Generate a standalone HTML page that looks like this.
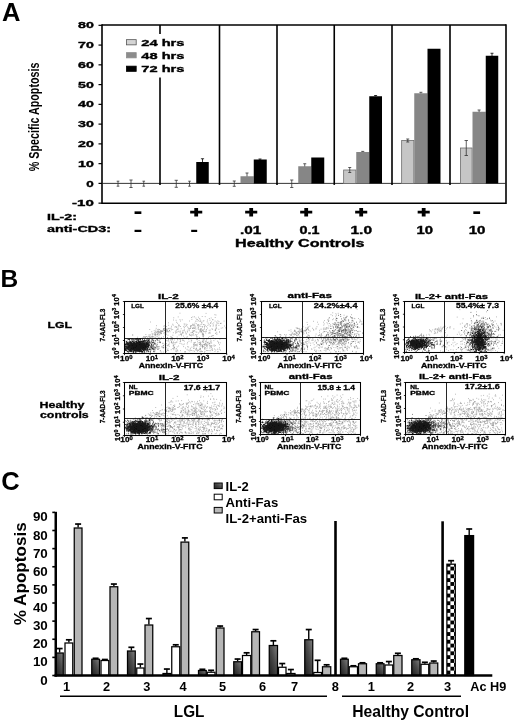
<!DOCTYPE html>
<html lang="en"><head><meta charset="utf-8"><title>Figure</title>
<style>html,body{margin:0;padding:0;background:#fff}svg{display:block}text{font-family:"Liberation Sans", sans-serif;}</style></head><body>
<svg width="520" height="722" viewBox="0 0 520 722">
<defs>
<linearGradient id="dk" x1="0" y1="1" x2="1" y2="0"><stop offset="0" stop-color="#1c1c1c"/><stop offset="0.55" stop-color="#4a4a4a"/><stop offset="1" stop-color="#808080"/></linearGradient>
<pattern id="chk" x="446.7" y="562.8" width="7.4" height="7.7" patternUnits="userSpaceOnUse"><rect x="0" y="0" width="7.4" height="7.7" fill="#fff"/><rect x="0" y="0" width="3.7" height="3.85" fill="#000"/><rect x="3.7" y="3.85" width="3.7" height="3.85" fill="#000"/></pattern>
<filter id="soft" x="-2%" y="-2%" width="104%" height="104%"><feGaussianBlur stdDeviation="0.45"/></filter>
<filter id="soft2" x="-2%" y="-2%" width="104%" height="104%"><feGaussianBlur stdDeviation="0.25"/></filter>
</defs>
<rect x="0" y="0" width="520" height="722" fill="#fff"/>
<g id="panelA" filter="url(#soft)">
<line x1="102.00" y1="24.25" x2="102.00" y2="203.95" stroke="#000" stroke-width="1.6" />
<line x1="102.00" y1="25.00" x2="506.00" y2="25.00" stroke="#000" stroke-width="1.4" />
<line x1="506.00" y1="24.30" x2="506.00" y2="203.95" stroke="#000" stroke-width="1.6" />
<line x1="102.00" y1="203.20" x2="506.00" y2="203.20" stroke="#000" stroke-width="1.6" />
<line x1="102.00" y1="183.40" x2="506.00" y2="183.40" stroke="#222" stroke-width="0.9" />
<line x1="98.50" y1="203.16" x2="102.00" y2="203.16" stroke="#000" stroke-width="1.2" />
<text x="72.00" y="206.26" font-size="9" font-weight="bold" fill="#000" textLength="21.80" lengthAdjust="spacingAndGlyphs" stroke="#000" stroke-width="0.35" >-10</text>
<line x1="98.50" y1="183.40" x2="102.00" y2="183.40" stroke="#000" stroke-width="1.2" />
<text x="86.30" y="186.50" font-size="9" font-weight="bold" fill="#000" textLength="7.50" lengthAdjust="spacingAndGlyphs" stroke="#000" stroke-width="0.35" >0</text>
<line x1="98.50" y1="163.64" x2="102.00" y2="163.64" stroke="#000" stroke-width="1.2" />
<text x="78.00" y="166.74" font-size="9" font-weight="bold" fill="#000" textLength="15.80" lengthAdjust="spacingAndGlyphs" stroke="#000" stroke-width="0.35" >10</text>
<line x1="98.50" y1="143.88" x2="102.00" y2="143.88" stroke="#000" stroke-width="1.2" />
<text x="78.00" y="146.98" font-size="9" font-weight="bold" fill="#000" textLength="15.80" lengthAdjust="spacingAndGlyphs" stroke="#000" stroke-width="0.35" >20</text>
<line x1="98.50" y1="124.12" x2="102.00" y2="124.12" stroke="#000" stroke-width="1.2" />
<text x="78.00" y="127.22" font-size="9" font-weight="bold" fill="#000" textLength="15.80" lengthAdjust="spacingAndGlyphs" stroke="#000" stroke-width="0.35" >30</text>
<line x1="98.50" y1="104.36" x2="102.00" y2="104.36" stroke="#000" stroke-width="1.2" />
<text x="78.00" y="107.46" font-size="9" font-weight="bold" fill="#000" textLength="15.80" lengthAdjust="spacingAndGlyphs" stroke="#000" stroke-width="0.35" >40</text>
<line x1="98.50" y1="84.60" x2="102.00" y2="84.60" stroke="#000" stroke-width="1.2" />
<text x="78.00" y="87.70" font-size="9" font-weight="bold" fill="#000" textLength="15.80" lengthAdjust="spacingAndGlyphs" stroke="#000" stroke-width="0.35" >50</text>
<line x1="98.50" y1="64.84" x2="102.00" y2="64.84" stroke="#000" stroke-width="1.2" />
<text x="78.00" y="67.94" font-size="9" font-weight="bold" fill="#000" textLength="15.80" lengthAdjust="spacingAndGlyphs" stroke="#000" stroke-width="0.35" >60</text>
<line x1="98.50" y1="45.08" x2="102.00" y2="45.08" stroke="#000" stroke-width="1.2" />
<text x="78.00" y="48.18" font-size="9" font-weight="bold" fill="#000" textLength="15.80" lengthAdjust="spacingAndGlyphs" stroke="#000" stroke-width="0.35" >70</text>
<line x1="98.50" y1="25.32" x2="102.00" y2="25.32" stroke="#000" stroke-width="1.2" />
<text x="78.00" y="28.42" font-size="9" font-weight="bold" fill="#000" textLength="15.80" lengthAdjust="spacingAndGlyphs" stroke="#000" stroke-width="0.35" >80</text>
<line x1="160.00" y1="25.00" x2="160.00" y2="184.90" stroke="#000" stroke-width="1.6" />
<line x1="219.50" y1="25.00" x2="219.50" y2="184.90" stroke="#000" stroke-width="1.6" />
<line x1="277.00" y1="25.00" x2="277.00" y2="184.90" stroke="#000" stroke-width="1.6" />
<line x1="334.25" y1="25.00" x2="334.25" y2="184.90" stroke="#000" stroke-width="1.6" />
<line x1="392.00" y1="25.00" x2="392.00" y2="184.90" stroke="#000" stroke-width="1.6" />
<line x1="450.00" y1="25.00" x2="450.00" y2="184.90" stroke="#000" stroke-width="1.6" />
<rect x="121.00" y="34.00" width="69.00" height="43.50" fill="#fff"/>
<rect x="126.50" y="39.65" width="9.70" height="5.20" fill="#d4d4d4" stroke="#555" stroke-width="0.8"/>
<text x="141.30" y="45.65" font-size="9.5" font-weight="bold" fill="#000" textLength="43.20" lengthAdjust="spacingAndGlyphs" stroke="#000" stroke-width="0.35" >24 hrs</text>
<rect x="126.50" y="52.65" width="9.70" height="5.20" fill="#8c8c8c" stroke="#8c8c8c" stroke-width="0.8"/>
<text x="141.30" y="58.65" font-size="9.5" font-weight="bold" fill="#000" textLength="43.20" lengthAdjust="spacingAndGlyphs" stroke="#000" stroke-width="0.35" >48 hrs</text>
<rect x="126.50" y="66.15" width="9.70" height="5.20" fill="#000" stroke="#000" stroke-width="0.8"/>
<text x="141.30" y="72.15" font-size="9.5" font-weight="bold" fill="#000" textLength="43.20" lengthAdjust="spacingAndGlyphs" stroke="#000" stroke-width="0.35" >72 hrs</text>
<line x1="118.00" y1="181.20" x2="118.00" y2="186.20" stroke="#333" stroke-width="0.8" />
<line x1="116.70" y1="181.20" x2="119.30" y2="181.20" stroke="#333" stroke-width="0.8" />
<line x1="116.70" y1="186.20" x2="119.30" y2="186.20" stroke="#333" stroke-width="0.8" />
<line x1="131.00" y1="180.00" x2="131.00" y2="187.50" stroke="#333" stroke-width="0.8" />
<line x1="129.40" y1="180.00" x2="132.60" y2="180.00" stroke="#333" stroke-width="0.8" />
<line x1="129.40" y1="187.50" x2="132.60" y2="187.50" stroke="#333" stroke-width="0.8" />
<line x1="143.75" y1="181.20" x2="143.75" y2="186.20" stroke="#333" stroke-width="0.8" />
<line x1="142.45" y1="181.20" x2="145.05" y2="181.20" stroke="#333" stroke-width="0.8" />
<line x1="142.45" y1="186.20" x2="145.05" y2="186.20" stroke="#333" stroke-width="0.8" />
<line x1="176.25" y1="180.30" x2="176.25" y2="187.30" stroke="#333" stroke-width="0.8" />
<line x1="174.65" y1="180.30" x2="177.85" y2="180.30" stroke="#333" stroke-width="0.8" />
<line x1="174.65" y1="187.30" x2="177.85" y2="187.30" stroke="#333" stroke-width="0.8" />
<line x1="189.50" y1="181.20" x2="189.50" y2="186.20" stroke="#333" stroke-width="0.8" />
<line x1="188.20" y1="181.20" x2="190.80" y2="181.20" stroke="#333" stroke-width="0.8" />
<line x1="188.20" y1="186.20" x2="190.80" y2="186.20" stroke="#333" stroke-width="0.8" />
<line x1="202.50" y1="158.75" x2="202.50" y2="163.00" stroke="#000" stroke-width="0.8" />
<line x1="200.90" y1="158.75" x2="204.10" y2="158.75" stroke="#000" stroke-width="0.8" />
<rect x="196.25" y="162.00" width="12.50" height="21.40" fill="#000"/>
<line x1="234.25" y1="181.00" x2="234.25" y2="186.30" stroke="#333" stroke-width="0.8" />
<line x1="232.75" y1="181.00" x2="235.75" y2="181.00" stroke="#333" stroke-width="0.8" />
<line x1="232.75" y1="186.30" x2="235.75" y2="186.30" stroke="#333" stroke-width="0.8" />
<line x1="247.00" y1="173.00" x2="247.00" y2="177.00" stroke="#333" stroke-width="0.8" />
<line x1="245.50" y1="173.00" x2="248.50" y2="173.00" stroke="#333" stroke-width="0.8" />
<rect x="240.50" y="176.25" width="13.25" height="7.15" fill="#868686"/>
<rect x="253.75" y="159.50" width="13.00" height="23.90" fill="#000"/>
<line x1="260.00" y1="159.00" x2="260.00" y2="160.00" stroke="#000" stroke-width="0.8" />
<line x1="258.50" y1="159.00" x2="261.50" y2="159.00" stroke="#000" stroke-width="0.8" />
<line x1="291.75" y1="180.00" x2="291.75" y2="187.50" stroke="#333" stroke-width="0.8" />
<line x1="290.15" y1="180.00" x2="293.35" y2="180.00" stroke="#333" stroke-width="0.8" />
<line x1="290.15" y1="187.50" x2="293.35" y2="187.50" stroke="#333" stroke-width="0.8" />
<line x1="304.75" y1="163.75" x2="304.75" y2="167.00" stroke="#333" stroke-width="0.8" />
<line x1="303.25" y1="163.75" x2="306.25" y2="163.75" stroke="#333" stroke-width="0.8" />
<rect x="298.25" y="166.25" width="13.00" height="17.15" fill="#868686"/>
<rect x="311.25" y="157.50" width="13.00" height="25.90" fill="#000"/>
<rect x="343.65" y="170.00" width="12.20" height="13.40" fill="#c6c6c6" stroke="#6e6e6e" stroke-width="0.8"/>
<line x1="349.75" y1="167.50" x2="349.75" y2="172.50" stroke="#333" stroke-width="0.8" />
<line x1="348.25" y1="167.50" x2="351.25" y2="167.50" stroke="#333" stroke-width="0.8" />
<line x1="348.25" y1="172.50" x2="351.25" y2="172.50" stroke="#333" stroke-width="0.8" />
<rect x="356.25" y="152.00" width="13.00" height="31.40" fill="#868686"/>
<line x1="362.75" y1="151.40" x2="362.75" y2="152.00" stroke="#333" stroke-width="0.8" />
<line x1="361.25" y1="151.40" x2="364.25" y2="151.40" stroke="#333" stroke-width="0.8" />
<rect x="369.25" y="96.25" width="12.75" height="87.15" fill="#000"/>
<line x1="375.60" y1="95.50" x2="375.60" y2="96.30" stroke="#000" stroke-width="0.8" />
<line x1="374.10" y1="95.50" x2="377.10" y2="95.50" stroke="#000" stroke-width="0.8" />
<rect x="401.65" y="140.50" width="12.20" height="42.90" fill="#c6c6c6" stroke="#6e6e6e" stroke-width="0.8"/>
<line x1="407.75" y1="139.00" x2="407.75" y2="142.00" stroke="#333" stroke-width="0.8" />
<line x1="406.25" y1="139.00" x2="409.25" y2="139.00" stroke="#333" stroke-width="0.8" />
<line x1="406.25" y1="142.00" x2="409.25" y2="142.00" stroke="#333" stroke-width="0.8" />
<rect x="414.25" y="93.25" width="13.25" height="90.15" fill="#868686"/>
<line x1="420.90" y1="92.30" x2="420.90" y2="93.30" stroke="#333" stroke-width="0.8" />
<line x1="419.40" y1="92.30" x2="422.40" y2="92.30" stroke="#333" stroke-width="0.8" />
<rect x="427.50" y="48.75" width="13.00" height="134.65" fill="#000"/>
<rect x="460.40" y="148.00" width="11.70" height="35.40" fill="#c6c6c6" stroke="#6e6e6e" stroke-width="0.8"/>
<line x1="466.25" y1="140.50" x2="466.25" y2="155.50" stroke="#333" stroke-width="0.8" />
<line x1="464.55" y1="140.50" x2="467.95" y2="140.50" stroke="#333" stroke-width="0.8" />
<line x1="464.55" y1="155.50" x2="467.95" y2="155.50" stroke="#333" stroke-width="0.8" />
<rect x="472.50" y="111.75" width="13.25" height="71.65" fill="#868686"/>
<line x1="479.10" y1="110.00" x2="479.10" y2="112.00" stroke="#333" stroke-width="0.8" />
<line x1="477.60" y1="110.00" x2="480.60" y2="110.00" stroke="#333" stroke-width="0.8" />
<rect x="485.75" y="55.75" width="12.50" height="127.65" fill="#000"/>
<line x1="492.00" y1="53.25" x2="492.00" y2="56.00" stroke="#000" stroke-width="0.8" />
<line x1="490.50" y1="53.25" x2="493.50" y2="53.25" stroke="#000" stroke-width="0.8" />
<text transform="translate(39.30,171.20) rotate(-90)" x="0" y="0" font-size="15.2" font-weight="bold" fill="#000" textLength="108.60" lengthAdjust="spacingAndGlyphs">% Specific Apoptosis</text>
<text x="47.00" y="220.00" font-size="9.2" font-weight="bold" fill="#000" textLength="30.00" lengthAdjust="spacingAndGlyphs" stroke="#000" stroke-width="0.35" >IL-2:</text>
<text x="47.00" y="232.00" font-size="9.2" font-weight="bold" fill="#000" textLength="64.00" lengthAdjust="spacingAndGlyphs" stroke="#000" stroke-width="0.35" >anti-CD3:</text>
<text transform="translate(134.50,212.60) scale(1.679,1.339)" x="-0.64" y="4.32" font-size="16" font-weight="bold">-</text>
<text transform="translate(196.25,212.00) scale(1.325,0.925)" x="-4.67" y="5.60" font-size="16" font-weight="bold" stroke="#000" stroke-width="1.1">+</text>
<text transform="translate(251.25,212.00) scale(1.325,0.925)" x="-4.67" y="5.60" font-size="16" font-weight="bold" stroke="#000" stroke-width="1.1">+</text>
<text transform="translate(306.25,212.00) scale(1.325,0.925)" x="-4.67" y="5.60" font-size="16" font-weight="bold" stroke="#000" stroke-width="1.1">+</text>
<text transform="translate(361.25,212.00) scale(1.325,0.925)" x="-4.67" y="5.60" font-size="16" font-weight="bold" stroke="#000" stroke-width="1.1">+</text>
<text transform="translate(423.75,212.00) scale(1.325,0.925)" x="-4.67" y="5.60" font-size="16" font-weight="bold" stroke="#000" stroke-width="1.1">+</text>
<text transform="translate(473.20,212.60) scale(1.679,1.339)" x="-0.64" y="4.32" font-size="16" font-weight="bold">-</text>
<text transform="translate(134.50,230.80) scale(1.679,1.161)" x="-0.64" y="4.32" font-size="16" font-weight="bold">-</text>
<text transform="translate(191.20,230.80) scale(1.482,1.161)" x="-0.64" y="4.32" font-size="16" font-weight="bold">-</text>
<text x="240.00" y="233.80" font-size="10.3" font-weight="bold" fill="#000" textLength="21.30" lengthAdjust="spacingAndGlyphs" stroke="#000" stroke-width="0.35" >.01</text>
<text x="299.50" y="233.80" font-size="10.3" font-weight="bold" fill="#000" textLength="20.00" lengthAdjust="spacingAndGlyphs" stroke="#000" stroke-width="0.35" >0.1</text>
<text x="350.50" y="233.80" font-size="10.3" font-weight="bold" fill="#000" textLength="21.50" lengthAdjust="spacingAndGlyphs" stroke="#000" stroke-width="0.35" >1.0</text>
<text x="416.50" y="233.80" font-size="10.3" font-weight="bold" fill="#000" textLength="16.50" lengthAdjust="spacingAndGlyphs" stroke="#000" stroke-width="0.35" >10</text>
<text x="468.75" y="233.80" font-size="10.3" font-weight="bold" fill="#000" textLength="16.75" lengthAdjust="spacingAndGlyphs" stroke="#000" stroke-width="0.35" >10</text>
<text x="235.00" y="247.00" font-size="11.5" font-weight="bold" fill="#000" textLength="129.50" lengthAdjust="spacingAndGlyphs" stroke="#000" stroke-width="0.35" >Healthy Controls</text>
</g>
<text x="2" y="20.6" font-size="25.5" font-weight="bold">A</text>
<text x="0.5" y="287" font-size="24.5" font-weight="bold">B</text>
<g id="panelB" filter="url(#soft)">
<text x="47.50" y="328.00" font-size="8.5" font-weight="bold" fill="#000" textLength="24.50" lengthAdjust="spacingAndGlyphs" stroke="#000" stroke-width="0.3" >LGL</text>
<text x="39.50" y="407.50" font-size="8.7" font-weight="bold" fill="#000" textLength="45.00" lengthAdjust="spacingAndGlyphs" stroke="#000" stroke-width="0.3" >Healthy</text>
<text x="40.00" y="417.50" font-size="8.7" font-weight="bold" fill="#000" textLength="48.75" lengthAdjust="spacingAndGlyphs" stroke="#000" stroke-width="0.3" >controls</text>
<path d="M163.0 328.9h0.75M165.6 332.7h0.75M161.2 331.3h0.75M171.0 326.3h0.75M164.0 328.3h0.75M157.0 329.8h0.75M156.7 332.2h0.75M167.1 331.7h0.75M154.6 337.2h0.75M161.3 331.7h0.75M157.5 331.7h0.75M143.7 336.9h0.75M160.7 332.3h0.75M166.1 326.6h0.75M156.6 334.9h0.75M155.4 333.2h0.75M164.5 332.4h0.75M167.7 331.8h0.75M166.4 329.2h0.75M163.6 326.5h0.75M158.0 332.9h0.75M163.7 329.1h0.75M149.7 334.5h0.75M154.3 332.4h0.75M170.5 328.7h0.75M159.2 331.9h0.75M137.3 337.2h0.75M164.3 330.4h0.75M157.0 334.4h0.75M158.6 329.9h0.75M159.2 329.5h0.75M140.2 338.9h0.75M162.1 331.4h0.75M147.3 337.2h0.75M169.6 331.7h0.75M152.4 336.5h0.75M155.8 332.0h0.75M164.6 334.8h0.75M171.2 329.8h0.75M155.5 330.0h0.75M159.4 334.7h0.75M155.1 334.9h0.75M152.2 335.0h0.75M166.7 329.3h0.75M149.4 329.5h0.75M152.4 334.0h0.75M160.2 330.4h0.75M157.5 331.8h0.75M176.2 327.0h0.75M151.7 333.8h0.75M153.8 334.6h0.75M161.4 330.9h0.75M157.8 330.9h0.75M158.5 335.1h0.75M166.7 330.7h0.75M169.3 330.5h0.75M164.4 330.0h0.75M139.3 341.2h0.75M151.4 331.7h0.75M145.5 334.5h0.75M168.4 328.5h0.75M165.2 331.5h0.75M159.9 331.6h0.75M163.2 329.6h0.75M158.4 333.9h0.75M155.7 332.5h0.75M147.2 338.4h0.75M156.8 334.1h0.75M157.9 338.0h0.75M157.4 333.3h0.75M166.0 334.2h0.75M157.6 331.7h0.75M163.8 328.4h0.75M168.1 331.7h0.75M164.9 331.2h0.75M153.8 330.7h0.75M155.2 335.2h0.75M156.9 334.7h0.75M167.7 328.9h0.75M170.8 327.9h0.75M155.3 331.3h0.75M155.0 334.5h0.75M158.7 332.3h0.75M169.2 330.5h0.75M162.7 331.2h0.75M150.3 337.1h0.75M158.3 331.7h0.75M162.5 330.3h0.75M160.4 332.8h0.75M163.3 333.1h0.75M149.7 335.8h0.75M149.0 336.4h0.75M154.2 334.9h0.75M159.7 333.7h0.75M156.7 336.5h0.75M161.1 333.5h0.75M163.1 336.8h0.75M153.8 333.4h0.75M141.2 338.4h0.75M160.7 331.6h0.75M148.5 335.0h0.75M161.1 333.6h0.75M165.7 330.4h0.75M160.1 332.9h0.75M164.2 330.5h0.75M168.8 328.4h0.75M155.2 333.9h0.75M167.1 330.6h0.75M163.0 330.0h0.75M158.6 337.2h0.75M198.2 327.6h0.75M198.2 333.0h0.75M215.9 327.6h0.75M185.8 334.1h0.75M201.9 334.4h0.75M179.6 319.7h0.75M217.5 320.9h0.75M218.4 323.3h0.75M168.3 325.3h0.75M216.4 324.1h0.75M163.8 325.5h0.75M218.5 329.3h0.75M198.1 324.5h0.75M194.6 323.1h0.75M197.3 325.0h0.75M197.4 337.0h0.75M179.6 313.2h0.75M200.6 321.2h0.75M214.8 317.5h0.75M205.1 331.3h0.75M196.3 339.6h0.75M192.9 324.3h0.75M160.4 331.7h0.75M209.6 320.2h0.75M180.7 334.2h0.75M165.1 337.9h0.75M204.8 316.6h0.75M177.1 323.3h0.75M203.0 331.0h0.75M194.9 327.9h0.75M212.2 319.7h0.75M204.5 326.1h0.75M193.0 331.6h0.75M175.7 320.3h0.75M188.6 341.3h0.75M200.4 328.7h0.75M198.9 318.6h0.75M194.2 330.7h0.75M183.7 330.4h0.75M188.7 328.6h0.75M181.8 319.8h0.75M210.3 322.9h0.75M207.8 323.2h0.75M207.2 320.0h0.75M212.7 319.7h0.75M187.7 329.9h0.75M183.9 324.9h0.75M209.8 330.1h0.75M205.7 313.4h0.75M216.5 333.1h0.75M194.5 325.6h0.75M195.4 326.9h0.75M215.5 325.1h0.75M177.8 326.9h0.75M194.4 328.5h0.75M186.6 337.7h0.75M175.4 333.2h0.75M178.3 346.0h0.75M215.0 333.5h0.75M184.0 327.3h0.75M156.1 325.7h0.75M183.3 326.7h0.75M188.0 328.1h0.75M197.7 328.8h0.75M165.8 340.4h0.75M195.3 321.2h0.75M187.0 327.0h0.75M198.7 326.0h0.75M212.4 335.6h0.75M200.5 329.5h0.75M190.8 334.3h0.75M183.0 336.1h0.75M177.8 316.9h0.75M224.2 326.0h0.75M208.3 333.1h0.75M149.9 344.0h0.75M198.3 320.7h0.75M195.3 334.7h0.75M192.0 335.0h0.75M172.9 332.7h0.75M189.4 334.2h0.75M181.3 335.7h0.75M199.9 320.8h0.75M192.5 316.9h0.75M169.2 330.3h0.75M176.8 331.9h0.75M197.7 325.7h0.75M214.7 330.1h0.75M175.4 332.2h0.75M200.9 332.4h0.75M210.8 318.0h0.75M172.4 329.5h0.75M212.8 337.9h0.75M199.4 329.9h0.75M172.4 324.2h0.75M199.6 331.3h0.75M203.4 324.6h0.75M208.7 324.4h0.75M202.8 334.8h0.75M189.0 329.0h0.75M150.1 322.0h0.75M189.7 335.5h0.75M165.9 330.8h0.75M196.5 332.2h0.75M189.1 334.7h0.75M183.6 330.9h0.75M185.3 326.3h0.75M193.6 328.5h0.75M202.7 321.2h0.75M206.0 326.7h0.75M193.3 333.8h0.75M190.3 325.8h0.75M199.8 330.8h0.75M173.9 339.9h0.75M201.3 322.7h0.75M202.2 336.0h0.75M192.5 328.1h0.75M180.8 328.7h0.75M192.7 334.0h0.75M175.4 326.7h0.75M201.9 333.3h0.75M179.2 325.8h0.75M205.9 329.7h0.75M222.4 327.8h0.75M178.5 324.8h0.75M192.9 327.4h0.75M196.6 334.5h0.75M176.3 332.2h0.75M219.3 332.1h0.75M218.5 325.4h0.75M177.6 329.5h0.75M205.4 333.0h0.75M160.7 330.7h0.75M177.6 328.5h0.75M164.4 333.1h0.75M182.6 338.7h0.75M192.0 328.5h0.75M186.8 336.6h0.75M199.5 338.4h0.75M204.8 325.3h0.75M223.7 321.1h0.75M201.9 326.9h0.75M196.5 336.3h0.75M220.2 323.5h0.75M191.3 335.9h0.75M220.5 323.4h0.75M176.4 327.3h0.75M202.6 330.6h0.75M185.6 324.1h0.75M194.0 324.8h0.75M191.0 325.5h0.75M209.7 333.2h0.75M178.3 331.3h0.75M209.7 326.0h0.75M216.5 334.5h0.75M204.1 331.6h0.75M197.7 327.0h0.75M180.0 332.0h0.75M176.8 329.6h0.75M182.0 333.2h0.75M199.6 332.2h0.75M214.9 330.5h0.75M210.0 325.9h0.75M178.9 332.0h0.75M182.2 332.5h0.75M191.5 319.4h0.75M189.1 321.0h0.75M203.4 335.5h0.75M157.9 329.3h0.75M163.2 328.5h0.75M213.0 325.0h0.75M192.5 330.8h0.75M200.3 330.2h0.75M187.2 332.0h0.75M215.3 330.4h0.75M202.3 334.7h0.75M184.3 337.9h0.75M192.7 325.6h0.75M201.0 331.2h0.75M206.1 329.9h0.75M202.1 326.8h0.75M204.9 341.8h0.75M174.6 327.0h0.75M194.2 316.8h0.75M192.1 332.5h0.75M220.6 323.3h0.75M192.7 325.3h0.75M183.0 332.8h0.75M186.9 331.2h0.75M208.8 330.3h0.75M201.3 331.2h0.75M210.5 342.7h0.75M192.6 328.4h0.75M178.3 325.3h0.75M199.6 321.5h0.75M211.8 323.8h0.75M193.5 335.3h0.75M192.4 331.9h0.75M200.1 331.1h0.75M215.3 329.6h0.75M192.0 324.3h0.75M196.0 335.7h0.75M202.8 329.4h0.75M162.2 331.5h0.75M178.7 335.0h0.75M203.9 326.5h0.75M191.2 317.5h0.75M202.9 331.7h0.75M199.9 329.3h0.75M159.8 341.5h0.75M173.2 320.0h0.75M193.0 330.8h0.75M186.7 324.6h0.75M196.5 319.5h0.75M208.9 318.5h0.75M194.1 327.1h0.75M188.9 330.7h0.75M167.6 335.2h0.75M180.4 334.3h0.75M215.9 325.4h0.75M216.1 322.1h0.75M211.1 321.9h0.75M186.1 325.6h0.75M190.7 332.5h0.75M215.6 315.0h0.75M180.0 321.1h0.75M209.6 332.2h0.75M200.5 326.5h0.75M202.1 330.3h0.75M174.9 331.1h0.75M210.1 323.2h0.75M206.8 321.8h0.75M179.8 331.0h0.75M201.6 322.9h0.75M198.6 325.9h0.75M198.2 317.2h0.75M160.2 332.9h0.75M166.0 331.4h0.75M172.5 335.2h0.75M199.7 319.2h0.75M203.6 324.5h0.75M212.7 326.1h0.75M182.0 331.0h0.75M201.5 329.9h0.75M185.1 332.1h0.75M171.4 337.3h0.75M194.5 331.1h0.75M196.6 321.2h0.75M200.9 328.7h0.75M176.8 337.0h0.75M202.1 333.2h0.75M203.0 334.2h0.75M198.2 329.2h0.75M212.3 329.4h0.75M189.9 328.3h0.75M196.9 319.6h0.75M191.8 332.4h0.75M190.8 326.9h0.75M199.8 324.8h0.75M173.4 317.8h0.75M176.2 330.2h0.75M202.8 340.6h0.75M196.2 337.1h0.75M203.5 320.6h0.75M212.9 335.5h0.75M218.6 321.6h0.75M190.1 326.9h0.75M220.8 328.2h0.75M195.7 332.1h0.75M214.9 338.9h0.75M219.2 331.9h0.75M211.2 336.3h0.75M180.7 333.9h0.75M209.5 336.5h0.75M205.9 331.5h0.75M216.3 328.6h0.75M204.0 329.1h0.75M225.3 327.9h0.75M195.6 318.1h0.75M197.3 325.1h0.75M183.9 329.2h0.75M158.9 332.3h0.75M185.4 338.4h0.75M172.8 325.2h0.75M203.0 336.6h0.75M190.0 328.3h0.75M177.4 339.9h0.75M183.8 323.8h0.75M211.6 336.1h0.75M215.7 326.7h0.75M204.2 327.8h0.75M202.8 333.8h0.75M181.1 334.4h0.75M190.0 326.2h0.75M176.1 322.3h0.75M185.7 333.3h0.75M207.5 325.4h0.75M190.5 335.5h0.75M179.6 339.5h0.75M214.7 321.1h0.75M201.4 324.3h0.75M211.6 328.8h0.75M201.8 316.5h0.75M168.3 339.7h0.75M180.2 326.5h0.75M215.4 328.8h0.75M207.0 328.1h0.75M200.9 331.5h0.75M195.6 329.1h0.75M214.5 314.7h0.75M166.3 329.2h0.75M195.9 323.7h0.75M213.4 322.9h0.75M209.2 332.8h0.75M168.1 322.8h0.75M215.8 332.2h0.75M217.1 323.1h0.75M155.8 328.3h0.75M185.0 348.0h0.75M199.9 343.8h0.75M193.9 348.2h0.75M215.1 345.6h0.75M168.1 350.6h0.75M202.8 346.5h0.75M189.7 349.3h0.75M214.2 349.0h0.75M206.4 338.8h0.75M183.0 340.3h0.75M217.7 351.4h0.75M173.0 346.9h0.75M196.9 338.9h0.75M186.7 349.3h0.75M200.4 342.4h0.75M207.1 342.5h0.75M195.1 344.5h0.75M219.0 347.8h0.75M209.5 348.2h0.75M204.2 348.4h0.75M180.3 340.6h0.75M196.8 350.4h0.75M208.8 343.4h0.75M172.7 345.9h0.75M213.5 340.6h0.75M205.8 340.8h0.75M182.2 339.0h0.75M181.4 343.9h0.75M175.3 342.8h0.75M217.1 341.2h0.75M182.7 344.7h0.75M171.0 342.1h0.75M186.8 343.9h0.75M218.2 342.2h0.75M176.3 351.7h0.75M189.9 350.6h0.75M200.2 349.7h0.75M182.4 340.5h0.75M206.8 345.2h0.75M195.9 348.1h0.75M206.6 342.3h0.75M185.0 351.8h0.75M194.2 342.5h0.75M199.8 342.1h0.75M207.6 338.9h0.75M210.7 346.6h0.75M184.5 352.1h0.75M179.7 341.8h0.75M168.9 346.3h0.75M206.6 348.3h0.75M187.8 350.2h0.75M171.1 342.8h0.75M200.0 348.5h0.75M207.8 344.1h0.75M217.0 349.2h0.75M183.9 344.0h0.75M209.5 343.4h0.75M175.3 351.1h0.75M194.4 345.9h0.75M202.0 351.5h0.75M172.4 343.2h0.75M168.6 344.3h0.75M192.7 350.8h0.75M201.9 346.8h0.75M187.3 346.7h0.75M180.1 350.7h0.75M208.6 350.6h0.75M173.4 348.2h0.75M206.7 345.6h0.75M214.6 351.5h0.75M206.1 350.4h0.75M200.8 351.2h0.75M172.3 348.6h0.75M203.9 347.3h0.75M180.2 339.2h0.75M198.3 350.4h0.75M180.1 341.4h0.75M177.4 339.6h0.75M209.3 343.6h0.75M203.6 339.3h0.75M211.3 343.0h0.75M165.2 347.5h0.75M172.7 342.3h0.75M168.3 344.8h0.75M195.7 350.2h0.75M167.2 350.5h0.75M171.1 341.6h0.75M199.8 343.3h0.75M183.3 346.6h0.75M177.0 350.0h0.75M176.5 350.6h0.75M209.7 346.2h0.75M166.7 349.7h0.75M166.6 345.7h0.75M188.4 339.2h0.75M199.8 348.9h0.75M197.3 344.2h0.75M193.3 346.9h0.75M177.5 351.0h0.75M220.0 350.1h0.75M218.1 343.1h0.75M219.5 339.3h0.75M191.4 340.2h0.75M190.1 348.3h0.75M204.1 345.0h0.75M183.9 341.1h0.75M187.3 342.4h0.75M175.7 349.1h0.75M193.5 344.7h0.75M175.9 348.6h0.75M175.9 342.2h0.75M196.0 348.6h0.75M218.8 349.3h0.75M217.4 351.8h0.75M204.9 348.9h0.75M168.5 341.3h0.75M165.7 351.0h0.75M204.9 347.5h0.75M179.6 343.5h0.75M174.0 347.6h0.75M219.8 342.8h0.75M167.4 340.8h0.75M184.6 351.5h0.75M209.4 345.0h0.75M170.6 339.8h0.75M173.5 349.7h0.75M215.4 350.0h0.75M191.3 350.4h0.75M172.1 339.9h0.75M196.1 345.7h0.75M176.6 342.0h0.75M166.2 351.7h0.75M204.2 352.2h0.75M219.2 344.7h0.75M205.5 343.9h0.75M209.9 350.7h0.75M172.4 338.4h0.75M176.8 346.9h0.75M185.9 338.4h0.75M210.9 349.8h0.75M190.6 338.9h0.75M214.1 346.1h0.75M168.9 343.0h0.75M199.5 351.3h0.75M193.5 344.5h0.75M203.2 342.5h0.75M206.9 346.9h0.75M208.4 342.2h0.75M204.8 343.3h0.75M194.3 343.7h0.75M195.8 349.1h0.75M199.9 344.5h0.75M201.7 346.1h0.75M196.0 344.4h0.75M197.6 349.9h0.75M202.6 339.9h0.75M199.6 348.7h0.75M210.3 339.0h0.75M200.2 345.7h0.75M203.3 334.7h0.75M202.8 341.5h0.75M204.6 351.3h0.75M195.4 349.3h0.75M204.6 344.6h0.75M212.7 345.9h0.75M203.8 344.7h0.75M202.8 336.9h0.75M203.7 339.9h0.75M209.8 347.1h0.75M206.1 346.3h0.75M202.7 344.4h0.75M202.1 346.6h0.75M211.3 345.9h0.75M206.2 339.1h0.75M205.7 341.4h0.75M210.3 341.2h0.75M212.3 350.0h0.75M213.7 344.9h0.75M191.5 347.2h0.75M193.7 345.1h0.75M193.1 348.5h0.75M203.8 344.5h0.75M197.2 345.8h0.75M201.4 344.7h0.75M202.0 345.8h0.75M207.3 350.6h0.75M199.0 344.5h0.75M199.6 346.9h0.75M199.4 344.3h0.75M209.5 345.6h0.75M200.4 343.8h0.75M200.5 351.8h0.75M203.6 346.3h0.75M198.6 342.8h0.75M202.3 347.0h0.75M188.9 351.0h0.75M202.1 345.4h0.75M204.6 344.2h0.75M199.1 349.4h0.75M195.4 345.5h0.75M195.1 342.4h0.75M194.0 351.3h0.75M200.8 351.2h0.75M211.8 348.5h0.75M201.7 345.9h0.75M197.1 351.2h0.75M190.8 342.0h0.75M208.1 337.4h0.75M193.2 343.0h0.75M201.9 342.0h0.75M198.9 342.5h0.75M207.4 342.9h0.75M210.7 345.6h0.75M211.3 347.5h0.75M202.1 347.8h0.75M202.0 341.4h0.75M206.3 344.7h0.75M212.2 350.2h0.75M197.1 339.7h0.75M204.0 349.1h0.75M210.9 341.0h0.75M198.7 340.5h0.75M197.0 341.8h0.75M205.5 345.4h0.75M193.5 346.0h0.75M188.3 347.0h0.75M190.9 340.7h0.75M205.5 343.7h0.75M199.0 337.6h0.75M206.6 344.8h0.75M151.1 343.6h0.75M165.9 347.8h0.75M167.6 348.9h0.75M153.2 340.6h0.75M146.8 347.8h0.75M152.1 340.6h0.75M174.0 347.0h0.75M163.1 347.2h0.75M163.3 347.9h0.75M154.8 337.3h0.75M147.9 336.5h0.75M156.5 338.6h0.75M149.3 344.5h0.75M174.1 347.8h0.75M153.9 349.1h0.75M151.2 337.9h0.75M154.8 343.1h0.75M166.0 343.7h0.75M167.1 337.8h0.75M173.0 342.0h0.75M170.1 336.8h0.75M170.0 340.0h0.75M170.8 349.7h0.75M165.5 340.9h0.75M146.3 339.4h0.75M172.2 338.9h0.75M165.1 346.1h0.75M165.2 339.3h0.75M150.2 337.9h0.75M174.5 342.7h0.75M164.9 345.8h0.75M152.5 337.3h0.75M146.4 350.5h0.75M156.5 348.4h0.75M150.0 349.4h0.75M153.3 342.4h0.75M161.2 338.1h0.75M153.2 349.6h0.75M154.3 342.6h0.75M168.2 340.0h0.75M151.6 339.9h0.75M157.1 342.4h0.75M164.6 344.2h0.75M171.2 337.1h0.75M165.2 350.3h0.75M152.8 336.7h0.75M158.7 338.2h0.75M159.3 348.2h0.75M148.7 338.2h0.75M159.9 339.2h0.75M152.7 343.6h0.75M149.4 337.4h0.75M156.5 344.1h0.75M173.2 345.5h0.75M148.1 340.0h0.75M167.6 345.7h0.75M170.9 338.1h0.75M173.4 345.0h0.75M153.0 339.1h0.75M171.1 339.8h0.75M148.4 340.7h0.75M172.8 344.0h0.75M167.2 337.5h0.75M159.1 341.6h0.75M152.0 347.4h0.75M156.5 338.3h0.75M174.5 344.3h0.75M151.2 336.4h0.75M164.9 344.9h0.75M146.7 344.1h0.75M167.5 345.2h0.75M152.8 344.6h0.75M163.5 347.2h0.75M150.2 349.7h0.75M173.4 348.7h0.75M170.9 342.4h0.75M172.2 339.3h0.75M152.6 346.3h0.75M172.1 337.6h0.75M152.3 336.9h0.75M158.7 338.6h0.75M151.6 348.8h0.75M162.9 352.0h0.75M157.7 347.6h0.75M146.4 352.1h0.75M152.8 344.2h0.75M160.8 352.1h0.75" stroke="#8c8c8c" stroke-width="0.75" fill="none" opacity="1.0"/>
<path d="M138.3 346.8h0.85M137.6 348.8h0.85M162.5 343.3h0.85M143.5 336.9h0.85M153.7 351.8h0.85M146.3 342.6h0.85M158.8 340.2h0.85M147.1 350.6h0.85M129.9 345.5h0.85M144.3 350.1h0.85M135.0 347.9h0.85M139.6 344.8h0.85M136.0 351.2h0.85M152.0 339.4h0.85M137.9 342.2h0.85M143.7 343.4h0.85M144.1 349.0h0.85M145.0 341.9h0.85M129.6 338.7h0.85M160.9 338.1h0.85M159.9 342.4h0.85M135.4 348.7h0.85M130.5 346.1h0.85M138.7 343.5h0.85M162.9 345.4h0.85M146.1 344.0h0.85M141.9 346.9h0.85M137.7 349.5h0.85M140.9 346.2h0.85M142.4 349.5h0.85M139.4 346.0h0.85M145.3 350.2h0.85M143.4 342.1h0.85M145.3 347.4h0.85M133.8 347.3h0.85M146.7 339.7h0.85M137.3 348.8h0.85M142.9 345.2h0.85M129.5 349.5h0.85M137.9 343.6h0.85M126.5 350.7h0.85M144.2 350.9h0.85M140.1 344.8h0.85M137.8 350.3h0.85M138.4 347.5h0.85M142.5 349.4h0.85M137.1 346.2h0.85M149.1 348.2h0.85M144.7 348.2h0.85M146.8 339.0h0.85M134.8 344.6h0.85M129.3 342.7h0.85M151.7 345.6h0.85M127.1 345.1h0.85M151.1 341.4h0.85M131.9 340.8h0.85M126.1 342.2h0.85M158.8 342.4h0.85M150.8 347.1h0.85M126.1 347.1h0.85M136.9 346.5h0.85M146.3 346.5h0.85M141.0 344.4h0.85M138.9 338.9h0.85M143.6 345.7h0.85M136.8 348.8h0.85M153.1 345.1h0.85M127.7 348.9h0.85M137.6 348.0h0.85M150.4 350.4h0.85M144.2 345.4h0.85M126.6 346.5h0.85M138.0 344.2h0.85M134.3 345.2h0.85M147.2 341.7h0.85M138.9 348.6h0.85M130.6 343.8h0.85M145.9 350.0h0.85M140.6 349.7h0.85M139.6 342.6h0.85M151.0 344.2h0.85M162.7 347.7h0.85M139.0 342.0h0.85M132.3 349.3h0.85M135.1 346.6h0.85M127.6 344.7h0.85M144.7 345.7h0.85M156.9 346.8h0.85M152.7 347.9h0.85M141.1 346.8h0.85M133.8 348.8h0.85M135.4 349.2h0.85M133.2 348.5h0.85M127.9 347.2h0.85M147.2 346.9h0.85M133.8 341.0h0.85M149.3 342.1h0.85M151.1 347.0h0.85M137.6 341.8h0.85M133.2 346.9h0.85M143.0 344.6h0.85M136.1 342.4h0.85M137.1 343.4h0.85M150.2 343.1h0.85M146.7 350.5h0.85M125.2 349.2h0.85M144.0 340.0h0.85M126.2 345.5h0.85M130.0 349.5h0.85M136.1 343.6h0.85M141.2 341.4h0.85M128.7 343.1h0.85M148.8 345.6h0.85M144.0 348.3h0.85M127.6 348.2h0.85M132.3 335.0h0.85M133.9 339.8h0.85M141.1 344.9h0.85M146.8 349.0h0.85M148.6 344.3h0.85M144.8 344.2h0.85M155.6 347.2h0.85M144.4 343.0h0.85M129.5 341.8h0.85M144.5 350.3h0.85M139.7 350.7h0.85M142.6 352.2h0.85M143.7 347.1h0.85M139.7 346.4h0.85M140.4 351.4h0.85M129.2 348.4h0.85M131.0 348.9h0.85M127.9 345.3h0.85M137.5 349.5h0.85M128.7 343.4h0.85M132.1 344.1h0.85M127.6 346.6h0.85M142.6 343.0h0.85M147.4 341.8h0.85M135.1 347.2h0.85M147.1 347.6h0.85M150.1 352.1h0.85M145.9 346.6h0.85M142.3 346.0h0.85M127.7 348.5h0.85M154.9 348.9h0.85M126.4 347.2h0.85M134.9 350.0h0.85M130.2 342.4h0.85M133.3 350.8h0.85M147.3 343.6h0.85M128.1 343.6h0.85M150.8 346.8h0.85M125.3 344.7h0.85M148.6 345.9h0.85M143.4 343.0h0.85M158.5 346.5h0.85M133.9 346.5h0.85M151.7 349.5h0.85M147.4 348.6h0.85M143.8 343.3h0.85M126.6 347.0h0.85M141.5 343.8h0.85M129.2 350.5h0.85M137.0 347.2h0.85M133.4 340.7h0.85M147.9 345.8h0.85M146.6 350.3h0.85M135.6 348.6h0.85M125.7 346.6h0.85M137.5 340.5h0.85M129.4 348.4h0.85M143.4 344.4h0.85M139.3 348.1h0.85M144.2 344.6h0.85M140.5 345.9h0.85M140.2 349.6h0.85M136.9 349.9h0.85M143.0 343.3h0.85M157.4 340.5h0.85M130.5 348.3h0.85M129.1 345.4h0.85M159.8 342.6h0.85M125.4 344.7h0.85M139.0 345.0h0.85M157.7 348.8h0.85M130.1 338.7h0.85M142.6 349.2h0.85M139.5 342.2h0.85M137.5 349.0h0.85M131.2 338.9h0.85M139.3 343.7h0.85M134.8 344.4h0.85M147.6 346.5h0.85M134.2 347.1h0.85M128.9 347.4h0.85M135.8 345.5h0.85M153.0 340.5h0.85M134.3 344.0h0.85M142.1 343.1h0.85M139.2 345.1h0.85M134.1 349.5h0.85M148.2 340.7h0.85M146.0 344.2h0.85M141.8 347.9h0.85M141.1 348.3h0.85M128.9 341.5h0.85M145.7 336.5h0.85M131.5 346.6h0.85M133.7 345.8h0.85M136.8 349.3h0.85M150.3 348.9h0.85M133.7 344.2h0.85M133.4 348.1h0.85M142.7 347.5h0.85M125.9 347.1h0.85M136.7 339.5h0.85M127.5 342.8h0.85M130.7 347.9h0.85M135.6 345.3h0.85M148.1 338.9h0.85M132.3 341.2h0.85M149.5 342.6h0.85M131.0 342.9h0.85M137.9 344.8h0.85M136.2 343.7h0.85M150.7 341.3h0.85M136.8 342.3h0.85M154.2 349.3h0.85M154.5 350.9h0.85M144.7 343.6h0.85M154.6 344.5h0.85M134.0 349.6h0.85M125.9 343.7h0.85M136.5 349.2h0.85M144.6 349.0h0.85M134.4 348.2h0.85M156.4 339.7h0.85M141.9 345.8h0.85M142.7 343.8h0.85M135.6 342.6h0.85M147.8 345.0h0.85M134.7 348.3h0.85M146.3 350.3h0.85M137.3 349.2h0.85M138.7 346.1h0.85M148.2 351.8h0.85M138.3 345.1h0.85M147.7 350.2h0.85M146.5 345.0h0.85M153.2 341.1h0.85M144.8 337.4h0.85M139.0 347.9h0.85M135.4 350.1h0.85M138.1 344.5h0.85M149.4 347.2h0.85M153.6 348.2h0.85M131.0 349.7h0.85M154.3 343.6h0.85M127.7 344.6h0.85M143.9 346.9h0.85M139.2 347.4h0.85M138.1 341.2h0.85M153.7 346.7h0.85M131.3 347.3h0.85M148.2 344.5h0.85M133.0 345.0h0.85M136.9 344.3h0.85M134.8 352.1h0.85M139.6 343.2h0.85M127.7 347.0h0.85M148.0 347.3h0.85M132.3 338.6h0.85M147.5 341.9h0.85M129.3 340.2h0.85M146.6 340.8h0.85M129.5 349.1h0.85M145.5 343.8h0.85M134.4 344.3h0.85M146.9 344.7h0.85M144.3 340.1h0.85M134.1 345.8h0.85M133.7 342.4h0.85M134.8 344.5h0.85M140.4 345.9h0.85M156.5 345.9h0.85M153.4 342.5h0.85M152.4 346.3h0.85M148.4 342.9h0.85M132.8 345.4h0.85M137.7 346.4h0.85M152.2 348.5h0.85M134.4 348.9h0.85M139.1 344.0h0.85M156.8 344.3h0.85M143.7 348.8h0.85M144.9 340.8h0.85M148.0 339.8h0.85M147.4 351.6h0.85M135.9 344.1h0.85M143.2 349.2h0.85M130.0 342.8h0.85M125.5 341.2h0.85M139.2 345.0h0.85M125.5 349.0h0.85M146.0 351.6h0.85M159.9 350.8h0.85M126.7 346.5h0.85M143.9 343.2h0.85M135.3 347.1h0.85M136.6 348.5h0.85M141.5 345.5h0.85M132.7 345.5h0.85M138.9 346.5h0.85M141.5 350.2h0.85M135.8 340.6h0.85M128.1 347.0h0.85M133.0 342.8h0.85M144.2 347.4h0.85M135.8 342.2h0.85M130.0 348.0h0.85M140.5 344.6h0.85M133.8 342.4h0.85M161.6 346.9h0.85M153.2 347.0h0.85M140.4 347.4h0.85M132.6 351.3h0.85M135.0 341.4h0.85M150.5 347.1h0.85M133.7 349.1h0.85M126.9 339.8h0.85M145.7 345.5h0.85M134.0 350.3h0.85M152.3 342.7h0.85M129.4 342.8h0.85M127.8 344.2h0.85M129.3 348.2h0.85M144.0 344.4h0.85M149.2 349.0h0.85M154.9 340.5h0.85M138.9 344.4h0.85M131.2 347.1h0.85M125.7 346.4h0.85M141.0 341.0h0.85M148.6 342.7h0.85M135.4 347.2h0.85M135.6 345.5h0.85M139.2 348.2h0.85M155.8 345.9h0.85M154.8 341.1h0.85M134.0 344.9h0.85M152.1 347.0h0.85M139.9 348.3h0.85M139.6 347.5h0.85M139.8 342.3h0.85M153.0 345.2h0.85M141.0 342.9h0.85M136.1 350.4h0.85M150.2 349.3h0.85M148.4 349.5h0.85M157.5 349.5h0.85M147.6 340.1h0.85M129.3 340.9h0.85M146.3 343.2h0.85M138.4 347.4h0.85M135.2 347.5h0.85M157.1 339.6h0.85M135.4 349.1h0.85" stroke="#555" stroke-width="0.85" fill="none" opacity="1.0"/>
<path d="M135.0 345.1h1.0M135.1 347.5h1.0M130.9 347.4h1.0M143.2 344.9h1.0M142.7 345.4h1.0M138.9 345.8h1.0M126.5 344.4h1.0M139.5 344.9h1.0M131.2 348.2h1.0M138.3 346.5h1.0M139.6 348.3h1.0M138.4 345.2h1.0M132.5 341.6h1.0M139.8 342.8h1.0M132.8 348.9h1.0M134.4 346.9h1.0M140.3 345.6h1.0M133.8 349.5h1.0M133.4 343.0h1.0M131.7 346.0h1.0M139.1 350.8h1.0M136.8 342.6h1.0M135.9 349.0h1.0M139.5 346.5h1.0M127.7 344.5h1.0M140.5 343.5h1.0M145.1 345.0h1.0M137.2 350.3h1.0M140.2 348.1h1.0M133.8 350.4h1.0M130.7 348.4h1.0M144.2 352.2h1.0M127.8 346.2h1.0M145.2 344.3h1.0M138.6 348.6h1.0M129.8 343.9h1.0M143.1 345.7h1.0M138.0 345.1h1.0M146.1 344.2h1.0M139.6 344.7h1.0M127.1 343.1h1.0M142.2 344.6h1.0M141.6 351.7h1.0M135.4 343.5h1.0M128.6 342.1h1.0M139.8 346.8h1.0M138.4 344.5h1.0M137.2 343.0h1.0M132.5 347.9h1.0M142.8 346.1h1.0M131.2 343.9h1.0M145.3 347.4h1.0M128.2 347.3h1.0M135.6 347.4h1.0M144.9 349.1h1.0M144.1 349.9h1.0M131.8 344.9h1.0M143.3 343.6h1.0M138.6 346.0h1.0M137.4 344.7h1.0M135.4 345.7h1.0M139.9 346.3h1.0M141.1 344.6h1.0M148.6 344.9h1.0M133.9 347.7h1.0M136.4 343.7h1.0M134.5 345.4h1.0M129.8 346.1h1.0M138.9 345.7h1.0M133.9 344.7h1.0M138.2 348.0h1.0M151.1 344.7h1.0M133.2 347.0h1.0M135.1 346.8h1.0M142.6 349.7h1.0M136.1 343.7h1.0M141.6 341.8h1.0M126.3 348.1h1.0M134.5 344.7h1.0M143.0 350.5h1.0M140.6 350.7h1.0M137.6 342.9h1.0M135.6 346.0h1.0M141.3 345.8h1.0M136.0 341.9h1.0M142.8 347.1h1.0M153.0 349.1h1.0M142.0 347.0h1.0M137.3 344.4h1.0M137.8 344.5h1.0M127.3 351.5h1.0M140.2 349.2h1.0M130.3 351.2h1.0M144.1 343.9h1.0M145.3 348.9h1.0M136.5 349.9h1.0M141.1 341.5h1.0M131.2 342.1h1.0M142.4 346.7h1.0M135.9 348.3h1.0M138.9 345.2h1.0M145.5 349.1h1.0M143.3 341.7h1.0M145.2 346.6h1.0M132.0 343.7h1.0M137.2 346.1h1.0M145.0 346.9h1.0M125.4 344.6h1.0M138.4 348.2h1.0M136.4 344.0h1.0M137.0 342.5h1.0M136.1 343.4h1.0M145.4 341.2h1.0M132.5 344.1h1.0M125.2 350.3h1.0M129.1 346.9h1.0M135.3 346.6h1.0M133.0 346.0h1.0M147.2 345.8h1.0M139.7 343.4h1.0M135.3 350.3h1.0M133.2 343.5h1.0M126.6 348.8h1.0M142.5 343.8h1.0M136.5 344.1h1.0M137.5 350.0h1.0M127.1 348.9h1.0M142.0 347.9h1.0M131.1 349.1h1.0M127.3 347.3h1.0M129.4 345.8h1.0M140.8 347.1h1.0M138.2 347.8h1.0M141.2 344.0h1.0M140.5 345.3h1.0M144.5 344.1h1.0M141.9 342.3h1.0M134.7 348.0h1.0M148.1 351.2h1.0M139.3 339.1h1.0M130.9 344.7h1.0M147.8 346.3h1.0M139.9 343.6h1.0M131.1 347.0h1.0M138.3 343.9h1.0M136.3 347.1h1.0M130.4 347.9h1.0M141.9 345.9h1.0M131.4 349.3h1.0M152.5 342.3h1.0M140.2 344.9h1.0M146.6 344.7h1.0M136.1 345.0h1.0M124.8 344.0h1.0M138.4 348.5h1.0M144.5 340.7h1.0M128.1 348.9h1.0M138.2 345.9h1.0M134.1 349.5h1.0M149.2 342.8h1.0M129.3 350.9h1.0M146.7 343.0h1.0M147.4 343.5h1.0M131.3 346.0h1.0M136.1 345.0h1.0M132.1 347.1h1.0M139.3 345.2h1.0M140.3 345.7h1.0M134.6 344.2h1.0M136.8 349.0h1.0M132.7 346.7h1.0M135.8 346.1h1.0M136.5 346.0h1.0M135.7 350.3h1.0M139.0 343.2h1.0M139.1 346.9h1.0M139.2 349.2h1.0M125.1 346.9h1.0M130.9 344.6h1.0M130.3 342.1h1.0M134.2 350.7h1.0M131.9 345.2h1.0M139.5 345.8h1.0M145.4 343.9h1.0M136.4 344.7h1.0M146.4 343.1h1.0M142.6 349.4h1.0M135.6 344.4h1.0M134.7 343.4h1.0M140.1 343.6h1.0M135.2 339.0h1.0M143.9 346.8h1.0M137.0 338.7h1.0M134.4 344.0h1.0M142.4 346.2h1.0M129.5 346.3h1.0M138.7 343.0h1.0M141.2 346.2h1.0M141.6 344.6h1.0M137.7 346.3h1.0M135.0 344.5h1.0M130.2 348.7h1.0M136.5 350.9h1.0M132.4 345.0h1.0M139.9 346.5h1.0M135.1 350.8h1.0M147.5 344.4h1.0M143.1 348.8h1.0M135.4 352.0h1.0M141.2 343.5h1.0M125.1 347.2h1.0M140.3 351.6h1.0M125.5 350.2h1.0M132.7 350.9h1.0M136.7 345.7h1.0M140.3 344.2h1.0M145.5 342.6h1.0M128.6 348.4h1.0M130.1 350.0h1.0M136.0 346.5h1.0M139.4 351.1h1.0M129.1 346.9h1.0M135.3 347.5h1.0M136.1 348.8h1.0M140.7 345.2h1.0M136.0 348.5h1.0M130.6 346.7h1.0M127.5 346.4h1.0M137.4 350.6h1.0M135.0 347.5h1.0M139.3 344.5h1.0M136.3 349.1h1.0M135.6 346.7h1.0M140.9 345.4h1.0M132.2 350.8h1.0M134.3 348.8h1.0M129.8 347.2h1.0M133.6 346.3h1.0M139.6 347.6h1.0M150.4 346.8h1.0M143.1 345.8h1.0M132.0 346.0h1.0M140.1 339.3h1.0M138.4 342.6h1.0M141.1 343.4h1.0M139.6 346.8h1.0M139.6 349.6h1.0M143.6 349.2h1.0M138.0 340.1h1.0M135.2 346.5h1.0M143.5 346.1h1.0M131.7 346.0h1.0M140.0 344.2h1.0M131.9 341.5h1.0M146.5 345.9h1.0M138.1 347.7h1.0M145.0 348.2h1.0M140.5 347.7h1.0M132.3 344.6h1.0M144.5 346.1h1.0M132.4 344.3h1.0M136.2 345.6h1.0M145.6 342.7h1.0M133.4 339.8h1.0M136.5 344.2h1.0M132.6 346.8h1.0M126.0 341.7h1.0M144.7 349.7h1.0M127.5 351.8h1.0M143.6 347.5h1.0M136.1 347.5h1.0M135.8 349.8h1.0M136.6 350.8h1.0M136.1 345.6h1.0M139.3 347.1h1.0M131.1 346.3h1.0M133.6 342.0h1.0M141.1 346.6h1.0M133.7 348.7h1.0M130.9 347.8h1.0M138.3 344.9h1.0M139.9 340.1h1.0M132.3 346.7h1.0M153.3 351.2h1.0M133.4 346.2h1.0M137.4 345.2h1.0M135.1 345.5h1.0M136.8 344.2h1.0M125.1 349.7h1.0M136.5 349.6h1.0M130.2 344.9h1.0M132.6 344.8h1.0M141.0 345.4h1.0M139.5 346.7h1.0M128.0 347.0h1.0M139.2 347.9h1.0M135.9 344.3h1.0M131.2 344.9h1.0M147.7 347.6h1.0M137.4 346.9h1.0M145.7 345.1h1.0M141.9 348.3h1.0M136.4 346.5h1.0M125.8 342.7h1.0M141.9 351.5h1.0M141.0 346.7h1.0M139.2 345.3h1.0M127.5 347.6h1.0M145.5 347.8h1.0M130.4 350.9h1.0M129.2 345.9h1.0M146.7 344.7h1.0M138.0 339.8h1.0M133.4 348.7h1.0M139.7 344.7h1.0M130.4 350.3h1.0M138.2 345.7h1.0M128.7 347.5h1.0M133.2 345.3h1.0M135.8 346.8h1.0M134.4 343.5h1.0M144.8 347.2h1.0M141.6 348.5h1.0M136.9 344.2h1.0M145.6 347.2h1.0M136.1 345.9h1.0M127.5 346.9h1.0M132.4 345.6h1.0M136.7 345.7h1.0M133.2 344.0h1.0M134.9 348.4h1.0M139.4 351.0h1.0M132.4 346.8h1.0M141.6 346.7h1.0M138.4 348.4h1.0M138.3 341.4h1.0M132.4 339.6h1.0M132.6 346.6h1.0M137.5 343.4h1.0M140.1 343.9h1.0M140.2 338.5h1.0M137.7 345.7h1.0M142.1 345.1h1.0M146.5 349.7h1.0M141.4 347.4h1.0M142.0 339.8h1.0M136.5 347.3h1.0M133.5 349.2h1.0M132.7 344.8h1.0M136.7 346.3h1.0M135.5 343.8h1.0M139.5 346.8h1.0M140.5 346.8h1.0M129.6 342.5h1.0M139.3 349.2h1.0M143.0 345.1h1.0M127.1 342.2h1.0M138.5 343.7h1.0M137.7 346.9h1.0M127.2 344.1h1.0M136.7 347.3h1.0M138.6 346.2h1.0M140.6 347.4h1.0M134.0 344.6h1.0M144.5 347.2h1.0M135.8 341.8h1.0M134.5 344.4h1.0M146.6 345.9h1.0M143.9 348.3h1.0M137.7 346.7h1.0M137.2 343.1h1.0M150.8 347.8h1.0M133.0 345.2h1.0M130.2 345.3h1.0M139.9 347.2h1.0M139.7 351.0h1.0M141.1 350.9h1.0M132.3 348.4h1.0M134.1 344.1h1.0M137.0 347.7h1.0M139.8 341.6h1.0M136.5 345.4h1.0M143.9 345.3h1.0M128.8 339.5h1.0M149.8 351.8h1.0M136.3 345.3h1.0M142.3 344.2h1.0M134.9 349.7h1.0M137.1 343.4h1.0M130.0 349.9h1.0M134.9 347.9h1.0M139.2 348.5h1.0M131.2 347.9h1.0M136.2 348.5h1.0M136.6 344.3h1.0M143.6 341.1h1.0M131.8 348.0h1.0M132.2 346.8h1.0M139.6 350.4h1.0M139.3 346.4h1.0M125.5 346.2h1.0M143.7 351.7h1.0M141.3 345.6h1.0M139.3 345.0h1.0M144.3 346.8h1.0M141.7 347.5h1.0M140.9 348.7h1.0M135.8 341.4h1.0M139.2 346.8h1.0M129.6 349.2h1.0M137.7 343.6h1.0M139.1 344.8h1.0M136.2 342.5h1.0M134.2 348.3h1.0M141.8 346.0h1.0M134.8 348.3h1.0M135.0 344.7h1.0M138.6 350.0h1.0M139.1 345.8h1.0M130.5 344.5h1.0M134.8 347.6h1.0M141.3 342.3h1.0M132.4 345.4h1.0M131.2 339.9h1.0M133.5 343.1h1.0M132.6 344.3h1.0M133.9 345.1h1.0M135.9 348.5h1.0M149.4 345.6h1.0M126.6 344.4h1.0M126.2 343.6h1.0M133.0 346.2h1.0M144.1 345.8h1.0M128.2 352.0h1.0M143.6 343.9h1.0M131.6 344.2h1.0M139.5 344.4h1.0M141.9 344.0h1.0M137.5 345.0h1.0M151.8 348.6h1.0M134.5 346.5h1.0M141.8 347.6h1.0M143.4 348.5h1.0M138.1 348.0h1.0M137.4 348.5h1.0M126.9 343.7h1.0M138.3 348.1h1.0M137.7 343.5h1.0M130.6 347.1h1.0M139.7 344.8h1.0M144.0 345.1h1.0M136.6 347.3h1.0M138.1 347.7h1.0M130.4 349.0h1.0M132.9 348.5h1.0M129.5 344.9h1.0M128.6 344.9h1.0M130.4 345.8h1.0M144.7 345.5h1.0M132.1 346.6h1.0M137.4 351.6h1.0M132.9 346.2h1.0M133.7 346.4h1.0M140.9 344.0h1.0M141.9 344.5h1.0M134.8 346.6h1.0M134.9 347.5h1.0M135.4 351.7h1.0M134.5 346.7h1.0M130.7 346.9h1.0M139.6 346.8h1.0M135.3 352.0h1.0M142.4 338.3h1.0M139.6 347.2h1.0M141.6 345.1h1.0M136.6 348.2h1.0M140.3 347.8h1.0M137.8 348.0h1.0M137.7 344.2h1.0M131.2 346.9h1.0M140.2 345.9h1.0M144.0 340.2h1.0M141.6 341.7h1.0M142.0 343.8h1.0M132.8 348.8h1.0M141.8 349.0h1.0M125.6 350.0h1.0M151.5 340.0h1.0M132.4 348.9h1.0M137.9 348.7h1.0M144.4 346.3h1.0M130.0 342.9h1.0M133.0 346.0h1.0M136.4 347.4h1.0M138.4 348.5h1.0M128.9 349.1h1.0M136.4 346.3h1.0M139.8 346.0h1.0M131.7 348.9h1.0M139.4 344.8h1.0M135.8 347.1h1.0M142.1 346.2h1.0M140.9 344.5h1.0M137.8 342.5h1.0M133.1 347.7h1.0M131.7 349.1h1.0M145.8 340.8h1.0M136.6 344.8h1.0M143.6 343.7h1.0M143.7 349.9h1.0M132.7 345.3h1.0M145.1 345.8h1.0M131.3 347.8h1.0M132.5 349.3h1.0M145.5 347.9h1.0M136.6 340.0h1.0M143.6 345.1h1.0M132.8 345.5h1.0M146.2 344.2h1.0M144.1 345.8h1.0M139.6 346.9h1.0M139.1 342.5h1.0M127.9 347.1h1.0M137.9 348.1h1.0M134.7 344.2h1.0M148.5 344.0h1.0M138.5 351.0h1.0M148.1 345.7h1.0M136.3 349.8h1.0M136.2 349.8h1.0M136.9 345.1h1.0M136.7 345.7h1.0M131.4 342.5h1.0M132.6 352.1h1.0M135.4 348.8h1.0M130.4 347.9h1.0M138.2 349.9h1.0M135.7 342.3h1.0M140.6 346.7h1.0M137.3 346.8h1.0M136.2 344.3h1.0M136.4 349.2h1.0M140.4 348.1h1.0M137.4 340.0h1.0M130.2 350.2h1.0M125.2 346.0h1.0M127.6 345.1h1.0M131.8 347.8h1.0M138.5 342.4h1.0M148.1 342.8h1.0M137.4 345.9h1.0M147.3 341.7h1.0M134.6 345.2h1.0M138.2 346.3h1.0M133.5 350.6h1.0M133.3 351.3h1.0M143.8 344.5h1.0M129.3 342.7h1.0M141.9 351.9h1.0M147.5 343.5h1.0M148.9 349.6h1.0M139.7 345.1h1.0M137.7 345.9h1.0M142.8 350.6h1.0M129.0 351.0h1.0M133.2 348.5h1.0M138.7 345.6h1.0M136.7 348.5h1.0M133.8 343.8h1.0M141.1 346.0h1.0M134.6 342.0h1.0M132.9 344.7h1.0M143.4 346.9h1.0M141.5 349.6h1.0M142.6 345.6h1.0M127.0 345.0h1.0M131.1 342.9h1.0M132.4 347.2h1.0M138.2 347.4h1.0M138.1 348.1h1.0M140.5 346.3h1.0M143.5 346.1h1.0M125.8 346.7h1.0M139.3 343.2h1.0M130.0 342.2h1.0M135.5 339.4h1.0M135.6 344.5h1.0M134.3 349.9h1.0M143.1 343.5h1.0M145.7 343.5h1.0M133.1 351.6h1.0M132.6 348.7h1.0M131.6 345.0h1.0M138.5 347.2h1.0M137.5 346.9h1.0M137.8 344.2h1.0M142.3 348.3h1.0M127.5 342.7h1.0M137.2 343.2h1.0M126.6 348.0h1.0M136.7 350.8h1.0M133.4 344.5h1.0M143.0 341.4h1.0M131.3 350.9h1.0M139.6 343.5h1.0M137.7 350.3h1.0M141.2 343.9h1.0M139.8 347.8h1.0M138.3 344.0h1.0M133.1 352.2h1.0M138.5 345.0h1.0M136.6 343.8h1.0M133.0 346.9h1.0M134.7 344.9h1.0M146.1 346.8h1.0M148.8 341.3h1.0M141.2 344.5h1.0M147.1 346.5h1.0M135.8 349.7h1.0M139.3 342.3h1.0M139.7 345.1h1.0M135.3 346.1h1.0M127.9 343.8h1.0M134.0 349.9h1.0M132.0 349.2h1.0M141.6 343.1h1.0M128.4 344.1h1.0M141.8 348.0h1.0M127.6 349.2h1.0M132.7 345.7h1.0M137.9 351.0h1.0M141.9 349.8h1.0M132.3 349.3h1.0M133.2 342.8h1.0M141.6 344.4h1.0M138.4 351.0h1.0M133.4 348.3h1.0M130.6 345.3h1.0M132.1 348.8h1.0M140.1 342.3h1.0M137.5 349.4h1.0M143.8 345.2h1.0M142.1 341.8h1.0M143.3 347.5h1.0M142.8 343.9h1.0M127.3 348.2h1.0M128.0 347.3h1.0M140.0 349.5h1.0M138.8 342.0h1.0M128.6 343.7h1.0M148.9 339.9h1.0M135.2 345.8h1.0M135.6 343.6h1.0M142.7 345.9h1.0M128.3 344.7h1.0M133.7 344.8h1.0M138.1 341.6h1.0M143.3 347.5h1.0M138.6 341.1h1.0M133.3 345.4h1.0M143.6 342.4h1.0M139.6 350.3h1.0M128.9 346.1h1.0M138.8 338.8h1.0M131.3 343.4h1.0M141.1 351.3h1.0M131.6 346.2h1.0M133.5 347.1h1.0M139.3 348.8h1.0M139.3 348.3h1.0M133.2 345.1h1.0M133.1 345.8h1.0M146.1 345.9h1.0M135.6 344.3h1.0M134.3 343.4h1.0M128.8 345.0h1.0M133.4 349.0h1.0M147.1 348.5h1.0M147.0 344.0h1.0M145.2 349.0h1.0M143.7 341.8h1.0M135.8 346.9h1.0M151.2 345.2h1.0M134.0 348.5h1.0M139.2 345.4h1.0M137.6 341.3h1.0M134.5 345.2h1.0M145.3 349.1h1.0M142.7 340.7h1.0M128.4 350.2h1.0M139.2 351.9h1.0M139.5 342.0h1.0M126.8 347.9h1.0M125.0 344.7h1.0M132.1 347.5h1.0M136.8 344.9h1.0M134.4 346.6h1.0M133.2 346.3h1.0M129.5 346.7h1.0M124.9 348.5h1.0M148.0 345.7h1.0M128.9 346.1h1.0M130.7 351.7h1.0M132.1 344.5h1.0M138.8 346.7h1.0M130.9 350.0h1.0M144.6 345.4h1.0M128.3 339.5h1.0M129.6 347.1h1.0M137.8 346.9h1.0M134.8 350.7h1.0M130.2 341.8h1.0M132.0 344.2h1.0M126.3 347.8h1.0M138.1 343.3h1.0M129.8 345.1h1.0M138.8 348.6h1.0M139.4 349.0h1.0M131.7 346.8h1.0M130.5 351.2h1.0M133.9 344.4h1.0M134.1 342.8h1.0M129.5 350.8h1.0M145.8 344.8h1.0M142.2 348.7h1.0M141.3 345.5h1.0M140.4 346.2h1.0M143.7 348.1h1.0M130.7 351.2h1.0M143.5 348.4h1.0M130.2 349.6h1.0M133.8 350.4h1.0M134.8 348.5h1.0M133.2 349.5h1.0M136.7 347.9h1.0M137.2 345.7h1.0M133.3 349.0h1.0M141.1 351.0h1.0M132.2 347.6h1.0M134.5 343.6h1.0M133.8 343.8h1.0M143.8 344.8h1.0M139.4 346.0h1.0M139.4 350.0h1.0M142.2 347.8h1.0M142.4 345.9h1.0M143.3 346.6h1.0M134.1 345.9h1.0M133.9 348.3h1.0M137.1 346.0h1.0M145.6 345.9h1.0M147.8 340.6h1.0M146.8 342.8h1.0M137.3 346.1h1.0M135.6 348.7h1.0M136.1 348.4h1.0M146.3 344.4h1.0M136.2 347.8h1.0M130.0 350.2h1.0M136.1 338.8h1.0M136.3 347.0h1.0M145.2 345.7h1.0M137.5 347.6h1.0M132.9 342.2h1.0M142.5 341.1h1.0M134.4 346.5h1.0M131.2 343.9h1.0M128.1 345.2h1.0M143.1 342.0h1.0M130.9 343.5h1.0M132.2 349.0h1.0M128.6 343.4h1.0M146.4 347.8h1.0M131.9 347.7h1.0M151.5 342.7h1.0M133.2 352.0h1.0M132.5 343.2h1.0M147.7 346.7h1.0M132.4 348.2h1.0M125.2 344.4h1.0M130.0 343.7h1.0M126.3 350.8h1.0M138.2 348.7h1.0M141.2 346.2h1.0M129.5 345.0h1.0M141.6 352.0h1.0M147.5 344.5h1.0M141.1 351.8h1.0M132.2 347.8h1.0M143.0 350.5h1.0M135.1 345.5h1.0M126.4 348.8h1.0M139.6 341.6h1.0M140.5 347.2h1.0M129.4 349.6h1.0M132.5 346.3h1.0M136.2 341.5h1.0M138.2 349.6h1.0M145.8 343.2h1.0M137.1 348.6h1.0M125.3 350.1h1.0M142.0 348.6h1.0M128.6 346.3h1.0M138.0 344.6h1.0M140.4 342.1h1.0M131.5 343.8h1.0M130.6 344.7h1.0M137.6 345.7h1.0M142.3 346.3h1.0M143.2 343.6h1.0M137.3 348.2h1.0M132.0 348.3h1.0M135.3 346.6h1.0M154.4 343.7h1.0M141.1 348.8h1.0M132.2 347.7h1.0M137.7 349.5h1.0M146.2 347.7h1.0M136.5 345.7h1.0M137.6 344.6h1.0M138.2 345.9h1.0M125.1 349.2h1.0M138.3 347.0h1.0M131.6 348.5h1.0M147.6 340.8h1.0M136.2 342.7h1.0M133.6 349.3h1.0M133.1 346.1h1.0M154.6 347.6h1.0M136.8 345.7h1.0M136.3 343.7h1.0M147.2 349.7h1.0M137.5 347.2h1.0M138.6 351.0h1.0M139.7 345.8h1.0M134.3 348.9h1.0M128.0 349.7h1.0M140.7 344.7h1.0M136.4 345.0h1.0M132.9 346.5h1.0M136.7 344.8h1.0" stroke="#161616" stroke-width="1.0" fill="none" opacity="1.0"/>
<text x="158.00" y="299.40" font-size="8.1" font-weight="bold" fill="#000" textLength="20.75" lengthAdjust="spacingAndGlyphs" stroke="#000" stroke-width="0.3" >IL-2</text>
<text x="131.20" y="307.85" font-size="6.2" font-weight="bold" fill="#000" textLength="12.80" lengthAdjust="spacingAndGlyphs" stroke="#000" stroke-width="0.3" >LGL</text>
<text x="175.20" y="308.25" font-size="6.9" font-weight="bold" fill="#000" textLength="43.20" lengthAdjust="spacingAndGlyphs" stroke="#000" stroke-width="0.3" >25.6% ±4.4</text>
<text x="120.10" y="361.30" font-size="8.0" font-weight="bold" textLength="12.4" lengthAdjust="spacingAndGlyphs" stroke="#000" stroke-width="0.3">10<tspan dy="-2.6" font-size="5.76">0</tspan></text>
<text x="145.66" y="361.30" font-size="8.0" font-weight="bold" textLength="12.4" lengthAdjust="spacingAndGlyphs" stroke="#000" stroke-width="0.3">10<tspan dy="-2.6" font-size="5.76">1</tspan></text>
<text x="171.22" y="361.30" font-size="8.0" font-weight="bold" textLength="12.4" lengthAdjust="spacingAndGlyphs" stroke="#000" stroke-width="0.3">10<tspan dy="-2.6" font-size="5.76">2</tspan></text>
<text x="196.79" y="361.30" font-size="8.0" font-weight="bold" textLength="12.4" lengthAdjust="spacingAndGlyphs" stroke="#000" stroke-width="0.3">10<tspan dy="-2.6" font-size="5.76">3</tspan></text>
<text x="222.35" y="361.30" font-size="8.0" font-weight="bold" textLength="12.4" lengthAdjust="spacingAndGlyphs" stroke="#000" stroke-width="0.3">10<tspan dy="-2.6" font-size="5.76">4</tspan></text>
<text x="138.75" y="368.00" font-size="7.2" font-weight="bold" fill="#000" textLength="64.25" lengthAdjust="spacingAndGlyphs" stroke="#000" stroke-width="0.3" >Annexin-V-FITC</text>
<text transform="translate(118.60,358.90) rotate(-90)" x="0" y="0" font-size="7.8" font-weight="bold" textLength="11.4" lengthAdjust="spacingAndGlyphs" stroke="#000" stroke-width="0.3">10<tspan dy="-2.4" font-size="5.62">0</tspan></text>
<text transform="translate(118.60,345.61) rotate(-90)" x="0" y="0" font-size="7.8" font-weight="bold" textLength="11.4" lengthAdjust="spacingAndGlyphs" stroke="#000" stroke-width="0.3">10<tspan dy="-2.4" font-size="5.62">1</tspan></text>
<text transform="translate(118.60,332.32) rotate(-90)" x="0" y="0" font-size="7.8" font-weight="bold" textLength="11.4" lengthAdjust="spacingAndGlyphs" stroke="#000" stroke-width="0.3">10<tspan dy="-2.4" font-size="5.62">2</tspan></text>
<text transform="translate(118.60,319.04) rotate(-90)" x="0" y="0" font-size="7.8" font-weight="bold" textLength="11.4" lengthAdjust="spacingAndGlyphs" stroke="#000" stroke-width="0.3">10<tspan dy="-2.4" font-size="5.62">3</tspan></text>
<text transform="translate(118.60,305.75) rotate(-90)" x="0" y="0" font-size="7.8" font-weight="bold" textLength="11.4" lengthAdjust="spacingAndGlyphs" stroke="#000" stroke-width="0.3">10<tspan dy="-2.4" font-size="5.62">4</tspan></text>
<text transform="translate(104.70,341.62) rotate(-90)" x="0" y="0" font-size="6.6" font-weight="bold" fill="#000" textLength="32.80" lengthAdjust="spacingAndGlyphs" stroke="#000" stroke-width="0.3">7-AAD-FL3</text>
<path d="M309.5 326.2h0.75M288.6 330.4h0.75M294.5 331.2h0.75M307.1 324.6h0.75M285.1 337.5h0.75M307.0 328.5h0.75M295.3 338.8h0.75M301.2 331.5h0.75M277.3 331.8h0.75M278.2 338.3h0.75M297.7 331.5h0.75M303.7 331.0h0.75M290.7 334.6h0.75M281.3 338.7h0.75M313.2 329.4h0.75M297.1 328.2h0.75M306.0 329.6h0.75M303.5 331.1h0.75M290.7 331.8h0.75M298.8 328.4h0.75M295.7 333.3h0.75M300.5 331.7h0.75M295.3 334.5h0.75M299.7 330.8h0.75M312.1 328.3h0.75M284.0 334.6h0.75M315.7 328.2h0.75M291.5 334.0h0.75M275.3 338.6h0.75M296.3 335.6h0.75M302.3 332.6h0.75M283.3 337.3h0.75M302.7 326.7h0.75M307.6 329.0h0.75M293.7 333.6h0.75M305.3 331.1h0.75M301.0 329.1h0.75M290.6 335.1h0.75M301.3 331.1h0.75M296.8 333.4h0.75M297.3 328.2h0.75M308.4 332.6h0.75M298.1 331.7h0.75M298.0 334.8h0.75M296.7 332.0h0.75M292.4 332.7h0.75M278.6 340.2h0.75M298.5 331.0h0.75M296.4 333.3h0.75M299.2 329.3h0.75M304.8 330.3h0.75M294.1 330.7h0.75M302.0 329.0h0.75M295.6 334.4h0.75M299.2 332.9h0.75M306.8 327.8h0.75M280.6 335.1h0.75M308.2 327.1h0.75M294.0 334.8h0.75M305.4 327.9h0.75M298.2 334.3h0.75M285.8 334.6h0.75M291.3 335.1h0.75M301.2 328.9h0.75M281.5 337.7h0.75M308.0 329.4h0.75M295.1 331.4h0.75M288.8 336.9h0.75M297.9 328.7h0.75M305.7 329.9h0.75M305.7 330.8h0.75M288.5 337.9h0.75M299.9 329.6h0.75M300.7 331.3h0.75M294.6 330.5h0.75M297.4 335.1h0.75M308.5 330.5h0.75M300.8 331.2h0.75M306.0 329.3h0.75M307.4 329.0h0.75M294.1 334.0h0.75M302.9 332.4h0.75M305.0 330.6h0.75M290.5 335.7h0.75M296.6 328.6h0.75M303.8 330.4h0.75M290.6 329.9h0.75M295.6 332.6h0.75M294.4 330.1h0.75M299.1 332.6h0.75M299.2 333.7h0.75M289.5 334.5h0.75M275.1 335.5h0.75M313.4 330.2h0.75M296.6 335.6h0.75M299.1 331.2h0.75M303.6 333.3h0.75M293.0 334.6h0.75M295.8 327.7h0.75M296.2 332.5h0.75M293.8 331.4h0.75M317.9 324.3h0.75M309.8 331.1h0.75M306.1 329.8h0.75M307.6 327.2h0.75M302.9 334.2h0.75M298.8 332.8h0.75M301.3 331.0h0.75M306.0 333.2h0.75M291.9 333.7h0.75M327.5 323.8h0.75M333.6 341.9h0.75M335.2 325.2h0.75M335.4 338.8h0.75M347.2 324.4h0.75M334.7 335.8h0.75M332.4 312.8h0.75M335.0 319.9h0.75M335.6 330.1h0.75M307.6 334.9h0.75M338.5 335.3h0.75M331.7 344.1h0.75M315.7 334.1h0.75M328.3 334.7h0.75M335.1 337.2h0.75M327.0 319.9h0.75M321.4 338.6h0.75M333.4 342.3h0.75M323.6 327.9h0.75M351.6 330.5h0.75M356.0 337.3h0.75M353.8 318.4h0.75M332.2 319.7h0.75M325.8 343.0h0.75M337.1 339.2h0.75M347.2 340.5h0.75M339.0 347.8h0.75M337.3 325.0h0.75M333.9 331.0h0.75M353.9 339.7h0.75M319.0 334.4h0.75M341.9 334.6h0.75M323.4 325.2h0.75M320.6 336.8h0.75M337.2 327.5h0.75M331.2 340.0h0.75M349.6 332.9h0.75M330.7 334.1h0.75M334.0 331.0h0.75M300.1 337.2h0.75M338.9 340.3h0.75M332.1 315.7h0.75M341.2 335.0h0.75M358.4 334.2h0.75M325.7 329.0h0.75M323.5 340.6h0.75M359.2 343.0h0.75M336.8 332.2h0.75M341.6 343.7h0.75M334.4 335.9h0.75M326.6 327.5h0.75M347.5 332.8h0.75M334.2 335.5h0.75M315.0 340.2h0.75M351.7 320.5h0.75M346.9 350.4h0.75M333.8 343.1h0.75M350.0 344.4h0.75M322.4 343.1h0.75M343.7 326.0h0.75M324.2 320.6h0.75M340.2 339.1h0.75M343.0 332.5h0.75M350.1 329.0h0.75M328.4 328.0h0.75M349.1 339.4h0.75M326.7 340.3h0.75M301.3 332.0h0.75M334.6 323.9h0.75M329.6 333.3h0.75M348.6 324.4h0.75M342.6 340.4h0.75M358.0 318.5h0.75M358.6 327.6h0.75M344.8 327.4h0.75M315.6 329.1h0.75M323.4 331.3h0.75M322.9 329.1h0.75M330.6 314.7h0.75M340.7 328.8h0.75M324.4 336.6h0.75M337.0 335.3h0.75M331.4 340.4h0.75M349.1 334.7h0.75M325.8 331.5h0.75M325.8 335.6h0.75M330.3 340.9h0.75M334.5 339.6h0.75M319.3 332.3h0.75M333.5 344.6h0.75M332.0 332.2h0.75M344.2 329.5h0.75M341.6 328.0h0.75M330.6 339.9h0.75M346.9 335.1h0.75M338.0 328.0h0.75M351.7 322.2h0.75M327.7 336.9h0.75M346.1 343.0h0.75M319.3 330.3h0.75M328.8 341.0h0.75M349.7 327.7h0.75M351.4 334.1h0.75M333.6 336.0h0.75M342.3 348.0h0.75M327.6 328.7h0.75M326.3 334.7h0.75M339.7 328.8h0.75M330.9 342.4h0.75M339.5 334.3h0.75M352.3 339.2h0.75M326.0 340.0h0.75M330.3 331.8h0.75M326.3 336.1h0.75M359.6 319.7h0.75M310.4 343.2h0.75M332.4 323.7h0.75M333.0 318.9h0.75M343.3 321.5h0.75M325.2 336.7h0.75M352.9 327.0h0.75M310.3 338.0h0.75M340.5 327.9h0.75M328.5 320.7h0.75M340.1 321.7h0.75M343.8 331.7h0.75M333.2 342.4h0.75M350.6 325.9h0.75M351.7 334.4h0.75M323.1 337.4h0.75M333.3 333.6h0.75M352.4 338.4h0.75M330.7 328.5h0.75M351.2 314.7h0.75M345.7 338.6h0.75M322.6 340.6h0.75M338.9 330.9h0.75M336.9 337.7h0.75M335.2 333.9h0.75M346.6 331.4h0.75M326.0 343.1h0.75M359.8 331.3h0.75M335.3 333.4h0.75M354.5 333.6h0.75M340.5 334.5h0.75M346.4 339.7h0.75M340.9 324.8h0.75M355.4 326.4h0.75M342.3 320.6h0.75M348.3 321.2h0.75M320.3 343.2h0.75M349.7 333.7h0.75M331.6 340.9h0.75M359.8 339.7h0.75M339.5 343.4h0.75M335.4 316.2h0.75M323.1 322.2h0.75M325.3 347.9h0.75M343.1 340.6h0.75M316.6 326.7h0.75M327.2 342.2h0.75M340.4 334.1h0.75M354.5 330.5h0.75M361.4 321.8h0.75M339.0 328.7h0.75M338.3 344.7h0.75M320.7 329.2h0.75M303.2 342.9h0.75M319.1 335.5h0.75M322.7 332.7h0.75M335.1 336.8h0.75M325.5 351.1h0.75M339.1 342.6h0.75M333.6 330.6h0.75M353.4 326.0h0.75M359.7 341.4h0.75M347.9 320.0h0.75M343.8 340.7h0.75M343.8 336.3h0.75M328.5 325.9h0.75M335.4 341.7h0.75M328.1 319.1h0.75M325.6 329.2h0.75M340.6 323.8h0.75M333.9 340.6h0.75M328.6 341.8h0.75M333.3 323.9h0.75M347.6 333.3h0.75M347.1 329.9h0.75M354.5 318.7h0.75M333.4 333.7h0.75M335.3 324.0h0.75M343.6 326.4h0.75M351.2 336.4h0.75M339.9 322.3h0.75M351.5 325.3h0.75M333.9 336.1h0.75M325.4 336.3h0.75M337.1 343.9h0.75M355.0 336.9h0.75M341.7 328.0h0.75M329.9 347.5h0.75M352.1 328.3h0.75M334.3 324.8h0.75M351.1 338.8h0.75M336.8 346.4h0.75M334.1 322.7h0.75M325.7 328.0h0.75M315.9 337.5h0.75M351.8 318.5h0.75M344.6 326.5h0.75M313.0 321.3h0.75M339.0 330.9h0.75M338.4 337.6h0.75M337.8 333.9h0.75M347.8 326.7h0.75M352.4 327.0h0.75M323.8 323.9h0.75M298.9 336.2h0.75M342.8 336.5h0.75M320.9 338.6h0.75M344.1 326.3h0.75M339.6 327.7h0.75M327.7 338.6h0.75M339.9 342.9h0.75M340.7 335.6h0.75M348.0 339.6h0.75M330.3 338.1h0.75M332.7 341.1h0.75M334.2 343.6h0.75M345.8 327.0h0.75M337.8 334.4h0.75M325.0 341.6h0.75M334.8 340.1h0.75M320.9 333.5h0.75M337.7 336.1h0.75M326.1 334.6h0.75M327.9 337.3h0.75M340.7 327.2h0.75M349.0 336.4h0.75M355.6 339.8h0.75M335.5 323.3h0.75M332.8 336.3h0.75M320.3 335.9h0.75M331.8 339.3h0.75M355.4 337.0h0.75M362.6 324.0h0.75M347.3 336.4h0.75M330.6 348.9h0.75M342.0 334.6h0.75M343.6 337.4h0.75M345.1 343.5h0.75M306.2 332.8h0.75M356.7 333.6h0.75M335.6 344.9h0.75M323.5 329.1h0.75M327.3 334.4h0.75M335.7 318.1h0.75M350.9 341.6h0.75M331.0 342.4h0.75M317.8 340.3h0.75M354.0 330.9h0.75M347.7 332.9h0.75M331.8 333.0h0.75M336.9 318.5h0.75M346.7 347.1h0.75M336.2 315.0h0.75M326.4 328.0h0.75M355.7 334.1h0.75M334.7 336.8h0.75M349.5 331.6h0.75M359.8 321.6h0.75M337.8 313.3h0.75M333.5 338.1h0.75M334.5 340.0h0.75M331.9 334.2h0.75M350.9 343.6h0.75M317.7 341.0h0.75M333.6 330.0h0.75M326.6 322.7h0.75M330.3 335.4h0.75M338.7 324.0h0.75M342.3 332.3h0.75M330.1 332.5h0.75M343.8 335.0h0.75M337.6 347.0h0.75M330.3 324.8h0.75M358.5 331.3h0.75M306.7 322.4h0.75M335.5 313.7h0.75M332.0 326.0h0.75M329.0 323.5h0.75M354.7 339.3h0.75M356.7 309.3h0.75M334.7 342.5h0.75M341.9 335.6h0.75M316.3 343.2h0.75M341.5 344.2h0.75M353.6 327.9h0.75M335.3 322.6h0.75M324.6 329.2h0.75M318.3 337.5h0.75M347.2 336.1h0.75M336.3 328.2h0.75M359.9 320.7h0.75M344.6 334.2h0.75M317.0 322.2h0.75M350.5 332.0h0.75M348.1 329.5h0.75M335.1 333.3h0.75M337.4 324.2h0.75M334.1 337.5h0.75M347.4 327.1h0.75M344.2 330.1h0.75M359.2 322.2h0.75M341.0 334.3h0.75M347.4 346.2h0.75M330.4 339.2h0.75M340.4 335.6h0.75M343.7 315.2h0.75M337.9 335.4h0.75M355.7 324.8h0.75M351.3 322.3h0.75M332.7 338.6h0.75M327.5 333.3h0.75M352.4 339.4h0.75M330.2 344.0h0.75M341.1 341.9h0.75M323.0 339.5h0.75M338.4 342.6h0.75M334.6 324.0h0.75M338.1 332.2h0.75M307.7 338.3h0.75M335.8 338.5h0.75M317.9 335.7h0.75M323.1 338.7h0.75M314.9 336.1h0.75M351.0 338.0h0.75M344.9 347.4h0.75M302.2 340.0h0.75M314.6 341.7h0.75M326.1 340.7h0.75M358.6 348.3h0.75M318.3 347.7h0.75M353.9 338.3h0.75M318.6 350.9h0.75M346.1 341.1h0.75M303.8 349.6h0.75M321.2 341.6h0.75M324.3 348.2h0.75M352.0 351.5h0.75M343.7 338.6h0.75M318.2 335.6h0.75M307.4 341.5h0.75M305.9 343.8h0.75M303.0 346.9h0.75M320.9 339.8h0.75M338.6 341.2h0.75M296.0 350.2h0.75M343.0 350.9h0.75M313.4 340.1h0.75M339.2 338.1h0.75M356.6 346.9h0.75M329.7 336.4h0.75M312.7 342.9h0.75M357.5 338.0h0.75M332.5 336.9h0.75M356.9 348.6h0.75M346.7 348.6h0.75M306.0 339.7h0.75M297.0 345.1h0.75M299.7 338.8h0.75M305.7 351.6h0.75M345.2 340.5h0.75M356.9 338.3h0.75M303.5 342.2h0.75M346.3 337.2h0.75M345.2 345.0h0.75M345.8 341.4h0.75M297.2 337.2h0.75M341.0 344.4h0.75M343.6 339.0h0.75M312.4 339.2h0.75M349.2 347.8h0.75M304.4 348.2h0.75M297.0 343.7h0.75M311.0 348.9h0.75M340.7 347.5h0.75M307.2 336.3h0.75M335.6 347.7h0.75M295.1 350.2h0.75M352.2 341.8h0.75M327.8 346.9h0.75M354.0 346.9h0.75M327.6 349.0h0.75M326.0 336.1h0.75M329.7 342.7h0.75M316.0 342.4h0.75M308.7 341.0h0.75M342.5 351.0h0.75M323.8 350.3h0.75M302.6 344.5h0.75M342.3 349.2h0.75M319.4 338.4h0.75M356.2 346.2h0.75M336.5 341.6h0.75M301.8 345.5h0.75M320.5 351.1h0.75M337.1 348.7h0.75M331.1 348.7h0.75M331.8 346.0h0.75M306.7 337.1h0.75M339.8 348.2h0.75M337.3 340.0h0.75M325.8 348.9h0.75M335.7 351.4h0.75M300.2 349.1h0.75M295.4 346.4h0.75M328.8 336.8h0.75M321.4 347.2h0.75M350.2 336.8h0.75M327.2 349.4h0.75M302.0 351.1h0.75M354.8 341.5h0.75M307.9 338.0h0.75M308.6 342.8h0.75M339.9 351.9h0.75M330.4 352.2h0.75M321.9 347.0h0.75M294.5 342.8h0.75M296.0 337.8h0.75M346.5 337.5h0.75M313.8 344.7h0.75M328.3 336.0h0.75M301.6 347.3h0.75M320.5 337.1h0.75M325.2 342.0h0.75M358.7 336.3h0.75M306.1 336.8h0.75M344.5 337.5h0.75M329.2 341.8h0.75M357.3 347.9h0.75M333.3 340.0h0.75M322.6 344.7h0.75M318.8 345.4h0.75M300.3 342.9h0.75M357.9 342.5h0.75M327.0 348.7h0.75M346.7 348.4h0.75M319.0 348.0h0.75M307.3 346.3h0.75M295.5 338.9h0.75M305.7 341.7h0.75M341.9 335.9h0.75M350.8 337.1h0.75M355.6 352.1h0.75M334.0 350.2h0.75M355.0 343.3h0.75M349.5 336.1h0.75M344.7 346.8h0.75M344.4 338.1h0.75M299.9 344.7h0.75M333.5 347.5h0.75M306.0 345.4h0.75M356.7 339.9h0.75M337.7 343.2h0.75M321.4 343.7h0.75M302.5 336.8h0.75M312.5 338.5h0.75M352.3 341.8h0.75M350.7 345.4h0.75M352.2 351.2h0.75M340.2 343.3h0.75M310.2 345.4h0.75M314.5 350.0h0.75M297.2 346.6h0.75M316.3 342.9h0.75M358.3 341.8h0.75M328.3 345.4h0.75M307.2 349.3h0.75M325.7 348.8h0.75M353.7 346.4h0.75M339.2 345.1h0.75M302.9 343.5h0.75M298.5 338.7h0.75M357.5 342.2h0.75M303.2 343.1h0.75M298.4 346.1h0.75M309.2 339.3h0.75M335.4 351.7h0.75M295.4 348.0h0.75M331.9 344.0h0.75M321.6 335.7h0.75M317.1 344.7h0.75M316.4 350.3h0.75M346.6 349.4h0.75M326.1 344.2h0.75M348.7 337.6h0.75M308.9 335.7h0.75M326.1 343.4h0.75M355.9 351.8h0.75M320.6 344.2h0.75M301.2 348.7h0.75M327.9 338.4h0.75M350.8 336.2h0.75M306.9 343.9h0.75M358.6 337.9h0.75M311.6 349.3h0.75M316.1 351.8h0.75M295.7 339.7h0.75M314.4 350.3h0.75M301.1 347.3h0.75M346.3 336.4h0.75M325.5 339.3h0.75M302.3 339.8h0.75M341.7 345.6h0.75M302.9 340.5h0.75M298.7 351.7h0.75M343.0 343.8h0.75M307.8 340.0h0.75M306.8 346.5h0.75M332.7 344.6h0.75M344.2 344.8h0.75M314.7 347.2h0.75M355.5 336.4h0.75M325.7 337.9h0.75M342.5 343.1h0.75M348.4 347.2h0.75M356.1 345.6h0.75M346.1 341.4h0.75M301.1 351.6h0.75M298.6 351.7h0.75M354.5 347.1h0.75M355.5 346.1h0.75M342.4 345.9h0.75M308.8 336.9h0.75M342.2 343.4h0.75M302.5 345.3h0.75M311.5 340.1h0.75M350.8 346.3h0.75M342.6 349.8h0.75M322.6 343.4h0.75M322.3 341.8h0.75M344.5 351.0h0.75M313.6 347.9h0.75M308.3 335.6h0.75M338.5 349.1h0.75M340.7 341.1h0.75M343.3 350.3h0.75M303.5 351.5h0.75M322.4 340.3h0.75M318.8 344.7h0.75M328.4 340.7h0.75M298.4 346.5h0.75M340.6 347.7h0.75M320.0 350.5h0.75M295.6 337.8h0.75M295.7 345.2h0.75M328.1 339.5h0.75M328.3 335.6h0.75M351.4 336.7h0.75M336.6 344.4h0.75M329.1 350.2h0.75M335.7 352.0h0.75M338.3 351.5h0.75M302.0 349.9h0.75M315.0 351.6h0.75M343.0 342.3h0.75M328.2 349.2h0.75M298.2 344.9h0.75M331.0 348.1h0.75M316.5 346.1h0.75M341.8 342.2h0.75M338.3 351.3h0.75M318.2 344.7h0.75M325.6 350.2h0.75M311.8 340.5h0.75M319.7 346.9h0.75M326.8 348.3h0.75M321.0 336.0h0.75M319.3 345.5h0.75M332.2 343.5h0.75M296.3 339.8h0.75" stroke="#8c8c8c" stroke-width="0.75" fill="none" opacity="1.0"/>
<path d="M276.7 346.6h0.85M269.0 346.9h0.85M268.1 345.7h0.85M294.7 341.1h0.85M284.6 350.4h0.85M291.4 341.5h0.85M279.9 346.7h0.85M292.0 349.1h0.85M275.5 336.8h0.85M280.0 340.3h0.85M272.8 343.4h0.85M280.9 351.0h0.85M272.7 341.4h0.85M293.1 347.3h0.85M292.5 347.7h0.85M282.5 345.5h0.85M265.6 344.7h0.85M270.4 349.0h0.85M270.3 349.5h0.85M289.8 344.8h0.85M282.6 346.4h0.85M280.5 346.4h0.85M267.4 351.7h0.85M280.6 341.6h0.85M282.4 339.3h0.85M264.3 347.0h0.85M272.8 341.0h0.85M298.9 346.8h0.85M288.0 346.1h0.85M268.5 346.3h0.85M268.0 340.0h0.85M286.4 340.7h0.85M288.8 344.8h0.85M291.2 338.6h0.85M268.2 342.9h0.85M283.5 346.0h0.85M276.5 343.6h0.85M286.3 342.8h0.85M275.1 350.7h0.85M294.7 340.0h0.85M273.4 345.8h0.85M288.9 351.9h0.85M285.4 336.1h0.85M282.8 348.1h0.85M302.9 344.6h0.85M282.1 347.0h0.85M265.2 351.6h0.85M290.0 345.5h0.85M273.0 340.2h0.85M271.3 347.1h0.85M279.6 340.5h0.85M294.8 339.1h0.85M286.3 347.2h0.85M274.2 351.3h0.85M294.1 340.2h0.85M280.8 348.9h0.85M287.4 343.4h0.85M281.5 349.9h0.85M282.5 347.6h0.85M288.1 342.9h0.85M284.7 346.9h0.85M297.0 341.9h0.85M294.1 341.8h0.85M287.2 343.7h0.85M269.2 343.5h0.85M290.0 344.4h0.85M280.8 338.5h0.85M287.7 342.4h0.85M277.3 342.5h0.85M279.2 348.3h0.85M275.5 342.8h0.85M290.5 349.4h0.85M268.6 345.4h0.85M303.7 349.1h0.85M265.6 344.4h0.85M285.5 347.6h0.85M279.5 343.7h0.85M286.5 341.7h0.85M292.9 345.3h0.85M263.5 340.9h0.85M288.5 347.6h0.85M291.4 341.1h0.85M274.5 348.6h0.85M270.3 346.1h0.85M267.6 344.4h0.85M301.0 349.3h0.85M291.5 347.1h0.85M285.9 345.8h0.85M294.2 347.7h0.85M288.0 348.2h0.85M282.3 345.5h0.85M292.0 351.1h0.85M264.5 340.7h0.85M284.1 338.9h0.85M268.1 345.1h0.85M286.5 338.5h0.85M279.2 347.2h0.85M287.8 345.6h0.85M271.3 342.9h0.85M295.1 346.9h0.85M276.1 344.2h0.85M292.4 343.0h0.85M268.9 348.0h0.85M291.6 345.5h0.85M272.7 342.4h0.85M292.6 336.8h0.85M267.7 348.6h0.85M272.0 344.4h0.85M274.4 341.4h0.85M272.5 346.8h0.85M286.1 344.5h0.85M268.4 340.2h0.85M286.2 347.1h0.85M282.1 349.6h0.85M266.0 347.1h0.85M283.9 345.0h0.85M271.0 351.1h0.85M283.9 348.4h0.85M293.1 343.0h0.85M275.1 348.0h0.85M292.5 343.8h0.85M298.1 343.5h0.85M273.2 348.0h0.85M271.9 344.8h0.85M282.6 343.1h0.85M284.8 349.3h0.85M277.5 349.2h0.85M285.2 350.3h0.85M273.2 349.0h0.85M272.8 346.7h0.85M296.7 345.9h0.85M263.7 347.2h0.85M288.1 343.1h0.85M282.4 337.8h0.85M292.2 344.7h0.85M293.4 350.1h0.85M277.9 348.9h0.85M281.7 339.3h0.85M274.2 339.6h0.85M268.3 340.5h0.85M290.9 345.5h0.85M281.4 345.5h0.85M281.8 346.1h0.85M268.8 347.0h0.85M281.0 348.9h0.85M285.0 338.6h0.85M276.6 345.5h0.85M280.8 348.2h0.85M279.4 345.5h0.85M278.8 339.7h0.85M281.2 351.1h0.85M275.9 348.0h0.85M264.6 347.2h0.85M278.7 348.2h0.85M275.8 342.3h0.85M288.5 343.1h0.85M277.8 350.7h0.85M288.4 339.5h0.85M294.0 340.6h0.85M282.9 344.0h0.85M279.6 340.7h0.85M276.8 337.4h0.85M288.4 346.4h0.85M279.7 351.6h0.85M271.6 346.9h0.85M307.1 347.7h0.85M290.0 344.8h0.85M276.4 343.2h0.85M301.4 343.6h0.85M279.1 344.9h0.85M287.2 347.1h0.85M281.1 343.5h0.85M275.9 344.1h0.85M283.5 342.6h0.85M268.7 347.9h0.85M275.0 341.1h0.85M282.5 351.7h0.85M265.5 338.6h0.85M283.5 350.3h0.85M269.6 345.3h0.85M295.7 338.8h0.85M275.7 346.8h0.85M301.2 348.5h0.85M297.2 343.6h0.85M280.8 340.5h0.85M285.1 348.5h0.85M262.7 346.0h0.85M285.5 340.1h0.85M286.7 339.5h0.85M288.6 344.4h0.85M284.6 343.8h0.85M272.7 346.2h0.85M281.2 347.2h0.85M263.4 351.6h0.85M285.4 343.3h0.85M281.0 349.9h0.85M289.3 346.7h0.85M263.1 337.5h0.85M285.7 347.0h0.85M296.3 339.7h0.85M282.6 351.9h0.85M275.5 346.7h0.85M284.9 345.8h0.85M283.6 351.6h0.85M272.6 340.2h0.85M263.5 342.5h0.85M305.5 342.1h0.85M264.2 341.3h0.85M275.2 340.9h0.85M292.9 344.3h0.85M299.8 341.0h0.85M274.4 349.4h0.85M307.2 346.1h0.85M284.3 345.8h0.85M274.5 351.8h0.85M278.1 346.0h0.85M290.7 347.1h0.85M279.3 344.6h0.85M287.8 346.7h0.85M285.8 344.7h0.85M298.6 345.1h0.85M281.4 343.3h0.85M293.4 348.6h0.85M274.5 346.7h0.85M291.7 345.0h0.85M317.3 339.3h0.85M302.3 338.7h0.85M289.9 350.6h0.85M296.9 343.3h0.85M266.4 345.8h0.85M288.2 341.4h0.85M281.7 347.4h0.85M288.3 348.1h0.85M278.9 342.6h0.85M263.7 344.6h0.85M266.0 346.3h0.85M287.7 345.4h0.85M290.0 344.8h0.85M277.5 343.7h0.85M277.1 345.1h0.85M291.4 347.3h0.85M292.6 349.3h0.85M273.8 339.6h0.85M283.7 340.5h0.85M263.3 350.0h0.85M285.0 342.1h0.85M289.1 351.6h0.85M285.5 345.6h0.85M281.1 343.6h0.85M276.6 352.1h0.85M267.8 351.5h0.85M265.0 346.5h0.85M294.4 347.7h0.85M271.2 350.2h0.85M274.3 346.6h0.85M269.0 344.0h0.85M266.3 343.9h0.85M272.4 342.7h0.85M269.8 344.1h0.85M284.7 345.6h0.85M298.0 344.2h0.85M269.8 343.2h0.85M270.5 347.9h0.85M279.9 344.8h0.85M298.8 351.5h0.85M276.9 341.3h0.85M278.0 344.3h0.85M296.8 349.6h0.85M280.2 342.4h0.85M268.6 345.1h0.85M281.9 338.3h0.85M294.6 350.9h0.85M291.4 341.6h0.85M297.9 345.5h0.85M273.5 345.2h0.85M297.1 342.5h0.85M298.8 341.8h0.85M273.2 349.6h0.85M300.5 350.6h0.85M275.8 346.9h0.85M269.5 348.1h0.85M279.8 336.4h0.85M279.0 347.5h0.85M281.1 341.8h0.85M270.6 347.4h0.85M287.4 339.5h0.85M266.3 337.6h0.85M289.5 346.2h0.85M275.4 346.8h0.85M266.2 343.0h0.85M272.9 348.5h0.85M285.5 344.9h0.85M273.2 346.6h0.85M274.2 340.5h0.85M291.0 347.9h0.85M279.3 340.2h0.85M276.5 338.8h0.85M284.7 342.7h0.85M283.6 343.1h0.85M285.1 343.3h0.85M274.1 342.2h0.85M280.5 349.5h0.85M268.3 345.3h0.85M279.6 334.5h0.85M262.6 347.1h0.85M273.0 343.6h0.85M295.6 338.7h0.85M268.4 341.1h0.85M266.1 344.8h0.85M281.7 343.0h0.85M270.8 340.7h0.85M279.0 345.6h0.85M276.8 349.7h0.85M287.8 343.9h0.85M284.9 338.1h0.85M270.0 346.9h0.85M279.8 342.2h0.85M277.8 342.0h0.85M284.9 352.1h0.85M276.5 347.2h0.85M286.4 344.6h0.85M279.0 340.7h0.85M286.4 350.0h0.85M272.0 344.5h0.85M298.9 345.6h0.85M277.8 344.5h0.85M288.5 345.5h0.85M283.1 347.0h0.85M273.6 348.8h0.85M287.1 347.4h0.85M285.9 343.7h0.85M268.9 350.6h0.85M277.9 342.5h0.85M308.2 338.5h0.85M295.0 343.5h0.85M275.4 343.6h0.85M279.8 343.1h0.85M268.2 350.1h0.85M272.5 345.9h0.85M283.7 346.7h0.85M283.7 342.7h0.85M266.7 346.3h0.85M289.9 347.9h0.85M300.7 342.8h0.85M289.7 344.7h0.85M289.5 340.9h0.85M281.0 347.5h0.85M273.6 338.2h0.85M277.7 347.3h0.85M274.1 344.4h0.85M274.3 348.6h0.85M284.4 343.6h0.85M274.8 344.5h0.85M268.8 342.6h0.85M268.7 347.2h0.85M281.3 347.1h0.85M266.9 337.8h0.85M296.8 351.7h0.85M281.1 350.4h0.85M283.3 350.4h0.85M286.3 343.2h0.85M298.9 340.2h0.85M274.6 342.0h0.85M274.6 346.1h0.85M277.1 343.6h0.85M281.0 351.6h0.85M272.5 343.1h0.85M292.1 338.9h0.85M274.3 342.7h0.85M287.7 347.7h0.85M275.7 349.4h0.85M292.3 350.2h0.85M269.5 347.1h0.85M276.2 337.4h0.85M282.8 348.6h0.85M286.3 343.9h0.85M282.9 345.6h0.85M284.9 349.9h0.85M266.2 347.6h0.85M267.3 343.2h0.85M301.6 340.0h0.85M284.8 344.0h0.85M272.1 350.8h0.85M285.9 351.0h0.85M283.1 345.9h0.85M288.2 345.0h0.85M280.9 347.7h0.85M287.6 341.2h0.85M295.2 348.8h0.85M269.2 343.1h0.85M274.7 335.7h0.85M283.3 351.3h0.85M273.5 339.6h0.85M264.2 339.8h0.85M274.7 349.7h0.85M304.3 344.3h0.85M276.8 350.1h0.85M283.6 347.2h0.85M270.2 340.5h0.85M284.7 348.8h0.85M296.4 345.1h0.85M285.4 344.7h0.85M293.0 342.7h0.85M275.8 342.9h0.85M275.4 345.1h0.85M298.2 349.0h0.85M268.1 347.5h0.85M274.1 340.6h0.85M297.6 346.6h0.85M281.8 346.8h0.85M287.3 342.7h0.85M288.2 342.2h0.85M301.5 345.4h0.85M287.6 345.9h0.85M280.2 344.6h0.85M279.2 344.2h0.85M270.2 346.4h0.85M272.9 350.3h0.85M271.8 347.7h0.85M278.1 351.6h0.85M276.9 350.0h0.85M270.6 345.1h0.85M292.2 344.0h0.85M274.3 347.4h0.85M294.8 351.3h0.85M292.6 350.9h0.85M272.6 345.6h0.85M277.3 339.1h0.85M285.3 345.5h0.85M290.5 345.0h0.85M270.7 341.5h0.85M344.3 333.6h0.85M341.5 330.6h0.85M350.0 330.7h0.85M343.7 344.0h0.85M321.2 344.5h0.85M344.6 347.4h0.85M345.0 331.2h0.85M341.8 336.3h0.85M338.4 325.4h0.85M344.6 330.8h0.85M337.9 330.0h0.85M351.1 329.8h0.85M338.9 340.0h0.85M342.5 337.6h0.85M330.4 326.3h0.85M336.8 346.5h0.85M336.1 318.4h0.85M340.9 340.8h0.85M333.1 327.0h0.85M345.0 329.0h0.85M340.2 327.7h0.85M353.9 325.7h0.85M340.5 341.4h0.85M345.3 319.1h0.85M346.8 339.4h0.85M343.2 321.3h0.85M336.8 328.1h0.85M351.3 317.7h0.85M329.2 345.5h0.85M344.7 325.5h0.85M339.0 331.5h0.85M338.5 322.7h0.85M324.3 331.6h0.85M331.7 337.4h0.85M329.7 339.3h0.85M341.6 330.8h0.85M355.8 330.6h0.85M344.5 328.0h0.85M343.8 320.0h0.85M342.8 329.8h0.85M340.9 331.1h0.85M341.3 323.8h0.85M341.9 330.5h0.85M341.4 325.5h0.85M338.0 324.7h0.85M337.2 326.6h0.85M356.9 327.2h0.85M341.1 339.7h0.85M347.6 330.1h0.85M348.9 334.8h0.85M345.9 317.2h0.85M344.9 332.9h0.85M331.5 332.5h0.85M346.9 325.9h0.85M332.9 339.7h0.85M334.1 339.5h0.85M339.6 329.4h0.85M356.9 327.4h0.85M353.2 341.5h0.85M353.9 323.5h0.85M345.2 324.5h0.85M346.6 316.3h0.85M348.1 342.8h0.85M328.0 321.2h0.85M341.1 321.4h0.85M339.0 336.2h0.85M339.0 329.1h0.85M343.2 335.3h0.85M346.0 325.9h0.85M334.5 340.2h0.85M326.3 335.4h0.85M341.8 336.1h0.85M337.0 332.6h0.85M342.0 326.8h0.85M348.3 326.9h0.85M350.6 336.8h0.85M346.5 327.6h0.85M333.5 337.1h0.85M345.3 330.0h0.85M331.8 336.4h0.85M353.8 323.1h0.85M342.4 321.0h0.85M334.6 333.3h0.85M349.3 332.4h0.85M332.9 328.0h0.85M354.4 347.8h0.85M343.0 340.0h0.85M339.4 341.7h0.85M362.3 333.1h0.85M342.1 336.1h0.85M333.9 335.4h0.85M343.4 317.9h0.85M344.0 319.2h0.85M333.3 331.7h0.85M338.3 343.0h0.85M343.7 336.2h0.85M337.2 339.2h0.85M349.9 332.8h0.85M340.6 329.8h0.85M332.1 330.7h0.85M340.4 327.9h0.85M338.7 331.1h0.85M345.8 323.3h0.85M336.3 324.6h0.85M334.0 333.5h0.85M342.8 329.8h0.85M322.0 340.9h0.85M340.3 324.4h0.85M336.2 320.7h0.85M327.5 332.4h0.85M346.0 330.3h0.85M343.8 323.9h0.85M335.4 327.6h0.85M350.2 331.5h0.85M323.4 342.3h0.85M335.0 339.7h0.85M345.2 336.4h0.85M361.4 324.1h0.85M331.4 334.5h0.85M353.8 324.3h0.85M333.7 324.5h0.85M338.0 315.3h0.85M337.4 327.2h0.85M346.2 333.6h0.85M340.5 322.7h0.85M345.7 330.9h0.85M345.3 317.7h0.85M349.1 326.5h0.85M344.4 342.1h0.85M342.8 334.4h0.85M347.5 334.6h0.85M345.3 338.2h0.85M348.8 335.3h0.85M341.5 326.8h0.85M339.2 331.3h0.85M350.1 316.9h0.85M327.5 339.6h0.85M347.1 323.4h0.85M338.0 330.8h0.85M340.2 314.5h0.85M340.2 339.9h0.85M329.5 342.1h0.85M352.1 332.4h0.85M357.2 324.2h0.85M344.8 325.8h0.85M348.0 323.4h0.85M334.0 336.2h0.85M337.4 330.8h0.85M339.8 340.3h0.85M336.3 318.7h0.85M358.5 334.9h0.85M344.8 330.8h0.85M335.1 326.7h0.85M341.2 318.9h0.85M345.4 332.8h0.85M320.8 334.7h0.85M348.5 335.3h0.85M348.7 325.0h0.85M327.8 334.4h0.85M344.3 325.1h0.85M343.0 330.9h0.85M339.0 333.5h0.85M341.8 338.8h0.85M346.8 332.7h0.85M345.9 334.1h0.85M345.0 329.6h0.85M348.8 326.6h0.85M349.1 331.2h0.85M341.3 333.0h0.85M331.8 333.3h0.85M350.4 324.2h0.85M335.0 329.7h0.85M347.7 340.1h0.85M344.5 328.2h0.85M347.7 328.3h0.85M328.0 347.7h0.85M357.4 331.7h0.85M351.8 320.3h0.85M342.4 339.3h0.85M352.6 329.8h0.85M345.9 326.9h0.85M349.3 322.5h0.85M330.5 342.9h0.85M342.9 330.8h0.85M347.9 331.1h0.85M340.3 316.4h0.85M352.6 321.0h0.85M349.9 335.6h0.85M341.1 331.6h0.85M333.1 338.6h0.85M343.0 339.7h0.85M346.0 326.9h0.85M339.9 333.7h0.85M346.5 326.8h0.85M344.6 339.5h0.85M328.9 317.8h0.85M336.6 334.4h0.85M327.3 338.9h0.85M336.0 326.0h0.85M320.9 344.2h0.85M338.5 335.0h0.85M335.6 335.1h0.85M329.3 330.8h0.85M351.2 328.6h0.85M337.5 322.4h0.85M345.6 338.0h0.85M337.2 336.1h0.85M341.4 322.2h0.85M336.2 332.9h0.85M342.6 339.6h0.85M338.0 327.1h0.85M350.7 343.4h0.85M347.3 332.3h0.85M351.9 325.0h0.85M357.3 326.5h0.85M338.6 337.5h0.85M330.4 328.5h0.85M345.8 324.5h0.85M344.5 341.5h0.85M338.5 333.2h0.85M343.0 325.2h0.85M353.0 327.3h0.85M325.4 340.7h0.85M324.9 338.9h0.85M332.3 330.6h0.85M340.0 323.1h0.85M350.3 333.1h0.85M349.2 329.9h0.85M345.4 320.7h0.85M332.7 332.8h0.85M353.9 334.8h0.85M343.5 329.8h0.85M338.5 341.0h0.85M336.3 338.9h0.85M350.3 328.0h0.85M347.3 338.9h0.85M345.7 329.4h0.85M350.0 335.1h0.85M348.2 320.1h0.85M356.0 335.8h0.85M332.9 342.9h0.85M349.4 325.6h0.85M344.5 336.9h0.85M351.7 317.9h0.85M341.5 331.9h0.85M351.2 326.0h0.85M352.4 332.4h0.85M344.4 333.1h0.85M337.3 333.8h0.85M339.5 327.6h0.85M339.4 330.8h0.85M335.4 340.8h0.85M353.0 336.6h0.85M356.1 322.2h0.85M323.7 338.2h0.85M338.5 331.3h0.85M340.3 335.6h0.85M351.7 330.5h0.85M349.4 334.9h0.85" stroke="#555" stroke-width="0.85" fill="none" opacity="1.0"/>
<path d="M273.7 347.1h1.0M278.8 347.1h1.0M283.4 345.2h1.0M279.0 337.9h1.0M274.1 342.9h1.0M271.8 342.0h1.0M282.5 344.8h1.0M282.7 340.4h1.0M285.0 345.1h1.0M276.4 342.2h1.0M268.0 347.7h1.0M279.6 343.7h1.0M287.8 339.7h1.0M278.7 344.1h1.0M268.9 346.4h1.0M278.3 346.1h1.0M277.1 343.7h1.0M271.1 347.5h1.0M266.2 342.6h1.0M270.5 350.8h1.0M281.3 345.9h1.0M282.5 346.3h1.0M289.4 342.8h1.0M277.6 345.1h1.0M275.5 343.2h1.0M288.6 346.2h1.0M270.3 344.1h1.0M283.1 349.6h1.0M272.6 348.6h1.0M280.1 343.8h1.0M272.4 349.0h1.0M280.8 351.4h1.0M280.6 345.8h1.0M288.1 342.0h1.0M273.3 346.5h1.0M275.1 347.7h1.0M277.2 342.6h1.0M267.8 346.6h1.0M285.6 342.9h1.0M271.9 348.1h1.0M271.7 350.5h1.0M283.6 345.0h1.0M272.6 349.9h1.0M274.5 347.1h1.0M286.9 346.3h1.0M277.4 342.3h1.0M280.7 345.8h1.0M263.9 342.0h1.0M280.3 346.6h1.0M276.2 348.3h1.0M271.4 350.1h1.0M279.7 343.8h1.0M277.8 343.2h1.0M279.9 345.0h1.0M271.5 344.0h1.0M283.8 343.3h1.0M284.1 346.5h1.0M271.0 342.1h1.0M273.3 345.0h1.0M275.6 345.5h1.0M275.2 347.2h1.0M266.2 340.4h1.0M277.9 351.1h1.0M271.4 349.1h1.0M280.1 340.5h1.0M275.3 343.4h1.0M280.3 349.0h1.0M283.9 350.1h1.0M273.4 346.7h1.0M284.1 344.8h1.0M276.0 347.9h1.0M277.3 345.3h1.0M281.0 341.2h1.0M281.1 345.2h1.0M275.9 340.9h1.0M277.9 345.5h1.0M287.3 340.4h1.0M280.1 345.7h1.0M273.0 342.6h1.0M274.1 342.8h1.0M272.2 345.4h1.0M279.1 345.0h1.0M278.1 344.3h1.0M270.2 349.1h1.0M275.9 340.3h1.0M276.0 348.2h1.0M272.9 345.6h1.0M283.7 346.8h1.0M280.0 344.8h1.0M274.7 348.4h1.0M275.9 347.7h1.0M279.9 350.5h1.0M283.4 343.0h1.0M280.1 341.0h1.0M280.3 350.3h1.0M277.1 344.2h1.0M272.7 349.0h1.0M279.3 343.9h1.0M274.3 346.3h1.0M273.8 347.3h1.0M276.4 342.4h1.0M267.3 347.0h1.0M286.2 344.1h1.0M277.7 343.0h1.0M270.9 349.3h1.0M267.0 350.2h1.0M278.2 343.0h1.0M274.3 347.6h1.0M279.1 343.6h1.0M278.3 351.0h1.0M278.2 347.9h1.0M272.9 341.3h1.0M284.5 343.7h1.0M278.4 344.9h1.0M273.3 345.8h1.0M287.9 347.5h1.0M272.9 345.2h1.0M282.0 342.8h1.0M271.1 346.2h1.0M275.2 349.2h1.0M277.2 346.9h1.0M282.1 344.0h1.0M272.2 345.5h1.0M274.7 347.4h1.0M273.9 342.6h1.0M274.3 350.6h1.0M272.2 343.4h1.0M289.3 347.9h1.0M274.7 346.6h1.0M268.5 344.7h1.0M276.5 344.7h1.0M289.8 345.6h1.0M281.4 342.8h1.0M273.0 347.4h1.0M285.8 343.0h1.0M277.6 348.6h1.0M281.9 343.7h1.0M289.6 340.6h1.0M281.4 344.5h1.0M277.1 347.1h1.0M278.6 344.7h1.0M280.6 342.2h1.0M278.6 347.0h1.0M281.5 340.8h1.0M271.9 344.5h1.0M279.9 343.8h1.0M279.7 345.6h1.0M276.2 340.6h1.0M286.9 349.1h1.0M272.8 347.2h1.0M267.5 344.9h1.0M276.4 347.1h1.0M282.0 338.2h1.0M285.4 341.7h1.0M274.4 343.7h1.0M276.5 342.2h1.0M280.1 345.4h1.0M280.0 347.4h1.0M281.4 340.9h1.0M274.6 344.0h1.0M267.0 343.3h1.0M281.9 348.2h1.0M286.9 344.7h1.0M266.7 350.0h1.0M281.8 346.0h1.0M283.2 349.7h1.0M276.2 342.7h1.0M272.8 343.7h1.0M274.7 344.6h1.0M278.6 338.9h1.0M269.5 343.6h1.0M284.4 348.4h1.0M277.2 338.8h1.0M275.4 350.5h1.0M278.5 347.5h1.0M273.5 348.1h1.0M278.5 346.8h1.0M271.5 346.4h1.0M279.1 347.9h1.0M283.2 350.0h1.0M279.1 346.5h1.0M285.9 346.9h1.0M272.9 349.6h1.0M288.3 343.1h1.0M270.4 346.8h1.0M271.2 341.4h1.0M279.2 351.3h1.0M278.0 342.8h1.0M276.8 344.1h1.0M276.1 344.9h1.0M278.0 347.5h1.0M278.8 344.9h1.0M276.5 347.5h1.0M270.8 345.1h1.0M273.6 341.7h1.0M282.1 347.3h1.0M284.6 348.0h1.0M272.1 340.1h1.0M274.2 346.3h1.0M267.1 348.9h1.0M269.9 346.2h1.0M266.0 343.0h1.0M274.7 347.4h1.0M273.1 343.5h1.0M285.7 346.2h1.0M286.2 340.4h1.0M284.6 344.2h1.0M268.1 344.0h1.0M274.4 345.1h1.0M265.8 346.9h1.0M278.1 348.2h1.0M278.5 340.6h1.0M278.1 347.4h1.0M290.7 351.1h1.0M271.4 344.6h1.0M278.3 343.0h1.0M272.1 341.5h1.0M279.7 341.9h1.0M267.8 346.0h1.0M286.1 339.2h1.0M284.5 345.1h1.0M277.8 347.3h1.0M283.2 347.2h1.0M277.5 351.5h1.0M268.0 340.8h1.0M277.1 344.9h1.0M263.9 346.2h1.0M288.9 349.2h1.0M262.8 346.7h1.0M273.6 346.3h1.0M269.4 349.8h1.0M269.5 344.0h1.0M276.5 343.1h1.0M270.4 344.1h1.0M274.2 345.4h1.0M282.2 345.1h1.0M274.7 350.5h1.0M277.1 343.2h1.0M273.0 345.9h1.0M266.4 349.9h1.0M279.1 341.6h1.0M274.9 350.5h1.0M274.5 350.2h1.0M275.1 339.9h1.0M278.5 345.9h1.0M282.8 346.3h1.0M278.7 344.8h1.0M279.4 349.7h1.0M280.9 342.7h1.0M271.5 341.4h1.0M276.9 343.5h1.0M280.0 342.7h1.0M273.0 347.4h1.0M279.0 343.6h1.0M280.1 344.3h1.0M273.9 342.4h1.0M279.5 342.2h1.0M272.8 345.3h1.0M273.9 346.6h1.0M277.9 344.4h1.0M272.1 344.1h1.0M271.8 344.5h1.0M274.6 348.4h1.0M283.7 340.3h1.0M276.1 345.7h1.0M282.4 349.1h1.0M271.6 342.4h1.0M282.1 346.7h1.0M272.1 344.7h1.0M268.4 347.4h1.0M280.3 343.1h1.0M283.1 349.4h1.0M269.1 348.3h1.0M269.0 339.8h1.0M271.0 346.7h1.0M278.0 344.1h1.0M285.4 348.3h1.0M282.0 344.8h1.0M269.8 345.4h1.0M268.4 341.1h1.0M272.4 342.7h1.0M284.5 346.9h1.0M271.4 345.4h1.0M270.5 343.1h1.0M277.8 347.7h1.0M272.7 343.6h1.0M268.1 340.9h1.0M272.1 346.3h1.0M271.2 341.0h1.0M281.7 341.4h1.0M280.6 345.0h1.0M286.9 343.0h1.0M279.4 343.7h1.0M281.1 344.5h1.0M275.8 350.3h1.0M289.0 348.7h1.0M263.9 348.3h1.0M288.3 341.3h1.0M273.2 344.9h1.0M276.6 351.4h1.0M274.8 344.7h1.0M283.8 348.7h1.0M263.3 350.9h1.0M278.7 345.2h1.0M277.6 345.0h1.0M274.6 349.7h1.0M279.5 344.2h1.0M280.2 341.6h1.0M266.1 339.7h1.0M271.3 344.6h1.0M276.7 343.3h1.0M296.0 346.1h1.0M275.7 347.3h1.0M278.2 343.9h1.0M270.9 341.9h1.0M283.6 343.8h1.0M276.1 346.2h1.0M266.9 344.0h1.0M270.9 347.3h1.0M282.7 347.9h1.0M273.6 343.1h1.0M287.9 347.0h1.0M283.4 347.1h1.0M279.1 343.9h1.0M269.9 342.8h1.0M287.5 344.8h1.0M278.4 348.9h1.0M287.5 344.8h1.0M269.1 343.6h1.0M268.0 348.0h1.0M264.0 342.0h1.0M290.0 346.7h1.0M272.8 347.4h1.0M273.4 344.0h1.0M285.5 348.1h1.0M279.4 350.7h1.0M285.9 345.3h1.0M272.5 341.1h1.0M276.1 341.4h1.0M283.2 340.2h1.0M271.9 345.6h1.0M279.0 346.0h1.0M285.9 347.2h1.0M282.8 341.1h1.0M265.0 349.0h1.0M271.3 347.4h1.0M279.1 345.9h1.0M277.2 346.8h1.0M276.3 344.1h1.0M281.2 347.6h1.0M276.1 347.8h1.0M275.7 349.8h1.0M282.5 343.2h1.0M276.0 347.6h1.0M274.0 347.6h1.0M267.5 341.1h1.0M296.5 348.2h1.0M269.7 344.1h1.0M280.4 350.0h1.0M265.2 344.5h1.0M264.8 341.8h1.0M273.8 345.4h1.0M276.7 347.2h1.0M275.9 346.4h1.0M284.2 345.4h1.0M276.6 347.1h1.0M272.9 347.9h1.0M276.8 340.0h1.0M283.4 344.5h1.0M286.8 342.0h1.0M278.0 345.9h1.0M270.2 345.1h1.0M274.9 350.3h1.0M269.0 340.1h1.0M278.0 343.9h1.0M277.9 346.8h1.0M279.5 342.1h1.0M274.9 344.1h1.0M282.9 346.6h1.0M277.8 347.7h1.0M280.4 346.4h1.0M283.6 347.4h1.0M286.9 345.9h1.0M271.7 348.4h1.0M280.7 347.9h1.0M287.6 341.1h1.0M279.9 349.6h1.0M276.6 347.7h1.0M265.9 344.8h1.0M290.0 346.4h1.0M281.6 341.4h1.0M271.0 346.8h1.0M278.4 344.0h1.0M269.9 345.2h1.0M276.1 342.7h1.0M267.2 347.7h1.0M273.7 346.6h1.0M281.1 347.2h1.0M293.2 346.8h1.0M281.8 342.2h1.0M282.5 345.8h1.0M271.8 346.5h1.0M280.7 344.9h1.0M280.2 343.6h1.0M271.4 348.6h1.0M285.4 346.5h1.0M267.2 340.4h1.0M271.7 348.5h1.0M282.6 348.6h1.0M271.5 342.6h1.0M271.8 338.3h1.0M277.3 337.5h1.0M277.5 345.3h1.0M272.9 346.4h1.0M273.7 345.7h1.0M281.4 349.1h1.0M271.2 352.0h1.0M285.8 345.3h1.0M276.7 345.7h1.0M282.8 344.2h1.0M281.9 345.7h1.0M276.0 345.7h1.0M265.6 342.8h1.0M267.3 348.9h1.0M280.8 345.1h1.0M281.6 340.2h1.0M287.9 340.8h1.0M275.4 339.5h1.0M271.5 346.0h1.0M282.7 345.8h1.0M276.0 346.6h1.0M284.4 342.0h1.0M276.3 343.8h1.0M270.9 342.5h1.0M295.1 347.3h1.0M285.1 345.2h1.0M274.7 347.1h1.0M275.6 349.3h1.0M268.6 340.9h1.0M276.6 343.9h1.0M278.6 344.0h1.0M267.6 348.8h1.0M280.5 342.3h1.0M269.9 347.6h1.0M270.3 343.9h1.0M278.8 345.3h1.0M272.9 344.7h1.0M276.9 347.7h1.0M278.7 347.4h1.0M282.5 343.3h1.0M272.6 344.0h1.0M277.2 347.6h1.0M271.3 350.7h1.0M270.0 344.8h1.0M284.0 347.0h1.0M277.7 344.4h1.0M281.4 343.9h1.0M284.1 342.8h1.0M272.2 344.5h1.0M262.7 346.7h1.0M276.9 343.8h1.0M274.9 343.1h1.0M284.7 347.6h1.0M273.5 344.9h1.0M279.7 344.9h1.0M281.7 348.8h1.0M281.4 341.8h1.0M283.4 343.9h1.0M275.3 344.4h1.0M276.3 350.3h1.0M273.1 345.8h1.0M273.7 348.4h1.0M275.4 346.7h1.0M277.2 345.6h1.0M277.8 342.5h1.0M277.6 344.2h1.0M274.3 343.6h1.0M274.7 347.5h1.0M269.3 343.2h1.0M273.6 344.9h1.0M283.5 343.6h1.0M290.2 345.2h1.0M282.5 343.1h1.0M272.8 345.6h1.0M273.4 348.7h1.0M278.5 347.7h1.0M286.8 347.2h1.0M273.5 345.4h1.0M273.6 345.5h1.0M273.1 349.9h1.0M285.9 343.7h1.0M277.7 346.8h1.0M275.9 344.7h1.0M268.4 348.3h1.0M271.4 342.0h1.0M270.4 342.3h1.0M274.0 337.5h1.0M276.3 345.4h1.0M284.9 342.5h1.0M282.4 348.4h1.0M283.6 340.1h1.0M276.1 347.0h1.0M270.2 342.8h1.0M278.5 345.4h1.0M269.3 341.0h1.0M282.0 345.3h1.0M285.6 347.9h1.0M282.0 348.2h1.0M285.2 345.9h1.0M284.1 346.4h1.0M279.1 342.0h1.0M271.3 345.5h1.0M271.7 343.2h1.0M273.1 346.8h1.0M275.5 342.1h1.0M270.5 345.9h1.0M274.8 347.2h1.0M272.0 346.2h1.0M277.9 350.1h1.0M278.2 349.0h1.0M276.8 338.7h1.0M270.9 346.0h1.0M275.2 342.6h1.0M273.9 351.0h1.0M267.1 345.5h1.0M278.3 342.2h1.0M273.5 343.7h1.0M270.4 342.0h1.0M276.3 347.5h1.0M277.8 340.2h1.0M271.7 349.5h1.0M270.7 349.3h1.0M276.4 344.5h1.0M275.8 345.0h1.0M283.9 346.0h1.0M278.2 347.5h1.0M275.3 344.4h1.0M279.5 350.0h1.0M271.0 345.6h1.0M275.9 342.1h1.0M273.7 351.8h1.0M283.8 350.0h1.0M270.9 344.6h1.0M270.4 338.4h1.0M278.2 343.8h1.0M274.1 339.0h1.0M280.0 347.5h1.0M284.3 350.2h1.0M273.2 344.8h1.0M277.6 348.3h1.0M286.2 340.6h1.0M271.1 344.7h1.0M272.9 347.0h1.0M282.7 344.8h1.0M276.1 345.2h1.0M269.7 342.2h1.0M272.2 341.8h1.0M274.0 347.0h1.0M285.7 344.5h1.0M272.9 347.3h1.0M280.4 339.7h1.0M280.4 346.5h1.0M270.0 347.8h1.0M276.0 344.8h1.0M272.8 341.9h1.0M271.0 347.9h1.0M279.7 343.9h1.0M274.4 342.7h1.0M268.3 341.0h1.0M289.9 339.0h1.0M277.5 339.6h1.0M277.1 341.5h1.0M275.6 345.0h1.0M279.9 350.6h1.0M275.5 340.4h1.0M282.3 344.2h1.0M277.9 341.3h1.0M278.8 351.0h1.0M271.1 346.7h1.0M277.6 346.8h1.0M276.1 340.6h1.0M282.4 343.4h1.0M276.8 345.3h1.0M278.9 344.7h1.0M272.4 343.4h1.0M271.8 345.9h1.0M274.6 349.0h1.0M280.4 345.5h1.0M269.8 346.1h1.0M268.5 341.6h1.0M279.8 339.4h1.0M273.4 343.6h1.0M271.0 348.3h1.0M276.2 344.3h1.0M282.3 346.0h1.0M283.4 342.3h1.0M271.5 346.3h1.0M271.3 340.7h1.0M273.5 343.0h1.0M282.2 346.0h1.0M273.8 344.6h1.0M272.1 349.5h1.0M271.0 344.8h1.0M277.9 340.2h1.0M265.8 344.6h1.0M269.9 342.4h1.0M280.9 344.9h1.0M285.6 346.2h1.0M273.6 348.8h1.0M272.8 345.4h1.0M280.8 341.5h1.0M275.1 347.7h1.0M274.8 346.9h1.0M274.0 346.8h1.0M271.6 345.9h1.0M273.7 346.2h1.0M268.5 345.5h1.0M280.2 343.4h1.0M273.5 349.0h1.0M269.0 349.4h1.0M272.9 346.6h1.0M266.2 344.0h1.0M267.6 348.0h1.0M272.5 343.3h1.0M287.7 346.0h1.0M275.1 346.7h1.0M275.6 346.1h1.0M291.4 348.0h1.0M276.1 347.9h1.0M278.9 346.9h1.0M280.2 348.5h1.0M289.3 344.3h1.0M266.2 344.0h1.0M274.0 349.1h1.0M279.4 346.9h1.0M281.1 346.9h1.0M282.1 344.8h1.0M278.9 344.9h1.0M274.6 346.7h1.0M279.4 343.3h1.0M274.3 339.0h1.0M286.8 348.4h1.0M283.2 345.4h1.0M278.1 347.8h1.0M286.6 347.4h1.0M276.3 347.7h1.0M288.2 341.2h1.0M268.9 347.2h1.0M278.9 346.7h1.0M274.7 348.8h1.0M278.2 348.6h1.0M281.7 338.2h1.0M274.8 340.8h1.0M279.0 347.4h1.0M274.7 348.4h1.0M277.4 343.4h1.0M282.3 346.0h1.0M269.7 346.1h1.0M286.7 344.2h1.0M276.4 351.6h1.0M274.2 344.0h1.0M271.2 341.8h1.0M273.4 348.2h1.0M273.3 345.9h1.0M282.7 346.9h1.0M266.2 346.3h1.0M279.8 340.8h1.0M270.1 341.5h1.0M280.7 344.0h1.0M272.2 348.3h1.0M271.1 343.0h1.0M278.0 342.3h1.0M287.5 344.9h1.0M276.5 339.9h1.0M269.0 347.2h1.0M274.6 346.7h1.0M277.6 347.9h1.0M283.6 349.1h1.0M271.9 350.7h1.0M268.5 344.2h1.0M280.5 345.9h1.0M281.7 343.4h1.0M273.3 345.8h1.0M278.9 339.5h1.0M274.2 344.5h1.0M280.0 341.8h1.0M279.3 342.2h1.0M270.5 346.6h1.0M265.3 346.2h1.0M290.5 344.1h1.0M277.3 344.7h1.0M277.6 349.3h1.0M272.7 346.2h1.0M277.7 348.0h1.0M276.1 347.7h1.0M269.0 347.8h1.0M272.0 343.3h1.0M284.7 343.4h1.0M275.5 347.2h1.0M267.5 347.5h1.0M286.0 341.7h1.0M278.1 346.1h1.0M276.8 344.2h1.0M276.7 344.2h1.0M272.2 345.6h1.0M274.7 342.4h1.0M269.4 342.1h1.0M276.2 347.0h1.0M276.9 345.1h1.0M275.4 344.3h1.0M273.3 350.6h1.0M280.9 345.3h1.0M286.6 343.9h1.0M265.0 342.5h1.0M272.7 344.1h1.0M289.8 341.6h1.0M270.3 346.1h1.0M267.3 344.0h1.0M280.1 348.3h1.0M279.4 342.6h1.0M281.5 347.2h1.0M272.7 348.9h1.0M269.1 344.9h1.0M277.0 341.7h1.0M278.4 346.3h1.0M268.3 341.4h1.0M277.7 345.5h1.0M270.8 348.8h1.0M280.5 348.1h1.0M280.2 343.5h1.0M274.5 350.3h1.0M279.2 341.3h1.0M271.9 349.4h1.0M283.2 344.7h1.0M273.1 342.1h1.0M275.1 344.2h1.0M274.4 347.8h1.0M278.0 347.9h1.0M266.3 347.6h1.0M284.0 341.9h1.0M289.6 342.0h1.0M286.3 344.3h1.0M274.2 344.2h1.0M271.2 343.6h1.0M274.1 344.9h1.0M271.7 346.1h1.0M282.5 345.8h1.0M272.8 344.8h1.0M281.9 345.8h1.0M269.9 350.3h1.0M268.9 342.8h1.0M276.2 344.1h1.0M283.1 344.3h1.0M279.6 346.8h1.0M267.3 344.1h1.0M276.2 343.8h1.0M270.5 346.2h1.0M288.6 347.3h1.0M277.3 341.7h1.0M275.4 345.2h1.0M264.2 343.9h1.0M274.2 341.9h1.0M276.2 346.6h1.0M279.3 346.0h1.0M273.7 341.2h1.0M282.5 344.9h1.0M281.5 342.8h1.0M280.2 345.2h1.0M277.2 344.3h1.0M280.1 344.3h1.0M273.5 345.8h1.0M279.4 348.2h1.0M276.7 343.3h1.0M277.7 346.2h1.0M276.6 346.9h1.0M282.5 346.3h1.0M267.0 349.4h1.0M278.5 344.8h1.0M274.0 349.4h1.0M275.9 347.9h1.0M272.9 345.7h1.0M272.2 344.8h1.0M272.4 347.0h1.0M275.4 341.3h1.0M286.0 342.3h1.0M272.4 345.7h1.0M282.1 342.9h1.0M267.2 346.1h1.0M272.4 343.5h1.0M280.5 346.8h1.0M289.3 345.6h1.0M291.1 345.2h1.0M276.3 340.1h1.0M273.7 347.0h1.0M285.4 345.1h1.0M279.6 348.9h1.0M287.3 342.1h1.0M278.8 343.3h1.0M273.8 347.0h1.0M267.5 344.9h1.0M284.0 342.6h1.0M282.2 343.2h1.0M271.3 349.4h1.0M280.5 344.8h1.0M282.5 345.9h1.0M271.6 344.4h1.0M273.5 350.3h1.0M273.2 348.1h1.0M270.2 347.3h1.0M282.3 338.5h1.0M286.9 346.1h1.0M283.5 345.3h1.0M279.1 347.3h1.0M276.3 350.2h1.0M287.3 347.1h1.0M280.2 346.9h1.0M278.3 348.7h1.0M274.5 343.0h1.0M280.2 350.8h1.0M281.8 348.9h1.0M278.4 343.9h1.0M273.0 346.5h1.0M275.3 344.4h1.0M282.1 341.3h1.0M278.7 339.7h1.0M271.2 340.7h1.0M275.2 343.3h1.0M276.0 345.3h1.0M271.4 344.6h1.0M288.6 344.4h1.0M276.6 345.4h1.0M280.9 345.8h1.0M276.7 344.8h1.0M284.4 342.4h1.0M270.6 347.6h1.0M276.9 343.0h1.0M282.4 345.8h1.0M289.2 345.3h1.0M285.0 341.0h1.0M286.1 344.4h1.0M280.1 349.6h1.0M266.3 347.7h1.0M281.0 342.2h1.0M276.1 342.5h1.0M280.1 341.0h1.0M267.4 348.3h1.0M271.1 348.7h1.0M286.4 347.6h1.0M271.9 346.8h1.0M281.9 346.5h1.0M281.1 343.7h1.0M271.4 349.3h1.0M286.4 347.0h1.0M270.5 344.7h1.0M277.1 348.1h1.0M283.2 342.5h1.0M278.4 347.5h1.0M271.6 351.5h1.0M279.0 344.2h1.0M271.3 345.7h1.0M296.0 347.7h1.0M266.7 344.2h1.0M274.2 347.0h1.0M280.4 345.6h1.0M282.6 343.7h1.0M283.6 344.8h1.0M264.1 342.2h1.0M266.7 343.0h1.0M278.2 349.3h1.0M277.1 342.9h1.0M270.7 345.6h1.0M272.4 348.5h1.0M273.1 342.0h1.0M280.8 345.3h1.0M276.3 345.1h1.0M278.4 344.9h1.0M266.6 343.4h1.0M280.9 348.7h1.0M275.9 345.8h1.0M273.3 344.1h1.0" stroke="#161616" stroke-width="1.0" fill="none" opacity="1.0"/>
<text x="287.50" y="298.40" font-size="8.1" font-weight="bold" fill="#000" textLength="44.50" lengthAdjust="spacingAndGlyphs" stroke="#000" stroke-width="0.3" >anti-Fas</text>
<text x="268.95" y="307.60" font-size="6.2" font-weight="bold" fill="#000" textLength="12.80" lengthAdjust="spacingAndGlyphs" stroke="#000" stroke-width="0.3" >LGL</text>
<text x="313.75" y="308.00" font-size="6.9" font-weight="bold" fill="#000" textLength="43.75" lengthAdjust="spacingAndGlyphs" stroke="#000" stroke-width="0.3" >24.2%±4.4</text>
<text x="257.85" y="361.30" font-size="8.0" font-weight="bold" textLength="12.4" lengthAdjust="spacingAndGlyphs" stroke="#000" stroke-width="0.3">10<tspan dy="-2.6" font-size="5.76">0</tspan></text>
<text x="283.35" y="361.30" font-size="8.0" font-weight="bold" textLength="12.4" lengthAdjust="spacingAndGlyphs" stroke="#000" stroke-width="0.3">10<tspan dy="-2.6" font-size="5.76">1</tspan></text>
<text x="308.85" y="361.30" font-size="8.0" font-weight="bold" textLength="12.4" lengthAdjust="spacingAndGlyphs" stroke="#000" stroke-width="0.3">10<tspan dy="-2.6" font-size="5.76">2</tspan></text>
<text x="334.35" y="361.30" font-size="8.0" font-weight="bold" textLength="12.4" lengthAdjust="spacingAndGlyphs" stroke="#000" stroke-width="0.3">10<tspan dy="-2.6" font-size="5.76">3</tspan></text>
<text x="359.85" y="361.30" font-size="8.0" font-weight="bold" textLength="12.4" lengthAdjust="spacingAndGlyphs" stroke="#000" stroke-width="0.3">10<tspan dy="-2.6" font-size="5.76">4</tspan></text>
<text x="277.50" y="368.00" font-size="7.2" font-weight="bold" fill="#000" textLength="64.25" lengthAdjust="spacingAndGlyphs" stroke="#000" stroke-width="0.3" >Annexin-V-FITC</text>
<text transform="translate(256.35,358.90) rotate(-90)" x="0" y="0" font-size="7.8" font-weight="bold" textLength="11.4" lengthAdjust="spacingAndGlyphs" stroke="#000" stroke-width="0.3">10<tspan dy="-2.4" font-size="5.62">0</tspan></text>
<text transform="translate(256.35,345.55) rotate(-90)" x="0" y="0" font-size="7.8" font-weight="bold" textLength="11.4" lengthAdjust="spacingAndGlyphs" stroke="#000" stroke-width="0.3">10<tspan dy="-2.4" font-size="5.62">1</tspan></text>
<text transform="translate(256.35,332.20) rotate(-90)" x="0" y="0" font-size="7.8" font-weight="bold" textLength="11.4" lengthAdjust="spacingAndGlyphs" stroke="#000" stroke-width="0.3">10<tspan dy="-2.4" font-size="5.62">2</tspan></text>
<text transform="translate(256.35,318.85) rotate(-90)" x="0" y="0" font-size="7.8" font-weight="bold" textLength="11.4" lengthAdjust="spacingAndGlyphs" stroke="#000" stroke-width="0.3">10<tspan dy="-2.4" font-size="5.62">3</tspan></text>
<text transform="translate(256.35,305.50) rotate(-90)" x="0" y="0" font-size="7.8" font-weight="bold" textLength="11.4" lengthAdjust="spacingAndGlyphs" stroke="#000" stroke-width="0.3">10<tspan dy="-2.4" font-size="5.62">4</tspan></text>
<text transform="translate(242.45,341.50) rotate(-90)" x="0" y="0" font-size="6.6" font-weight="bold" fill="#000" textLength="32.80" lengthAdjust="spacingAndGlyphs" stroke="#000" stroke-width="0.3">7-AAD-FL3</text>
<path d="M435.5 333.2h0.75M449.4 327.2h0.75M440.1 330.5h0.75M444.7 326.3h0.75M443.4 327.0h0.75M440.5 327.1h0.75M438.7 329.8h0.75M441.2 331.0h0.75M421.0 333.8h0.75M437.2 331.8h0.75M434.7 333.0h0.75M431.2 331.9h0.75M437.0 329.1h0.75M435.7 329.8h0.75M440.4 330.8h0.75M426.1 335.0h0.75M434.8 332.2h0.75M449.6 328.1h0.75M439.2 331.3h0.75M440.5 331.8h0.75M442.0 328.8h0.75M433.9 333.6h0.75M446.3 328.9h0.75M445.0 332.6h0.75M429.1 329.7h0.75M447.0 327.6h0.75M442.3 327.9h0.75M434.1 331.2h0.75M429.4 335.2h0.75M437.0 329.3h0.75M437.3 332.7h0.75M441.4 329.1h0.75M440.8 330.0h0.75M434.7 329.4h0.75M444.6 330.5h0.75M429.6 331.0h0.75M438.5 330.1h0.75M430.4 330.7h0.75M437.4 330.1h0.75M438.6 331.0h0.75M438.7 329.8h0.75M440.6 328.8h0.75M428.6 334.3h0.75M434.7 329.2h0.75M432.4 329.9h0.75M442.8 327.3h0.75M449.9 326.8h0.75M438.2 328.0h0.75M438.7 328.3h0.75M435.5 328.5h0.75M469.7 344.6h0.75M483.3 318.4h0.75M486.4 338.2h0.75M485.2 343.0h0.75M475.6 335.7h0.75M478.7 328.4h0.75M484.9 317.5h0.75M488.3 337.6h0.75M481.6 343.5h0.75M471.4 339.6h0.75M490.5 341.3h0.75M460.3 346.8h0.75M464.5 338.7h0.75M475.1 347.0h0.75M469.3 340.4h0.75M483.2 329.6h0.75M494.1 336.9h0.75M486.0 334.4h0.75M465.9 342.8h0.75M497.9 326.4h0.75M498.1 335.9h0.75M489.5 337.7h0.75M465.7 347.8h0.75M483.8 350.5h0.75M483.0 343.6h0.75M482.8 348.3h0.75M488.6 337.1h0.75M460.9 350.7h0.75M479.5 351.1h0.75M482.5 330.9h0.75M471.1 323.2h0.75M495.5 331.4h0.75M484.0 330.9h0.75M475.7 323.7h0.75M479.0 331.6h0.75M488.3 345.3h0.75M494.9 342.1h0.75M486.1 328.3h0.75M480.8 324.9h0.75M473.0 316.9h0.75M484.5 339.2h0.75M459.9 324.0h0.75M496.7 339.7h0.75M467.3 326.1h0.75M479.4 344.7h0.75M473.2 335.6h0.75M490.2 320.1h0.75M471.6 321.9h0.75M461.2 330.5h0.75M477.2 331.8h0.75M473.7 342.8h0.75M482.1 324.8h0.75M453.1 337.4h0.75M474.1 346.2h0.75M463.2 332.2h0.75M485.2 329.1h0.75M455.7 352.0h0.75M471.7 340.4h0.75M499.3 337.7h0.75M480.3 326.2h0.75M498.2 330.6h0.75M482.8 317.2h0.75M470.1 339.4h0.75M494.0 331.5h0.75M492.8 333.6h0.75M479.3 341.1h0.75M464.5 332.2h0.75M483.0 330.0h0.75M472.6 340.2h0.75M483.2 329.6h0.75M501.9 342.0h0.75M490.3 326.4h0.75M475.8 334.7h0.75M478.2 321.4h0.75M475.8 327.0h0.75M484.5 337.0h0.75M487.5 326.8h0.75M474.2 328.1h0.75M452.8 350.0h0.75M475.2 334.5h0.75M461.9 323.2h0.75M474.4 334.7h0.75M478.3 328.7h0.75M472.1 329.3h0.75M469.2 350.5h0.75M484.8 333.7h0.75M480.1 341.7h0.75M476.6 339.6h0.75M474.5 342.4h0.75M490.7 351.0h0.75M459.4 334.1h0.75M502.2 341.0h0.75M468.3 347.6h0.75M467.0 324.9h0.75M486.7 326.6h0.75M482.8 333.2h0.75M472.1 345.4h0.75M486.0 311.8h0.75M474.5 324.1h0.75M470.6 336.0h0.75M498.5 334.8h0.75M486.2 340.4h0.75M500.6 345.5h0.75M485.3 337.4h0.75M481.1 332.1h0.75M494.1 326.2h0.75M491.0 331.3h0.75M466.4 324.1h0.75M496.7 329.7h0.75M488.0 337.2h0.75M462.1 327.8h0.75M470.4 318.4h0.75M486.8 335.3h0.75M471.7 335.3h0.75M467.1 340.3h0.75M497.3 337.0h0.75M500.2 334.9h0.75M483.6 344.1h0.75M475.3 340.2h0.75M462.7 318.8h0.75M485.6 336.0h0.75M466.1 336.5h0.75M466.6 345.9h0.75M476.6 315.5h0.75M458.6 332.1h0.75M462.4 338.4h0.75M479.5 342.8h0.75M499.4 329.0h0.75M471.4 351.9h0.75M480.8 341.9h0.75M490.7 344.6h0.75M492.7 338.9h0.75M481.0 338.1h0.75M486.0 324.3h0.75M472.4 344.8h0.75M500.8 324.9h0.75M500.9 324.8h0.75M480.3 320.2h0.75M471.0 340.4h0.75M474.1 329.6h0.75M468.8 338.2h0.75M468.9 338.8h0.75M491.8 324.1h0.75M476.2 311.8h0.75M470.6 332.1h0.75M464.9 325.1h0.75M459.5 309.6h0.75M477.3 333.3h0.75M493.3 334.2h0.75M471.3 342.1h0.75M467.7 331.4h0.75M473.2 331.3h0.75M461.2 341.3h0.75M502.7 330.3h0.75M477.5 324.6h0.75M481.9 320.9h0.75M465.1 329.6h0.75M466.3 330.3h0.75M468.7 332.6h0.75M484.0 342.1h0.75M481.5 345.6h0.75M490.0 326.1h0.75M476.8 329.4h0.75M456.9 334.4h0.75M473.4 343.6h0.75M489.2 325.4h0.75M485.6 319.6h0.75M471.3 340.3h0.75M446.8 335.1h0.75M476.2 335.4h0.75M467.4 334.5h0.75M491.0 340.7h0.75M485.2 336.7h0.75M476.8 334.8h0.75M496.2 329.3h0.75M486.6 333.7h0.75M453.5 328.9h0.75M478.4 334.9h0.75M472.7 350.9h0.75M496.0 316.9h0.75M497.0 351.7h0.75M485.0 346.4h0.75M476.4 340.8h0.75M471.4 343.7h0.75M473.0 328.8h0.75M497.4 325.4h0.75M478.4 337.1h0.75M475.7 336.2h0.75M471.3 338.1h0.75M488.5 337.1h0.75M469.0 337.7h0.75M479.6 336.4h0.75M475.5 329.3h0.75M478.0 345.4h0.75M485.2 342.0h0.75M487.6 327.2h0.75M484.2 332.4h0.75M462.8 339.0h0.75M480.0 329.6h0.75M465.4 338.3h0.75M460.5 335.6h0.75M479.5 334.5h0.75M497.9 327.2h0.75M476.3 341.5h0.75M473.3 328.7h0.75M489.3 339.7h0.75M477.2 340.0h0.75M486.6 333.3h0.75M470.1 344.9h0.75M493.8 347.8h0.75M502.4 338.9h0.75M488.6 329.6h0.75M488.4 324.1h0.75M473.0 336.4h0.75M490.1 329.5h0.75M469.6 343.7h0.75M461.5 334.7h0.75M472.3 351.1h0.75M472.0 333.2h0.75M480.7 337.7h0.75M480.4 329.4h0.75M464.4 344.7h0.75M490.0 327.8h0.75M462.0 344.0h0.75M495.6 327.2h0.75M476.8 326.2h0.75M494.7 321.0h0.75M462.1 349.5h0.75M472.5 336.7h0.75M474.3 333.8h0.75M496.0 323.8h0.75M490.2 334.8h0.75M498.0 329.8h0.75M481.4 335.7h0.75M456.8 317.1h0.75M478.2 327.2h0.75M464.8 327.2h0.75M481.4 344.5h0.75M489.9 334.7h0.75M466.8 333.1h0.75M466.3 327.5h0.75M481.2 336.3h0.75M488.7 334.6h0.75M490.8 321.2h0.75M488.6 344.1h0.75M495.4 340.1h0.75M447.0 342.7h0.75M463.5 339.6h0.75M493.9 348.7h0.75M452.9 340.1h0.75M452.6 342.9h0.75M476.6 349.1h0.75M495.8 337.7h0.75M447.0 342.6h0.75M495.9 343.9h0.75M480.8 350.0h0.75M464.1 342.6h0.75M484.5 346.9h0.75M498.5 340.8h0.75M496.0 344.4h0.75M490.5 346.9h0.75M470.8 350.4h0.75M439.5 341.0h0.75M465.8 349.8h0.75M446.3 349.2h0.75M440.0 342.1h0.75M464.3 348.1h0.75M468.1 350.3h0.75M479.1 342.7h0.75M468.0 342.8h0.75M490.8 341.4h0.75M446.0 340.4h0.75M450.5 349.7h0.75M478.7 340.4h0.75M461.5 351.1h0.75M496.5 340.1h0.75M495.4 337.4h0.75M498.9 341.7h0.75M496.0 336.9h0.75M478.8 351.6h0.75M487.4 345.8h0.75M444.4 340.3h0.75M495.3 350.6h0.75M448.6 342.0h0.75M474.0 341.4h0.75M448.1 350.6h0.75M441.5 346.8h0.75M460.6 344.1h0.75M490.7 348.6h0.75M484.4 336.7h0.75M486.7 349.4h0.75M434.3 340.1h0.75M481.6 350.7h0.75M469.2 351.0h0.75M440.0 340.7h0.75M487.4 349.4h0.75M448.7 345.7h0.75M462.7 348.5h0.75M460.1 341.6h0.75M483.6 347.8h0.75M457.7 348.1h0.75M451.3 344.6h0.75M446.4 342.0h0.75M461.4 337.8h0.75M454.5 342.2h0.75M455.5 344.7h0.75M492.5 350.3h0.75M453.4 338.6h0.75M440.0 350.9h0.75M483.5 348.5h0.75M493.0 343.0h0.75M445.4 337.9h0.75M460.1 349.0h0.75M439.8 343.6h0.75M439.6 339.9h0.75M470.1 347.1h0.75M495.3 341.7h0.75M449.3 337.4h0.75M446.4 337.0h0.75M434.4 338.3h0.75M469.0 343.9h0.75M493.0 344.4h0.75M439.9 338.8h0.75M482.8 340.2h0.75M456.7 343.6h0.75M462.3 341.0h0.75M444.3 336.8h0.75M497.6 342.6h0.75M478.8 339.8h0.75M441.6 336.4h0.75M455.9 349.5h0.75M468.4 340.2h0.75M465.5 345.3h0.75M446.9 343.7h0.75M494.4 343.7h0.75M498.4 348.3h0.75M442.6 351.5h0.75M479.1 343.7h0.75M446.5 347.2h0.75M446.6 344.0h0.75M444.1 343.2h0.75M496.9 346.2h0.75M467.5 346.5h0.75M476.7 346.3h0.75M452.7 339.9h0.75M473.5 351.6h0.75M490.7 344.4h0.75M453.4 346.0h0.75M437.3 344.5h0.75M440.2 339.7h0.75M465.3 346.4h0.75M496.7 338.2h0.75" stroke="#8c8c8c" stroke-width="0.75" fill="none" opacity="1.0"/>
<path d="M425.5 346.3h0.85M413.7 341.0h0.85M420.6 347.5h0.85M419.2 347.9h0.85M418.8 347.8h0.85M410.6 345.8h0.85M445.1 346.8h0.85M408.2 346.0h0.85M429.1 340.8h0.85M425.7 344.7h0.85M420.4 346.3h0.85M417.6 346.5h0.85M405.8 347.6h0.85M437.1 341.9h0.85M412.3 344.4h0.85M415.0 339.9h0.85M419.0 345.9h0.85M425.5 342.5h0.85M412.9 346.6h0.85M420.5 349.2h0.85M410.8 340.8h0.85M427.2 339.8h0.85M415.1 345.9h0.85M416.7 345.5h0.85M431.1 344.1h0.85M431.8 345.7h0.85M422.7 338.3h0.85M412.3 346.2h0.85M413.7 349.4h0.85M416.5 346.0h0.85M439.6 344.7h0.85M428.0 343.6h0.85M421.9 341.3h0.85M414.0 343.9h0.85M420.5 338.3h0.85M432.3 342.8h0.85M406.8 341.3h0.85M418.7 340.0h0.85M419.7 343.2h0.85M425.3 346.0h0.85M413.1 336.4h0.85M411.2 341.0h0.85M425.5 340.9h0.85M431.9 347.8h0.85M428.0 350.3h0.85M419.7 342.7h0.85M428.7 339.9h0.85M410.6 345.0h0.85M417.7 346.2h0.85M411.6 346.3h0.85M429.8 338.9h0.85M426.1 338.0h0.85M420.0 347.4h0.85M413.1 343.4h0.85M428.7 339.5h0.85M410.9 340.9h0.85M414.3 342.0h0.85M427.7 338.6h0.85M414.3 343.2h0.85M423.1 345.1h0.85M420.0 341.8h0.85M440.5 341.6h0.85M414.0 350.1h0.85M410.3 342.4h0.85M425.5 342.1h0.85M424.7 345.6h0.85M433.9 347.0h0.85M423.9 344.5h0.85M416.6 341.5h0.85M430.9 342.8h0.85M413.1 344.7h0.85M418.5 339.0h0.85M427.1 338.3h0.85M426.2 346.1h0.85M427.7 340.3h0.85M418.0 342.3h0.85M416.2 348.1h0.85M418.3 341.3h0.85M415.8 351.4h0.85M411.8 340.5h0.85M421.2 340.0h0.85M412.2 345.5h0.85M409.9 346.7h0.85M423.9 343.2h0.85M414.7 343.0h0.85M407.1 345.5h0.85M405.3 349.3h0.85M406.6 347.9h0.85M433.7 338.7h0.85M430.8 345.3h0.85M424.9 347.4h0.85M414.2 343.2h0.85M424.8 350.5h0.85M418.0 343.4h0.85M408.7 342.3h0.85M420.3 346.2h0.85M434.3 342.4h0.85M426.0 337.4h0.85M414.6 344.7h0.85M423.2 335.3h0.85M424.4 343.0h0.85M407.5 347.1h0.85M420.2 342.8h0.85M410.7 344.8h0.85M411.7 342.0h0.85M425.1 345.5h0.85M414.9 348.0h0.85M414.8 336.7h0.85M419.0 341.0h0.85M424.5 338.7h0.85M416.1 346.9h0.85M428.7 340.4h0.85M413.0 340.4h0.85M419.0 344.0h0.85M436.1 341.4h0.85M422.0 344.8h0.85M421.0 340.2h0.85M423.4 346.2h0.85M423.3 344.1h0.85M422.0 344.4h0.85M415.6 351.3h0.85M405.2 337.5h0.85M425.6 345.1h0.85M422.2 351.2h0.85M421.4 340.4h0.85M420.9 348.1h0.85M428.1 345.3h0.85M413.9 343.3h0.85M416.3 337.1h0.85M417.9 336.7h0.85M423.3 347.8h0.85M419.1 343.6h0.85M432.5 339.0h0.85M442.8 345.2h0.85M415.1 336.1h0.85M410.8 342.9h0.85M434.1 346.7h0.85M415.9 346.4h0.85M424.0 342.3h0.85M418.8 341.6h0.85M411.8 345.3h0.85M423.5 336.9h0.85M418.8 343.6h0.85M431.3 343.1h0.85M431.2 342.6h0.85M429.9 342.8h0.85M410.6 347.0h0.85M423.1 337.3h0.85M436.5 344.3h0.85M442.4 346.7h0.85M411.3 341.0h0.85M422.7 341.6h0.85M407.9 342.9h0.85M427.9 343.7h0.85M428.7 343.4h0.85M422.3 344.8h0.85M406.5 344.8h0.85M423.8 346.2h0.85M431.4 344.1h0.85M412.0 339.9h0.85M417.5 348.9h0.85M415.1 346.9h0.85M417.4 346.9h0.85M419.8 342.2h0.85M413.8 344.7h0.85M417.7 341.1h0.85M412.5 341.5h0.85M430.8 344.0h0.85M410.1 345.2h0.85M408.0 344.8h0.85M415.7 342.2h0.85M420.2 342.3h0.85M418.7 342.9h0.85M408.6 342.0h0.85M431.3 339.6h0.85M406.6 342.8h0.85M417.2 345.4h0.85M412.2 344.9h0.85M419.1 347.1h0.85M419.7 342.9h0.85M424.1 343.8h0.85M419.1 336.0h0.85M428.6 342.4h0.85M406.2 342.2h0.85M417.6 342.6h0.85M419.5 343.5h0.85M417.7 339.2h0.85M422.7 344.6h0.85M417.0 336.8h0.85M411.1 345.9h0.85M422.2 343.2h0.85M422.0 339.1h0.85M429.8 342.0h0.85M419.6 344.0h0.85M417.0 340.5h0.85M407.3 347.7h0.85M414.9 347.2h0.85M412.3 340.0h0.85M406.9 345.1h0.85M413.8 347.3h0.85M405.3 344.1h0.85M415.5 340.2h0.85M436.5 344.2h0.85M411.7 345.0h0.85M423.6 340.5h0.85M410.3 342.5h0.85M418.9 339.9h0.85M415.4 344.6h0.85M411.2 348.6h0.85M421.7 341.3h0.85M429.7 342.5h0.85M414.9 347.1h0.85M408.3 346.6h0.85M422.3 343.4h0.85M416.5 347.4h0.85M419.0 342.0h0.85M409.5 348.7h0.85M416.2 343.0h0.85M416.8 338.7h0.85M420.6 347.1h0.85M426.5 345.7h0.85M425.7 343.2h0.85M430.8 346.8h0.85M426.0 342.1h0.85M410.7 341.7h0.85M440.5 341.8h0.85M412.0 344.6h0.85M431.4 342.5h0.85M433.1 345.5h0.85M431.5 348.7h0.85M417.6 344.9h0.85M414.6 339.8h0.85M413.6 342.8h0.85M436.6 340.4h0.85M415.3 346.4h0.85M427.6 339.8h0.85M421.5 336.4h0.85M426.5 351.4h0.85M410.9 341.4h0.85M415.5 341.1h0.85M443.4 345.5h0.85M440.0 343.3h0.85M405.4 344.0h0.85M427.7 345.5h0.85M434.1 346.2h0.85M417.4 340.7h0.85M417.2 345.8h0.85M419.1 341.6h0.85M435.6 338.6h0.85M436.9 343.3h0.85M415.3 347.3h0.85M414.4 344.2h0.85M419.7 340.7h0.85M410.6 340.2h0.85M419.7 341.3h0.85M431.0 347.6h0.85M434.3 345.7h0.85M423.0 340.0h0.85M428.0 348.8h0.85M420.8 339.9h0.85M418.1 344.1h0.85M419.9 338.2h0.85M414.1 347.2h0.85M408.8 346.0h0.85M417.0 342.7h0.85M418.5 349.6h0.85M426.1 348.1h0.85M428.1 351.7h0.85M441.3 341.0h0.85M418.9 345.3h0.85M415.8 344.7h0.85M418.3 346.9h0.85M413.9 342.1h0.85M424.3 348.1h0.85M414.6 338.7h0.85M426.1 338.0h0.85M406.5 347.8h0.85M415.7 347.5h0.85M408.9 346.5h0.85M417.5 341.0h0.85M424.6 349.6h0.85M433.4 344.4h0.85M409.8 344.2h0.85M415.5 348.6h0.85M434.1 345.2h0.85M413.6 342.2h0.85M435.2 341.6h0.85M410.7 342.6h0.85M429.8 342.1h0.85M425.4 345.2h0.85M418.6 349.5h0.85M412.5 347.9h0.85M419.4 338.7h0.85M410.5 344.4h0.85M430.3 346.0h0.85M411.8 340.0h0.85M422.8 341.9h0.85M427.2 346.0h0.85M421.4 346.0h0.85M412.4 343.6h0.85M423.4 348.0h0.85M412.0 342.0h0.85M420.9 341.5h0.85M416.3 346.6h0.85M426.7 341.5h0.85M412.0 341.8h0.85M434.2 344.2h0.85M410.0 343.3h0.85M420.1 341.8h0.85M405.9 343.4h0.85M427.8 341.1h0.85M425.3 339.5h0.85M411.4 339.9h0.85M421.3 347.1h0.85M416.5 343.0h0.85M422.4 339.1h0.85M421.1 345.5h0.85M440.1 344.2h0.85M411.4 340.9h0.85M415.3 346.6h0.85M409.2 340.1h0.85M409.2 343.8h0.85M414.9 344.6h0.85M411.5 343.6h0.85M425.1 340.0h0.85M415.9 347.9h0.85M405.2 344.3h0.85M419.6 343.4h0.85M406.0 346.5h0.85M412.2 341.8h0.85M415.4 341.8h0.85M424.2 350.1h0.85M417.1 339.6h0.85M414.4 343.5h0.85M484.5 335.6h0.85M483.3 341.9h0.85M487.5 339.3h0.85M471.2 343.6h0.85M469.6 350.6h0.85M485.2 340.8h0.85M485.1 341.1h0.85M478.6 341.8h0.85M476.5 343.1h0.85M490.6 335.9h0.85M466.7 323.7h0.85M489.0 325.8h0.85M479.5 338.2h0.85M476.9 336.1h0.85M483.5 336.4h0.85M474.5 346.0h0.85M491.8 320.5h0.85M471.6 343.5h0.85M480.0 331.7h0.85M479.4 334.8h0.85M482.8 326.5h0.85M471.2 328.4h0.85M483.3 331.7h0.85M469.7 340.1h0.85M478.4 331.4h0.85M485.0 330.2h0.85M471.2 327.0h0.85M480.7 328.6h0.85M480.2 342.9h0.85M498.5 328.7h0.85M485.5 340.1h0.85M478.7 327.3h0.85M483.3 321.2h0.85M488.6 345.1h0.85M469.5 328.1h0.85M484.4 338.5h0.85M478.2 341.9h0.85M492.7 336.6h0.85M470.6 330.1h0.85M479.6 333.8h0.85M477.5 337.5h0.85M467.1 333.8h0.85M475.4 340.7h0.85M482.4 325.4h0.85M465.2 339.9h0.85M484.0 327.5h0.85M473.9 334.8h0.85M483.0 328.3h0.85M475.9 338.9h0.85M476.6 327.4h0.85M487.8 339.6h0.85M479.2 335.0h0.85M473.9 338.6h0.85M486.2 329.3h0.85M475.4 343.0h0.85M479.4 349.5h0.85M482.4 335.4h0.85M470.9 340.0h0.85M475.6 339.7h0.85M474.1 325.8h0.85M473.5 331.0h0.85M481.6 324.1h0.85M479.8 336.8h0.85M497.0 336.4h0.85M478.0 346.7h0.85M479.2 323.0h0.85M474.9 333.6h0.85M487.4 327.7h0.85M483.0 331.5h0.85M477.9 340.7h0.85M492.4 348.7h0.85M476.6 342.4h0.85M469.3 344.0h0.85M474.6 326.8h0.85M468.0 350.0h0.85M482.0 349.7h0.85M466.2 343.9h0.85M471.7 346.1h0.85M479.1 333.0h0.85M475.7 339.7h0.85M485.2 337.4h0.85M485.3 341.1h0.85M483.6 325.4h0.85M470.5 312.4h0.85M477.9 339.9h0.85M479.0 332.9h0.85M471.7 337.5h0.85M476.1 325.1h0.85M468.1 332.7h0.85M478.0 343.4h0.85M481.1 338.6h0.85M480.5 334.6h0.85M488.6 339.1h0.85M492.9 324.7h0.85M491.1 333.6h0.85M482.1 345.1h0.85M489.5 345.3h0.85M474.6 337.4h0.85M481.8 333.6h0.85M472.0 340.7h0.85M483.6 326.2h0.85M485.5 332.5h0.85M478.3 341.5h0.85M476.6 338.0h0.85M483.9 340.5h0.85M494.5 343.3h0.85M485.9 337.7h0.85M479.2 340.0h0.85M490.9 337.8h0.85M484.0 335.2h0.85M485.4 331.0h0.85M491.7 341.4h0.85M474.4 323.1h0.85M489.1 334.9h0.85M478.2 334.8h0.85M489.3 342.0h0.85M490.3 335.9h0.85M477.7 340.4h0.85M465.5 335.8h0.85M471.0 342.6h0.85M473.9 335.5h0.85M485.2 335.7h0.85M481.5 333.0h0.85M491.4 330.4h0.85M491.1 335.8h0.85M482.6 341.9h0.85M484.3 343.4h0.85M483.5 341.6h0.85M477.7 326.7h0.85M481.2 329.9h0.85M490.4 336.9h0.85M475.6 329.3h0.85M472.3 344.0h0.85M488.2 341.5h0.85M488.0 338.2h0.85M478.7 336.3h0.85M476.7 328.1h0.85M487.8 335.1h0.85M484.4 331.6h0.85M491.9 348.6h0.85M487.3 328.0h0.85M478.0 336.8h0.85M477.8 326.5h0.85M472.2 332.6h0.85M489.1 330.7h0.85M476.8 341.0h0.85M465.4 347.3h0.85M487.8 343.7h0.85M468.7 340.2h0.85M469.8 334.1h0.85M474.1 329.4h0.85M479.4 348.7h0.85M474.8 342.8h0.85M474.3 327.0h0.85M473.2 334.5h0.85M476.1 332.2h0.85M470.2 351.2h0.85M483.7 324.2h0.85M470.5 340.6h0.85M476.6 345.0h0.85M486.9 335.4h0.85M470.5 339.7h0.85M489.5 341.4h0.85M476.6 344.1h0.85M481.3 341.2h0.85M486.4 342.9h0.85M470.0 334.2h0.85M458.0 347.5h0.85M482.1 334.3h0.85M476.2 340.9h0.85M483.8 304.8h0.85M474.6 338.9h0.85M477.0 332.4h0.85M480.3 332.0h0.85M491.6 337.5h0.85M478.2 333.8h0.85M494.8 337.8h0.85M492.0 325.2h0.85M461.1 347.5h0.85M473.3 334.2h0.85M489.5 335.0h0.85M481.3 318.2h0.85M482.7 318.2h0.85M473.9 323.6h0.85M474.4 341.4h0.85M479.9 330.3h0.85M485.0 331.6h0.85M475.0 322.3h0.85M488.6 335.3h0.85M476.2 337.6h0.85M478.6 342.7h0.85M480.1 342.3h0.85M484.7 341.6h0.85M483.6 333.5h0.85M481.4 332.1h0.85M473.0 315.8h0.85M475.4 331.1h0.85M480.4 340.3h0.85M492.4 325.8h0.85M478.3 332.1h0.85M485.0 322.7h0.85M487.3 337.2h0.85M478.4 346.7h0.85M482.0 329.1h0.85M477.5 331.4h0.85M481.1 340.5h0.85M471.7 328.4h0.85M497.9 329.8h0.85M472.7 346.4h0.85M482.0 330.9h0.85M493.1 333.6h0.85M481.2 333.3h0.85M477.7 339.4h0.85M487.6 350.4h0.85M479.4 332.0h0.85M468.7 339.5h0.85M490.9 332.1h0.85M485.2 330.1h0.85M481.8 333.4h0.85M474.5 339.2h0.85M493.1 345.4h0.85M479.1 347.6h0.85M476.5 343.7h0.85M471.6 335.7h0.85M473.6 333.0h0.85M479.4 333.6h0.85M481.7 326.2h0.85M481.3 351.2h0.85M490.8 343.4h0.85M479.6 334.0h0.85M474.1 336.7h0.85M490.7 349.7h0.85M468.6 342.0h0.85M479.1 347.7h0.85M464.1 331.0h0.85M483.0 347.6h0.85M484.3 336.7h0.85M481.4 347.9h0.85M478.7 332.8h0.85M468.0 347.2h0.85M487.0 318.8h0.85M484.9 336.7h0.85M472.7 341.1h0.85M478.5 333.2h0.85M478.5 315.8h0.85M472.1 337.8h0.85M487.1 332.4h0.85M489.7 330.4h0.85M498.2 327.6h0.85M483.5 323.2h0.85M477.1 341.7h0.85M473.2 335.5h0.85M483.3 328.3h0.85M490.4 330.1h0.85M488.9 337.7h0.85M473.5 331.3h0.85M487.4 324.3h0.85M479.1 340.9h0.85M477.7 334.0h0.85M479.9 338.3h0.85M482.1 339.0h0.85M482.6 341.5h0.85M469.4 340.8h0.85M493.5 341.9h0.85M486.7 324.4h0.85M476.5 335.0h0.85M464.3 333.9h0.85M491.1 333.7h0.85M466.3 343.5h0.85M475.1 336.4h0.85M482.3 340.0h0.85M478.1 344.0h0.85M484.3 334.5h0.85M482.7 340.7h0.85M483.7 338.8h0.85M482.4 337.8h0.85M475.6 346.7h0.85M467.2 350.1h0.85M483.5 308.3h0.85M468.8 345.2h0.85M480.2 306.1h0.85M478.8 346.9h0.85M483.2 318.4h0.85M460.7 349.3h0.85M489.0 345.6h0.85M479.6 342.2h0.85M485.6 348.5h0.85M482.5 334.6h0.85M484.3 332.5h0.85M481.4 351.9h0.85M478.0 345.2h0.85M484.0 338.3h0.85M481.4 327.1h0.85M479.5 322.3h0.85M486.2 348.8h0.85M476.2 326.8h0.85M476.8 326.9h0.85M476.3 338.3h0.85M487.5 349.4h0.85M480.8 340.6h0.85M481.5 321.8h0.85M483.7 348.0h0.85M487.0 339.8h0.85M481.5 326.6h0.85M478.1 328.8h0.85M481.5 344.4h0.85M478.1 348.8h0.85M488.6 334.3h0.85M487.1 345.5h0.85M486.2 346.3h0.85M482.3 336.6h0.85M476.2 334.6h0.85M480.5 344.2h0.85M475.1 348.7h0.85M489.9 334.2h0.85M477.8 331.1h0.85M474.3 347.6h0.85M482.8 322.7h0.85M482.4 335.2h0.85M492.5 348.6h0.85M501.7 343.5h0.85M479.8 348.5h0.85M471.8 339.9h0.85M497.4 342.7h0.85M476.0 335.0h0.85M473.2 339.9h0.85M478.2 339.6h0.85M476.7 338.3h0.85M467.7 342.2h0.85M476.6 346.2h0.85M489.1 318.3h0.85M485.9 343.6h0.85M490.3 331.2h0.85M474.6 332.3h0.85M476.2 332.4h0.85M486.7 325.9h0.85M472.9 338.8h0.85M480.3 347.4h0.85M483.2 330.4h0.85M470.6 342.8h0.85M472.6 348.8h0.85M472.8 325.8h0.85M475.6 340.8h0.85M487.2 327.0h0.85M485.6 351.3h0.85M475.9 341.0h0.85M476.3 320.3h0.85M479.1 326.8h0.85M479.0 337.5h0.85M483.9 332.5h0.85M483.8 351.4h0.85M483.9 333.6h0.85M484.5 336.7h0.85M483.2 347.8h0.85M488.2 346.3h0.85M490.1 326.7h0.85M479.9 339.4h0.85M485.7 338.7h0.85M472.0 335.4h0.85M471.7 341.9h0.85M492.9 328.1h0.85M477.1 337.8h0.85M475.8 337.5h0.85M470.2 332.2h0.85M480.4 342.1h0.85M476.0 314.5h0.85M477.2 341.3h0.85M476.2 341.6h0.85M489.5 329.7h0.85M483.2 333.2h0.85M490.9 329.2h0.85M481.8 334.2h0.85M481.7 336.4h0.85M484.3 335.9h0.85M487.1 333.2h0.85M478.3 331.8h0.85M481.6 340.5h0.85M477.7 340.8h0.85M478.2 340.9h0.85M487.2 310.5h0.85M479.5 327.1h0.85M477.0 338.6h0.85M475.1 349.3h0.85M474.3 342.0h0.85M481.4 339.6h0.85M471.9 341.1h0.85M490.9 343.1h0.85M480.8 328.0h0.85M474.7 342.5h0.85M500.6 323.4h0.85M476.6 335.9h0.85M481.0 335.4h0.85M483.6 339.0h0.85M464.8 347.2h0.85M481.4 348.6h0.85M478.0 324.0h0.85M482.0 342.3h0.85M481.3 327.5h0.85M468.3 349.2h0.85M475.7 341.2h0.85M479.7 341.9h0.85M481.1 335.9h0.85M472.1 343.3h0.85M471.6 335.4h0.85M482.1 330.9h0.85M474.2 342.2h0.85M464.8 338.7h0.85M469.0 335.2h0.85M487.8 332.0h0.85M484.7 334.3h0.85M482.9 328.3h0.85M489.1 318.1h0.85M478.4 329.8h0.85M486.4 332.3h0.85M482.2 347.6h0.85M487.9 343.5h0.85M475.7 344.8h0.85M484.2 344.7h0.85M483.5 331.5h0.85M481.0 339.7h0.85M484.5 324.9h0.85M477.1 346.4h0.85M476.1 345.0h0.85M478.6 338.4h0.85M464.2 326.2h0.85M474.6 341.3h0.85M473.2 335.7h0.85M486.2 351.8h0.85M481.9 323.4h0.85M478.3 329.1h0.85M482.5 344.6h0.85M487.2 341.2h0.85M482.8 340.0h0.85M478.8 335.7h0.85M489.5 350.2h0.85M472.5 336.9h0.85M487.1 337.6h0.85M479.0 332.4h0.85M491.3 343.2h0.85M469.1 340.7h0.85M485.6 347.5h0.85M488.2 327.6h0.85M485.8 343.4h0.85M471.3 332.3h0.85M482.1 330.6h0.85M488.1 327.1h0.85M478.4 337.1h0.85M483.5 329.9h0.85M479.0 341.4h0.85M473.5 328.8h0.85M482.7 341.5h0.85M471.4 342.4h0.85M471.4 341.9h0.85M476.5 332.9h0.85M476.1 349.3h0.85M485.5 337.9h0.85M468.6 345.9h0.85M480.1 337.2h0.85M467.4 339.6h0.85M482.4 328.0h0.85M488.0 336.9h0.85M471.2 341.2h0.85M484.8 344.2h0.85M489.1 344.0h0.85M472.4 330.6h0.85M479.6 334.1h0.85M478.2 336.8h0.85M476.2 320.9h0.85M484.9 337.3h0.85M483.6 329.2h0.85M476.6 335.8h0.85M481.7 341.5h0.85M474.9 339.2h0.85M478.2 340.6h0.85M466.7 337.9h0.85M484.9 335.6h0.85M492.3 327.8h0.85M477.8 343.0h0.85M483.8 339.6h0.85M469.0 337.2h0.85M478.2 339.0h0.85M484.6 334.6h0.85M494.4 341.4h0.85M479.6 334.2h0.85M477.2 341.7h0.85M492.5 347.8h0.85M482.7 351.7h0.85M472.1 328.0h0.85M491.0 334.3h0.85M461.3 330.5h0.85M482.0 346.2h0.85M477.8 348.6h0.85M479.6 337.6h0.85M481.2 329.9h0.85M472.1 348.7h0.85M477.7 340.9h0.85M480.0 325.0h0.85M480.5 346.1h0.85M478.2 344.7h0.85M478.6 332.0h0.85M472.4 331.7h0.85M492.8 322.1h0.85M491.6 334.6h0.85M470.9 320.7h0.85M479.9 334.9h0.85M477.8 345.2h0.85M484.6 348.3h0.85M470.7 333.3h0.85M477.7 344.4h0.85M483.8 324.1h0.85M478.3 338.2h0.85M484.2 328.2h0.85M487.5 330.0h0.85M475.7 332.8h0.85M480.3 351.4h0.85M488.9 330.8h0.85M489.8 336.1h0.85M485.4 336.8h0.85M481.4 328.8h0.85M480.7 331.5h0.85M480.1 326.3h0.85M484.8 350.5h0.85M491.9 331.5h0.85M476.7 342.6h0.85M494.2 334.3h0.85M483.9 331.2h0.85M476.1 322.3h0.85M495.0 341.6h0.85M488.2 349.8h0.85M478.0 336.6h0.85M480.7 331.8h0.85M483.1 333.2h0.85M479.4 334.3h0.85M476.4 320.4h0.85M480.7 326.1h0.85M481.0 338.0h0.85M479.0 348.1h0.85M494.8 331.4h0.85M481.2 340.7h0.85M489.2 338.5h0.85M477.1 341.9h0.85M491.0 332.7h0.85M479.3 342.4h0.85M489.2 333.2h0.85M478.0 329.4h0.85M486.4 344.5h0.85M488.3 326.4h0.85M478.6 348.4h0.85M487.9 338.7h0.85M478.9 339.4h0.85M478.4 329.9h0.85M472.7 333.2h0.85M488.4 326.7h0.85M485.3 333.9h0.85M479.0 338.0h0.85M474.2 323.2h0.85M479.5 345.5h0.85M486.1 323.1h0.85M482.3 339.2h0.85M472.6 332.3h0.85M478.7 342.7h0.85M484.5 347.3h0.85M476.1 349.5h0.85M478.7 330.2h0.85M471.3 326.3h0.85M475.6 341.5h0.85M487.2 342.1h0.85M490.4 337.2h0.85M479.7 345.1h0.85M488.3 336.3h0.85M477.0 345.3h0.85M476.0 338.2h0.85M475.4 330.6h0.85M480.1 342.1h0.85M483.5 324.2h0.85M466.0 335.6h0.85M487.8 334.7h0.85M486.0 349.2h0.85M475.2 328.8h0.85M479.7 336.3h0.85M484.7 333.1h0.85M483.5 340.6h0.85M478.3 325.9h0.85M477.0 349.5h0.85M478.0 329.5h0.85M492.7 333.9h0.85M476.1 332.1h0.85M482.5 326.5h0.85M484.0 329.9h0.85M483.9 332.8h0.85M474.2 339.0h0.85M491.4 324.0h0.85M487.0 332.6h0.85M479.7 333.9h0.85M478.2 327.8h0.85M478.3 343.5h0.85M469.4 325.0h0.85" stroke="#555" stroke-width="0.85" fill="none" opacity="1.0"/>
<path d="M413.1 340.8h1.0M420.2 341.0h1.0M416.4 340.5h1.0M414.8 346.8h1.0M417.3 347.4h1.0M424.3 341.6h1.0M408.1 343.8h1.0M422.0 344.5h1.0M419.6 345.2h1.0M417.0 344.0h1.0M420.0 346.2h1.0M411.1 343.2h1.0M414.5 342.6h1.0M414.6 347.3h1.0M421.4 342.9h1.0M421.4 344.5h1.0M415.4 340.6h1.0M408.0 339.7h1.0M420.2 343.8h1.0M417.8 342.2h1.0M413.1 343.3h1.0M412.1 348.8h1.0M418.4 343.5h1.0M420.9 342.2h1.0M421.2 341.6h1.0M411.5 340.9h1.0M432.1 344.6h1.0M410.4 342.3h1.0M422.4 340.9h1.0M425.8 347.0h1.0M419.4 342.5h1.0M424.2 345.8h1.0M417.5 344.8h1.0M416.4 344.2h1.0M416.5 348.4h1.0M417.1 343.6h1.0M413.5 345.7h1.0M412.5 339.9h1.0M422.4 344.0h1.0M420.6 335.1h1.0M412.0 342.8h1.0M414.0 340.1h1.0M423.5 343.8h1.0M420.7 345.7h1.0M408.6 342.0h1.0M426.4 344.2h1.0M414.4 348.6h1.0M429.2 346.4h1.0M412.0 344.6h1.0M424.0 343.3h1.0M417.2 343.8h1.0M422.0 343.7h1.0M418.2 343.9h1.0M411.2 340.6h1.0M413.5 347.4h1.0M414.9 343.8h1.0M421.9 347.4h1.0M410.3 343.7h1.0M419.4 346.5h1.0M411.0 343.6h1.0M416.5 348.0h1.0M412.5 340.2h1.0M411.5 341.3h1.0M408.8 340.3h1.0M426.2 345.0h1.0M413.5 342.3h1.0M410.5 342.7h1.0M424.1 342.8h1.0M419.1 344.1h1.0M422.9 345.7h1.0M426.1 343.4h1.0M415.5 348.1h1.0M414.9 343.3h1.0M424.2 347.7h1.0M416.6 345.6h1.0M410.7 344.1h1.0M413.1 341.7h1.0M406.8 349.4h1.0M420.2 344.5h1.0M418.0 346.3h1.0M411.5 346.0h1.0M417.0 346.0h1.0M415.0 346.1h1.0M418.6 346.7h1.0M405.8 351.2h1.0M417.2 343.6h1.0M422.6 345.5h1.0M411.0 348.0h1.0M421.5 345.2h1.0M422.8 343.7h1.0M415.8 348.7h1.0M413.6 341.9h1.0M413.9 342.2h1.0M408.2 341.6h1.0M432.7 340.2h1.0M419.1 346.9h1.0M414.4 345.6h1.0M418.3 349.0h1.0M412.5 342.0h1.0M418.1 341.8h1.0M422.0 346.5h1.0M409.9 342.9h1.0M417.5 343.6h1.0M412.8 341.4h1.0M420.0 340.7h1.0M415.3 342.1h1.0M417.0 346.3h1.0M416.9 348.1h1.0M416.3 343.4h1.0M421.1 346.4h1.0M410.0 346.0h1.0M405.9 346.0h1.0M431.7 342.7h1.0M413.1 345.8h1.0M427.1 346.4h1.0M416.7 344.0h1.0M413.3 345.9h1.0M408.0 346.4h1.0M424.5 339.8h1.0M415.7 342.0h1.0M419.8 343.4h1.0M416.5 340.7h1.0M420.4 344.2h1.0M416.0 341.4h1.0M414.0 345.8h1.0M415.8 345.2h1.0M424.3 342.5h1.0M416.8 345.2h1.0M425.1 342.3h1.0M428.8 340.9h1.0M416.1 345.3h1.0M415.7 343.4h1.0M421.7 342.3h1.0M426.0 347.3h1.0M417.5 347.5h1.0M411.6 345.6h1.0M413.7 346.5h1.0M408.9 341.2h1.0M415.5 341.4h1.0M411.2 350.1h1.0M414.0 341.7h1.0M414.2 342.9h1.0M411.4 340.5h1.0M419.7 341.0h1.0M415.8 340.6h1.0M417.7 345.0h1.0M413.8 343.8h1.0M412.3 347.1h1.0M418.0 341.9h1.0M415.7 341.7h1.0M426.0 346.7h1.0M418.7 346.2h1.0M413.7 343.5h1.0M421.9 342.2h1.0M420.9 338.9h1.0M415.3 341.1h1.0M425.3 342.2h1.0M407.5 344.7h1.0M415.7 348.1h1.0M417.0 341.9h1.0M415.9 344.3h1.0M425.4 345.0h1.0M412.1 343.9h1.0M423.5 342.0h1.0M417.7 345.1h1.0M424.1 341.2h1.0M407.7 343.4h1.0M420.7 345.3h1.0M410.2 344.9h1.0M407.6 342.8h1.0M414.5 348.5h1.0M417.2 340.7h1.0M410.3 345.1h1.0M427.3 342.9h1.0M414.2 343.5h1.0M421.6 346.2h1.0M416.8 348.1h1.0M408.6 348.2h1.0M421.9 342.8h1.0M421.3 340.5h1.0M417.6 343.2h1.0M419.5 342.5h1.0M411.4 344.8h1.0M416.5 343.8h1.0M413.2 344.3h1.0M418.9 343.2h1.0M420.5 341.5h1.0M420.4 341.2h1.0M421.9 340.0h1.0M420.8 345.2h1.0M430.1 340.3h1.0M424.2 341.6h1.0M417.6 346.8h1.0M419.7 344.6h1.0M415.1 349.4h1.0M425.8 346.4h1.0M411.2 342.9h1.0M420.4 345.7h1.0M417.3 343.1h1.0M418.2 342.4h1.0M421.6 344.6h1.0M408.4 338.6h1.0M415.2 346.5h1.0M421.4 342.1h1.0M413.9 337.9h1.0M417.1 343.0h1.0M419.1 344.3h1.0M419.1 347.1h1.0M415.1 339.1h1.0M422.1 344.6h1.0M414.1 347.8h1.0M416.6 344.3h1.0M413.8 348.0h1.0M418.2 342.7h1.0M423.6 342.2h1.0M425.7 340.3h1.0M416.7 346.5h1.0M419.7 341.2h1.0M408.7 347.4h1.0M421.1 345.1h1.0M425.3 342.9h1.0M414.3 347.4h1.0M420.6 348.1h1.0M410.1 347.5h1.0M426.7 338.9h1.0M416.1 344.9h1.0M421.2 340.4h1.0M412.8 338.3h1.0M416.2 340.9h1.0M413.4 338.8h1.0M416.1 347.2h1.0M428.1 345.1h1.0M417.3 347.1h1.0M421.0 343.1h1.0M415.7 344.9h1.0M414.1 345.8h1.0M409.5 341.0h1.0M422.2 347.2h1.0M410.9 343.0h1.0M429.8 343.7h1.0M415.6 344.5h1.0M418.7 344.2h1.0M423.3 341.0h1.0M420.3 339.6h1.0M416.0 345.3h1.0M433.7 348.0h1.0M408.7 350.3h1.0M419.3 346.5h1.0M423.2 349.0h1.0M416.5 344.9h1.0M411.3 341.2h1.0M415.1 342.7h1.0M414.4 343.6h1.0M414.8 343.7h1.0M416.7 345.6h1.0M419.7 344.2h1.0M411.9 346.8h1.0M419.7 340.2h1.0M410.1 345.2h1.0M419.8 341.0h1.0M421.2 346.7h1.0M417.5 341.5h1.0M418.6 344.3h1.0M410.8 343.7h1.0M416.9 343.7h1.0M425.6 340.3h1.0M412.9 343.4h1.0M415.6 343.6h1.0M426.3 341.0h1.0M417.5 345.5h1.0M416.4 342.9h1.0M414.5 341.1h1.0M417.4 346.9h1.0M428.6 350.8h1.0M415.8 344.2h1.0M422.8 340.7h1.0M425.3 339.4h1.0M419.0 343.4h1.0M422.9 343.6h1.0M410.3 345.3h1.0M421.0 342.0h1.0M411.2 341.0h1.0M419.0 347.6h1.0M419.9 341.1h1.0M420.2 344.5h1.0M412.9 341.1h1.0M418.5 343.8h1.0M415.1 346.6h1.0M406.9 345.2h1.0M423.4 341.5h1.0M413.5 340.0h1.0M416.0 346.5h1.0M422.7 340.0h1.0M415.1 347.1h1.0M416.9 350.1h1.0M417.6 339.8h1.0M418.8 345.6h1.0M421.2 344.9h1.0M424.3 344.4h1.0M428.6 344.2h1.0M418.4 346.2h1.0M410.2 343.2h1.0M419.2 346.2h1.0M420.4 344.7h1.0M414.2 344.1h1.0M419.5 341.8h1.0M424.1 342.5h1.0M413.3 345.8h1.0M419.3 346.8h1.0M416.4 344.8h1.0M416.8 343.4h1.0M423.0 339.3h1.0M422.2 340.9h1.0M411.4 341.4h1.0M424.5 347.0h1.0M431.2 344.6h1.0M417.7 345.9h1.0M414.1 341.2h1.0M418.7 344.7h1.0M423.7 345.9h1.0M412.6 345.5h1.0M413.2 342.2h1.0M416.0 346.6h1.0M414.8 349.1h1.0M418.2 343.5h1.0M420.7 344.3h1.0M419.5 346.1h1.0M417.4 343.4h1.0M410.6 342.6h1.0M418.1 343.6h1.0M414.7 338.7h1.0M417.3 345.8h1.0M412.6 342.5h1.0M416.1 345.9h1.0M413.3 341.6h1.0M417.8 341.0h1.0M417.2 346.9h1.0M422.1 342.7h1.0M413.7 344.8h1.0M411.9 341.9h1.0M415.0 342.7h1.0M418.7 344.4h1.0M419.3 344.3h1.0M410.8 345.2h1.0M410.8 342.2h1.0M420.9 345.1h1.0M420.7 343.0h1.0M422.7 346.0h1.0M417.4 346.4h1.0M413.5 340.4h1.0M406.2 346.7h1.0M420.0 341.7h1.0M413.0 349.3h1.0M407.8 343.3h1.0M423.4 341.2h1.0M413.3 340.5h1.0M416.3 342.3h1.0M416.2 339.7h1.0M414.4 349.5h1.0M415.6 343.4h1.0M418.8 345.6h1.0M416.0 346.8h1.0M416.0 343.6h1.0M418.6 339.5h1.0M406.3 343.0h1.0M419.7 346.7h1.0M417.7 343.8h1.0M411.8 342.2h1.0M427.8 341.6h1.0M421.6 340.8h1.0M416.6 341.3h1.0M412.9 343.5h1.0M421.2 340.2h1.0M415.7 344.6h1.0M419.9 343.9h1.0M418.1 341.7h1.0M413.1 341.7h1.0M419.4 344.4h1.0M410.4 345.8h1.0M417.1 341.4h1.0M406.5 342.5h1.0M418.4 346.7h1.0M422.0 342.6h1.0M419.7 346.2h1.0M411.2 341.7h1.0M425.0 342.5h1.0M416.2 345.0h1.0M407.9 341.7h1.0M416.8 340.7h1.0M413.4 341.3h1.0M413.4 342.5h1.0M424.8 345.3h1.0M422.3 343.6h1.0M412.2 343.5h1.0M420.8 345.5h1.0M415.8 345.3h1.0M413.1 344.5h1.0M421.8 344.9h1.0M424.1 344.5h1.0M413.5 341.2h1.0M425.0 345.1h1.0M420.5 346.6h1.0M415.1 344.9h1.0M421.2 346.8h1.0M414.5 345.7h1.0M417.8 346.9h1.0M410.0 336.9h1.0M418.5 347.6h1.0M421.8 347.0h1.0M407.0 340.0h1.0M424.1 345.6h1.0M411.4 342.9h1.0M428.4 341.7h1.0M420.9 346.7h1.0M407.6 343.3h1.0M422.8 343.2h1.0M417.3 340.3h1.0M412.7 341.2h1.0M421.8 345.2h1.0M418.0 343.5h1.0M420.5 346.2h1.0M416.0 343.6h1.0M417.5 343.7h1.0M418.7 344.2h1.0M414.6 341.3h1.0M413.8 344.8h1.0M412.5 347.0h1.0M419.7 343.8h1.0M416.6 342.7h1.0M416.4 342.1h1.0M427.1 342.4h1.0M415.9 339.6h1.0M421.1 347.9h1.0M424.5 342.9h1.0M421.9 346.5h1.0M412.7 345.7h1.0M420.3 346.5h1.0M413.5 341.6h1.0M413.8 343.7h1.0M412.4 348.4h1.0M416.8 344.1h1.0M409.5 341.7h1.0M421.7 341.3h1.0M414.5 346.9h1.0M416.8 343.4h1.0M416.4 345.3h1.0M411.9 345.9h1.0M416.8 345.1h1.0M426.3 344.1h1.0M419.7 344.9h1.0M416.3 346.3h1.0M414.7 347.7h1.0M406.1 340.9h1.0M411.6 343.0h1.0M416.6 345.3h1.0M421.2 345.0h1.0M419.6 344.6h1.0M422.5 341.1h1.0M417.6 341.0h1.0M420.0 339.7h1.0M416.6 347.8h1.0M418.4 343.1h1.0M415.3 344.4h1.0M415.8 347.1h1.0M426.6 345.3h1.0M411.5 348.1h1.0M412.7 344.1h1.0M425.2 341.9h1.0M413.4 347.1h1.0M411.3 344.3h1.0M422.0 344.8h1.0M425.9 338.5h1.0M418.1 349.3h1.0M423.2 343.8h1.0M420.9 341.1h1.0M411.9 343.9h1.0M418.2 345.7h1.0M421.0 344.0h1.0M415.1 339.1h1.0M418.2 339.6h1.0M416.5 341.2h1.0M413.2 343.6h1.0M423.1 349.0h1.0M420.2 344.4h1.0M423.1 343.1h1.0M416.9 347.1h1.0M433.1 344.9h1.0M415.5 345.7h1.0M415.7 343.3h1.0M410.1 341.5h1.0M415.9 342.4h1.0M405.9 345.7h1.0M415.7 344.9h1.0M413.7 343.2h1.0M419.5 346.2h1.0M406.7 342.5h1.0M415.6 341.2h1.0M422.0 343.9h1.0M409.6 345.1h1.0M413.4 340.8h1.0M408.2 341.9h1.0M409.0 345.6h1.0M409.7 345.9h1.0M414.9 343.0h1.0M414.1 342.2h1.0M426.7 343.0h1.0M411.1 344.6h1.0M416.7 344.7h1.0M423.5 340.6h1.0M428.0 342.0h1.0M482.9 342.9h1.0M475.4 343.5h1.0M477.7 334.9h1.0M480.1 342.1h1.0M478.7 347.1h1.0M476.4 344.5h1.0M477.9 348.7h1.0M477.3 335.7h1.0M480.5 341.7h1.0M480.1 343.2h1.0M474.3 336.4h1.0M487.4 338.7h1.0M481.4 327.0h1.0M474.2 338.6h1.0M477.5 343.4h1.0M472.5 342.2h1.0M480.3 351.3h1.0M478.0 344.6h1.0M475.0 337.9h1.0M485.1 339.2h1.0M482.7 337.2h1.0M478.6 338.2h1.0M483.9 344.3h1.0M478.2 349.9h1.0M471.7 346.6h1.0M482.2 339.5h1.0M479.8 333.9h1.0M472.1 333.5h1.0M479.1 337.1h1.0M484.1 346.6h1.0M475.5 339.3h1.0M478.6 345.2h1.0M478.3 346.0h1.0M479.3 344.0h1.0M485.3 347.9h1.0M481.0 341.3h1.0M484.8 347.5h1.0M477.0 331.4h1.0M476.3 344.0h1.0M477.3 347.5h1.0M483.5 332.7h1.0M478.2 346.2h1.0M473.6 337.8h1.0M476.8 338.4h1.0M469.6 344.2h1.0M481.2 339.2h1.0M467.9 340.0h1.0M479.3 341.8h1.0M477.5 344.3h1.0M479.3 338.7h1.0M466.7 341.8h1.0M482.4 343.0h1.0M483.5 347.3h1.0M486.1 336.0h1.0M477.3 325.3h1.0M484.3 332.3h1.0M474.2 342.4h1.0M480.6 335.5h1.0M479.1 349.4h1.0M483.5 342.7h1.0M480.5 343.6h1.0M478.4 349.9h1.0M481.3 345.4h1.0M472.0 339.3h1.0M478.7 336.0h1.0M481.9 348.9h1.0M478.1 341.7h1.0M479.1 348.0h1.0M479.1 335.9h1.0M483.5 333.1h1.0M477.8 345.0h1.0M467.7 332.6h1.0M482.3 341.8h1.0M480.2 338.8h1.0M478.0 333.6h1.0M485.8 336.9h1.0M476.7 340.2h1.0M482.5 337.5h1.0M476.2 336.1h1.0M481.6 338.3h1.0M477.2 341.9h1.0M471.5 341.9h1.0M477.1 343.5h1.0M477.7 343.6h1.0M479.1 341.2h1.0M476.5 342.5h1.0M478.5 338.8h1.0M480.5 343.9h1.0M475.7 351.5h1.0M474.0 339.3h1.0M475.3 332.2h1.0M478.2 344.0h1.0M478.2 345.0h1.0M476.4 341.3h1.0M473.3 340.9h1.0M478.4 347.1h1.0M482.7 339.6h1.0M482.9 345.7h1.0M474.1 348.8h1.0M484.8 344.6h1.0M479.5 344.9h1.0M478.2 332.4h1.0M472.2 347.6h1.0M479.3 347.1h1.0M481.4 334.1h1.0M482.2 337.3h1.0M478.2 335.8h1.0M475.7 348.8h1.0M477.8 343.2h1.0M483.5 347.6h1.0M483.2 346.4h1.0M474.0 351.8h1.0M478.7 350.3h1.0M479.6 341.5h1.0M476.8 339.1h1.0M472.0 337.7h1.0M478.9 345.0h1.0M479.6 337.9h1.0M478.7 346.4h1.0M481.8 345.8h1.0M480.2 336.0h1.0M483.8 332.3h1.0M482.7 340.9h1.0M478.0 340.6h1.0M480.8 324.0h1.0M481.3 346.7h1.0M484.6 351.2h1.0M482.6 349.3h1.0M474.6 344.7h1.0M477.7 349.8h1.0M481.2 342.4h1.0M483.9 347.8h1.0M471.9 337.7h1.0M477.9 336.0h1.0M469.9 349.2h1.0M479.1 330.2h1.0M477.1 333.4h1.0M484.8 349.8h1.0M475.6 347.5h1.0M480.4 335.0h1.0M487.9 343.9h1.0M481.9 340.5h1.0M479.3 330.3h1.0M481.5 332.5h1.0M479.9 336.6h1.0M480.7 342.3h1.0M476.1 344.2h1.0M478.9 344.0h1.0M477.5 346.0h1.0M482.1 343.2h1.0M478.4 343.1h1.0M483.8 345.0h1.0M484.2 346.9h1.0M484.6 338.1h1.0M476.9 339.1h1.0M483.1 347.4h1.0M477.9 339.9h1.0M478.0 343.5h1.0M478.9 339.9h1.0M481.8 333.0h1.0M477.6 324.3h1.0M477.6 331.2h1.0M478.3 350.4h1.0M477.2 343.8h1.0M476.4 342.6h1.0M481.3 339.4h1.0M482.1 342.7h1.0M477.9 334.6h1.0M485.4 339.5h1.0M479.4 346.9h1.0M486.8 339.4h1.0M481.2 351.3h1.0M481.1 327.4h1.0M478.2 343.0h1.0M484.6 342.9h1.0M482.0 330.2h1.0M474.4 346.7h1.0M481.4 341.1h1.0M479.0 342.8h1.0M479.3 339.7h1.0M477.0 343.4h1.0M479.7 348.2h1.0M481.2 342.5h1.0M474.4 333.8h1.0M474.4 329.5h1.0M476.0 334.6h1.0M478.6 332.2h1.0M478.0 335.7h1.0M480.3 338.9h1.0M480.3 331.8h1.0M476.0 350.3h1.0M479.8 345.9h1.0M478.4 341.8h1.0M475.7 335.3h1.0M478.4 331.1h1.0M479.8 335.5h1.0M477.7 345.7h1.0M476.8 347.0h1.0M480.5 341.0h1.0M474.7 350.9h1.0M475.5 350.8h1.0M481.5 348.7h1.0M476.6 342.5h1.0M478.9 339.3h1.0M481.7 338.0h1.0M477.5 334.4h1.0M480.2 346.0h1.0M484.5 348.8h1.0M480.6 334.3h1.0M479.3 339.7h1.0M479.3 337.8h1.0M479.7 341.7h1.0M479.8 343.6h1.0M486.2 340.1h1.0M476.3 337.9h1.0M477.4 348.8h1.0M477.8 338.8h1.0M483.3 335.5h1.0M479.7 342.7h1.0M479.6 334.6h1.0M478.3 334.9h1.0M475.8 341.9h1.0M481.7 337.6h1.0M479.6 344.8h1.0M472.1 344.4h1.0M475.6 344.2h1.0M484.8 346.4h1.0M482.0 341.9h1.0M474.7 341.1h1.0M481.6 348.8h1.0M474.5 344.0h1.0M481.5 345.3h1.0M480.4 339.1h1.0M478.9 339.1h1.0M483.6 342.9h1.0M480.0 348.1h1.0M476.1 342.4h1.0M481.9 345.8h1.0M473.6 336.3h1.0M474.8 341.1h1.0M480.6 347.4h1.0M480.1 335.3h1.0M477.8 337.5h1.0M479.3 347.3h1.0M476.5 345.4h1.0M483.8 334.9h1.0M479.7 351.1h1.0M477.0 344.2h1.0M471.6 341.9h1.0M479.9 349.6h1.0M477.2 344.5h1.0M485.7 337.9h1.0M481.7 341.3h1.0M474.0 336.3h1.0M481.5 343.8h1.0M478.8 338.7h1.0M477.9 339.4h1.0M483.6 343.7h1.0M477.5 341.7h1.0M481.2 344.2h1.0M479.1 345.8h1.0M478.5 338.6h1.0M475.8 342.9h1.0M473.4 345.9h1.0M479.1 338.6h1.0M475.0 342.4h1.0M475.4 339.9h1.0M479.8 339.2h1.0M478.0 350.2h1.0M476.7 349.7h1.0M476.3 342.1h1.0M482.8 345.6h1.0M475.9 340.6h1.0M471.1 330.0h1.0M473.1 335.8h1.0M482.4 336.1h1.0M478.4 337.5h1.0M477.5 336.1h1.0M476.4 346.6h1.0M480.2 344.5h1.0M481.3 346.9h1.0M479.8 347.6h1.0M478.4 329.1h1.0M474.8 349.1h1.0M472.9 343.1h1.0M484.8 344.5h1.0M482.3 342.9h1.0M476.5 329.9h1.0M475.2 339.4h1.0M481.2 343.1h1.0M480.0 338.6h1.0M477.5 335.9h1.0M475.7 337.3h1.0M482.2 340.6h1.0M477.5 341.9h1.0M470.6 340.3h1.0M481.6 347.2h1.0M480.1 341.5h1.0M472.3 347.1h1.0M477.8 339.0h1.0M479.1 349.3h1.0M476.9 341.2h1.0M474.1 344.4h1.0M485.2 336.6h1.0M477.1 336.2h1.0M475.0 332.8h1.0M477.4 341.0h1.0M476.7 341.2h1.0M480.0 341.6h1.0M475.8 337.3h1.0M480.9 341.8h1.0M482.7 346.1h1.0M483.5 342.7h1.0M484.4 344.4h1.0M477.9 340.5h1.0M482.8 333.3h1.0M477.1 346.1h1.0M481.6 334.5h1.0M481.4 343.7h1.0M483.5 341.9h1.0M479.4 338.1h1.0M479.6 337.6h1.0M480.4 338.6h1.0M479.4 335.6h1.0M479.2 333.0h1.0M479.0 337.1h1.0M476.8 340.0h1.0M480.4 341.0h1.0M484.5 341.5h1.0M482.9 339.7h1.0M482.8 347.1h1.0M477.5 336.1h1.0M475.8 339.5h1.0M480.9 340.6h1.0M480.4 338.6h1.0M477.9 339.4h1.0M476.9 344.5h1.0M473.0 342.4h1.0M472.6 341.6h1.0M479.6 348.2h1.0M479.1 340.1h1.0M477.5 347.2h1.0M478.4 339.4h1.0M482.2 330.4h1.0M471.5 339.8h1.0M480.4 345.6h1.0M480.0 329.4h1.0M479.2 333.7h1.0M482.7 344.4h1.0M470.3 334.9h1.0M478.1 345.9h1.0M479.6 341.4h1.0M483.0 345.3h1.0M485.9 351.9h1.0M479.6 325.9h1.0M478.4 338.1h1.0M477.1 322.3h1.0M482.1 343.9h1.0M471.8 340.5h1.0M477.0 338.5h1.0M470.0 342.9h1.0M473.0 349.7h1.0M480.3 335.1h1.0M483.1 345.7h1.0M473.4 338.6h1.0M477.3 347.8h1.0M471.9 343.2h1.0M475.0 335.1h1.0M471.7 345.5h1.0M479.1 335.1h1.0M478.5 331.0h1.0M478.7 342.5h1.0M480.4 339.7h1.0M473.3 347.4h1.0M477.9 339.8h1.0M474.3 346.0h1.0M476.1 339.8h1.0M477.2 338.2h1.0M480.2 347.2h1.0M477.7 349.2h1.0M479.2 337.0h1.0M480.7 343.5h1.0M478.7 339.1h1.0M480.2 336.3h1.0M477.0 343.6h1.0M477.3 339.5h1.0M477.9 334.1h1.0M476.5 341.8h1.0M477.5 329.2h1.0M475.3 347.7h1.0M477.4 337.3h1.0M478.8 342.8h1.0M478.0 343.2h1.0M485.3 339.6h1.0M480.4 336.0h1.0M475.5 349.1h1.0M477.4 333.0h1.0M482.5 345.3h1.0M474.2 336.3h1.0M482.8 348.3h1.0M484.7 346.4h1.0M481.6 343.0h1.0M477.6 345.4h1.0M481.4 338.1h1.0M481.8 343.5h1.0M475.7 329.0h1.0M485.2 342.9h1.0M474.5 332.9h1.0M479.3 341.5h1.0M482.0 339.7h1.0M479.2 329.9h1.0M471.8 338.0h1.0M475.1 341.4h1.0M478.2 340.2h1.0M469.8 337.7h1.0M487.5 344.3h1.0M482.2 338.1h1.0M479.9 344.8h1.0M481.2 340.2h1.0M484.2 336.8h1.0M484.4 338.9h1.0M479.4 345.4h1.0M488.1 333.8h1.0M479.2 344.0h1.0M480.9 333.7h1.0M480.7 336.2h1.0M479.8 339.7h1.0M474.1 341.1h1.0M479.0 342.2h1.0M477.9 340.0h1.0M476.6 343.0h1.0M473.9 328.0h1.0M475.5 349.0h1.0M476.8 344.3h1.0M484.9 335.7h1.0M477.4 338.5h1.0M474.6 351.5h1.0M480.1 338.4h1.0M476.2 341.8h1.0M467.3 342.6h1.0M482.8 340.8h1.0M479.5 338.3h1.0M471.0 349.5h1.0M474.0 340.4h1.0M482.1 342.9h1.0M482.5 329.8h1.0M472.6 349.4h1.0M482.9 333.4h1.0M480.3 339.6h1.0M481.4 337.9h1.0M474.0 337.3h1.0M482.5 344.2h1.0M475.4 344.7h1.0M476.6 338.6h1.0M481.7 341.7h1.0M477.2 347.8h1.0M476.7 339.7h1.0M479.4 320.9h1.0M475.5 345.0h1.0M474.5 343.3h1.0M477.7 335.8h1.0M471.4 336.4h1.0M481.2 344.9h1.0M476.2 340.6h1.0M480.8 342.7h1.0M478.2 341.7h1.0M474.7 340.2h1.0M481.0 341.5h1.0M474.5 341.8h1.0M478.4 339.9h1.0M477.2 336.8h1.0M482.9 336.9h1.0M479.7 334.5h1.0M478.6 342.8h1.0M473.4 341.7h1.0M483.4 347.5h1.0M481.7 349.3h1.0M479.9 330.9h1.0M479.0 348.7h1.0M479.9 342.7h1.0M481.8 344.9h1.0M472.3 344.6h1.0M481.0 335.7h1.0M479.8 341.6h1.0M481.4 343.0h1.0M477.1 340.5h1.0M482.9 344.8h1.0M480.7 345.6h1.0M476.0 340.8h1.0M473.8 346.8h1.0M474.3 345.3h1.0M475.3 328.0h1.0" stroke="#161616" stroke-width="1.0" fill="none" opacity="1.0"/>
<text x="414.90" y="299.20" font-size="8.1" font-weight="bold" fill="#000" textLength="73.10" lengthAdjust="spacingAndGlyphs" stroke="#000" stroke-width="0.3" >IL-2+ anti-Fas</text>
<text x="411.50" y="307.80" font-size="6.2" font-weight="bold" fill="#000" textLength="12.80" lengthAdjust="spacingAndGlyphs" stroke="#000" stroke-width="0.3" >LGL</text>
<text x="455.90" y="308.20" font-size="6.9" font-weight="bold" fill="#000" textLength="43.10" lengthAdjust="spacingAndGlyphs" stroke="#000" stroke-width="0.3" >55.4%± 7.3</text>
<text x="400.40" y="361.30" font-size="8.0" font-weight="bold" textLength="12.4" lengthAdjust="spacingAndGlyphs" stroke="#000" stroke-width="0.3">10<tspan dy="-2.6" font-size="5.76">0</tspan></text>
<text x="425.33" y="361.30" font-size="8.0" font-weight="bold" textLength="12.4" lengthAdjust="spacingAndGlyphs" stroke="#000" stroke-width="0.3">10<tspan dy="-2.6" font-size="5.76">1</tspan></text>
<text x="450.25" y="361.30" font-size="8.0" font-weight="bold" textLength="12.4" lengthAdjust="spacingAndGlyphs" stroke="#000" stroke-width="0.3">10<tspan dy="-2.6" font-size="5.76">2</tspan></text>
<text x="475.18" y="361.30" font-size="8.0" font-weight="bold" textLength="12.4" lengthAdjust="spacingAndGlyphs" stroke="#000" stroke-width="0.3">10<tspan dy="-2.6" font-size="5.76">3</tspan></text>
<text x="500.10" y="361.30" font-size="8.0" font-weight="bold" textLength="12.4" lengthAdjust="spacingAndGlyphs" stroke="#000" stroke-width="0.3">10<tspan dy="-2.6" font-size="5.76">4</tspan></text>
<text x="421.00" y="368.00" font-size="7.2" font-weight="bold" fill="#000" textLength="65.50" lengthAdjust="spacingAndGlyphs" stroke="#000" stroke-width="0.3" >Annexin-V-FITC</text>
<text transform="translate(398.90,358.70) rotate(-90)" x="0" y="0" font-size="7.8" font-weight="bold" textLength="11.4" lengthAdjust="spacingAndGlyphs" stroke="#000" stroke-width="0.3">10<tspan dy="-2.4" font-size="5.62">0</tspan></text>
<text transform="translate(398.90,345.45) rotate(-90)" x="0" y="0" font-size="7.8" font-weight="bold" textLength="11.4" lengthAdjust="spacingAndGlyphs" stroke="#000" stroke-width="0.3">10<tspan dy="-2.4" font-size="5.62">1</tspan></text>
<text transform="translate(398.90,332.20) rotate(-90)" x="0" y="0" font-size="7.8" font-weight="bold" textLength="11.4" lengthAdjust="spacingAndGlyphs" stroke="#000" stroke-width="0.3">10<tspan dy="-2.4" font-size="5.62">2</tspan></text>
<text transform="translate(398.90,318.95) rotate(-90)" x="0" y="0" font-size="7.8" font-weight="bold" textLength="11.4" lengthAdjust="spacingAndGlyphs" stroke="#000" stroke-width="0.3">10<tspan dy="-2.4" font-size="5.62">3</tspan></text>
<text transform="translate(398.90,305.70) rotate(-90)" x="0" y="0" font-size="7.8" font-weight="bold" textLength="11.4" lengthAdjust="spacingAndGlyphs" stroke="#000" stroke-width="0.3">10<tspan dy="-2.4" font-size="5.62">4</tspan></text>
<text transform="translate(385.00,341.50) rotate(-90)" x="0" y="0" font-size="6.6" font-weight="bold" fill="#000" textLength="32.80" lengthAdjust="spacingAndGlyphs" stroke="#000" stroke-width="0.3">7-AAD-FL3</text>
<path d="M174.6 408.6h0.75M162.3 409.7h0.75M162.1 413.4h0.75M142.4 419.2h0.75M150.6 414.2h0.75M161.0 414.7h0.75M169.8 408.4h0.75M178.4 407.3h0.75M150.2 415.5h0.75M166.5 409.3h0.75M149.4 415.0h0.75M165.7 410.6h0.75M146.9 417.6h0.75M159.3 413.7h0.75M167.7 411.6h0.75M145.2 421.6h0.75M164.2 413.5h0.75M159.9 410.7h0.75M156.0 414.2h0.75M148.4 418.8h0.75M165.1 409.2h0.75M154.9 414.8h0.75M163.0 413.1h0.75M160.8 413.6h0.75M165.2 412.6h0.75M156.4 416.9h0.75M153.9 417.8h0.75M159.1 411.2h0.75M149.7 417.7h0.75M154.0 413.8h0.75M157.8 414.3h0.75M152.4 415.7h0.75M157.4 415.4h0.75M171.8 408.7h0.75M158.9 412.7h0.75M179.1 406.4h0.75M155.9 414.3h0.75M169.7 409.4h0.75M158.0 413.4h0.75M151.1 416.2h0.75M156.9 414.4h0.75M171.4 409.8h0.75M169.8 410.3h0.75M147.9 413.9h0.75M155.8 414.5h0.75M169.3 407.5h0.75M161.6 410.0h0.75M156.2 412.8h0.75M152.8 413.0h0.75M155.6 412.9h0.75M150.4 412.8h0.75M173.6 409.7h0.75M160.8 414.8h0.75M158.7 416.4h0.75M166.2 411.4h0.75M169.8 410.3h0.75M158.4 415.2h0.75M165.5 411.8h0.75M150.5 418.8h0.75M168.1 411.0h0.75M159.7 414.2h0.75M155.9 414.2h0.75M161.9 415.0h0.75M180.6 405.4h0.75M144.6 417.2h0.75M169.5 411.7h0.75M149.1 415.0h0.75M155.2 414.4h0.75M173.8 409.1h0.75M171.2 411.5h0.75M145.3 418.0h0.75M157.1 412.5h0.75M163.9 416.0h0.75M151.1 416.4h0.75M154.3 416.0h0.75M157.5 413.4h0.75M147.9 418.3h0.75M152.8 412.6h0.75M158.8 416.4h0.75M164.3 410.0h0.75M197.8 433.0h0.75M160.8 419.5h0.75M171.7 431.4h0.75M169.5 427.0h0.75M178.7 429.7h0.75M186.6 422.5h0.75M193.2 433.1h0.75M214.3 427.0h0.75M205.0 433.7h0.75M204.5 428.4h0.75M208.4 419.7h0.75M195.8 422.3h0.75M191.2 419.2h0.75M177.7 426.7h0.75M221.4 428.5h0.75M210.9 424.5h0.75M167.2 423.1h0.75M202.4 427.5h0.75M166.7 421.5h0.75M203.1 434.0h0.75M187.8 426.7h0.75M216.4 430.5h0.75M202.3 427.1h0.75M211.4 423.4h0.75M162.9 431.7h0.75M202.6 419.5h0.75M219.2 425.7h0.75M188.5 419.1h0.75M168.9 431.7h0.75M204.4 427.6h0.75M193.2 423.9h0.75M165.1 422.3h0.75M208.6 429.6h0.75M209.2 420.1h0.75M185.5 425.9h0.75M161.0 427.5h0.75M170.0 426.4h0.75M208.2 419.3h0.75M219.0 430.6h0.75M182.6 419.4h0.75M203.1 425.2h0.75M222.8 425.9h0.75M198.5 423.6h0.75M168.9 424.8h0.75M173.4 426.5h0.75M175.3 430.3h0.75M213.9 429.4h0.75M177.6 418.7h0.75M207.2 424.7h0.75M221.5 419.8h0.75M198.6 432.5h0.75M179.2 424.5h0.75M176.0 418.0h0.75M220.6 424.7h0.75M212.0 417.8h0.75M216.7 426.2h0.75M212.3 423.0h0.75M174.3 425.7h0.75M185.6 423.5h0.75M170.7 418.3h0.75M160.8 420.3h0.75M172.5 432.1h0.75M201.7 427.4h0.75M164.1 423.2h0.75M219.9 433.2h0.75M216.5 424.0h0.75M200.8 422.1h0.75M200.3 426.9h0.75M196.8 418.7h0.75M174.2 422.6h0.75M192.4 423.1h0.75M183.3 426.3h0.75M195.3 423.9h0.75M181.5 427.6h0.75M199.2 430.5h0.75M199.5 419.8h0.75M182.0 428.8h0.75M204.8 433.4h0.75M205.9 428.1h0.75M198.3 422.4h0.75M196.0 424.1h0.75M180.7 421.6h0.75M178.9 426.6h0.75M163.8 432.0h0.75M176.5 432.4h0.75M174.3 426.6h0.75M203.3 428.0h0.75M217.1 430.4h0.75M189.9 424.5h0.75M184.7 425.6h0.75M212.0 418.3h0.75M178.8 429.8h0.75M166.4 431.5h0.75M181.9 433.0h0.75M174.6 431.1h0.75M214.0 423.4h0.75M195.4 431.1h0.75M219.3 427.6h0.75M216.3 433.1h0.75M221.1 421.3h0.75M188.5 428.4h0.75M198.3 419.5h0.75M196.0 433.6h0.75M193.8 420.9h0.75M179.0 433.4h0.75M186.1 419.2h0.75M177.6 427.6h0.75M169.9 426.2h0.75M190.2 429.2h0.75M177.1 421.0h0.75M189.1 420.9h0.75M195.1 424.5h0.75M213.5 420.9h0.75M193.1 422.6h0.75M168.3 420.1h0.75M195.0 426.7h0.75M198.8 429.5h0.75M219.0 422.2h0.75M170.2 431.5h0.75M164.9 428.8h0.75M168.0 426.2h0.75M167.5 420.0h0.75M205.0 431.3h0.75M169.0 422.9h0.75M175.3 422.1h0.75M197.4 418.0h0.75M210.7 431.8h0.75M220.2 428.9h0.75M167.9 422.7h0.75M167.8 433.8h0.75M197.9 430.1h0.75M208.2 430.7h0.75M221.0 420.9h0.75M182.7 425.9h0.75M198.3 426.4h0.75M175.4 423.2h0.75M202.3 419.1h0.75M212.0 419.3h0.75M186.5 432.8h0.75M171.2 426.7h0.75M172.7 419.7h0.75M198.4 433.3h0.75M185.6 433.6h0.75M180.1 429.5h0.75M214.7 420.8h0.75M205.9 422.6h0.75M184.7 420.2h0.75M216.5 422.7h0.75M184.8 432.3h0.75M185.4 427.7h0.75M196.8 431.4h0.75M188.0 433.0h0.75M160.2 431.8h0.75M192.4 432.9h0.75M169.6 419.3h0.75M208.4 424.9h0.75M177.1 432.3h0.75M197.5 421.4h0.75M196.2 428.1h0.75M162.6 426.8h0.75M197.5 421.0h0.75M216.5 424.2h0.75M195.1 423.2h0.75M183.7 425.8h0.75M175.8 424.8h0.75M218.9 420.2h0.75M208.4 433.2h0.75M202.0 434.0h0.75M176.7 433.5h0.75M209.2 429.5h0.75M188.9 430.2h0.75M219.5 420.8h0.75M161.2 428.7h0.75M163.6 433.2h0.75M167.9 425.2h0.75M163.5 429.9h0.75M166.8 419.7h0.75M172.5 420.5h0.75M214.8 433.6h0.75M204.0 429.8h0.75M187.0 421.3h0.75M171.7 419.2h0.75M165.2 422.6h0.75M194.6 419.0h0.75M195.2 426.4h0.75M178.8 419.1h0.75M185.1 432.4h0.75M206.4 430.0h0.75M178.7 420.7h0.75M208.4 419.2h0.75M188.8 424.0h0.75M171.7 418.6h0.75M178.7 427.6h0.75M191.3 431.8h0.75M173.8 423.0h0.75M181.8 420.2h0.75M177.3 426.4h0.75M184.2 422.8h0.75M208.9 430.3h0.75M218.0 427.1h0.75M196.5 428.0h0.75M218.2 423.4h0.75M213.7 426.5h0.75M208.3 431.3h0.75M178.0 428.0h0.75M188.2 420.6h0.75M180.9 420.0h0.75M203.1 425.9h0.75M198.3 419.9h0.75M192.8 425.5h0.75M195.8 425.9h0.75M166.8 418.7h0.75M181.7 419.8h0.75M161.6 430.7h0.75M212.6 417.8h0.75M171.3 421.4h0.75M164.5 424.5h0.75M193.0 421.2h0.75M180.9 429.9h0.75M202.8 431.5h0.75M203.9 423.5h0.75M168.2 418.0h0.75M201.8 431.5h0.75M204.1 428.2h0.75M185.4 418.6h0.75M188.0 419.7h0.75M178.2 431.0h0.75M196.7 433.2h0.75M214.1 430.2h0.75M218.9 420.4h0.75M206.6 428.7h0.75M194.4 419.8h0.75M191.2 433.4h0.75M204.8 433.8h0.75M209.0 418.9h0.75M184.9 432.3h0.75M205.3 426.2h0.75M188.4 424.5h0.75M182.9 423.9h0.75M189.4 427.9h0.75M169.3 420.7h0.75M199.6 427.7h0.75M190.6 426.7h0.75M178.4 426.9h0.75M178.5 428.1h0.75M178.9 425.0h0.75M162.6 423.6h0.75M188.3 428.4h0.75M208.5 418.6h0.75M180.0 421.9h0.75M188.8 433.4h0.75M218.6 430.2h0.75M218.9 426.4h0.75M198.7 420.1h0.75M205.4 422.3h0.75M194.7 421.8h0.75M192.0 424.6h0.75M215.3 426.8h0.75M208.2 422.2h0.75M191.5 426.9h0.75M179.2 424.9h0.75M160.8 420.3h0.75M180.5 429.5h0.75M196.4 430.0h0.75M165.3 421.5h0.75M218.4 420.1h0.75M170.5 427.3h0.75M188.8 432.8h0.75M213.9 427.8h0.75M188.1 425.4h0.75M222.2 419.7h0.75M190.1 430.9h0.75M202.1 419.4h0.75M211.1 433.8h0.75M206.9 420.7h0.75M216.5 420.2h0.75M160.5 429.8h0.75M203.4 431.2h0.75M193.1 419.0h0.75M161.9 428.9h0.75M207.8 423.7h0.75M208.0 424.3h0.75M188.5 429.6h0.75M203.2 428.9h0.75M168.3 429.6h0.75M209.1 430.7h0.75M199.5 428.0h0.75M221.2 422.2h0.75M201.2 430.7h0.75M189.5 422.7h0.75M181.9 420.4h0.75M210.5 426.7h0.75M223.0 421.4h0.75M221.9 428.9h0.75M194.4 419.6h0.75M163.7 426.3h0.75M167.2 428.7h0.75M174.4 433.6h0.75M200.6 418.6h0.75M214.2 429.5h0.75M173.2 424.2h0.75M202.4 433.2h0.75M184.8 431.7h0.75M219.2 434.2h0.75M198.8 431.9h0.75M164.2 430.0h0.75M213.6 423.7h0.75M213.4 423.8h0.75M212.5 423.4h0.75M194.7 428.5h0.75M167.1 419.2h0.75M181.7 425.2h0.75M219.3 419.9h0.75M204.5 419.8h0.75M163.7 419.5h0.75M216.3 430.0h0.75M192.5 427.7h0.75M199.2 419.6h0.75M189.8 433.4h0.75M161.5 430.0h0.75M164.1 427.0h0.75M170.8 419.0h0.75M163.5 425.1h0.75M221.3 420.3h0.75M187.5 423.0h0.75M182.7 421.5h0.75M168.4 432.1h0.75M209.9 425.7h0.75M203.4 427.3h0.75M222.4 418.7h0.75M207.6 431.9h0.75M162.9 428.3h0.75M206.9 419.0h0.75M193.5 431.9h0.75M202.1 424.3h0.75M211.4 433.5h0.75M174.0 422.1h0.75M211.7 430.8h0.75M221.5 428.0h0.75M183.7 419.3h0.75M160.3 424.5h0.75M187.0 419.2h0.75M173.7 432.7h0.75M206.9 423.9h0.75M166.2 433.8h0.75M216.9 430.9h0.75M202.9 429.5h0.75M176.7 427.4h0.75M159.6 423.3h0.75M171.3 419.7h0.75M205.5 425.4h0.75M179.6 431.2h0.75M200.2 429.4h0.75M216.9 420.9h0.75M188.1 419.0h0.75M206.2 430.7h0.75M161.5 423.7h0.75M164.0 431.8h0.75M198.0 422.0h0.75M203.9 433.8h0.75M215.1 424.4h0.75M161.0 424.1h0.75M176.2 429.9h0.75M180.5 432.4h0.75M177.2 433.2h0.75M218.5 427.1h0.75M161.7 431.4h0.75M213.9 420.1h0.75M205.7 419.3h0.75M179.7 422.7h0.75M169.4 428.8h0.75M222.1 426.4h0.75M219.4 422.3h0.75M167.7 422.6h0.75M211.5 423.4h0.75M181.6 432.8h0.75M198.1 424.6h0.75M214.8 420.2h0.75M172.3 428.4h0.75M190.8 429.6h0.75M211.2 429.6h0.75M170.6 430.2h0.75M174.4 419.4h0.75M178.4 424.4h0.75M191.5 419.8h0.75M199.7 424.3h0.75M222.3 426.0h0.75M212.3 431.7h0.75M197.9 429.2h0.75M164.9 433.4h0.75M220.9 433.6h0.75M164.7 421.5h0.75M179.5 420.8h0.75M175.7 419.4h0.75M196.7 432.8h0.75M180.8 432.2h0.75M214.6 427.6h0.75M214.3 422.1h0.75M198.3 428.9h0.75M194.8 404.0h0.75M201.4 419.0h0.75M210.5 416.4h0.75M195.4 411.4h0.75M176.9 396.4h0.75M196.6 415.8h0.75M191.7 414.7h0.75M151.8 415.5h0.75M217.2 408.6h0.75M204.3 411.8h0.75M165.5 411.2h0.75M208.6 417.8h0.75M176.4 417.9h0.75M173.1 430.9h0.75M189.3 416.7h0.75M198.6 404.0h0.75M180.4 424.0h0.75M194.6 407.8h0.75M222.0 403.4h0.75M198.8 411.6h0.75M165.9 410.5h0.75M210.3 411.3h0.75M191.1 409.9h0.75M204.2 407.9h0.75M203.9 421.5h0.75M186.6 424.1h0.75M210.5 393.6h0.75M182.4 414.4h0.75M200.9 416.4h0.75M205.0 416.3h0.75M219.8 411.6h0.75M182.1 414.9h0.75M216.4 415.5h0.75M192.4 406.7h0.75M191.4 406.7h0.75M218.1 413.3h0.75M175.5 422.0h0.75M218.9 406.3h0.75M197.8 414.6h0.75M215.3 413.5h0.75M168.0 407.9h0.75M200.9 411.8h0.75M193.1 404.5h0.75M187.7 402.6h0.75M182.9 407.4h0.75M169.8 408.3h0.75M179.1 415.4h0.75M209.7 416.0h0.75M205.8 411.2h0.75M219.4 404.0h0.75M200.7 413.0h0.75M180.4 404.4h0.75M192.1 420.9h0.75M182.1 426.0h0.75M180.8 416.6h0.75M200.6 405.7h0.75M210.8 422.8h0.75M187.7 409.1h0.75M202.2 411.7h0.75M182.2 408.9h0.75M194.6 414.0h0.75M194.1 413.9h0.75M201.5 404.4h0.75M197.4 416.3h0.75M194.0 413.4h0.75M204.8 406.3h0.75M166.2 420.7h0.75M173.8 412.4h0.75M186.1 404.0h0.75M207.1 416.6h0.75M179.1 404.2h0.75M209.5 424.7h0.75M182.8 409.8h0.75M172.1 414.6h0.75M180.5 424.8h0.75M186.8 416.7h0.75M200.9 423.1h0.75M200.5 414.2h0.75M167.6 407.0h0.75M188.0 410.3h0.75M223.6 406.9h0.75M212.5 409.2h0.75M185.6 412.0h0.75M168.0 411.8h0.75M210.6 408.0h0.75M183.9 421.4h0.75M182.7 415.4h0.75M170.5 402.1h0.75M181.5 412.8h0.75M187.5 412.2h0.75M157.6 422.8h0.75M195.3 412.6h0.75M202.8 415.1h0.75M210.4 409.4h0.75M194.9 412.2h0.75M214.6 410.7h0.75M223.5 408.7h0.75M200.1 411.8h0.75M201.1 408.7h0.75M184.6 408.1h0.75M197.8 417.3h0.75M182.2 419.0h0.75M200.4 416.4h0.75M224.3 412.3h0.75M179.9 419.8h0.75M194.0 413.4h0.75M212.3 415.4h0.75M201.7 405.4h0.75M190.7 424.2h0.75M200.0 405.1h0.75M202.7 411.5h0.75M161.3 405.0h0.75M192.4 420.5h0.75M189.7 411.8h0.75M196.5 418.2h0.75M213.5 406.4h0.75M188.6 420.7h0.75M173.0 407.4h0.75M197.1 401.4h0.75M155.4 407.5h0.75M204.0 415.1h0.75M211.4 415.1h0.75M190.7 409.3h0.75M198.5 410.1h0.75M199.5 405.1h0.75M180.5 427.0h0.75M179.3 429.8h0.75M194.9 410.2h0.75M181.8 416.9h0.75M200.3 411.8h0.75M210.1 412.5h0.75M183.7 423.1h0.75M165.5 413.5h0.75M201.2 414.5h0.75M217.3 428.0h0.75M207.1 419.0h0.75M189.6 414.4h0.75M182.2 415.5h0.75M200.6 396.0h0.75M195.6 407.6h0.75M210.3 417.1h0.75M204.2 414.2h0.75M211.6 414.6h0.75M214.8 416.4h0.75M187.2 407.5h0.75M213.8 404.8h0.75M195.5 406.1h0.75M180.8 408.4h0.75M202.7 412.6h0.75M182.7 406.6h0.75M159.8 416.9h0.75M170.4 417.0h0.75M187.8 418.5h0.75M184.7 411.5h0.75M192.2 415.4h0.75M206.5 416.8h0.75M169.0 408.5h0.75M188.3 402.9h0.75M201.6 421.3h0.75M200.8 408.6h0.75M196.7 421.2h0.75M168.7 402.6h0.75M145.5 423.5h0.75M210.0 399.0h0.75M207.2 411.4h0.75M202.4 404.1h0.75M186.1 404.8h0.75M200.1 410.5h0.75M203.5 409.5h0.75M179.1 403.6h0.75M186.9 414.9h0.75M153.5 427.3h0.75M205.7 412.0h0.75M193.8 414.9h0.75M206.7 415.5h0.75M169.1 425.6h0.75M181.3 411.6h0.75M221.3 406.0h0.75M183.5 422.3h0.75M210.4 407.5h0.75M194.6 408.3h0.75M206.2 407.9h0.75M219.4 420.2h0.75M184.0 417.0h0.75M177.9 400.9h0.75M202.0 408.9h0.75M209.8 412.5h0.75M210.7 412.2h0.75M209.1 407.3h0.75M218.9 420.1h0.75M179.2 418.9h0.75M180.9 411.2h0.75M212.9 412.9h0.75M214.8 404.5h0.75M185.1 408.9h0.75M221.3 413.0h0.75M156.5 412.4h0.75M200.8 407.7h0.75M204.9 411.7h0.75M195.5 417.6h0.75M193.2 418.2h0.75M203.4 400.9h0.75M196.5 417.6h0.75M212.6 408.9h0.75M181.5 415.1h0.75M198.7 419.4h0.75M200.9 403.2h0.75M214.6 402.1h0.75M209.2 411.5h0.75M206.8 403.0h0.75M196.6 408.7h0.75M184.7 413.2h0.75M187.2 420.2h0.75M203.0 396.8h0.75M165.7 418.3h0.75M199.4 416.8h0.75M198.8 406.2h0.75M166.9 415.7h0.75M206.4 407.3h0.75M218.0 413.8h0.75M179.9 417.3h0.75M188.2 407.0h0.75M209.4 410.7h0.75M180.0 412.7h0.75M188.6 415.3h0.75M165.1 404.7h0.75M206.3 391.3h0.75M163.3 415.3h0.75M210.3 399.3h0.75M213.4 398.6h0.75M199.4 421.9h0.75M198.9 417.7h0.75M211.0 424.8h0.75M178.6 421.6h0.75M198.0 405.0h0.75M190.7 421.3h0.75M187.0 414.0h0.75M216.8 409.3h0.75M220.8 428.7h0.75M186.8 394.8h0.75M168.4 408.5h0.75M172.9 418.4h0.75M205.1 409.7h0.75M201.4 412.8h0.75M163.1 426.2h0.75M180.9 420.2h0.75M187.8 424.3h0.75M194.0 409.0h0.75M187.2 404.0h0.75M199.8 405.5h0.75M180.2 412.2h0.75M170.7 427.3h0.75M164.8 417.8h0.75M200.4 397.4h0.75M201.7 414.0h0.75M214.9 409.5h0.75M196.3 411.1h0.75M213.6 399.6h0.75M170.7 413.9h0.75M187.7 412.8h0.75M152.1 410.5h0.75M187.6 419.1h0.75M214.5 408.6h0.75M183.1 403.5h0.75M191.7 410.9h0.75M192.9 411.3h0.75M160.5 423.8h0.75M173.1 429.0h0.75M175.2 417.5h0.75M192.7 413.0h0.75M188.3 405.8h0.75M158.9 419.3h0.75M191.8 418.4h0.75M220.8 410.5h0.75M215.8 406.5h0.75M191.2 405.9h0.75M169.8 422.9h0.75M188.9 429.0h0.75M188.4 414.2h0.75M164.7 422.2h0.75M172.6 398.4h0.75M218.6 405.8h0.75M199.9 402.7h0.75M198.0 403.5h0.75M211.9 396.2h0.75M215.2 414.0h0.75M207.1 403.4h0.75M208.1 396.1h0.75M201.3 414.4h0.75M212.0 402.8h0.75M195.9 408.6h0.75M198.6 410.1h0.75M202.7 414.1h0.75M209.4 408.3h0.75M198.2 420.1h0.75M187.0 414.8h0.75M196.2 412.8h0.75M192.0 415.5h0.75M207.1 422.1h0.75M214.1 412.8h0.75M170.5 404.6h0.75M172.4 409.7h0.75M196.5 416.6h0.75M166.3 419.8h0.75M209.8 411.3h0.75M185.8 406.6h0.75M196.8 411.6h0.75M180.5 423.0h0.75M187.8 411.0h0.75M188.7 410.8h0.75M191.5 414.2h0.75M195.3 409.9h0.75M155.8 416.2h0.75M192.5 415.5h0.75M213.7 402.7h0.75M216.8 405.2h0.75M204.3 410.5h0.75M209.7 415.3h0.75M193.8 410.3h0.75M193.5 420.8h0.75M194.4 415.2h0.75M184.5 409.2h0.75M215.4 409.8h0.75M175.4 415.4h0.75M192.7 419.6h0.75M185.1 412.3h0.75M185.5 410.3h0.75M172.5 410.1h0.75M183.4 412.6h0.75M196.4 415.6h0.75M214.8 422.4h0.75M199.6 407.6h0.75M191.6 413.1h0.75M175.4 414.6h0.75M199.0 416.0h0.75M196.2 414.7h0.75M177.6 414.6h0.75M181.9 407.8h0.75M181.8 404.3h0.75M195.6 412.5h0.75M182.7 410.7h0.75M177.4 424.5h0.75M203.7 425.6h0.75M216.5 413.9h0.75M224.4 408.0h0.75M187.9 411.3h0.75M185.8 412.9h0.75M193.0 408.2h0.75M221.7 424.3h0.75M207.2 419.0h0.75M180.8 410.4h0.75M192.8 408.1h0.75M202.6 416.8h0.75M166.4 407.5h0.75M192.0 413.5h0.75M190.3 414.7h0.75M196.7 402.9h0.75M211.4 408.1h0.75M194.3 411.1h0.75M218.0 405.7h0.75M207.1 401.4h0.75M220.4 400.3h0.75M204.7 405.2h0.75M175.7 401.1h0.75M191.4 401.4h0.75M198.0 414.9h0.75M210.5 413.1h0.75M194.3 401.9h0.75M172.7 408.1h0.75M192.0 409.9h0.75M186.8 403.5h0.75M203.9 413.5h0.75M194.2 411.3h0.75M171.8 407.2h0.75M216.3 399.4h0.75M211.3 406.0h0.75M175.0 409.2h0.75M221.8 404.9h0.75M177.4 407.5h0.75M173.7 414.6h0.75M203.6 406.6h0.75M174.4 405.0h0.75M170.5 401.2h0.75M195.9 403.8h0.75M195.5 409.9h0.75M172.8 414.1h0.75M203.4 407.8h0.75M172.5 414.3h0.75M190.4 402.9h0.75M207.3 406.7h0.75M181.3 400.6h0.75M216.5 412.0h0.75M221.4 409.9h0.75M193.2 413.7h0.75M174.2 406.3h0.75M216.0 407.6h0.75M212.4 411.4h0.75M185.9 414.3h0.75M172.1 411.2h0.75M171.1 400.9h0.75M172.4 402.0h0.75M200.0 405.7h0.75M200.3 413.4h0.75M188.0 400.0h0.75M217.8 414.7h0.75M221.2 413.5h0.75M199.1 400.7h0.75M219.1 414.3h0.75M189.3 401.8h0.75M173.3 405.5h0.75M182.6 404.5h0.75M188.6 411.8h0.75M192.0 401.7h0.75M201.7 406.8h0.75M174.4 406.5h0.75M185.8 403.1h0.75M217.7 415.0h0.75M196.2 413.3h0.75M192.6 412.8h0.75M197.3 403.9h0.75M187.1 413.4h0.75M216.0 413.9h0.75M219.0 402.9h0.75M172.0 410.0h0.75M201.3 404.4h0.75M183.4 410.6h0.75" stroke="#8c8c8c" stroke-width="0.75" fill="none" opacity="1.0"/>
<path d="M138.3 422.7h0.85M142.1 431.0h0.85M146.9 423.5h0.85M143.8 427.6h0.85M138.7 424.9h0.85M127.7 429.8h0.85M143.5 422.6h0.85M141.2 431.1h0.85M170.1 425.7h0.85M133.5 430.0h0.85M152.5 418.9h0.85M142.4 432.7h0.85M150.5 426.9h0.85M137.0 426.8h0.85M129.0 426.9h0.85M145.1 422.8h0.85M162.6 429.5h0.85M145.3 430.5h0.85M142.6 422.9h0.85M148.2 428.5h0.85M160.4 423.6h0.85M154.4 426.9h0.85M155.5 427.8h0.85M150.6 427.1h0.85M141.3 433.5h0.85M151.8 425.0h0.85M134.7 427.3h0.85M147.7 424.9h0.85M130.4 420.2h0.85M153.5 426.7h0.85M143.5 426.3h0.85M137.0 421.6h0.85M134.2 429.7h0.85M138.8 433.7h0.85M152.4 431.9h0.85M157.5 423.5h0.85M162.9 429.4h0.85M138.1 429.3h0.85M149.8 430.8h0.85M141.8 426.6h0.85M162.6 430.4h0.85M151.7 425.0h0.85M150.8 431.6h0.85M151.7 426.6h0.85M156.8 418.7h0.85M133.9 429.2h0.85M157.8 433.7h0.85M144.9 421.5h0.85M149.2 427.5h0.85M147.0 429.8h0.85M137.2 426.3h0.85M134.7 419.7h0.85M140.1 423.0h0.85M130.7 433.9h0.85M150.9 428.7h0.85M126.9 423.5h0.85M146.8 434.2h0.85M138.8 419.6h0.85M142.6 432.8h0.85M132.3 422.1h0.85M157.6 424.4h0.85M132.4 429.6h0.85M135.9 423.3h0.85M146.9 425.1h0.85M136.6 429.6h0.85M153.0 429.7h0.85M138.3 425.3h0.85M139.4 423.6h0.85M147.5 424.8h0.85M166.5 429.2h0.85M164.1 432.2h0.85M134.1 430.8h0.85M149.1 422.3h0.85M166.6 429.1h0.85M153.0 428.0h0.85M150.8 431.0h0.85M148.5 430.0h0.85M146.6 431.2h0.85M145.7 420.1h0.85M145.4 432.9h0.85M132.8 427.1h0.85M150.2 432.3h0.85M131.4 434.2h0.85M160.6 426.0h0.85M144.9 429.2h0.85M162.3 424.8h0.85M140.3 422.6h0.85M147.8 428.5h0.85M137.4 427.5h0.85M156.5 432.9h0.85M152.9 421.4h0.85M147.6 433.4h0.85M150.3 426.6h0.85M130.3 434.1h0.85M127.3 426.3h0.85M139.7 424.9h0.85M150.9 431.0h0.85M137.3 424.6h0.85M134.3 423.5h0.85M147.9 423.7h0.85M134.8 424.4h0.85M139.0 426.6h0.85M148.3 429.6h0.85M133.8 425.1h0.85M125.7 429.0h0.85M148.7 425.2h0.85M125.9 426.1h0.85M128.0 423.3h0.85M145.6 430.0h0.85M136.2 427.9h0.85M135.1 422.9h0.85M144.7 429.7h0.85M146.3 433.0h0.85M143.0 428.8h0.85M135.1 427.8h0.85M143.8 433.4h0.85M145.3 415.4h0.85M150.0 429.8h0.85M145.2 420.7h0.85M129.7 421.0h0.85M137.5 419.9h0.85M132.4 423.4h0.85M135.2 422.5h0.85M151.0 425.9h0.85M132.4 423.4h0.85M145.4 431.8h0.85M147.3 428.1h0.85M140.1 431.5h0.85M143.6 424.0h0.85M132.3 424.4h0.85M144.2 431.3h0.85M143.0 432.8h0.85M161.4 425.5h0.85M153.0 431.1h0.85M155.7 427.9h0.85M153.7 425.6h0.85M144.9 423.1h0.85M135.0 429.3h0.85M153.0 425.4h0.85M135.6 432.0h0.85M151.1 427.9h0.85M127.5 426.1h0.85M146.4 418.1h0.85M131.5 424.6h0.85M136.2 427.8h0.85M140.4 421.7h0.85M144.8 428.1h0.85M134.5 423.5h0.85M134.0 426.0h0.85M145.7 424.4h0.85M149.6 426.2h0.85M162.1 423.9h0.85M133.4 431.3h0.85M134.0 422.2h0.85M129.8 421.3h0.85M145.8 429.8h0.85M130.9 428.1h0.85M149.3 427.7h0.85M148.8 426.7h0.85M155.5 429.2h0.85M139.9 432.1h0.85M138.0 431.6h0.85M125.5 428.7h0.85M128.0 433.4h0.85M145.2 425.1h0.85M144.7 428.2h0.85M133.3 426.9h0.85M132.3 428.6h0.85M145.5 428.5h0.85M135.4 429.5h0.85M135.6 427.9h0.85M139.7 426.1h0.85M150.9 419.8h0.85M132.1 426.8h0.85M130.9 427.4h0.85M144.2 427.6h0.85M143.7 424.8h0.85M130.4 427.9h0.85M152.2 423.5h0.85M151.5 430.7h0.85M134.4 423.6h0.85M141.3 426.3h0.85M137.7 423.9h0.85M143.1 431.5h0.85M145.1 428.9h0.85M138.6 425.3h0.85M142.8 429.8h0.85M129.2 429.5h0.85M139.9 432.4h0.85M134.9 418.2h0.85M134.7 427.4h0.85M128.5 429.1h0.85M143.9 426.8h0.85M131.2 423.3h0.85M140.3 421.1h0.85M145.0 432.2h0.85M151.1 429.3h0.85M140.2 427.1h0.85M127.9 423.0h0.85M142.9 431.7h0.85M127.1 425.9h0.85M153.8 425.6h0.85M144.5 429.1h0.85M152.6 425.1h0.85M133.0 430.1h0.85M172.2 427.4h0.85M145.8 424.3h0.85M139.0 418.9h0.85M130.8 431.1h0.85M158.0 423.5h0.85M149.1 427.8h0.85M140.8 426.9h0.85M145.7 429.9h0.85M152.0 420.2h0.85M135.8 431.5h0.85M142.6 417.5h0.85M131.4 422.2h0.85M134.3 430.7h0.85M152.5 428.0h0.85M140.8 424.6h0.85M153.0 426.3h0.85M157.4 429.9h0.85M135.9 424.8h0.85M138.1 424.8h0.85M139.7 420.2h0.85M132.5 434.1h0.85M138.9 427.8h0.85M137.0 430.1h0.85M150.2 431.5h0.85M134.9 433.2h0.85M153.3 433.2h0.85M159.1 430.9h0.85M140.8 420.9h0.85M130.3 422.3h0.85M127.8 429.6h0.85M147.1 426.0h0.85M144.7 426.1h0.85M157.5 433.7h0.85M134.1 424.1h0.85M126.1 430.5h0.85M166.6 421.6h0.85M146.6 427.0h0.85M139.6 431.0h0.85M132.2 431.6h0.85M128.1 427.2h0.85M145.7 431.2h0.85M142.7 432.8h0.85M145.2 428.7h0.85M140.6 426.7h0.85M154.8 426.3h0.85M134.5 426.9h0.85M145.4 425.2h0.85M152.2 430.5h0.85M128.9 425.1h0.85M129.6 425.8h0.85M169.5 421.9h0.85M126.0 431.0h0.85M145.3 428.5h0.85M148.5 426.3h0.85M144.7 425.1h0.85M126.6 431.3h0.85M145.5 428.9h0.85M147.1 432.0h0.85M137.5 426.5h0.85M140.6 425.8h0.85M158.5 424.2h0.85M130.7 427.8h0.85M138.9 430.9h0.85M148.1 428.9h0.85M143.7 424.8h0.85M163.1 429.5h0.85M148.8 418.6h0.85M157.9 425.9h0.85M133.6 426.9h0.85M134.8 429.2h0.85M146.7 429.0h0.85M141.7 426.9h0.85M138.6 426.3h0.85M139.4 425.6h0.85M132.8 427.3h0.85M158.8 430.4h0.85M132.9 423.7h0.85M144.6 426.7h0.85M143.2 429.0h0.85M135.8 425.4h0.85M143.1 424.8h0.85M146.0 418.3h0.85M142.2 421.7h0.85M142.9 418.3h0.85M151.6 430.3h0.85M157.9 429.4h0.85M151.9 430.2h0.85M145.1 426.7h0.85M149.2 429.3h0.85M137.3 430.1h0.85M150.6 426.2h0.85M139.7 422.7h0.85M134.5 424.4h0.85M138.9 425.5h0.85M138.2 421.7h0.85M136.8 419.3h0.85M149.7 430.6h0.85M136.7 422.0h0.85M156.8 432.0h0.85M143.1 424.8h0.85M166.3 424.2h0.85M139.2 423.6h0.85M142.2 430.8h0.85M140.9 428.2h0.85M139.1 427.0h0.85M145.1 430.4h0.85M148.4 433.5h0.85M148.4 425.2h0.85M145.8 433.3h0.85M136.1 426.6h0.85M146.2 424.2h0.85M125.3 427.5h0.85M152.7 431.8h0.85M128.6 429.4h0.85M138.5 428.4h0.85M154.5 425.9h0.85M142.4 423.8h0.85M141.1 421.7h0.85M142.9 429.2h0.85M128.7 423.8h0.85M150.2 421.9h0.85M148.3 420.2h0.85M154.2 430.0h0.85M146.2 424.2h0.85M125.9 421.7h0.85M146.6 423.8h0.85M132.0 424.1h0.85M140.9 428.5h0.85M141.7 425.8h0.85M125.4 427.5h0.85M145.2 433.7h0.85M159.3 416.5h0.85M148.4 427.1h0.85M130.4 431.9h0.85M128.4 423.9h0.85M132.2 426.6h0.85M136.7 423.7h0.85M154.8 423.3h0.85M148.3 422.8h0.85M159.3 430.4h0.85M144.2 429.8h0.85M141.8 428.1h0.85M142.6 424.3h0.85M144.2 422.9h0.85M137.2 421.3h0.85M165.1 426.5h0.85M139.1 425.2h0.85M149.4 433.1h0.85M130.1 426.5h0.85M144.6 431.9h0.85M141.8 422.0h0.85M154.8 432.4h0.85M153.9 425.1h0.85M138.1 427.2h0.85M140.9 427.0h0.85M139.2 430.2h0.85M150.9 420.1h0.85M139.3 421.5h0.85M133.2 432.5h0.85M148.1 426.1h0.85M146.1 431.0h0.85M137.2 423.1h0.85M158.2 425.8h0.85M134.5 422.0h0.85M161.4 430.1h0.85M127.6 429.1h0.85M135.0 428.8h0.85M131.1 424.7h0.85M144.5 432.4h0.85M147.3 426.2h0.85M130.4 426.9h0.85M144.8 430.0h0.85M142.6 429.0h0.85M134.7 429.4h0.85M145.8 420.4h0.85M138.7 418.4h0.85M136.7 426.8h0.85M138.9 434.0h0.85M140.5 428.0h0.85M132.5 424.3h0.85M145.5 428.3h0.85M132.0 426.1h0.85M132.8 430.8h0.85M136.0 423.4h0.85M138.2 427.9h0.85M137.7 424.8h0.85M139.5 423.8h0.85M139.6 423.8h0.85M138.0 430.2h0.85M145.5 427.9h0.85M136.4 421.4h0.85M135.9 430.4h0.85M137.6 421.4h0.85M127.1 422.7h0.85M146.5 428.7h0.85M137.6 430.1h0.85M126.4 433.9h0.85M136.4 424.8h0.85M131.2 428.7h0.85M132.9 428.1h0.85M145.2 422.1h0.85M147.3 425.5h0.85M155.4 424.0h0.85M146.1 424.7h0.85M149.6 431.1h0.85M131.7 426.9h0.85M137.4 425.9h0.85M148.2 421.7h0.85M144.4 421.2h0.85M134.4 425.5h0.85M139.3 431.0h0.85M143.4 423.2h0.85M137.1 426.8h0.85M152.3 427.7h0.85M137.5 426.0h0.85M145.5 425.4h0.85M153.8 425.1h0.85M128.3 433.9h0.85M139.8 420.3h0.85M141.2 428.9h0.85M143.6 424.9h0.85M153.8 432.1h0.85M148.8 426.2h0.85M149.4 422.6h0.85M146.0 430.2h0.85M139.4 422.9h0.85M149.1 419.9h0.85M131.9 429.8h0.85M151.2 428.1h0.85M145.9 430.3h0.85M143.1 430.8h0.85M142.1 429.4h0.85M130.0 424.5h0.85M140.7 427.0h0.85M127.7 430.2h0.85M137.8 429.6h0.85M144.3 426.9h0.85M138.3 427.9h0.85M144.9 422.9h0.85M129.4 423.4h0.85M150.1 423.7h0.85M134.8 426.4h0.85M162.7 432.1h0.85M149.4 428.0h0.85M158.1 426.3h0.85M149.5 429.5h0.85M135.4 420.7h0.85M127.3 429.5h0.85M138.0 432.3h0.85M147.2 432.0h0.85M141.1 428.1h0.85M149.2 425.9h0.85M152.4 420.3h0.85M148.3 427.8h0.85M139.4 424.6h0.85M127.6 431.6h0.85M140.5 420.0h0.85M128.9 426.3h0.85M133.2 424.3h0.85M144.3 427.2h0.85M150.1 428.0h0.85M139.5 425.9h0.85M148.8 430.3h0.85M135.7 430.3h0.85M146.7 425.4h0.85M142.7 432.4h0.85M132.0 433.2h0.85M126.3 430.4h0.85M143.7 425.1h0.85M144.4 420.6h0.85M149.6 433.1h0.85M145.7 426.1h0.85M144.0 430.1h0.85M155.7 426.5h0.85M137.9 432.8h0.85M125.2 420.8h0.85M139.9 423.2h0.85M152.3 423.9h0.85M136.1 432.0h0.85M138.9 426.7h0.85M139.1 428.4h0.85M142.1 433.0h0.85M151.7 431.8h0.85M141.9 430.7h0.85M154.9 429.2h0.85M130.9 428.9h0.85M149.9 432.0h0.85M127.0 429.6h0.85M150.3 417.7h0.85M138.8 423.4h0.85M136.1 424.7h0.85M128.9 428.6h0.85M133.7 425.7h0.85M166.7 426.4h0.85M127.0 420.6h0.85M137.5 428.9h0.85M145.9 423.9h0.85M142.9 425.7h0.85M142.5 432.1h0.85M148.9 423.4h0.85M134.3 426.5h0.85M155.5 426.0h0.85M141.3 426.2h0.85M142.1 424.3h0.85M149.2 420.2h0.85M133.4 429.1h0.85M135.9 425.2h0.85M161.8 426.0h0.85M142.4 430.9h0.85M127.1 420.1h0.85M139.7 421.3h0.85M149.3 429.1h0.85M143.3 430.9h0.85M147.3 427.7h0.85M149.0 421.9h0.85M134.4 424.0h0.85M145.3 429.3h0.85M143.6 422.0h0.85M142.4 423.1h0.85M144.3 421.9h0.85M139.3 428.6h0.85M135.2 420.9h0.85M132.8 419.7h0.85M157.8 428.9h0.85M132.7 425.7h0.85M150.3 419.8h0.85M157.0 429.8h0.85M149.9 429.1h0.85M152.2 425.0h0.85M156.0 427.3h0.85M149.5 432.3h0.85M130.4 425.3h0.85M141.8 423.5h0.85M165.2 429.3h0.85M128.2 431.8h0.85M134.2 422.5h0.85M144.8 428.4h0.85M147.9 427.8h0.85M143.5 427.2h0.85M126.4 424.1h0.85M142.7 417.9h0.85M141.9 429.7h0.85M142.7 430.2h0.85M140.4 428.8h0.85M144.4 431.0h0.85M139.7 428.9h0.85M130.4 427.7h0.85M148.2 424.0h0.85M144.2 427.6h0.85M151.0 428.2h0.85M128.0 430.5h0.85M153.0 428.1h0.85M145.8 431.7h0.85M158.5 419.6h0.85M141.0 430.0h0.85M143.6 428.2h0.85M135.4 433.7h0.85M162.3 432.2h0.85M136.7 425.8h0.85M137.5 426.3h0.85M150.9 429.7h0.85M146.5 427.7h0.85M126.8 426.3h0.85M129.4 423.1h0.85M141.0 426.5h0.85M151.7 430.5h0.85M132.4 421.4h0.85M148.7 425.3h0.85M130.8 430.0h0.85M136.3 425.8h0.85M135.5 428.1h0.85M141.8 421.6h0.85M134.7 426.8h0.85M170.7 426.9h0.85M149.9 432.1h0.85M129.5 429.4h0.85M174.2 429.3h0.85M156.3 429.1h0.85M142.8 422.8h0.85M132.4 429.1h0.85M129.0 430.6h0.85M152.1 429.4h0.85M129.6 424.9h0.85M143.9 427.4h0.85M163.5 425.6h0.85M153.7 432.2h0.85M140.3 422.0h0.85M149.3 423.3h0.85M159.4 420.9h0.85M156.1 423.7h0.85M142.1 423.9h0.85M154.6 431.1h0.85M152.7 423.8h0.85M135.4 420.8h0.85M155.1 423.3h0.85M136.0 426.2h0.85M140.8 420.4h0.85M168.2 430.4h0.85M163.3 425.1h0.85M133.6 430.5h0.85M158.2 425.7h0.85M133.8 428.3h0.85M136.9 427.9h0.85M161.2 429.8h0.85M146.8 423.3h0.85M164.1 429.5h0.85M137.9 429.1h0.85M127.3 427.6h0.85M132.5 428.4h0.85M142.9 424.1h0.85M141.8 417.3h0.85M144.9 425.1h0.85M147.0 427.6h0.85M152.0 426.5h0.85M126.2 429.8h0.85M157.8 433.8h0.85" stroke="#555" stroke-width="0.85" fill="none" opacity="1.0"/>
<path d="M142.7 425.2h1.0M138.6 428.3h1.0M131.8 425.0h1.0M135.2 427.0h1.0M146.8 425.2h1.0M131.3 428.3h1.0M134.4 432.2h1.0M133.9 426.4h1.0M140.2 428.1h1.0M139.3 430.7h1.0M134.1 428.3h1.0M142.7 428.3h1.0M137.4 426.9h1.0M146.4 430.6h1.0M141.3 427.1h1.0M137.9 427.1h1.0M127.4 428.2h1.0M137.0 431.0h1.0M143.0 427.8h1.0M136.4 425.8h1.0M133.2 429.8h1.0M142.9 425.2h1.0M149.5 428.3h1.0M130.3 432.0h1.0M131.7 427.7h1.0M137.0 429.5h1.0M132.7 429.8h1.0M136.3 424.7h1.0M141.8 423.9h1.0M142.8 425.5h1.0M144.8 426.2h1.0M146.8 424.3h1.0M148.3 426.6h1.0M134.0 421.3h1.0M136.8 426.4h1.0M136.2 429.6h1.0M140.7 430.5h1.0M137.4 424.0h1.0M139.0 425.5h1.0M141.8 426.5h1.0M138.9 426.1h1.0M133.0 426.4h1.0M132.4 430.0h1.0M135.1 431.4h1.0M127.4 427.2h1.0M141.1 425.8h1.0M150.5 426.6h1.0M142.4 429.4h1.0M142.2 430.5h1.0M149.2 429.7h1.0M136.0 425.8h1.0M126.2 424.8h1.0M133.0 427.4h1.0M143.7 427.0h1.0M143.5 428.8h1.0M141.6 433.2h1.0M146.6 429.0h1.0M133.5 427.9h1.0M147.7 429.1h1.0M138.2 428.6h1.0M133.1 431.4h1.0M141.5 425.7h1.0M134.1 427.3h1.0M140.8 426.6h1.0M137.4 427.6h1.0M139.8 430.4h1.0M137.5 425.7h1.0M135.2 424.4h1.0M137.0 430.6h1.0M136.7 431.3h1.0M141.6 431.7h1.0M138.4 428.3h1.0M136.6 426.7h1.0M139.9 429.1h1.0M142.8 428.6h1.0M143.2 423.9h1.0M140.4 425.2h1.0M130.9 426.6h1.0M130.0 428.6h1.0M134.0 429.9h1.0M133.1 427.9h1.0M141.8 430.6h1.0M134.8 432.7h1.0M134.4 433.4h1.0M130.0 426.9h1.0M143.1 429.6h1.0M140.2 429.6h1.0M144.2 422.8h1.0M134.7 429.1h1.0M146.9 423.1h1.0M138.2 426.0h1.0M129.5 428.9h1.0M136.7 428.2h1.0M139.9 431.7h1.0M132.5 422.4h1.0M128.7 428.0h1.0M142.3 426.2h1.0M138.6 431.9h1.0M135.7 431.9h1.0M149.1 426.2h1.0M142.3 427.0h1.0M136.1 424.7h1.0M143.1 425.8h1.0M141.5 425.6h1.0M136.7 426.6h1.0M138.7 428.3h1.0M141.8 421.9h1.0M127.1 424.5h1.0M135.9 424.7h1.0M132.6 428.5h1.0M143.9 427.6h1.0M140.2 430.8h1.0M131.9 423.6h1.0M139.1 427.9h1.0M130.6 430.8h1.0M132.6 428.1h1.0M137.6 429.3h1.0M134.6 427.6h1.0M144.7 431.1h1.0M130.4 425.1h1.0M130.4 429.2h1.0M138.9 422.9h1.0M137.8 424.9h1.0M139.0 429.8h1.0M139.3 433.0h1.0M142.8 423.6h1.0M137.1 425.6h1.0M132.4 424.1h1.0M134.7 430.0h1.0M134.0 432.6h1.0M142.0 422.3h1.0M130.4 428.6h1.0M140.7 429.1h1.0M129.6 427.3h1.0M143.8 427.1h1.0M132.3 428.8h1.0M127.6 428.4h1.0M145.0 424.4h1.0M137.8 426.6h1.0M135.4 427.5h1.0M135.0 427.4h1.0M135.4 427.3h1.0M142.1 427.6h1.0M131.1 426.7h1.0M136.9 429.1h1.0M141.4 429.7h1.0M143.4 426.0h1.0M134.4 429.7h1.0M137.6 430.1h1.0M143.5 433.4h1.0M139.1 428.6h1.0M132.2 426.3h1.0M135.6 426.6h1.0M135.9 428.6h1.0M141.1 425.0h1.0M143.8 427.5h1.0M146.4 428.2h1.0M130.7 433.0h1.0M130.3 430.4h1.0M128.4 427.3h1.0M138.4 427.8h1.0M139.6 427.9h1.0M136.9 428.6h1.0M138.5 430.7h1.0M145.3 423.3h1.0M138.4 421.7h1.0M132.9 425.6h1.0M129.3 426.6h1.0M134.1 425.3h1.0M138.9 425.2h1.0M141.6 426.1h1.0M136.7 423.6h1.0M140.2 426.3h1.0M146.2 428.0h1.0M147.9 424.4h1.0M138.7 431.5h1.0M145.0 428.2h1.0M138.8 427.3h1.0M143.5 425.8h1.0M128.2 429.9h1.0M140.2 427.1h1.0M142.6 426.0h1.0M147.2 429.2h1.0M145.5 426.3h1.0M139.9 425.8h1.0M136.4 425.9h1.0M137.1 425.9h1.0M134.1 424.8h1.0M129.9 429.8h1.0M138.0 427.1h1.0M133.9 429.0h1.0M139.7 424.9h1.0M145.4 428.6h1.0M137.9 428.5h1.0M129.9 429.3h1.0M144.5 430.9h1.0M154.0 424.3h1.0M147.8 426.7h1.0M125.6 427.2h1.0M147.0 428.8h1.0M145.3 425.3h1.0M142.6 425.5h1.0M141.5 425.8h1.0M144.8 426.2h1.0M141.8 426.4h1.0M139.1 429.9h1.0M128.4 430.9h1.0M131.5 431.9h1.0M142.1 428.4h1.0M145.3 419.1h1.0M142.5 428.7h1.0M140.4 428.1h1.0M139.9 422.1h1.0M147.1 423.9h1.0M139.9 422.9h1.0M142.8 425.1h1.0M131.9 429.6h1.0M139.2 428.2h1.0M135.4 433.1h1.0M134.2 428.2h1.0M140.0 430.4h1.0M137.6 422.9h1.0M139.2 432.8h1.0M137.3 427.7h1.0M145.3 426.8h1.0M145.9 426.4h1.0M144.7 423.8h1.0M146.8 426.7h1.0M141.8 417.1h1.0M131.6 427.5h1.0M140.9 429.4h1.0M142.9 427.9h1.0M142.7 427.0h1.0M133.2 425.2h1.0M149.3 424.7h1.0M139.9 432.2h1.0M140.1 427.7h1.0M134.0 433.0h1.0M140.8 425.0h1.0M142.2 421.5h1.0M127.9 427.3h1.0M138.1 423.9h1.0M138.1 430.3h1.0M138.0 426.5h1.0M134.3 430.0h1.0M139.8 425.3h1.0M137.0 426.5h1.0M135.5 428.7h1.0M139.4 425.1h1.0M147.0 427.6h1.0M140.8 422.3h1.0M142.9 428.4h1.0M140.6 431.3h1.0M126.8 430.3h1.0M134.4 431.4h1.0M143.9 428.6h1.0M138.8 427.5h1.0M137.2 430.8h1.0M148.9 432.4h1.0M138.1 425.8h1.0M137.2 428.0h1.0M140.0 427.0h1.0M136.5 424.9h1.0M141.1 423.6h1.0M138.8 432.9h1.0M129.3 429.5h1.0M140.8 431.9h1.0M135.2 424.5h1.0M140.2 429.5h1.0M137.7 427.4h1.0M136.0 428.6h1.0M134.9 427.3h1.0M147.0 423.4h1.0M131.5 421.9h1.0M137.7 431.4h1.0M130.2 427.7h1.0M139.6 429.3h1.0M134.0 428.5h1.0M139.8 425.8h1.0M141.4 433.8h1.0M135.1 427.1h1.0M140.4 425.5h1.0M130.2 423.9h1.0M131.8 428.5h1.0M135.8 429.1h1.0M134.1 425.7h1.0M142.6 426.5h1.0M131.4 429.7h1.0M138.0 426.6h1.0M135.3 428.5h1.0M152.7 426.8h1.0M134.2 423.6h1.0M143.0 430.6h1.0M142.6 427.0h1.0M134.0 425.8h1.0M135.0 428.6h1.0M138.5 427.1h1.0M136.0 427.0h1.0M138.4 427.2h1.0M140.5 429.3h1.0M130.9 428.2h1.0M145.1 426.5h1.0M139.6 429.6h1.0M132.1 431.3h1.0M133.4 428.9h1.0M130.0 428.4h1.0M129.8 426.4h1.0M138.2 432.4h1.0M135.4 427.2h1.0M140.4 425.5h1.0M136.4 428.2h1.0M137.1 426.3h1.0M134.6 428.3h1.0M139.1 428.6h1.0M132.5 424.4h1.0M141.1 430.0h1.0M149.0 429.2h1.0M133.6 428.9h1.0M141.3 423.6h1.0M145.8 425.8h1.0M138.7 425.9h1.0M134.1 429.8h1.0M141.2 427.0h1.0M139.6 430.3h1.0M139.7 431.4h1.0M143.4 427.4h1.0M134.9 429.1h1.0M153.4 418.6h1.0M134.6 424.2h1.0M138.5 427.0h1.0M133.2 431.4h1.0M139.6 428.8h1.0M141.1 424.7h1.0M137.7 426.3h1.0M139.3 427.0h1.0M135.5 427.2h1.0M140.7 427.4h1.0M135.9 431.7h1.0M132.6 423.8h1.0M143.8 426.6h1.0M139.9 428.0h1.0M142.0 424.9h1.0M137.0 426.9h1.0M143.5 431.6h1.0M133.3 429.4h1.0M132.1 429.2h1.0M133.8 429.0h1.0M140.9 430.7h1.0M138.9 424.0h1.0M139.4 430.9h1.0M135.1 424.7h1.0M136.9 429.4h1.0M142.6 429.4h1.0M132.3 426.3h1.0M138.5 429.4h1.0M140.9 424.6h1.0M144.2 427.1h1.0M140.8 426.2h1.0M130.3 423.7h1.0M134.8 429.3h1.0M133.9 430.5h1.0M144.3 427.4h1.0M135.2 432.7h1.0M139.3 427.8h1.0M132.8 428.2h1.0M128.5 426.4h1.0M131.8 426.7h1.0M138.9 433.3h1.0M132.3 429.7h1.0M142.6 425.9h1.0M141.8 423.1h1.0M136.8 429.1h1.0M128.2 430.9h1.0M141.4 429.8h1.0M133.6 425.4h1.0M125.1 424.6h1.0M145.3 432.1h1.0M140.9 427.6h1.0M143.3 428.3h1.0M137.7 424.0h1.0M135.2 426.7h1.0M141.8 427.8h1.0M143.1 426.1h1.0M142.8 432.0h1.0M132.8 427.2h1.0M144.7 423.6h1.0M138.4 429.6h1.0M132.5 433.1h1.0M135.7 426.3h1.0M138.0 431.6h1.0M137.8 427.6h1.0M134.3 424.0h1.0M140.7 424.6h1.0M138.9 430.2h1.0M144.2 424.4h1.0M135.2 431.4h1.0M142.8 428.9h1.0M132.1 428.2h1.0M141.3 429.5h1.0M138.6 425.0h1.0M142.4 431.6h1.0M142.2 422.8h1.0M143.3 427.6h1.0M140.4 431.7h1.0M135.2 429.2h1.0M149.5 427.1h1.0M133.1 423.4h1.0M145.0 431.7h1.0M137.3 432.2h1.0M143.9 433.4h1.0M148.3 430.0h1.0M132.8 422.3h1.0M141.2 426.6h1.0M143.0 430.1h1.0M143.1 428.2h1.0M141.2 426.9h1.0M145.8 430.7h1.0M130.9 426.3h1.0M151.1 425.6h1.0M137.5 425.9h1.0M131.9 427.7h1.0M129.4 427.8h1.0M142.3 423.0h1.0M135.7 425.3h1.0M145.6 430.1h1.0M136.9 432.7h1.0M133.7 426.7h1.0M127.5 429.0h1.0M142.2 423.7h1.0M135.1 434.0h1.0M132.9 426.4h1.0M138.3 425.8h1.0M136.8 426.0h1.0M133.1 430.5h1.0M137.5 432.4h1.0M145.0 428.0h1.0M133.1 430.2h1.0M133.2 427.6h1.0M136.4 425.5h1.0M132.2 428.2h1.0M130.3 429.3h1.0M145.6 427.6h1.0M143.1 427.6h1.0M132.5 430.3h1.0M132.3 427.1h1.0M139.6 419.8h1.0M147.3 425.0h1.0M133.1 427.6h1.0M133.5 421.6h1.0M134.5 424.7h1.0M131.1 426.0h1.0M131.8 429.2h1.0M139.3 427.3h1.0M138.0 427.9h1.0M133.7 428.2h1.0M138.0 430.2h1.0M141.4 427.0h1.0M134.3 424.4h1.0M135.3 432.9h1.0M145.1 428.3h1.0M146.2 426.1h1.0M133.6 424.9h1.0M140.8 425.1h1.0M138.6 423.5h1.0M143.3 428.3h1.0M130.3 428.2h1.0M138.7 430.3h1.0M137.3 423.7h1.0M135.8 424.8h1.0M133.3 430.5h1.0M143.4 427.9h1.0M139.5 424.9h1.0M147.1 430.5h1.0M141.5 426.9h1.0M139.1 422.8h1.0M137.0 429.3h1.0M141.0 433.0h1.0M140.3 430.0h1.0M140.1 429.6h1.0M141.1 428.2h1.0M134.5 426.4h1.0M142.3 431.8h1.0M131.4 428.7h1.0M136.3 424.2h1.0M146.8 426.0h1.0M144.2 428.3h1.0M131.0 427.2h1.0M128.9 423.8h1.0M139.7 424.5h1.0M134.9 432.2h1.0M137.3 426.4h1.0M137.2 429.1h1.0M138.7 428.2h1.0M145.8 430.8h1.0M126.5 428.5h1.0M139.8 431.7h1.0M138.1 426.5h1.0M140.1 426.8h1.0M134.3 431.8h1.0M143.4 428.4h1.0M131.0 423.9h1.0M152.2 426.6h1.0M129.7 425.5h1.0M140.1 424.2h1.0M138.4 432.1h1.0M137.4 428.9h1.0M139.9 428.1h1.0M141.3 430.8h1.0M135.4 429.2h1.0M140.5 432.2h1.0M138.3 421.3h1.0M128.7 425.4h1.0M138.8 425.0h1.0M138.6 427.0h1.0M140.3 426.3h1.0M131.9 428.4h1.0M148.1 423.4h1.0M133.8 430.4h1.0M137.4 424.9h1.0M143.2 429.0h1.0M125.6 428.4h1.0M129.4 424.9h1.0M146.3 425.5h1.0M141.5 426.0h1.0M148.2 424.3h1.0M146.0 430.4h1.0M135.5 427.8h1.0M126.4 429.0h1.0M138.2 427.9h1.0M151.9 427.6h1.0M137.2 428.1h1.0M136.5 431.6h1.0M144.3 427.3h1.0M140.2 427.5h1.0M134.1 432.2h1.0M136.8 426.3h1.0M137.6 425.7h1.0M134.1 428.7h1.0M139.1 427.9h1.0M139.2 423.8h1.0M136.0 427.4h1.0M134.8 426.4h1.0M139.5 429.6h1.0M132.9 431.2h1.0M136.8 427.4h1.0M135.6 428.1h1.0M139.0 421.3h1.0M144.6 421.1h1.0M139.0 427.1h1.0M148.8 426.1h1.0M141.8 428.9h1.0M135.4 425.7h1.0M135.1 429.6h1.0M130.3 427.3h1.0M137.8 426.2h1.0M133.6 431.3h1.0M144.2 427.3h1.0M142.5 430.6h1.0M139.9 424.9h1.0M145.4 422.6h1.0M128.5 431.1h1.0M135.4 430.0h1.0M137.1 429.9h1.0M130.4 428.2h1.0M138.9 429.7h1.0M138.4 431.2h1.0M136.5 428.7h1.0M135.8 428.0h1.0M131.5 431.6h1.0M133.8 425.9h1.0M133.2 430.5h1.0M148.9 427.9h1.0M136.2 430.2h1.0M146.2 425.9h1.0M139.7 423.3h1.0M131.9 432.5h1.0M144.2 426.2h1.0M135.5 425.7h1.0M137.8 422.5h1.0M131.4 427.1h1.0M143.5 425.0h1.0M136.3 428.9h1.0M135.9 426.0h1.0M136.1 428.2h1.0M143.8 427.7h1.0M139.6 428.0h1.0M138.3 433.7h1.0M133.2 427.0h1.0M134.8 429.5h1.0M138.5 421.5h1.0M134.2 430.5h1.0M128.6 426.9h1.0M138.0 430.0h1.0M136.0 425.2h1.0M143.7 426.4h1.0M144.5 424.7h1.0M135.8 425.7h1.0M139.1 425.6h1.0M139.8 421.9h1.0M131.5 427.1h1.0M132.4 421.7h1.0M135.5 428.8h1.0M138.1 427.8h1.0M147.4 427.4h1.0M139.6 424.8h1.0M146.4 429.9h1.0M139.9 431.2h1.0M140.9 423.7h1.0M135.4 428.6h1.0M144.7 426.2h1.0M142.6 428.7h1.0M136.5 428.8h1.0M146.7 431.3h1.0M135.5 423.6h1.0M137.9 430.7h1.0M139.5 428.2h1.0M137.6 426.4h1.0M142.5 431.5h1.0M139.3 423.6h1.0M131.0 428.3h1.0M132.0 426.2h1.0M133.7 428.8h1.0M136.0 426.6h1.0M131.2 431.8h1.0M139.3 424.0h1.0M135.5 426.7h1.0M139.7 427.3h1.0M138.1 429.2h1.0M136.9 424.5h1.0M140.6 424.1h1.0M134.3 427.6h1.0M134.8 431.5h1.0M143.1 428.2h1.0M139.5 431.5h1.0M136.9 428.1h1.0M136.1 425.0h1.0M140.7 427.2h1.0M139.5 428.8h1.0M134.4 428.7h1.0M132.7 428.4h1.0M137.6 424.7h1.0M135.9 421.2h1.0M135.4 427.5h1.0M138.1 429.4h1.0M137.9 432.5h1.0M144.2 429.0h1.0M138.1 432.6h1.0M141.3 431.0h1.0M145.5 430.2h1.0M134.3 426.1h1.0M145.1 432.7h1.0M129.1 423.8h1.0M140.6 431.7h1.0M135.9 425.9h1.0M136.1 423.7h1.0M134.4 427.4h1.0M144.4 423.4h1.0M139.5 426.0h1.0M136.4 428.0h1.0M135.1 426.8h1.0M142.7 430.2h1.0M132.0 427.9h1.0M149.0 426.5h1.0M138.9 427.8h1.0M129.2 430.1h1.0M146.3 433.0h1.0M147.9 430.5h1.0M149.2 420.0h1.0M146.3 427.7h1.0M141.4 429.0h1.0M135.8 427.3h1.0M136.5 430.8h1.0M136.7 426.0h1.0M134.1 426.9h1.0M131.0 427.8h1.0M132.0 425.9h1.0M132.6 426.3h1.0M127.5 427.8h1.0M144.1 429.7h1.0M138.5 430.0h1.0M140.8 425.5h1.0M144.4 423.8h1.0M145.2 429.4h1.0M138.8 426.2h1.0M139.2 431.3h1.0M149.1 420.2h1.0M148.0 427.7h1.0M150.4 430.0h1.0M141.0 425.4h1.0M130.5 429.0h1.0M140.8 425.8h1.0M125.4 427.3h1.0M146.8 431.5h1.0M140.3 425.1h1.0M133.0 432.3h1.0M139.6 428.9h1.0M137.7 428.3h1.0M137.6 426.9h1.0M135.3 427.9h1.0M135.2 430.3h1.0M140.1 429.9h1.0M141.1 427.6h1.0M144.0 425.8h1.0M127.4 428.3h1.0M141.7 427.2h1.0M138.4 424.7h1.0M141.8 431.2h1.0M138.7 424.9h1.0M139.0 431.2h1.0M142.4 425.8h1.0M144.4 426.9h1.0M138.8 425.3h1.0M132.3 423.3h1.0M140.3 427.0h1.0M142.3 425.3h1.0M126.4 425.7h1.0M137.6 429.9h1.0M143.0 424.9h1.0M140.2 429.3h1.0M138.8 430.3h1.0M151.7 428.9h1.0M142.9 423.0h1.0M133.6 429.4h1.0M126.2 429.0h1.0M131.1 427.6h1.0M137.0 427.7h1.0M138.4 429.0h1.0M138.8 427.9h1.0M134.3 428.8h1.0M135.1 431.4h1.0M138.0 432.9h1.0M141.0 427.7h1.0M139.1 424.5h1.0M143.3 428.7h1.0M140.1 424.3h1.0M137.3 426.7h1.0M140.4 430.5h1.0M139.7 428.7h1.0M136.8 426.6h1.0M141.7 430.0h1.0M136.8 428.3h1.0M133.1 426.9h1.0M137.1 429.7h1.0M143.2 427.7h1.0M132.0 428.3h1.0M137.2 427.0h1.0M150.3 425.6h1.0M145.9 427.8h1.0M140.7 426.2h1.0M137.6 427.1h1.0M135.8 425.9h1.0M133.3 423.2h1.0M137.5 426.7h1.0M139.0 432.1h1.0M140.5 430.0h1.0M139.3 428.8h1.0M136.7 432.0h1.0M131.2 429.6h1.0M132.5 427.3h1.0M130.7 427.5h1.0M141.1 429.6h1.0M133.0 428.9h1.0M142.4 423.7h1.0M149.7 426.9h1.0M141.5 427.0h1.0M138.1 430.7h1.0M136.3 424.7h1.0M145.6 429.0h1.0M129.5 422.9h1.0M138.3 426.5h1.0M137.2 432.7h1.0M139.9 430.3h1.0M136.6 429.5h1.0M136.8 421.2h1.0M146.3 432.7h1.0M129.9 429.5h1.0M134.6 425.7h1.0M146.6 429.3h1.0M141.2 428.1h1.0M127.6 425.0h1.0M147.5 429.5h1.0M141.6 429.0h1.0M137.7 429.0h1.0M137.4 427.6h1.0M134.9 427.1h1.0M131.2 425.8h1.0M133.1 433.1h1.0M142.6 428.4h1.0M135.3 425.3h1.0M138.0 422.3h1.0M140.5 431.6h1.0M135.5 429.7h1.0M136.6 423.1h1.0M152.8 422.3h1.0M140.6 426.1h1.0M139.1 433.8h1.0M145.6 421.9h1.0M135.4 427.9h1.0M134.4 428.5h1.0M133.5 431.1h1.0M144.7 432.8h1.0M143.7 430.6h1.0M136.8 433.3h1.0M141.7 430.3h1.0M151.6 429.6h1.0M139.5 425.8h1.0M133.0 430.3h1.0M132.4 426.5h1.0M139.8 424.8h1.0M130.5 430.7h1.0M137.5 429.0h1.0M139.9 424.5h1.0M138.9 429.9h1.0M137.9 429.7h1.0M134.7 422.8h1.0M141.8 422.5h1.0M137.0 428.0h1.0M131.4 427.4h1.0M142.1 425.6h1.0M131.9 427.7h1.0M143.1 428.8h1.0M142.0 428.9h1.0M138.2 429.3h1.0M130.2 430.4h1.0M139.1 428.5h1.0M138.1 429.3h1.0M142.9 428.0h1.0M140.3 428.9h1.0M145.2 427.6h1.0M140.5 421.5h1.0M140.5 431.9h1.0M134.6 427.0h1.0M131.1 432.1h1.0M137.5 432.1h1.0M144.0 426.2h1.0M136.5 424.5h1.0M134.5 431.2h1.0M143.0 427.4h1.0M137.0 424.9h1.0M137.5 426.0h1.0M139.4 424.5h1.0M141.1 428.9h1.0M146.3 428.3h1.0M147.5 430.8h1.0M138.5 433.9h1.0M141.0 423.9h1.0M136.1 426.5h1.0M137.0 423.8h1.0M140.0 426.6h1.0M144.1 431.6h1.0M141.9 427.2h1.0M145.2 427.3h1.0M141.5 427.7h1.0M132.9 429.4h1.0M137.2 431.4h1.0M138.0 429.0h1.0M148.0 427.9h1.0M138.9 427.4h1.0M141.9 432.0h1.0M128.8 423.8h1.0M133.7 430.4h1.0M144.5 426.6h1.0M133.9 425.9h1.0M132.1 423.5h1.0M136.5 426.9h1.0M138.2 422.4h1.0M133.1 428.2h1.0M149.7 432.8h1.0M135.6 427.1h1.0M137.1 426.5h1.0M144.4 430.5h1.0M134.7 424.2h1.0M141.1 424.8h1.0M134.6 430.3h1.0M132.2 428.6h1.0M132.1 426.1h1.0M134.5 426.5h1.0M129.8 425.7h1.0M141.8 424.9h1.0M139.7 421.3h1.0M143.4 427.3h1.0M146.8 428.3h1.0M139.1 423.1h1.0M135.8 427.8h1.0M139.6 427.1h1.0M137.0 425.0h1.0M149.8 428.2h1.0M130.4 429.4h1.0M130.8 431.6h1.0M132.7 425.0h1.0M139.1 425.7h1.0M137.7 424.9h1.0M136.1 424.2h1.0M143.0 426.9h1.0M130.4 431.1h1.0M139.6 430.5h1.0M137.3 428.2h1.0M145.6 429.2h1.0M139.0 428.9h1.0M134.2 426.7h1.0M143.4 431.4h1.0M146.3 421.1h1.0M139.1 426.2h1.0M132.7 429.1h1.0M139.9 427.9h1.0M145.6 429.8h1.0M136.9 426.3h1.0M137.9 428.4h1.0M137.6 426.6h1.0M128.0 421.1h1.0M142.3 430.4h1.0M133.4 431.1h1.0M140.6 432.7h1.0M151.4 428.6h1.0M130.7 422.4h1.0M138.2 426.3h1.0M137.2 428.5h1.0M149.3 432.6h1.0M139.6 429.7h1.0M136.4 428.0h1.0M128.4 426.5h1.0M139.3 426.1h1.0M135.1 425.8h1.0M135.8 425.7h1.0M145.5 425.6h1.0M130.6 427.9h1.0M132.7 422.6h1.0M139.3 431.2h1.0M130.1 424.5h1.0M132.9 426.8h1.0M136.5 428.2h1.0M135.9 427.8h1.0M146.9 429.7h1.0M141.0 426.2h1.0M134.7 430.9h1.0M133.5 426.3h1.0M139.1 424.8h1.0M140.2 427.3h1.0M138.4 427.1h1.0M138.5 425.8h1.0M133.7 425.0h1.0M147.0 427.5h1.0M141.3 430.8h1.0M138.8 431.6h1.0M143.6 427.3h1.0M144.1 424.3h1.0M134.3 425.7h1.0M146.6 421.2h1.0M137.7 426.2h1.0M134.9 426.1h1.0M141.5 423.6h1.0M137.5 427.6h1.0M141.0 428.0h1.0M149.4 433.2h1.0M129.1 429.5h1.0M142.0 427.4h1.0M140.5 431.7h1.0M141.5 426.0h1.0M147.1 425.0h1.0M135.0 429.9h1.0M132.2 429.3h1.0M137.7 424.3h1.0M147.2 427.0h1.0M141.5 428.0h1.0M131.3 426.6h1.0M134.4 432.3h1.0M133.8 423.8h1.0M132.1 424.3h1.0M130.9 428.2h1.0M141.0 428.6h1.0M133.1 427.9h1.0M147.3 425.4h1.0M139.4 426.1h1.0M144.6 423.7h1.0M136.8 430.2h1.0M133.0 427.8h1.0M136.7 427.7h1.0M135.0 421.0h1.0M134.5 424.0h1.0M133.7 430.1h1.0M132.0 431.0h1.0M129.5 430.4h1.0M137.0 425.9h1.0M128.7 427.0h1.0M137.7 427.7h1.0M126.7 426.9h1.0M141.9 424.4h1.0" stroke="#161616" stroke-width="1.0" fill="none" opacity="1.0"/>
<text x="158.75" y="379.60" font-size="8.1" font-weight="bold" fill="#000" textLength="20.75" lengthAdjust="spacingAndGlyphs" stroke="#000" stroke-width="0.3" >IL-2</text>
<text x="128.85" y="389.40" font-size="5.9" font-weight="bold" fill="#000" textLength="8.80" lengthAdjust="spacingAndGlyphs" stroke="#000" stroke-width="0.3" >NL</text>
<text x="128.85" y="395.30" font-size="5.9" font-weight="bold" fill="#000" textLength="24.90" lengthAdjust="spacingAndGlyphs" stroke="#000" stroke-width="0.3" >PBMC</text>
<text x="183.75" y="389.70" font-size="6.9" font-weight="bold" fill="#000" textLength="36.25" lengthAdjust="spacingAndGlyphs" stroke="#000" stroke-width="0.3" >17.6 ±1.7</text>
<text x="120.35" y="442.10" font-size="8.0" font-weight="bold" textLength="12.4" lengthAdjust="spacingAndGlyphs" stroke="#000" stroke-width="0.3">10<tspan dy="-2.6" font-size="5.76">0</tspan></text>
<text x="145.79" y="442.10" font-size="8.0" font-weight="bold" textLength="12.4" lengthAdjust="spacingAndGlyphs" stroke="#000" stroke-width="0.3">10<tspan dy="-2.6" font-size="5.76">1</tspan></text>
<text x="171.22" y="442.10" font-size="8.0" font-weight="bold" textLength="12.4" lengthAdjust="spacingAndGlyphs" stroke="#000" stroke-width="0.3">10<tspan dy="-2.6" font-size="5.76">2</tspan></text>
<text x="196.66" y="442.10" font-size="8.0" font-weight="bold" textLength="12.4" lengthAdjust="spacingAndGlyphs" stroke="#000" stroke-width="0.3">10<tspan dy="-2.6" font-size="5.76">3</tspan></text>
<text x="222.10" y="442.10" font-size="8.0" font-weight="bold" textLength="12.4" lengthAdjust="spacingAndGlyphs" stroke="#000" stroke-width="0.3">10<tspan dy="-2.6" font-size="5.76">4</tspan></text>
<text x="137.50" y="448.80" font-size="7.2" font-weight="bold" fill="#000" textLength="65.00" lengthAdjust="spacingAndGlyphs" stroke="#000" stroke-width="0.3" >Annexin-V-FITC</text>
<text transform="translate(119.95,440.90) rotate(-90)" x="0" y="0" font-size="7.8" font-weight="bold" textLength="11.4" lengthAdjust="spacingAndGlyphs" stroke="#000" stroke-width="0.3">10<tspan dy="-2.4" font-size="5.62">0</tspan></text>
<text transform="translate(119.95,427.42) rotate(-90)" x="0" y="0" font-size="7.8" font-weight="bold" textLength="11.4" lengthAdjust="spacingAndGlyphs" stroke="#000" stroke-width="0.3">10<tspan dy="-2.4" font-size="5.62">1</tspan></text>
<text transform="translate(119.95,413.95) rotate(-90)" x="0" y="0" font-size="7.8" font-weight="bold" textLength="11.4" lengthAdjust="spacingAndGlyphs" stroke="#000" stroke-width="0.3">10<tspan dy="-2.4" font-size="5.62">2</tspan></text>
<text transform="translate(119.95,400.47) rotate(-90)" x="0" y="0" font-size="7.8" font-weight="bold" textLength="11.4" lengthAdjust="spacingAndGlyphs" stroke="#000" stroke-width="0.3">10<tspan dy="-2.4" font-size="5.62">3</tspan></text>
<text transform="translate(119.95,387.00) rotate(-90)" x="0" y="0" font-size="7.8" font-weight="bold" textLength="11.4" lengthAdjust="spacingAndGlyphs" stroke="#000" stroke-width="0.3">10<tspan dy="-2.4" font-size="5.62">4</tspan></text>
<text transform="translate(104.95,423.25) rotate(-90)" x="0" y="0" font-size="6.6" font-weight="bold" fill="#000" textLength="32.80" lengthAdjust="spacingAndGlyphs" stroke="#000" stroke-width="0.3">7-AAD-FL3</text>
<path d="M273.9 415.6h0.75M288.4 412.7h0.75M300.4 410.4h0.75M300.4 412.3h0.75M309.4 408.6h0.75M302.8 411.0h0.75M293.4 411.0h0.75M288.2 414.8h0.75M289.3 417.7h0.75M304.2 410.1h0.75M281.1 416.8h0.75M315.2 404.9h0.75M294.3 412.2h0.75M293.8 412.6h0.75M295.1 412.4h0.75M292.3 411.8h0.75M286.4 418.7h0.75M282.4 417.7h0.75M297.0 411.0h0.75M302.5 413.8h0.75M283.3 414.8h0.75M310.6 407.1h0.75M295.0 410.6h0.75M309.6 406.6h0.75M297.8 412.6h0.75M291.6 414.6h0.75M286.3 414.5h0.75M304.5 410.7h0.75M302.5 409.3h0.75M295.1 412.8h0.75M308.3 410.6h0.75M290.5 414.9h0.75M289.9 413.0h0.75M301.0 411.6h0.75M301.3 414.7h0.75M297.0 407.3h0.75M304.0 412.3h0.75M303.3 411.8h0.75M301.1 409.6h0.75M284.5 411.9h0.75M284.8 416.5h0.75M301.8 409.6h0.75M297.9 412.6h0.75M302.7 409.8h0.75M293.5 410.9h0.75M309.0 410.0h0.75M292.9 415.5h0.75M286.4 414.8h0.75M304.1 413.2h0.75M294.3 412.3h0.75M291.4 412.0h0.75M301.1 411.1h0.75M305.8 409.0h0.75M305.2 408.6h0.75M294.1 409.9h0.75M290.7 413.2h0.75M293.6 414.8h0.75M285.7 412.9h0.75M307.2 407.0h0.75M280.2 415.5h0.75M297.2 410.9h0.75M298.4 410.5h0.75M300.0 409.1h0.75M297.5 413.1h0.75M278.3 416.8h0.75M279.0 418.4h0.75M296.0 412.7h0.75M290.1 410.5h0.75M284.7 413.1h0.75M293.8 413.3h0.75M296.8 411.3h0.75M282.0 415.3h0.75M294.9 412.8h0.75M296.4 412.6h0.75M305.1 411.7h0.75M290.0 413.1h0.75M294.6 410.9h0.75M273.0 419.4h0.75M296.8 408.6h0.75M304.5 412.0h0.75M350.5 428.4h0.75M348.9 420.1h0.75M319.9 430.3h0.75M352.3 421.6h0.75M333.0 426.0h0.75M310.8 426.4h0.75M326.5 419.7h0.75M338.2 427.6h0.75M336.0 422.1h0.75M295.6 427.0h0.75M356.6 427.7h0.75M308.5 429.1h0.75M296.1 420.2h0.75M300.3 421.2h0.75M352.2 427.8h0.75M336.6 424.7h0.75M299.0 428.6h0.75M314.2 421.5h0.75M298.0 432.8h0.75M340.6 424.3h0.75M354.7 427.1h0.75M319.6 431.6h0.75M329.9 423.8h0.75M355.2 433.2h0.75M354.2 423.3h0.75M344.4 421.3h0.75M305.3 422.4h0.75M313.0 423.6h0.75M347.2 428.6h0.75M295.0 431.6h0.75M304.3 431.0h0.75M334.3 428.3h0.75M311.5 432.1h0.75M298.9 431.7h0.75M329.3 424.9h0.75M319.4 418.6h0.75M325.0 426.0h0.75M317.4 421.5h0.75M330.7 425.6h0.75M307.6 422.0h0.75M304.9 418.6h0.75M339.1 421.2h0.75M336.8 424.4h0.75M300.5 421.8h0.75M339.6 423.5h0.75M329.4 419.6h0.75M353.9 425.7h0.75M344.6 421.8h0.75M353.2 422.0h0.75M337.2 432.8h0.75M333.8 420.0h0.75M348.7 431.0h0.75M336.8 428.3h0.75M297.4 423.1h0.75M314.9 422.0h0.75M344.6 420.3h0.75M310.5 421.1h0.75M304.9 432.5h0.75M296.4 419.0h0.75M342.5 423.1h0.75M312.4 420.9h0.75M332.2 420.1h0.75M321.0 428.6h0.75M294.1 425.4h0.75M302.5 418.9h0.75M344.0 418.6h0.75M297.0 425.4h0.75M338.5 427.5h0.75M355.1 425.2h0.75M349.7 422.5h0.75M320.8 428.0h0.75M347.4 432.5h0.75M351.8 418.6h0.75M316.9 433.5h0.75M317.1 422.0h0.75M309.6 431.9h0.75M329.6 424.5h0.75M306.0 422.6h0.75M309.7 426.2h0.75M297.5 427.0h0.75M331.6 430.4h0.75M328.4 430.6h0.75M304.7 431.8h0.75M307.4 423.9h0.75M332.0 420.0h0.75M345.5 431.4h0.75M339.2 423.6h0.75M305.6 421.4h0.75M308.2 428.5h0.75M308.9 427.4h0.75M342.5 432.6h0.75M341.1 423.6h0.75M339.8 433.7h0.75M335.1 419.6h0.75M327.6 425.9h0.75M295.0 423.0h0.75M347.8 425.9h0.75M352.1 432.1h0.75M323.8 427.0h0.75M305.5 428.9h0.75M303.2 427.0h0.75M324.2 429.6h0.75M338.6 433.2h0.75M350.3 431.9h0.75M303.2 425.5h0.75M338.3 425.1h0.75M294.1 427.8h0.75M300.8 418.6h0.75M304.7 422.0h0.75M308.0 424.8h0.75M341.0 428.1h0.75M319.2 424.4h0.75M322.9 423.9h0.75M349.9 424.7h0.75M341.1 427.3h0.75M321.6 427.8h0.75M343.2 426.0h0.75M335.8 422.9h0.75M336.5 422.0h0.75M311.9 433.4h0.75M337.7 428.6h0.75M312.9 427.6h0.75M312.8 421.8h0.75M334.5 420.4h0.75M295.9 429.0h0.75M316.5 423.8h0.75M333.8 432.5h0.75M335.3 420.3h0.75M342.0 427.1h0.75M352.6 420.0h0.75M316.3 419.6h0.75M313.0 425.7h0.75M322.2 423.9h0.75M340.6 433.4h0.75M330.3 425.7h0.75M344.5 428.2h0.75M332.7 422.4h0.75M329.2 429.5h0.75M301.9 427.8h0.75M332.0 427.5h0.75M338.0 433.3h0.75M353.7 433.5h0.75M346.4 420.8h0.75M339.3 429.9h0.75M327.2 425.6h0.75M317.9 424.4h0.75M319.5 421.5h0.75M345.0 427.7h0.75M355.2 426.6h0.75M300.2 426.9h0.75M333.6 433.1h0.75M320.4 430.6h0.75M309.9 424.0h0.75M319.5 428.0h0.75M310.6 420.9h0.75M295.7 421.0h0.75M348.8 432.1h0.75M313.4 425.6h0.75M319.4 427.4h0.75M309.1 418.9h0.75M346.3 428.2h0.75M301.5 425.0h0.75M333.1 429.9h0.75M323.7 430.4h0.75M353.7 429.2h0.75M319.8 432.1h0.75M294.6 422.2h0.75M332.7 431.6h0.75M311.5 429.6h0.75M351.2 431.2h0.75M326.2 431.2h0.75M349.1 425.7h0.75M308.8 423.8h0.75M294.5 428.4h0.75M305.4 421.0h0.75M317.6 425.2h0.75M342.0 422.5h0.75M337.3 419.0h0.75M315.9 423.4h0.75M303.0 426.8h0.75M316.0 422.9h0.75M311.5 430.9h0.75M317.9 429.3h0.75M338.1 431.5h0.75M346.1 429.4h0.75M326.3 423.7h0.75M353.9 419.6h0.75M300.5 419.9h0.75M319.1 432.7h0.75M353.0 429.4h0.75M352.8 422.1h0.75M328.7 423.7h0.75M328.7 432.6h0.75M304.1 426.6h0.75M299.0 420.2h0.75M315.8 426.4h0.75M295.9 431.8h0.75M294.7 430.8h0.75M312.6 424.1h0.75M345.2 418.8h0.75M323.2 420.8h0.75M340.9 430.2h0.75M307.2 431.2h0.75M303.6 420.7h0.75M304.6 425.0h0.75M352.8 422.8h0.75M321.6 427.0h0.75M347.7 421.6h0.75M315.1 420.6h0.75M353.3 430.4h0.75M325.6 424.0h0.75M331.0 424.1h0.75M316.5 429.4h0.75M298.1 419.9h0.75M304.0 425.1h0.75M320.0 425.9h0.75M337.3 430.1h0.75M347.1 421.6h0.75M355.2 428.8h0.75M338.0 423.6h0.75M329.6 418.5h0.75M348.1 424.4h0.75M335.2 427.3h0.75M330.7 422.6h0.75M338.8 421.6h0.75M350.1 425.9h0.75M351.6 418.8h0.75M296.6 419.3h0.75M325.7 419.7h0.75M328.0 420.5h0.75M300.5 428.4h0.75M351.4 429.6h0.75M297.7 427.0h0.75M353.0 421.6h0.75M352.3 431.9h0.75M343.0 428.0h0.75M316.1 420.1h0.75M303.0 419.3h0.75M350.2 430.2h0.75M320.1 432.3h0.75M327.5 429.4h0.75M297.2 433.6h0.75M311.3 424.2h0.75M318.2 425.8h0.75M335.9 422.6h0.75M330.9 425.9h0.75M308.4 431.5h0.75M302.0 427.7h0.75M310.6 430.8h0.75M310.5 428.9h0.75M320.7 428.0h0.75M328.4 425.5h0.75M340.2 431.3h0.75M296.4 419.4h0.75M326.1 430.6h0.75M340.5 429.7h0.75M315.4 426.8h0.75M329.5 419.9h0.75M335.7 418.7h0.75M326.8 425.5h0.75M324.6 432.0h0.75M338.9 428.0h0.75M324.1 429.3h0.75M334.9 422.4h0.75M321.6 420.9h0.75M353.0 425.4h0.75M329.8 432.6h0.75M321.1 424.9h0.75M297.3 425.9h0.75M317.0 427.2h0.75M337.6 427.0h0.75M310.7 432.5h0.75M340.6 421.6h0.75M348.7 425.1h0.75M299.8 427.6h0.75M328.5 428.0h0.75M336.8 423.4h0.75M351.1 419.5h0.75M295.7 430.4h0.75M302.2 427.7h0.75M305.0 423.9h0.75M315.8 426.7h0.75M302.5 428.6h0.75M333.2 422.4h0.75M356.4 425.8h0.75M320.3 427.5h0.75M342.5 431.7h0.75M338.6 433.2h0.75M329.3 423.5h0.75M315.5 428.8h0.75M339.4 428.5h0.75M298.4 422.8h0.75M319.6 430.5h0.75M331.4 429.8h0.75M353.7 429.2h0.75M341.7 422.8h0.75M339.7 432.4h0.75M337.4 423.0h0.75M352.5 424.5h0.75M330.7 424.2h0.75M323.4 431.9h0.75M331.6 432.8h0.75M347.8 419.5h0.75M350.9 433.6h0.75M307.9 431.3h0.75M336.7 428.7h0.75M304.8 432.6h0.75M317.2 425.9h0.75M295.8 421.4h0.75M353.8 423.0h0.75M353.1 421.5h0.75M339.7 425.4h0.75M336.1 418.4h0.75M332.3 426.1h0.75M312.5 428.7h0.75M303.7 422.7h0.75M299.0 428.8h0.75M301.1 432.8h0.75M355.7 421.8h0.75M351.4 418.4h0.75M336.8 430.5h0.75M344.2 428.2h0.75M306.0 431.6h0.75M342.3 423.9h0.75M317.9 423.4h0.75M339.1 419.7h0.75M343.4 426.3h0.75M321.8 425.4h0.75M318.3 424.0h0.75M323.9 420.0h0.75M311.0 427.2h0.75M322.4 418.9h0.75M324.2 425.7h0.75M314.7 419.2h0.75M322.5 432.6h0.75M307.5 419.0h0.75M306.1 425.3h0.75M330.5 425.4h0.75M342.8 429.0h0.75M349.6 421.8h0.75M305.8 430.0h0.75M353.4 432.1h0.75M342.1 422.2h0.75M324.6 427.9h0.75M336.6 428.0h0.75M336.2 421.5h0.75M323.7 425.9h0.75M300.2 421.2h0.75M334.7 425.7h0.75M322.5 433.4h0.75M349.7 427.3h0.75M332.7 431.1h0.75M355.6 428.2h0.75M323.8 419.7h0.75M341.4 419.0h0.75M312.4 421.4h0.75M348.3 428.5h0.75M330.2 418.4h0.75M309.0 433.4h0.75M302.4 424.5h0.75M311.6 420.5h0.75M302.0 430.5h0.75M323.3 422.9h0.75M344.4 425.6h0.75M334.8 420.6h0.75M294.6 423.3h0.75M296.7 432.3h0.75M319.8 420.1h0.75M342.4 422.5h0.75M343.8 428.3h0.75M345.1 420.1h0.75M342.6 421.6h0.75M353.4 431.2h0.75M294.9 422.4h0.75M351.7 427.6h0.75M320.4 428.4h0.75M299.7 426.6h0.75M294.3 428.5h0.75M320.2 424.7h0.75M327.3 430.6h0.75M305.6 429.0h0.75M330.3 419.7h0.75M326.4 427.8h0.75M325.2 421.6h0.75M320.0 423.2h0.75M339.7 421.4h0.75M301.5 422.3h0.75M331.5 419.0h0.75M299.6 423.9h0.75M310.6 431.9h0.75M337.6 427.8h0.75M322.2 421.4h0.75M348.9 427.3h0.75M344.1 427.3h0.75M339.7 418.6h0.75M348.3 433.4h0.75M338.6 431.7h0.75M331.2 420.6h0.75M309.8 424.7h0.75M330.9 424.9h0.75M294.3 428.5h0.75M325.2 424.1h0.75M332.2 428.0h0.75M322.6 422.2h0.75M335.9 412.7h0.75M330.0 417.0h0.75M339.2 413.6h0.75M317.2 406.9h0.75M358.3 406.0h0.75M340.9 412.7h0.75M334.0 406.6h0.75M332.5 402.8h0.75M356.7 407.5h0.75M335.8 416.5h0.75M324.3 416.5h0.75M325.9 417.9h0.75M338.5 408.7h0.75M329.2 401.2h0.75M336.3 411.4h0.75M335.3 415.0h0.75M345.1 416.1h0.75M331.2 398.7h0.75M336.8 417.9h0.75M312.4 405.9h0.75M299.3 403.9h0.75M354.9 412.2h0.75M336.4 414.1h0.75M315.6 410.3h0.75M320.0 408.7h0.75M337.6 415.0h0.75M333.3 411.1h0.75M329.0 413.2h0.75M353.2 414.1h0.75M334.5 404.5h0.75M338.8 413.5h0.75M312.0 415.2h0.75M297.9 417.7h0.75M331.5 403.0h0.75M342.9 403.7h0.75M339.9 409.2h0.75M304.3 417.9h0.75M327.9 412.4h0.75M310.3 423.5h0.75M335.0 412.9h0.75M332.1 412.9h0.75M327.7 419.3h0.75M346.9 407.5h0.75M331.4 400.4h0.75M319.4 407.4h0.75M330.9 411.4h0.75M346.9 410.0h0.75M331.5 419.2h0.75M336.8 408.4h0.75M324.5 419.8h0.75M348.7 408.9h0.75M352.1 410.0h0.75M344.4 409.4h0.75M336.2 412.4h0.75M341.6 405.1h0.75M333.5 417.9h0.75M348.8 403.5h0.75M311.6 411.9h0.75M358.3 405.0h0.75M323.2 410.5h0.75M338.0 417.9h0.75M327.1 414.0h0.75M326.1 403.6h0.75M301.1 421.0h0.75M319.6 404.6h0.75M330.4 413.3h0.75M328.1 401.9h0.75M315.1 414.9h0.75M301.6 408.5h0.75M328.4 404.7h0.75M321.8 417.2h0.75M294.6 413.5h0.75M350.2 423.4h0.75M313.5 413.8h0.75M350.0 397.7h0.75M307.0 419.2h0.75M340.8 410.5h0.75M318.0 413.4h0.75M334.5 396.9h0.75M326.4 408.3h0.75M337.1 406.1h0.75M320.0 403.2h0.75M355.3 405.9h0.75M313.1 420.1h0.75M328.4 412.6h0.75M316.6 413.7h0.75M304.8 415.3h0.75M308.6 412.0h0.75M289.1 420.4h0.75M324.4 421.5h0.75M324.1 413.5h0.75M354.4 404.9h0.75M324.7 407.0h0.75M330.7 406.5h0.75M324.3 410.5h0.75M326.1 406.0h0.75M356.2 410.1h0.75M331.4 417.2h0.75M348.1 420.2h0.75M330.3 407.2h0.75M312.3 410.3h0.75M313.1 415.4h0.75M337.8 402.0h0.75M302.8 419.0h0.75M335.7 411.8h0.75M309.2 419.2h0.75M335.5 410.9h0.75M321.9 390.4h0.75M310.5 406.6h0.75M322.8 411.6h0.75M353.0 413.0h0.75M327.3 411.8h0.75M332.4 400.6h0.75M356.6 413.2h0.75M353.8 419.0h0.75M319.9 417.2h0.75M320.9 411.6h0.75M336.4 416.8h0.75M338.4 415.1h0.75M340.9 408.8h0.75M312.2 419.2h0.75M348.6 410.4h0.75M336.7 413.2h0.75M358.7 406.1h0.75M319.5 411.4h0.75M312.8 416.0h0.75M325.5 418.7h0.75M316.7 406.3h0.75M316.2 414.5h0.75M310.4 405.8h0.75M315.2 408.5h0.75M342.6 407.1h0.75M323.1 426.3h0.75M316.2 414.6h0.75M306.5 421.4h0.75M337.2 411.1h0.75M349.7 407.0h0.75M353.9 407.7h0.75M329.2 410.7h0.75M346.9 404.1h0.75M343.0 413.5h0.75M313.6 407.0h0.75M349.9 416.2h0.75M332.3 417.7h0.75M333.2 398.0h0.75M325.6 414.8h0.75M330.7 414.6h0.75M338.5 420.9h0.75M344.7 415.1h0.75M332.4 395.8h0.75M353.1 408.3h0.75M329.3 408.7h0.75M347.8 388.8h0.75M317.8 403.6h0.75M329.0 410.7h0.75M325.6 414.4h0.75M341.7 409.3h0.75M344.7 413.5h0.75M316.7 415.6h0.75M327.3 409.6h0.75M327.5 396.0h0.75M349.1 421.1h0.75M325.7 412.3h0.75M332.1 423.9h0.75M336.9 399.5h0.75M356.0 407.4h0.75M341.1 410.6h0.75M294.8 411.7h0.75M348.4 419.1h0.75M340.9 401.5h0.75M315.3 413.7h0.75M306.1 407.9h0.75M340.3 396.1h0.75M345.1 412.9h0.75M296.6 417.0h0.75M326.0 412.4h0.75M323.0 414.5h0.75M334.4 415.1h0.75M317.6 414.4h0.75M305.6 428.6h0.75M331.0 417.9h0.75M306.0 415.0h0.75M332.2 403.5h0.75M322.0 412.6h0.75M328.4 415.9h0.75M308.6 426.2h0.75M299.7 421.6h0.75M315.9 416.5h0.75M299.3 413.1h0.75M337.9 418.9h0.75M319.1 415.7h0.75M342.3 403.0h0.75M342.0 406.2h0.75M353.7 405.1h0.75M335.4 407.8h0.75M348.7 408.9h0.75M349.5 413.3h0.75M312.5 413.7h0.75M341.3 397.6h0.75M328.5 418.5h0.75M300.6 420.4h0.75M325.7 414.8h0.75M337.6 410.8h0.75M321.2 396.7h0.75M321.8 414.3h0.75M309.8 417.8h0.75M336.4 422.2h0.75M326.0 417.1h0.75M332.9 407.7h0.75M329.8 405.8h0.75M322.3 410.3h0.75M315.2 423.7h0.75M313.6 415.3h0.75M340.4 399.1h0.75M338.8 406.9h0.75M316.7 402.3h0.75M320.4 413.5h0.75M338.7 418.8h0.75M338.2 415.1h0.75M354.7 406.0h0.75M301.9 416.9h0.75M318.0 412.4h0.75M349.6 417.6h0.75M327.6 407.7h0.75M315.8 415.9h0.75M320.0 406.1h0.75M344.9 417.6h0.75M350.4 399.4h0.75M326.0 410.0h0.75M342.0 406.1h0.75M326.4 410.7h0.75M330.2 423.4h0.75M346.8 408.2h0.75M317.1 418.6h0.75M304.3 413.2h0.75M336.8 410.1h0.75M348.6 411.6h0.75M311.7 413.1h0.75M359.0 400.2h0.75M331.7 399.5h0.75M315.5 416.8h0.75M325.1 399.1h0.75M280.7 414.7h0.75M332.9 417.3h0.75M339.0 423.6h0.75M335.8 417.5h0.75M319.0 411.1h0.75M329.9 415.1h0.75M332.1 416.2h0.75M354.5 407.2h0.75M337.1 402.1h0.75M334.2 419.2h0.75M343.0 414.2h0.75M319.9 414.5h0.75M351.9 415.9h0.75M338.2 412.7h0.75M326.1 411.4h0.75M335.5 408.8h0.75M305.1 416.0h0.75M341.3 408.3h0.75M333.5 417.8h0.75M325.5 408.5h0.75M319.2 406.8h0.75M338.9 400.6h0.75M304.1 414.5h0.75M304.4 421.5h0.75M338.2 417.8h0.75M332.3 408.5h0.75M355.0 422.3h0.75M330.3 419.3h0.75M332.6 413.6h0.75M357.3 398.5h0.75M324.6 406.2h0.75M337.3 409.6h0.75M306.5 400.7h0.75M330.2 418.6h0.75M308.3 404.1h0.75M336.8 405.0h0.75M334.0 420.3h0.75M328.4 417.0h0.75M312.9 412.5h0.75M319.2 410.7h0.75M334.3 414.6h0.75M316.3 414.8h0.75M350.0 403.0h0.75M352.9 415.0h0.75M316.4 411.6h0.75M331.3 407.4h0.75M339.3 420.1h0.75M335.9 401.5h0.75M330.0 412.2h0.75M332.9 421.6h0.75M344.1 407.7h0.75M346.7 413.7h0.75M319.4 419.6h0.75M329.3 412.1h0.75M341.9 416.8h0.75M318.9 420.3h0.75M323.1 407.0h0.75M347.3 409.9h0.75M351.3 406.9h0.75M324.1 408.1h0.75M309.8 418.4h0.75M335.5 411.2h0.75M320.4 414.8h0.75M313.1 418.5h0.75M348.6 402.2h0.75M304.9 409.4h0.75M319.0 422.0h0.75M322.2 411.8h0.75M350.6 402.8h0.75M334.5 403.4h0.75M296.8 415.8h0.75M342.5 394.7h0.75M304.0 430.5h0.75M328.2 413.7h0.75M340.9 412.1h0.75M315.4 416.1h0.75M336.7 395.1h0.75M281.6 424.3h0.75M328.2 415.1h0.75M305.3 417.4h0.75M321.7 411.8h0.75M341.5 413.4h0.75M342.3 415.6h0.75M321.8 410.5h0.75M324.7 407.8h0.75M346.1 414.2h0.75M321.1 420.4h0.75M329.0 411.7h0.75M343.0 408.5h0.75M342.9 420.2h0.75M321.6 413.1h0.75M345.3 411.2h0.75M336.0 417.7h0.75M351.9 409.3h0.75M308.7 415.8h0.75M327.4 411.1h0.75M354.9 417.4h0.75M330.0 419.2h0.75M330.7 404.7h0.75M329.4 406.6h0.75M305.5 415.3h0.75M319.2 426.6h0.75M326.5 420.6h0.75M352.4 415.6h0.75M352.5 411.2h0.75M350.2 405.8h0.75M355.6 415.3h0.75M309.1 412.8h0.75M333.1 404.6h0.75M331.5 410.4h0.75M353.5 407.5h0.75M329.8 411.2h0.75M352.5 401.3h0.75M307.3 409.6h0.75M325.2 407.2h0.75M341.1 403.3h0.75M342.8 402.2h0.75M330.6 407.1h0.75M324.9 406.9h0.75M346.1 407.3h0.75M310.8 400.8h0.75M326.2 408.1h0.75M336.4 400.3h0.75M346.6 413.1h0.75M323.6 403.2h0.75M315.8 408.5h0.75M305.7 400.8h0.75M355.8 406.1h0.75M346.5 414.0h0.75M325.9 410.9h0.75M308.5 406.3h0.75M348.5 412.1h0.75M346.7 408.2h0.75M339.2 404.2h0.75M351.6 407.7h0.75M310.3 406.4h0.75M311.8 400.4h0.75M306.4 406.7h0.75M309.8 403.3h0.75M324.0 413.6h0.75M355.5 400.6h0.75M348.9 405.8h0.75M342.9 406.3h0.75M319.0 405.0h0.75M336.5 410.1h0.75M349.6 403.1h0.75M354.3 414.1h0.75M305.1 406.0h0.75M314.4 405.7h0.75M309.9 413.4h0.75M355.5 401.9h0.75M311.6 406.0h0.75M343.6 403.4h0.75M339.3 410.4h0.75M315.2 405.8h0.75M353.8 401.1h0.75M327.9 406.2h0.75M309.1 414.4h0.75M318.3 408.2h0.75M352.8 398.5h0.75M344.8 407.6h0.75M354.7 410.3h0.75M313.4 399.1h0.75M349.5 404.5h0.75M334.3 402.0h0.75M337.1 407.0h0.75M353.8 402.9h0.75M353.5 401.9h0.75M348.4 402.3h0.75M353.9 410.2h0.75M315.7 411.3h0.75M353.6 410.5h0.75M328.1 401.8h0.75M316.0 407.1h0.75M323.2 401.8h0.75M342.0 401.1h0.75M311.4 412.4h0.75M308.7 402.0h0.75M319.6 411.1h0.75M323.4 408.5h0.75M324.3 403.3h0.75M347.9 399.7h0.75M323.4 399.1h0.75" stroke="#8c8c8c" stroke-width="0.75" fill="none" opacity="1.0"/>
<path d="M274.1 430.7h0.85M280.0 427.1h0.85M267.2 421.8h0.85M285.5 423.3h0.85M287.9 426.9h0.85M289.3 424.4h0.85M283.2 422.7h0.85M299.0 433.3h0.85M271.8 432.9h0.85M263.0 424.5h0.85M266.1 428.1h0.85M270.6 423.3h0.85M294.9 426.2h0.85M269.2 429.4h0.85M274.8 433.5h0.85M263.3 426.5h0.85M279.7 426.3h0.85M280.7 429.9h0.85M275.7 431.1h0.85M282.8 426.0h0.85M272.3 426.5h0.85M288.4 426.6h0.85M298.4 421.8h0.85M278.2 427.8h0.85M263.8 431.5h0.85M279.2 426.5h0.85M280.9 420.3h0.85M281.6 425.4h0.85M274.4 431.4h0.85M271.9 427.5h0.85M284.9 424.1h0.85M265.7 427.7h0.85M285.4 432.5h0.85M274.3 432.8h0.85M269.3 422.6h0.85M281.1 418.3h0.85M265.6 423.6h0.85M275.2 433.4h0.85M279.2 426.1h0.85M274.0 422.3h0.85M273.6 424.2h0.85M277.0 429.1h0.85M281.3 422.7h0.85M293.0 422.0h0.85M274.1 422.3h0.85M263.9 424.1h0.85M288.5 427.9h0.85M292.1 423.8h0.85M275.4 421.3h0.85M300.6 426.9h0.85M279.9 425.6h0.85M286.2 428.4h0.85M274.6 422.3h0.85M275.8 421.7h0.85M280.2 420.1h0.85M293.5 431.2h0.85M284.8 427.8h0.85M270.5 423.6h0.85M288.9 424.7h0.85M289.4 420.3h0.85M281.2 424.4h0.85M282.6 420.9h0.85M267.6 427.4h0.85M263.9 429.4h0.85M281.1 428.3h0.85M268.9 428.0h0.85M289.7 418.5h0.85M278.7 429.8h0.85M279.4 429.3h0.85M280.9 424.1h0.85M298.6 429.5h0.85M275.8 430.3h0.85M289.2 430.5h0.85M291.6 419.5h0.85M302.6 426.0h0.85M276.7 418.9h0.85M275.0 427.3h0.85M267.3 424.5h0.85M291.9 429.7h0.85M286.5 424.7h0.85M294.7 427.0h0.85M268.9 426.1h0.85M282.4 427.9h0.85M267.0 424.5h0.85M276.1 432.3h0.85M282.9 433.2h0.85M275.2 425.3h0.85M292.3 430.0h0.85M280.4 422.1h0.85M268.4 425.6h0.85M289.8 422.2h0.85M276.7 425.5h0.85M269.5 424.9h0.85M282.1 428.9h0.85M303.8 423.8h0.85M268.2 426.9h0.85M282.8 430.9h0.85M267.4 424.1h0.85M276.6 427.1h0.85M288.9 427.7h0.85M260.9 431.6h0.85M275.7 427.7h0.85M273.1 430.5h0.85M282.0 425.7h0.85M284.3 415.0h0.85M264.4 429.6h0.85M285.1 427.1h0.85M312.5 426.6h0.85M276.2 426.9h0.85M274.8 429.6h0.85M289.4 425.3h0.85M280.9 427.9h0.85M281.3 427.9h0.85M278.2 420.6h0.85M283.4 422.8h0.85M273.7 428.3h0.85M261.9 421.3h0.85M289.8 427.0h0.85M282.4 425.8h0.85M292.3 424.6h0.85M276.2 431.1h0.85M274.6 422.2h0.85M269.4 428.0h0.85M284.1 420.4h0.85M271.8 423.7h0.85M272.6 431.3h0.85M262.0 419.3h0.85M290.6 426.7h0.85M276.9 421.6h0.85M268.1 433.2h0.85M272.7 431.5h0.85M279.4 424.3h0.85M276.3 427.2h0.85M263.5 432.7h0.85M280.5 421.3h0.85M286.1 417.1h0.85M276.5 425.9h0.85M282.7 423.5h0.85M291.7 426.9h0.85M287.5 427.8h0.85M285.3 421.5h0.85M292.6 429.2h0.85M270.9 423.1h0.85M286.9 424.8h0.85M270.6 424.2h0.85M278.6 428.4h0.85M268.2 425.2h0.85M268.6 421.9h0.85M297.8 432.2h0.85M270.2 428.8h0.85M279.0 421.4h0.85M272.2 429.1h0.85M291.5 426.8h0.85M285.7 426.6h0.85M271.3 429.6h0.85M265.9 430.4h0.85M279.0 427.1h0.85M285.8 426.4h0.85M281.6 430.4h0.85M297.0 427.8h0.85M286.7 430.4h0.85M266.9 425.6h0.85M286.6 424.5h0.85M289.4 426.4h0.85M275.4 426.6h0.85M267.1 428.6h0.85M285.7 429.0h0.85M285.7 427.1h0.85M276.0 424.7h0.85M289.9 428.0h0.85M279.7 419.0h0.85M283.8 429.0h0.85M267.7 429.0h0.85M284.1 428.6h0.85M284.1 426.1h0.85M268.4 423.5h0.85M266.1 429.2h0.85M274.4 426.7h0.85M302.6 433.5h0.85M275.9 430.8h0.85M273.9 428.7h0.85M282.7 423.9h0.85M277.7 422.3h0.85M273.3 432.2h0.85M273.0 425.2h0.85M285.0 430.5h0.85M291.5 423.8h0.85M295.4 423.8h0.85M264.2 424.9h0.85M278.4 432.7h0.85M286.8 427.8h0.85M281.6 420.3h0.85M291.7 428.4h0.85M285.2 422.7h0.85M278.8 422.6h0.85M283.5 428.7h0.85M292.7 427.7h0.85M271.7 428.6h0.85M273.8 424.1h0.85M280.9 425.4h0.85M273.8 430.9h0.85M280.2 423.8h0.85M276.3 423.1h0.85M278.8 432.1h0.85M270.9 427.5h0.85M267.9 428.1h0.85M287.8 426.8h0.85M288.7 425.0h0.85M271.2 426.8h0.85M287.3 429.1h0.85M269.6 422.2h0.85M286.4 424.2h0.85M271.1 427.8h0.85M281.4 425.3h0.85M286.8 431.2h0.85M287.0 430.8h0.85M266.3 429.1h0.85M271.0 422.9h0.85M290.5 418.3h0.85M269.3 426.5h0.85M291.8 433.6h0.85M286.0 419.3h0.85M288.0 429.7h0.85M276.0 426.4h0.85M269.4 431.3h0.85M290.0 430.3h0.85M288.9 431.1h0.85M269.8 428.7h0.85M286.6 432.6h0.85M277.0 422.4h0.85M286.1 420.9h0.85M275.5 433.1h0.85M277.2 424.9h0.85M265.5 428.5h0.85M276.7 418.2h0.85M269.6 430.3h0.85M274.9 429.6h0.85M277.6 429.1h0.85M263.2 430.1h0.85M292.5 427.2h0.85M279.4 424.2h0.85M280.7 430.5h0.85M267.2 423.9h0.85M274.1 425.3h0.85M272.6 423.5h0.85M275.4 426.0h0.85M287.3 421.5h0.85M271.7 433.6h0.85M281.4 430.5h0.85M265.9 420.9h0.85M275.8 431.4h0.85M262.6 425.7h0.85M280.8 425.3h0.85M264.3 430.0h0.85M276.8 428.6h0.85M277.8 428.3h0.85M276.5 426.3h0.85M284.3 421.7h0.85M293.1 432.8h0.85M279.8 422.1h0.85M284.0 421.5h0.85M277.2 418.1h0.85M283.0 433.5h0.85M285.2 428.1h0.85M289.2 429.6h0.85M286.5 432.0h0.85M273.9 427.5h0.85M289.8 430.0h0.85M280.7 422.4h0.85M276.0 426.2h0.85M298.8 426.8h0.85M285.2 421.8h0.85M293.5 421.7h0.85M270.3 425.6h0.85M261.0 432.2h0.85M273.7 428.3h0.85M270.8 430.2h0.85M296.0 431.9h0.85M283.0 432.0h0.85M280.6 430.4h0.85M290.1 421.8h0.85M273.9 427.8h0.85M280.9 433.2h0.85M284.2 414.8h0.85M270.6 427.1h0.85M273.5 420.0h0.85M284.1 429.2h0.85M279.7 428.8h0.85M268.3 421.0h0.85M275.1 429.4h0.85M292.9 427.9h0.85M284.8 431.4h0.85M272.7 423.4h0.85M291.9 428.0h0.85M271.7 422.9h0.85M275.6 429.3h0.85M274.6 428.0h0.85M271.3 422.7h0.85M295.5 430.4h0.85M269.7 427.7h0.85M268.5 426.8h0.85M278.7 427.0h0.85M268.9 425.9h0.85M262.8 428.8h0.85M275.3 426.9h0.85M286.3 427.6h0.85M265.9 425.5h0.85M275.4 423.9h0.85M295.4 420.5h0.85M276.8 431.0h0.85M279.6 427.8h0.85M268.7 433.4h0.85M289.8 430.8h0.85M288.5 422.5h0.85M266.6 425.6h0.85M276.1 432.9h0.85M270.0 426.6h0.85M287.6 429.8h0.85M274.6 422.9h0.85M272.5 429.9h0.85M269.1 431.1h0.85M271.8 430.2h0.85M309.3 428.7h0.85M285.5 432.1h0.85M286.5 425.4h0.85M272.7 418.0h0.85M266.4 431.7h0.85M269.0 427.5h0.85M285.6 427.2h0.85M268.3 431.1h0.85M295.0 428.5h0.85M296.3 427.1h0.85M272.8 428.6h0.85M282.5 423.7h0.85M272.8 425.1h0.85M269.5 424.3h0.85M273.0 428.9h0.85M273.5 433.1h0.85M263.1 419.5h0.85M283.3 432.8h0.85M263.3 425.8h0.85M271.7 429.5h0.85M285.5 431.3h0.85M262.7 425.5h0.85M266.1 426.7h0.85M297.0 432.5h0.85M276.2 427.6h0.85M278.3 427.6h0.85M285.0 429.7h0.85M266.5 426.5h0.85M285.1 428.5h0.85M287.7 426.8h0.85M263.1 428.8h0.85M284.5 422.7h0.85M274.9 424.5h0.85M291.5 425.6h0.85M292.9 424.1h0.85M266.3 432.3h0.85M267.8 420.3h0.85M289.9 430.5h0.85M276.6 418.6h0.85M267.8 427.2h0.85M273.0 423.6h0.85M279.0 422.3h0.85M281.7 425.4h0.85M266.4 426.1h0.85M271.3 419.8h0.85M280.5 426.8h0.85M278.7 426.7h0.85M272.6 424.4h0.85M276.8 430.6h0.85M286.8 423.8h0.85M289.5 428.4h0.85M287.4 420.6h0.85M284.2 425.2h0.85M276.5 433.4h0.85M265.7 427.4h0.85M288.6 424.6h0.85M271.1 426.2h0.85M275.8 430.0h0.85M276.6 423.5h0.85M264.4 428.9h0.85M276.6 431.1h0.85M266.8 425.3h0.85M300.7 426.2h0.85M271.3 420.6h0.85M273.5 421.1h0.85M299.5 413.2h0.85M288.0 428.1h0.85M270.0 428.7h0.85M265.2 430.9h0.85M280.9 426.3h0.85M279.2 427.6h0.85M277.3 423.6h0.85M278.8 431.0h0.85M287.5 423.6h0.85M274.2 424.1h0.85M282.0 428.8h0.85M279.6 430.0h0.85M291.9 428.5h0.85M287.6 419.4h0.85M277.8 424.2h0.85M300.6 424.0h0.85M263.7 426.5h0.85M300.8 426.1h0.85M292.3 422.3h0.85M270.1 425.5h0.85M296.3 429.7h0.85M278.3 429.1h0.85M271.3 427.8h0.85M270.8 422.8h0.85M265.1 423.6h0.85M272.6 430.1h0.85M276.2 423.7h0.85M283.2 421.3h0.85M277.4 426.4h0.85M282.6 425.7h0.85M305.5 426.8h0.85M282.8 423.1h0.85M283.0 433.7h0.85M281.5 428.1h0.85M266.2 423.3h0.85M269.9 425.4h0.85M269.5 424.6h0.85M291.8 430.0h0.85M268.5 423.2h0.85M267.3 422.8h0.85M281.3 430.5h0.85M271.0 421.6h0.85M286.4 426.1h0.85M279.6 422.4h0.85M270.4 425.6h0.85M282.2 421.4h0.85M273.1 427.7h0.85M280.1 427.7h0.85M274.4 424.7h0.85M271.8 428.0h0.85M280.0 426.3h0.85M273.1 427.3h0.85M263.9 430.1h0.85M269.3 431.4h0.85M293.7 418.0h0.85M274.5 427.3h0.85M275.6 428.3h0.85M271.0 423.3h0.85M282.9 431.9h0.85M279.5 430.1h0.85M284.0 429.8h0.85M280.5 429.7h0.85M275.0 425.4h0.85M284.7 432.2h0.85M271.1 430.2h0.85M274.7 428.1h0.85M268.2 419.8h0.85M273.2 425.7h0.85M265.3 427.6h0.85M277.7 430.6h0.85M265.0 431.3h0.85M271.2 422.7h0.85M278.2 429.3h0.85M271.6 423.8h0.85M269.7 430.6h0.85M285.5 426.7h0.85M291.5 427.6h0.85M273.7 425.2h0.85M279.2 426.7h0.85M266.7 429.8h0.85M268.7 429.0h0.85M291.1 430.3h0.85M282.1 425.0h0.85M279.5 425.3h0.85M279.2 422.8h0.85M281.3 429.4h0.85M270.2 430.5h0.85M268.5 430.5h0.85M279.5 422.9h0.85M274.8 422.8h0.85M289.4 423.9h0.85M288.8 424.7h0.85M261.7 430.1h0.85M279.5 426.9h0.85M262.9 427.4h0.85M260.9 428.2h0.85M283.8 425.7h0.85M270.7 424.5h0.85M298.2 427.7h0.85M278.4 432.6h0.85M285.6 433.2h0.85M274.6 423.3h0.85M273.8 432.9h0.85M301.6 421.7h0.85M266.1 428.4h0.85M277.7 423.0h0.85M292.3 424.0h0.85M285.4 432.1h0.85M291.1 423.5h0.85M277.9 423.6h0.85M269.2 422.9h0.85M278.1 429.3h0.85M273.4 424.9h0.85M272.5 428.9h0.85M295.9 415.0h0.85M262.1 422.2h0.85M276.7 427.0h0.85M267.9 428.2h0.85M280.4 425.2h0.85M270.7 429.2h0.85M284.1 420.7h0.85M272.3 424.9h0.85M285.1 425.3h0.85M266.9 427.0h0.85M277.9 431.4h0.85M277.6 427.0h0.85M269.3 420.4h0.85M280.4 430.3h0.85M290.1 427.9h0.85M266.0 432.0h0.85M288.8 431.5h0.85M280.7 425.0h0.85M270.8 424.1h0.85M288.5 427.0h0.85M277.1 424.2h0.85M277.9 421.6h0.85M285.4 426.4h0.85M279.5 428.5h0.85M284.4 429.8h0.85M276.7 432.0h0.85M303.3 425.3h0.85M277.7 425.0h0.85M272.8 424.0h0.85M284.2 425.8h0.85M288.2 428.0h0.85M279.8 428.2h0.85M269.6 431.5h0.85M281.2 419.9h0.85M267.8 429.1h0.85M269.4 425.5h0.85M269.0 431.2h0.85M279.8 426.1h0.85M280.3 422.0h0.85M261.6 422.7h0.85M283.0 417.0h0.85M292.3 424.6h0.85M294.0 423.3h0.85M276.3 432.0h0.85M277.7 432.9h0.85M268.4 428.8h0.85M281.6 429.4h0.85M276.4 427.1h0.85M280.0 424.4h0.85M282.3 428.0h0.85M278.9 429.5h0.85M263.7 429.6h0.85M285.6 425.3h0.85M292.6 420.3h0.85M282.6 422.1h0.85M291.7 430.7h0.85M294.5 429.9h0.85M302.2 425.0h0.85M286.9 428.8h0.85M287.5 424.6h0.85M272.8 424.8h0.85M272.4 432.3h0.85M283.6 418.8h0.85M271.8 429.6h0.85M291.6 427.3h0.85M280.8 426.8h0.85M280.5 426.5h0.85M273.9 432.5h0.85M278.6 428.1h0.85M265.9 428.1h0.85M279.8 418.1h0.85M289.3 430.5h0.85M285.9 433.3h0.85M298.5 423.6h0.85M269.2 425.5h0.85M266.1 432.4h0.85M272.6 430.4h0.85M280.6 432.1h0.85M281.3 425.0h0.85M286.1 424.2h0.85M284.8 422.5h0.85M291.2 422.3h0.85M290.3 432.2h0.85M274.2 421.0h0.85M270.3 424.0h0.85M289.0 421.2h0.85M270.2 426.1h0.85M275.6 424.3h0.85M290.3 426.8h0.85M288.4 420.9h0.85M278.7 428.7h0.85M270.8 432.1h0.85M272.2 427.9h0.85M287.9 429.6h0.85M269.3 427.4h0.85M274.6 421.8h0.85M277.3 421.1h0.85M275.1 431.6h0.85M277.2 430.8h0.85M287.3 428.0h0.85M273.0 418.4h0.85M273.5 429.0h0.85M273.2 424.0h0.85M279.9 426.8h0.85M290.3 429.2h0.85M285.4 423.4h0.85M280.6 429.0h0.85M275.5 422.4h0.85" stroke="#555" stroke-width="0.85" fill="none" opacity="1.0"/>
<path d="M274.5 428.7h1.0M271.7 425.1h1.0M272.2 422.6h1.0M279.0 426.7h1.0M274.6 428.2h1.0M282.6 427.4h1.0M275.6 430.9h1.0M272.8 426.9h1.0M273.5 427.2h1.0M279.7 425.1h1.0M278.5 428.7h1.0M271.0 427.5h1.0M264.8 431.7h1.0M275.9 427.2h1.0M274.4 424.1h1.0M261.7 426.8h1.0M272.6 430.9h1.0M277.8 423.3h1.0M265.5 427.6h1.0M279.5 426.9h1.0M271.4 424.8h1.0M264.1 427.9h1.0M270.2 427.7h1.0M266.7 427.2h1.0M281.1 425.7h1.0M266.6 429.1h1.0M269.6 431.6h1.0M278.2 425.7h1.0M272.9 423.3h1.0M278.1 428.7h1.0M274.2 427.7h1.0M273.9 423.7h1.0M281.2 429.6h1.0M285.2 431.1h1.0M272.5 420.8h1.0M277.9 423.9h1.0M274.8 425.9h1.0M270.2 423.5h1.0M272.8 428.8h1.0M265.4 421.8h1.0M265.4 430.5h1.0M276.8 427.1h1.0M283.9 425.1h1.0M275.9 429.3h1.0M277.1 431.0h1.0M269.7 423.7h1.0M275.6 430.4h1.0M270.4 427.8h1.0M275.8 426.7h1.0M278.2 432.2h1.0M271.4 427.1h1.0M280.0 428.7h1.0M266.4 429.9h1.0M275.5 420.7h1.0M266.9 429.0h1.0M269.9 424.4h1.0M277.2 427.5h1.0M275.8 422.9h1.0M272.4 430.4h1.0M274.2 430.6h1.0M275.3 424.8h1.0M271.9 424.8h1.0M280.9 421.9h1.0M272.0 425.8h1.0M278.7 424.8h1.0M279.5 425.7h1.0M278.0 424.5h1.0M276.8 425.5h1.0M275.7 427.3h1.0M263.6 428.0h1.0M274.2 428.7h1.0M271.5 424.0h1.0M272.6 433.5h1.0M271.0 427.7h1.0M281.1 426.1h1.0M277.0 428.6h1.0M270.8 431.7h1.0M277.7 427.0h1.0M270.0 427.3h1.0M280.4 424.4h1.0M278.6 423.9h1.0M275.5 427.1h1.0M274.0 425.9h1.0M264.3 426.9h1.0M274.3 429.6h1.0M270.9 424.2h1.0M271.8 427.6h1.0M282.6 429.4h1.0M273.8 428.4h1.0M271.1 427.9h1.0M277.2 427.8h1.0M279.4 424.9h1.0M267.9 427.4h1.0M273.0 430.8h1.0M263.9 425.0h1.0M275.7 423.8h1.0M283.0 424.7h1.0M276.2 423.7h1.0M273.3 428.3h1.0M279.6 425.2h1.0M271.1 428.5h1.0M266.9 421.9h1.0M271.9 428.7h1.0M270.7 428.8h1.0M274.8 427.1h1.0M274.8 422.7h1.0M274.3 428.8h1.0M285.4 428.1h1.0M278.0 426.4h1.0M273.2 430.0h1.0M275.0 426.6h1.0M284.4 430.8h1.0M265.3 426.2h1.0M272.2 424.2h1.0M263.7 431.8h1.0M282.5 429.2h1.0M269.0 427.9h1.0M283.1 427.3h1.0M278.5 427.5h1.0M268.0 426.8h1.0M263.8 425.0h1.0M264.9 427.3h1.0M261.9 428.1h1.0M276.3 429.1h1.0M285.0 426.7h1.0M276.5 431.1h1.0M271.2 426.8h1.0M278.3 425.4h1.0M266.1 431.7h1.0M267.7 424.5h1.0M264.1 431.1h1.0M274.7 427.4h1.0M273.6 429.5h1.0M275.9 427.5h1.0M272.9 426.7h1.0M272.7 427.8h1.0M280.4 425.0h1.0M274.4 426.9h1.0M281.7 430.5h1.0M263.1 427.7h1.0M264.3 430.6h1.0M275.2 426.7h1.0M272.0 429.4h1.0M265.7 429.6h1.0M269.3 427.6h1.0M279.2 427.8h1.0M267.6 426.5h1.0M280.8 426.1h1.0M271.4 428.4h1.0M272.2 430.2h1.0M279.1 427.9h1.0M284.8 423.5h1.0M271.2 420.5h1.0M271.3 429.5h1.0M264.0 427.8h1.0M276.2 428.1h1.0M273.3 426.0h1.0M269.5 427.6h1.0M272.5 423.3h1.0M277.7 427.4h1.0M268.2 428.0h1.0M269.5 428.5h1.0M275.9 425.0h1.0M279.7 428.6h1.0M275.0 427.3h1.0M278.7 421.1h1.0M279.7 424.6h1.0M275.4 425.8h1.0M262.8 426.9h1.0M273.1 427.4h1.0M278.0 418.6h1.0M275.5 430.4h1.0M271.8 425.1h1.0M277.9 426.6h1.0M277.1 429.2h1.0M282.4 432.4h1.0M272.0 429.4h1.0M271.4 426.8h1.0M274.6 424.6h1.0M284.7 425.3h1.0M268.8 427.5h1.0M269.6 429.6h1.0M271.7 424.8h1.0M269.5 426.6h1.0M269.8 425.1h1.0M280.5 430.8h1.0M278.1 429.4h1.0M275.9 427.4h1.0M278.7 430.4h1.0M284.7 425.8h1.0M270.4 424.0h1.0M281.6 425.4h1.0M271.2 429.5h1.0M269.0 423.2h1.0M274.3 427.3h1.0M272.0 424.1h1.0M272.0 425.0h1.0M264.0 429.8h1.0M275.9 429.7h1.0M284.7 432.2h1.0M276.2 425.7h1.0M276.5 427.3h1.0M273.4 417.8h1.0M275.5 428.8h1.0M273.9 422.4h1.0M273.9 424.3h1.0M281.6 428.4h1.0M261.1 424.7h1.0M284.8 430.7h1.0M271.2 427.6h1.0M272.5 425.7h1.0M273.4 425.7h1.0M269.4 431.7h1.0M284.2 426.0h1.0M276.2 430.2h1.0M276.6 427.2h1.0M276.7 426.8h1.0M279.9 423.2h1.0M272.0 428.3h1.0M278.1 430.9h1.0M270.0 428.4h1.0M262.3 422.6h1.0M272.5 427.9h1.0M267.4 426.1h1.0M271.5 430.5h1.0M275.9 423.0h1.0M265.7 427.7h1.0M286.2 427.1h1.0M270.0 423.1h1.0M275.3 424.6h1.0M283.2 425.0h1.0M275.8 421.9h1.0M265.6 430.7h1.0M272.8 428.9h1.0M273.1 432.3h1.0M265.0 425.7h1.0M272.9 426.1h1.0M271.8 427.4h1.0M265.5 422.9h1.0M279.9 430.5h1.0M271.5 426.4h1.0M271.6 427.5h1.0M275.2 432.1h1.0M278.2 425.7h1.0M268.6 428.0h1.0M273.5 427.9h1.0M274.3 431.3h1.0M274.3 426.1h1.0M276.2 425.9h1.0M270.8 427.0h1.0M279.4 426.7h1.0M275.2 427.0h1.0M277.0 430.5h1.0M273.7 424.9h1.0M269.0 425.9h1.0M271.4 428.5h1.0M267.7 430.0h1.0M280.6 430.8h1.0M274.8 430.8h1.0M285.3 424.7h1.0M269.6 430.5h1.0M272.5 426.4h1.0M283.3 422.8h1.0M268.5 426.8h1.0M279.2 428.9h1.0M271.4 424.8h1.0M266.3 427.5h1.0M273.6 428.0h1.0M274.1 431.6h1.0M278.6 428.2h1.0M285.0 421.3h1.0M271.4 422.1h1.0M281.9 429.0h1.0M272.6 424.0h1.0M269.9 428.3h1.0M267.5 429.4h1.0M269.9 426.7h1.0M275.4 428.1h1.0M266.4 426.9h1.0M277.4 427.2h1.0M281.7 428.0h1.0M278.7 426.2h1.0M281.4 422.4h1.0M267.5 432.4h1.0M279.8 426.1h1.0M275.9 428.3h1.0M269.8 424.2h1.0M276.6 428.5h1.0M274.3 426.4h1.0M266.7 429.3h1.0M276.8 426.7h1.0M266.3 426.7h1.0M285.1 425.0h1.0M266.6 428.8h1.0M270.5 429.5h1.0M269.4 429.0h1.0M273.5 430.6h1.0M279.1 426.1h1.0M284.9 424.4h1.0M279.4 425.5h1.0M273.4 430.1h1.0M277.7 426.7h1.0M270.4 426.3h1.0M275.8 428.8h1.0M282.1 428.1h1.0M274.7 424.3h1.0M271.1 428.2h1.0M276.5 427.9h1.0M271.2 430.4h1.0M275.3 428.1h1.0M278.6 424.2h1.0M273.9 425.1h1.0M270.1 423.1h1.0M270.9 427.7h1.0M272.0 428.6h1.0M278.4 427.0h1.0M269.1 425.3h1.0M274.2 425.6h1.0M275.2 428.3h1.0M264.0 428.5h1.0M269.1 424.2h1.0M272.8 423.3h1.0M286.8 423.4h1.0M287.3 429.0h1.0M271.2 430.1h1.0M266.6 431.0h1.0M279.0 429.1h1.0M272.2 425.7h1.0M271.7 423.1h1.0M280.6 424.9h1.0M283.3 425.3h1.0M275.1 424.2h1.0M279.8 430.5h1.0M280.2 424.1h1.0M261.5 422.3h1.0M274.9 423.3h1.0M267.5 426.9h1.0M270.2 429.6h1.0M275.6 430.9h1.0M273.9 425.3h1.0M269.9 430.3h1.0M277.2 424.5h1.0M279.1 428.3h1.0M271.8 423.6h1.0M278.9 426.0h1.0M275.3 427.5h1.0M277.4 425.1h1.0M274.3 426.4h1.0M266.3 427.9h1.0M282.9 426.1h1.0M266.4 428.7h1.0M274.5 423.2h1.0M285.9 426.6h1.0M273.2 426.8h1.0M267.9 423.9h1.0M267.4 425.5h1.0M271.5 430.0h1.0M275.9 422.6h1.0M267.3 426.9h1.0M270.2 424.5h1.0M265.9 430.9h1.0M271.9 430.7h1.0M279.5 430.8h1.0M274.4 428.4h1.0M279.5 428.3h1.0M273.0 422.7h1.0M277.6 423.6h1.0M281.9 425.4h1.0M275.8 431.5h1.0M264.5 428.7h1.0M275.6 424.1h1.0M269.8 428.2h1.0M285.6 429.5h1.0M273.0 427.5h1.0M270.2 423.3h1.0M265.2 428.3h1.0M264.7 429.5h1.0M282.6 432.0h1.0M264.7 427.6h1.0M276.0 429.0h1.0M276.5 427.5h1.0M271.9 427.0h1.0M280.8 429.9h1.0M278.8 426.1h1.0M272.8 429.1h1.0M275.9 424.9h1.0M268.8 425.4h1.0M274.2 424.9h1.0M275.5 427.6h1.0M275.2 425.3h1.0M266.0 427.5h1.0M271.4 427.2h1.0M279.5 424.4h1.0M281.9 424.2h1.0M272.8 429.3h1.0M288.3 428.2h1.0M272.0 426.1h1.0M269.5 426.9h1.0M275.2 428.5h1.0M268.3 427.3h1.0M276.4 429.6h1.0M274.8 426.8h1.0M269.1 426.3h1.0M266.4 425.1h1.0M270.1 424.6h1.0M274.6 426.9h1.0M266.6 425.5h1.0M267.9 421.5h1.0M276.4 426.5h1.0M274.2 425.3h1.0M276.6 425.9h1.0M278.9 427.3h1.0M283.0 430.7h1.0M264.9 426.0h1.0M273.9 431.2h1.0M267.3 429.4h1.0M281.0 425.0h1.0M264.8 431.2h1.0M274.8 430.4h1.0M270.6 428.9h1.0M274.3 425.6h1.0M270.1 428.7h1.0M275.5 422.7h1.0M276.3 428.0h1.0M279.2 427.2h1.0M266.4 425.7h1.0M283.1 429.7h1.0M278.3 430.2h1.0M273.5 427.5h1.0M272.1 427.5h1.0M277.8 428.3h1.0M272.8 428.0h1.0M275.5 428.8h1.0M278.4 426.1h1.0M270.7 430.7h1.0M272.5 424.5h1.0M277.6 426.9h1.0M285.3 422.4h1.0M276.9 423.3h1.0M272.6 428.2h1.0M275.3 432.1h1.0M274.2 428.5h1.0M281.5 425.2h1.0M282.7 427.9h1.0M282.2 426.3h1.0M277.0 425.9h1.0M267.0 425.0h1.0M271.5 425.5h1.0M273.8 429.8h1.0M272.3 426.4h1.0M272.4 422.7h1.0M280.8 426.5h1.0M272.0 423.4h1.0M274.3 424.0h1.0M266.5 432.8h1.0M278.3 424.5h1.0M273.1 427.6h1.0M276.6 425.6h1.0M273.6 427.1h1.0M275.3 424.2h1.0M276.0 427.9h1.0M280.0 424.9h1.0M271.1 427.5h1.0M261.1 428.1h1.0M268.0 427.1h1.0M270.1 424.0h1.0M281.2 427.7h1.0M269.1 423.9h1.0M266.6 428.5h1.0M271.9 426.6h1.0M274.3 429.6h1.0M278.9 425.9h1.0M275.9 422.8h1.0M284.5 425.9h1.0M271.8 428.0h1.0M273.4 430.1h1.0M270.1 428.7h1.0M276.9 425.0h1.0M270.6 430.2h1.0M273.9 431.9h1.0M272.7 426.7h1.0M276.2 428.2h1.0M276.4 425.0h1.0M272.1 430.1h1.0M271.2 426.5h1.0M275.6 431.6h1.0M265.7 431.9h1.0M284.1 425.5h1.0M275.0 430.3h1.0M262.3 422.3h1.0M277.5 433.6h1.0M283.0 425.7h1.0M273.8 426.5h1.0M279.0 432.2h1.0M275.6 430.5h1.0M271.8 427.8h1.0M271.7 429.3h1.0M275.0 428.2h1.0M275.5 425.1h1.0M269.3 427.9h1.0M269.3 425.2h1.0M278.1 424.2h1.0M279.9 426.5h1.0M268.5 429.5h1.0M280.8 426.5h1.0M278.5 428.5h1.0M272.8 422.1h1.0M279.5 431.1h1.0M270.2 427.0h1.0M279.9 424.3h1.0M278.8 423.6h1.0M277.9 424.7h1.0M269.2 430.7h1.0M271.2 423.9h1.0M281.6 429.7h1.0M272.5 427.0h1.0M277.2 426.1h1.0M282.3 426.0h1.0M272.8 427.9h1.0M280.1 427.5h1.0M277.0 428.1h1.0M267.5 433.2h1.0M272.4 429.4h1.0M278.5 427.9h1.0M268.9 425.5h1.0M271.7 421.7h1.0M271.5 427.1h1.0M269.7 423.3h1.0M275.6 427.7h1.0M273.5 432.8h1.0M281.0 426.8h1.0M280.5 429.1h1.0M282.1 428.5h1.0M274.2 421.7h1.0M271.2 427.2h1.0M273.1 426.9h1.0M274.9 427.5h1.0M276.4 428.2h1.0M281.4 425.0h1.0M267.7 428.9h1.0M272.2 424.7h1.0M263.3 424.7h1.0M263.1 429.4h1.0M269.3 428.3h1.0M278.4 424.5h1.0M273.4 427.7h1.0M268.6 424.3h1.0M271.3 420.0h1.0M265.3 429.4h1.0M277.8 422.1h1.0M272.3 426.1h1.0M270.6 426.8h1.0M262.2 426.0h1.0M271.0 426.2h1.0M273.3 429.8h1.0M265.4 430.2h1.0M273.8 425.2h1.0M280.2 424.3h1.0M285.5 423.9h1.0M284.0 424.5h1.0M275.8 431.7h1.0M279.4 427.3h1.0M271.9 430.8h1.0M281.0 426.8h1.0M271.6 429.4h1.0M273.5 426.0h1.0M277.4 426.7h1.0M275.2 426.9h1.0M271.7 424.2h1.0M273.2 428.7h1.0M283.6 429.2h1.0M271.5 427.0h1.0M273.0 427.4h1.0M279.4 424.2h1.0M266.6 422.5h1.0M267.4 430.3h1.0M277.8 429.7h1.0M267.3 425.3h1.0M276.8 426.0h1.0M281.8 424.0h1.0M271.4 428.6h1.0M276.3 428.2h1.0M275.5 424.7h1.0M275.5 430.9h1.0M283.2 426.9h1.0M275.9 431.5h1.0M273.8 430.6h1.0M282.8 428.0h1.0M266.3 427.9h1.0M268.8 427.3h1.0M268.8 432.0h1.0M272.9 428.0h1.0M269.5 425.6h1.0M278.7 427.2h1.0M273.5 426.2h1.0M279.1 426.4h1.0M267.8 425.8h1.0M287.2 424.8h1.0M275.8 428.6h1.0M265.5 426.2h1.0M277.2 425.8h1.0M274.9 423.7h1.0M273.4 432.2h1.0M273.2 426.7h1.0M278.3 425.4h1.0M277.9 425.7h1.0M275.7 430.2h1.0M272.2 424.5h1.0M273.2 428.4h1.0M278.8 432.2h1.0M270.9 426.8h1.0M269.5 432.0h1.0M284.4 427.3h1.0M274.4 425.5h1.0M284.6 428.5h1.0M273.1 428.1h1.0M279.3 424.4h1.0M282.8 427.9h1.0M267.2 429.2h1.0M263.4 426.8h1.0M262.5 426.6h1.0M268.1 426.3h1.0M282.2 427.1h1.0M273.2 427.1h1.0M270.5 426.4h1.0M272.6 426.8h1.0M269.4 426.0h1.0M275.8 429.4h1.0M273.6 430.9h1.0M266.1 430.5h1.0M276.2 428.1h1.0M273.7 426.5h1.0M272.4 427.7h1.0M270.8 421.5h1.0M269.4 425.8h1.0M272.6 422.4h1.0M267.6 427.7h1.0M276.1 428.4h1.0M285.8 425.9h1.0M276.2 431.5h1.0M276.3 430.3h1.0M277.1 426.0h1.0M273.2 428.7h1.0M269.4 429.1h1.0M282.6 428.9h1.0M272.2 426.2h1.0M266.4 428.7h1.0M280.3 426.2h1.0M277.0 425.1h1.0M273.8 433.5h1.0M278.2 425.5h1.0M281.8 429.9h1.0M279.2 423.0h1.0M273.3 427.9h1.0M268.3 425.8h1.0M275.3 425.6h1.0M273.6 427.1h1.0M270.6 424.5h1.0M273.1 423.9h1.0M278.9 428.9h1.0M267.7 424.7h1.0M276.1 428.0h1.0M279.7 432.3h1.0M277.1 428.0h1.0M278.0 428.5h1.0M271.3 425.5h1.0M276.0 430.9h1.0M276.9 425.2h1.0M264.7 430.2h1.0M267.6 430.1h1.0M270.1 422.3h1.0M268.3 430.0h1.0M272.5 423.7h1.0M271.7 424.8h1.0M279.7 428.0h1.0M276.1 424.4h1.0M275.2 422.8h1.0M276.1 422.8h1.0M268.3 426.8h1.0M270.8 428.4h1.0M272.7 425.9h1.0M265.8 432.2h1.0M278.1 426.2h1.0M279.2 424.7h1.0M275.7 428.5h1.0M276.7 429.5h1.0M266.6 428.4h1.0M286.3 429.1h1.0M281.3 427.3h1.0M283.5 428.0h1.0M267.3 429.2h1.0M272.8 425.7h1.0M269.9 426.8h1.0M287.0 426.5h1.0M277.6 420.0h1.0M269.7 427.4h1.0M272.0 426.6h1.0M269.4 428.2h1.0M277.9 427.0h1.0M263.1 424.7h1.0M276.0 422.0h1.0M269.2 426.5h1.0M268.8 425.3h1.0M270.7 423.9h1.0M274.5 433.0h1.0M267.5 425.7h1.0M278.0 424.3h1.0M276.7 428.3h1.0M274.6 427.0h1.0M273.9 424.5h1.0M268.7 428.3h1.0M281.2 427.2h1.0M276.9 428.5h1.0M274.2 423.7h1.0M282.8 426.6h1.0M270.3 423.4h1.0M263.3 428.2h1.0M277.9 420.7h1.0M279.7 427.3h1.0M273.5 427.4h1.0M268.6 428.6h1.0M275.6 431.6h1.0M279.1 426.6h1.0M264.6 431.6h1.0M269.9 423.0h1.0M276.5 430.0h1.0M271.0 431.7h1.0M268.5 432.1h1.0M283.9 424.8h1.0M281.1 425.6h1.0M269.7 424.8h1.0M276.5 429.0h1.0M264.6 427.8h1.0M267.0 428.3h1.0M262.4 432.7h1.0M279.2 425.5h1.0M274.6 427.9h1.0M274.9 429.7h1.0M278.2 422.8h1.0M270.4 431.5h1.0M273.9 431.8h1.0M284.9 426.9h1.0M276.2 426.6h1.0M271.0 429.4h1.0M267.8 422.2h1.0M274.3 424.3h1.0M282.2 427.6h1.0M271.0 428.4h1.0M275.9 429.8h1.0M279.2 427.6h1.0M269.5 425.6h1.0M281.8 429.2h1.0M272.8 427.7h1.0M276.8 425.0h1.0M273.1 429.8h1.0M270.4 425.0h1.0M284.2 426.2h1.0M269.2 420.7h1.0M280.3 428.9h1.0M266.7 430.1h1.0M290.5 423.0h1.0M268.2 429.6h1.0M271.7 430.8h1.0M277.1 430.0h1.0M272.5 425.7h1.0M272.4 424.7h1.0M270.9 424.2h1.0M270.1 429.0h1.0M265.6 426.8h1.0M277.7 427.0h1.0M281.9 425.1h1.0M275.8 431.6h1.0M272.8 426.3h1.0M267.1 423.6h1.0M275.7 423.1h1.0M266.8 422.7h1.0M281.6 426.5h1.0M271.9 422.9h1.0M268.3 428.1h1.0M280.2 427.2h1.0M269.2 430.6h1.0M271.0 423.9h1.0M289.3 429.1h1.0M266.9 425.9h1.0M272.8 428.5h1.0M273.0 423.7h1.0M278.2 429.1h1.0M276.7 430.4h1.0M280.2 432.5h1.0M271.4 424.9h1.0M283.5 425.4h1.0M262.7 428.3h1.0M279.1 425.2h1.0M276.0 428.7h1.0M262.9 429.1h1.0M274.7 429.0h1.0M269.0 426.4h1.0M271.9 426.9h1.0M279.9 428.9h1.0M279.4 430.1h1.0M278.8 425.9h1.0M276.7 425.1h1.0M275.1 431.9h1.0M283.4 426.2h1.0M275.0 427.0h1.0M276.1 427.8h1.0M266.2 430.9h1.0M283.9 425.1h1.0M267.7 423.2h1.0M275.5 430.2h1.0M269.4 429.3h1.0M280.3 424.9h1.0M272.4 428.0h1.0M269.8 427.1h1.0M268.0 425.1h1.0M273.3 424.7h1.0M282.7 426.0h1.0M268.6 426.8h1.0M268.9 424.5h1.0M272.0 427.8h1.0M261.9 426.0h1.0M271.0 423.8h1.0M276.8 427.3h1.0M278.8 427.7h1.0M269.2 427.6h1.0M272.5 424.3h1.0M269.9 430.4h1.0M281.5 424.4h1.0M271.8 427.0h1.0M264.7 423.1h1.0M270.8 433.3h1.0M273.1 425.9h1.0M277.6 426.4h1.0M275.3 427.6h1.0M273.4 427.9h1.0M288.0 426.3h1.0M274.7 432.9h1.0M273.7 425.7h1.0M277.9 431.3h1.0M273.5 422.9h1.0M272.8 427.8h1.0M277.3 427.3h1.0M270.9 429.2h1.0M264.1 427.2h1.0M277.1 425.4h1.0M269.6 426.3h1.0M267.9 432.0h1.0M277.5 430.6h1.0M266.0 428.5h1.0M272.0 423.1h1.0M279.7 421.2h1.0M274.9 431.7h1.0M266.6 426.9h1.0M266.1 426.4h1.0M279.8 425.3h1.0M264.3 424.6h1.0M283.7 423.9h1.0M287.3 428.8h1.0M273.1 424.9h1.0M279.6 422.8h1.0M273.0 429.2h1.0M272.7 429.3h1.0M274.4 428.1h1.0M278.3 429.0h1.0M279.1 429.1h1.0M280.9 423.5h1.0M273.8 427.8h1.0M275.9 425.9h1.0M268.1 425.6h1.0M263.3 431.0h1.0M267.1 427.0h1.0M280.1 428.5h1.0M272.0 426.4h1.0M275.9 425.5h1.0M266.6 426.7h1.0M279.4 424.9h1.0M282.3 430.8h1.0M280.8 430.9h1.0M267.5 427.0h1.0M287.2 423.2h1.0M273.2 427.0h1.0M280.2 430.3h1.0M271.9 429.0h1.0M280.7 425.3h1.0M275.7 423.8h1.0" stroke="#161616" stroke-width="1.0" fill="none" opacity="1.0"/>
<text x="288.75" y="379.40" font-size="8.1" font-weight="bold" fill="#000" textLength="43.75" lengthAdjust="spacingAndGlyphs" stroke="#000" stroke-width="0.3" >anti-Fas</text>
<text x="264.60" y="389.40" font-size="5.9" font-weight="bold" fill="#000" textLength="8.80" lengthAdjust="spacingAndGlyphs" stroke="#000" stroke-width="0.3" >NL</text>
<text x="264.60" y="395.30" font-size="5.9" font-weight="bold" fill="#000" textLength="24.90" lengthAdjust="spacingAndGlyphs" stroke="#000" stroke-width="0.3" >PBMC</text>
<text x="317.50" y="389.70" font-size="6.9" font-weight="bold" fill="#000" textLength="37.50" lengthAdjust="spacingAndGlyphs" stroke="#000" stroke-width="0.3" >15.8 ± 1.4</text>
<text x="256.10" y="442.10" font-size="8.0" font-weight="bold" textLength="12.4" lengthAdjust="spacingAndGlyphs" stroke="#000" stroke-width="0.3">10<tspan dy="-2.6" font-size="5.76">0</tspan></text>
<text x="281.10" y="442.10" font-size="8.0" font-weight="bold" textLength="12.4" lengthAdjust="spacingAndGlyphs" stroke="#000" stroke-width="0.3">10<tspan dy="-2.6" font-size="5.76">1</tspan></text>
<text x="306.10" y="442.10" font-size="8.0" font-weight="bold" textLength="12.4" lengthAdjust="spacingAndGlyphs" stroke="#000" stroke-width="0.3">10<tspan dy="-2.6" font-size="5.76">2</tspan></text>
<text x="331.10" y="442.10" font-size="8.0" font-weight="bold" textLength="12.4" lengthAdjust="spacingAndGlyphs" stroke="#000" stroke-width="0.3">10<tspan dy="-2.6" font-size="5.76">3</tspan></text>
<text x="356.10" y="442.10" font-size="8.0" font-weight="bold" textLength="12.4" lengthAdjust="spacingAndGlyphs" stroke="#000" stroke-width="0.3">10<tspan dy="-2.6" font-size="5.76">4</tspan></text>
<text x="277.00" y="448.80" font-size="7.2" font-weight="bold" fill="#000" textLength="64.25" lengthAdjust="spacingAndGlyphs" stroke="#000" stroke-width="0.3" >Annexin-V-FITC</text>
<text transform="translate(255.70,440.40) rotate(-90)" x="0" y="0" font-size="7.8" font-weight="bold" textLength="11.4" lengthAdjust="spacingAndGlyphs" stroke="#000" stroke-width="0.3">10<tspan dy="-2.4" font-size="5.62">0</tspan></text>
<text transform="translate(255.70,427.05) rotate(-90)" x="0" y="0" font-size="7.8" font-weight="bold" textLength="11.4" lengthAdjust="spacingAndGlyphs" stroke="#000" stroke-width="0.3">10<tspan dy="-2.4" font-size="5.62">1</tspan></text>
<text transform="translate(255.70,413.70) rotate(-90)" x="0" y="0" font-size="7.8" font-weight="bold" textLength="11.4" lengthAdjust="spacingAndGlyphs" stroke="#000" stroke-width="0.3">10<tspan dy="-2.4" font-size="5.62">2</tspan></text>
<text transform="translate(255.70,400.35) rotate(-90)" x="0" y="0" font-size="7.8" font-weight="bold" textLength="11.4" lengthAdjust="spacingAndGlyphs" stroke="#000" stroke-width="0.3">10<tspan dy="-2.4" font-size="5.62">3</tspan></text>
<text transform="translate(255.70,387.00) rotate(-90)" x="0" y="0" font-size="7.8" font-weight="bold" textLength="11.4" lengthAdjust="spacingAndGlyphs" stroke="#000" stroke-width="0.3">10<tspan dy="-2.4" font-size="5.62">4</tspan></text>
<text transform="translate(240.70,423.00) rotate(-90)" x="0" y="0" font-size="6.6" font-weight="bold" fill="#000" textLength="32.80" lengthAdjust="spacingAndGlyphs" stroke="#000" stroke-width="0.3">7-AAD-FL3</text>
<path d="M452.7 409.7h0.75M429.7 415.1h0.75M446.4 410.8h0.75M440.8 410.9h0.75M440.6 409.4h0.75M438.0 417.5h0.75M442.9 411.1h0.75M457.9 410.7h0.75M440.0 412.0h0.75M431.8 416.0h0.75M431.8 410.9h0.75M432.5 417.2h0.75M440.3 414.9h0.75M443.8 411.3h0.75M449.7 409.4h0.75M442.3 412.4h0.75M431.8 416.1h0.75M431.4 415.3h0.75M448.9 408.9h0.75M453.8 409.0h0.75M439.2 410.8h0.75M429.9 414.5h0.75M436.9 414.4h0.75M447.3 408.7h0.75M431.4 416.5h0.75M446.2 414.8h0.75M436.0 413.9h0.75M434.8 410.0h0.75M456.8 406.6h0.75M432.9 414.9h0.75M433.5 414.9h0.75M435.8 415.4h0.75M441.6 411.2h0.75M434.7 411.4h0.75M437.9 413.4h0.75M436.0 417.3h0.75M447.8 409.1h0.75M441.0 413.0h0.75M444.2 413.1h0.75M429.4 412.6h0.75M446.4 409.8h0.75M446.6 411.5h0.75M429.1 416.5h0.75M443.9 413.3h0.75M449.6 409.0h0.75M446.4 410.2h0.75M437.0 414.0h0.75M444.7 415.9h0.75M447.2 407.9h0.75M444.1 413.5h0.75M440.7 410.0h0.75M446.9 410.9h0.75M458.6 405.7h0.75M438.3 410.4h0.75M439.3 412.3h0.75M435.0 416.0h0.75M449.1 410.2h0.75M442.3 414.5h0.75M437.7 414.2h0.75M446.7 414.0h0.75M438.8 411.6h0.75M444.8 412.8h0.75M445.9 411.3h0.75M439.2 410.4h0.75M428.8 417.8h0.75M450.9 407.8h0.75M445.2 412.9h0.75M443.4 410.8h0.75M446.7 408.1h0.75M428.2 416.1h0.75M452.2 409.3h0.75M449.5 409.0h0.75M454.5 407.0h0.75M450.5 412.9h0.75M430.6 415.0h0.75M437.9 412.1h0.75M442.5 413.7h0.75M442.9 413.4h0.75M435.7 413.5h0.75M445.4 409.0h0.75M445.2 419.9h0.75M491.6 419.4h0.75M489.2 432.9h0.75M452.3 433.3h0.75M495.3 430.0h0.75M443.9 423.1h0.75M501.5 430.1h0.75M480.5 430.5h0.75M450.7 431.6h0.75M470.5 424.6h0.75M453.6 426.1h0.75M471.1 427.0h0.75M473.8 425.9h0.75M490.0 428.2h0.75M452.8 426.4h0.75M501.9 418.0h0.75M473.3 423.3h0.75M443.9 426.7h0.75M496.8 432.6h0.75M468.3 421.4h0.75M492.6 422.1h0.75M480.4 421.6h0.75M494.8 422.6h0.75M461.1 428.8h0.75M493.3 423.9h0.75M472.5 433.6h0.75M479.3 426.7h0.75M493.3 425.6h0.75M491.8 424.2h0.75M495.0 423.7h0.75M500.0 431.8h0.75M458.2 420.9h0.75M489.5 419.8h0.75M475.8 421.0h0.75M472.4 429.5h0.75M442.6 423.7h0.75M455.9 431.5h0.75M484.3 422.3h0.75M479.8 419.1h0.75M443.5 429.3h0.75M470.5 423.8h0.75M455.5 427.5h0.75M497.3 422.2h0.75M446.6 428.3h0.75M444.8 421.5h0.75M443.8 419.2h0.75M486.4 421.1h0.75M497.2 422.8h0.75M461.5 429.9h0.75M486.0 420.0h0.75M471.6 420.3h0.75M487.3 420.7h0.75M498.8 429.8h0.75M460.1 431.3h0.75M444.6 423.9h0.75M501.0 418.6h0.75M484.1 423.0h0.75M465.2 431.2h0.75M482.2 430.7h0.75M462.2 425.9h0.75M480.3 421.8h0.75M443.3 433.1h0.75M500.9 422.4h0.75M455.5 431.3h0.75M446.2 420.5h0.75M454.0 423.6h0.75M441.9 420.5h0.75M478.1 422.6h0.75M445.2 420.9h0.75M493.1 425.8h0.75M477.5 420.8h0.75M467.2 428.2h0.75M486.0 423.4h0.75M440.7 423.9h0.75M477.6 418.9h0.75M459.2 421.5h0.75M467.7 433.1h0.75M443.5 422.7h0.75M448.6 422.6h0.75M492.0 430.2h0.75M477.1 431.1h0.75M443.1 428.5h0.75M445.3 430.3h0.75M469.8 428.6h0.75M449.5 428.7h0.75M460.0 430.9h0.75M500.3 424.7h0.75M475.3 420.9h0.75M487.7 427.5h0.75M449.7 424.4h0.75M444.7 422.7h0.75M457.6 425.6h0.75M447.5 418.3h0.75M461.1 430.0h0.75M458.0 430.8h0.75M477.4 422.6h0.75M456.6 419.8h0.75M455.4 429.3h0.75M497.1 427.9h0.75M497.6 421.9h0.75M478.3 427.9h0.75M457.1 422.0h0.75M458.4 418.2h0.75M483.3 433.3h0.75M451.4 433.3h0.75M478.4 428.9h0.75M446.2 426.2h0.75M448.0 429.2h0.75M473.5 426.8h0.75M456.8 426.3h0.75M484.1 432.4h0.75M498.0 429.2h0.75M480.6 422.3h0.75M464.3 426.8h0.75M445.2 418.3h0.75M492.2 423.8h0.75M461.8 430.9h0.75M483.8 421.7h0.75M475.4 427.7h0.75M467.5 433.5h0.75M458.0 428.5h0.75M498.6 420.0h0.75M472.8 424.6h0.75M482.3 421.0h0.75M499.0 432.5h0.75M445.1 431.3h0.75M470.3 418.5h0.75M495.8 426.4h0.75M442.4 426.1h0.75M472.9 427.8h0.75M474.1 430.1h0.75M475.7 433.2h0.75M451.6 431.8h0.75M450.0 433.3h0.75M459.4 423.5h0.75M472.1 428.5h0.75M456.1 423.2h0.75M462.6 431.8h0.75M445.4 424.2h0.75M466.5 419.4h0.75M454.3 428.8h0.75M474.3 424.1h0.75M467.4 428.6h0.75M489.4 422.6h0.75M447.0 432.0h0.75M447.1 425.1h0.75M448.3 433.4h0.75M493.4 422.7h0.75M479.7 424.7h0.75M446.2 420.3h0.75M484.4 421.2h0.75M457.6 425.7h0.75M471.2 425.3h0.75M493.4 422.6h0.75M462.8 420.3h0.75M451.5 428.2h0.75M459.1 424.0h0.75M443.8 421.3h0.75M479.5 424.7h0.75M495.6 423.4h0.75M494.6 418.6h0.75M472.3 433.6h0.75M463.5 426.1h0.75M464.0 419.6h0.75M470.9 424.6h0.75M489.5 421.0h0.75M443.3 433.1h0.75M448.1 433.1h0.75M475.1 426.7h0.75M450.6 425.6h0.75M478.3 418.1h0.75M486.8 428.0h0.75M492.1 425.7h0.75M495.9 430.8h0.75M460.9 432.1h0.75M458.8 424.7h0.75M453.6 425.4h0.75M441.5 427.0h0.75M451.7 419.1h0.75M483.4 427.3h0.75M472.8 421.0h0.75M493.8 418.2h0.75M446.0 424.6h0.75M455.3 424.6h0.75M497.1 433.6h0.75M453.7 421.4h0.75M461.1 422.9h0.75M446.0 429.4h0.75M446.2 424.7h0.75M446.8 431.7h0.75M461.0 419.9h0.75M484.8 421.5h0.75M457.5 424.2h0.75M457.2 425.9h0.75M449.2 422.5h0.75M476.8 425.3h0.75M446.5 428.0h0.75M481.2 428.4h0.75M466.2 426.7h0.75M460.3 432.8h0.75M468.5 429.8h0.75M482.9 425.2h0.75M449.8 424.4h0.75M484.7 424.0h0.75M449.1 425.2h0.75M484.7 433.6h0.75M487.7 420.9h0.75M455.1 428.9h0.75M457.4 423.4h0.75M493.4 430.5h0.75M473.5 421.6h0.75M462.8 422.5h0.75M475.3 421.2h0.75M495.5 424.2h0.75M471.0 433.7h0.75M482.3 429.5h0.75M442.6 433.2h0.75M468.7 418.3h0.75M464.4 427.4h0.75M487.9 426.5h0.75M454.2 421.2h0.75M457.3 433.0h0.75M459.7 430.8h0.75M495.0 428.8h0.75M470.3 431.3h0.75M497.9 428.9h0.75M483.9 431.6h0.75M442.4 423.8h0.75M487.6 425.7h0.75M471.4 422.3h0.75M490.3 430.5h0.75M444.0 422.6h0.75M465.8 425.3h0.75M488.6 431.0h0.75M490.5 420.3h0.75M452.3 423.2h0.75M488.6 419.5h0.75M497.1 419.5h0.75M452.6 423.6h0.75M499.8 422.6h0.75M453.2 420.7h0.75M481.2 418.3h0.75M448.4 433.5h0.75M480.1 425.0h0.75M485.3 432.8h0.75M443.9 431.6h0.75M444.1 433.0h0.75M475.6 433.6h0.75M501.7 424.1h0.75M446.4 421.6h0.75M481.4 431.1h0.75M502.0 420.5h0.75M443.8 425.8h0.75M474.6 431.3h0.75M466.3 420.1h0.75M490.9 429.4h0.75M451.9 426.0h0.75M447.4 427.0h0.75M492.9 431.5h0.75M463.8 422.8h0.75M499.4 429.6h0.75M473.3 429.0h0.75M442.8 430.4h0.75M474.9 430.7h0.75M450.5 426.1h0.75M451.6 431.0h0.75M452.0 420.5h0.75M452.6 425.6h0.75M455.6 424.0h0.75M496.2 423.5h0.75M441.3 420.1h0.75M497.3 418.1h0.75M448.6 419.0h0.75M477.1 430.0h0.75M487.3 422.4h0.75M485.3 427.9h0.75M442.8 423.5h0.75M441.5 419.5h0.75M461.9 420.1h0.75M468.6 429.1h0.75M447.3 427.3h0.75M441.6 421.6h0.75M446.0 428.8h0.75M473.8 432.7h0.75M474.5 429.1h0.75M498.7 432.2h0.75M493.5 428.2h0.75M476.8 432.0h0.75M483.3 421.4h0.75M486.8 419.3h0.75M480.0 432.5h0.75M463.1 425.3h0.75M484.6 421.3h0.75M465.1 427.8h0.75M477.3 421.6h0.75M471.6 428.1h0.75M492.5 425.3h0.75M495.2 420.1h0.75M491.4 425.4h0.75M480.0 425.9h0.75M485.9 420.4h0.75M472.4 427.8h0.75M446.9 426.2h0.75M487.0 418.5h0.75M495.5 430.1h0.75M448.0 420.2h0.75M495.3 433.3h0.75M470.0 423.2h0.75M459.0 422.4h0.75M490.3 424.0h0.75M461.9 432.4h0.75M480.6 429.1h0.75M476.2 424.3h0.75M499.6 420.5h0.75M463.1 433.2h0.75M440.3 429.5h0.75M468.6 431.0h0.75M498.6 419.5h0.75M450.4 432.2h0.75M477.6 418.4h0.75M447.6 418.7h0.75M456.6 429.9h0.75M448.6 430.3h0.75M467.0 428.7h0.75M484.6 431.0h0.75M494.4 432.7h0.75M468.1 426.9h0.75M445.9 431.2h0.75M452.3 424.3h0.75M472.6 419.0h0.75M485.0 423.5h0.75M493.8 432.4h0.75M445.8 418.4h0.75M477.9 432.6h0.75M491.1 423.8h0.75M489.9 419.6h0.75M486.7 419.9h0.75M458.0 423.5h0.75M476.6 431.7h0.75M447.8 420.6h0.75M443.2 422.2h0.75M472.5 422.0h0.75M466.1 429.3h0.75M487.9 426.3h0.75M450.7 426.3h0.75M489.8 432.6h0.75M446.8 424.0h0.75M441.3 431.5h0.75M444.5 427.9h0.75M454.1 428.5h0.75M460.1 418.2h0.75M442.0 418.8h0.75M471.5 419.8h0.75M452.1 428.3h0.75M454.8 419.3h0.75M492.3 425.2h0.75M470.0 424.4h0.75M483.5 424.9h0.75M483.5 431.2h0.75M444.1 426.8h0.75M456.9 418.5h0.75M462.4 426.0h0.75M456.0 419.4h0.75M485.3 418.6h0.75M470.2 419.6h0.75M501.3 427.9h0.75M478.2 424.4h0.75M450.2 430.6h0.75M446.0 422.2h0.75M492.8 427.4h0.75M462.6 421.3h0.75M453.7 432.3h0.75M460.5 424.7h0.75M497.1 431.6h0.75M457.4 421.5h0.75M447.0 420.3h0.75M446.8 432.3h0.75M477.4 426.4h0.75M473.5 423.6h0.75M442.6 422.4h0.75M445.7 425.9h0.75M483.8 432.6h0.75M482.7 427.7h0.75M473.7 428.1h0.75M499.6 432.4h0.75M447.0 424.7h0.75M487.3 423.4h0.75M502.2 431.8h0.75M441.4 432.5h0.75M469.8 418.0h0.75M480.7 422.7h0.75M493.2 424.6h0.75M492.4 427.5h0.75M472.6 431.3h0.75M497.9 414.6h0.75M475.6 403.3h0.75M472.8 412.3h0.75M485.8 411.1h0.75M500.3 417.0h0.75M458.8 424.2h0.75M472.1 413.6h0.75M457.6 409.3h0.75M452.0 420.7h0.75M481.8 430.4h0.75M478.4 411.0h0.75M474.9 407.2h0.75M473.3 411.7h0.75M464.4 414.0h0.75M477.2 405.0h0.75M465.5 420.0h0.75M470.8 416.3h0.75M472.7 403.3h0.75M469.5 399.8h0.75M499.6 409.2h0.75M475.9 410.9h0.75M462.5 409.1h0.75M486.9 412.7h0.75M469.1 408.8h0.75M453.8 417.7h0.75M460.1 425.0h0.75M459.6 409.3h0.75M500.7 415.6h0.75M467.5 408.6h0.75M480.6 415.9h0.75M465.8 405.4h0.75M445.1 424.3h0.75M477.7 409.3h0.75M462.0 419.6h0.75M498.3 408.4h0.75M455.8 411.2h0.75M473.0 404.0h0.75M494.2 416.2h0.75M464.5 413.0h0.75M469.0 408.7h0.75M472.8 400.0h0.75M459.0 423.2h0.75M467.8 416.1h0.75M468.1 416.8h0.75M461.4 410.1h0.75M476.4 413.9h0.75M451.5 410.4h0.75M502.6 410.3h0.75M477.7 403.6h0.75M476.4 405.9h0.75M470.0 417.6h0.75M503.4 418.5h0.75M490.7 401.7h0.75M480.7 410.9h0.75M495.9 416.7h0.75M475.8 409.4h0.75M480.4 422.4h0.75M482.0 414.1h0.75M502.2 395.2h0.75M451.4 412.1h0.75M471.1 428.6h0.75M488.8 394.1h0.75M469.6 400.6h0.75M481.0 399.1h0.75M445.6 416.0h0.75M460.3 409.9h0.75M479.2 409.0h0.75M486.9 396.0h0.75M473.3 402.8h0.75M485.0 403.7h0.75M430.0 408.1h0.75M497.3 427.0h0.75M479.2 408.7h0.75M446.5 406.5h0.75M484.6 417.5h0.75M462.2 413.4h0.75M479.0 414.7h0.75M483.5 402.0h0.75M480.4 411.6h0.75M471.0 412.1h0.75M467.3 413.4h0.75M470.9 417.9h0.75M490.1 412.8h0.75M462.3 416.6h0.75M459.2 414.1h0.75M474.0 417.8h0.75M494.8 408.2h0.75M492.9 409.2h0.75M488.7 420.7h0.75M472.1 405.3h0.75M468.1 410.0h0.75M451.1 426.1h0.75M451.2 400.6h0.75M488.4 416.1h0.75M484.8 411.6h0.75M484.5 413.8h0.75M476.7 404.4h0.75M492.0 408.9h0.75M488.9 409.5h0.75M483.5 417.5h0.75M474.2 402.0h0.75M480.1 408.1h0.75M487.2 409.9h0.75M448.8 412.0h0.75M482.6 409.8h0.75M486.3 410.3h0.75M479.6 422.4h0.75M474.7 407.9h0.75M486.5 406.0h0.75M480.7 409.4h0.75M469.2 401.2h0.75M459.9 414.4h0.75M454.0 407.0h0.75M472.5 412.2h0.75M453.7 402.9h0.75M467.0 404.9h0.75M478.8 411.3h0.75M475.3 416.4h0.75M487.4 405.7h0.75M474.2 417.7h0.75M469.8 421.0h0.75M460.3 407.7h0.75M468.1 414.2h0.75M493.9 408.1h0.75M484.0 411.5h0.75M480.2 414.2h0.75M502.6 409.8h0.75M467.0 414.7h0.75M482.9 414.9h0.75M489.8 409.1h0.75M459.4 416.2h0.75M488.3 409.2h0.75M468.8 421.4h0.75M463.1 409.1h0.75M438.9 403.0h0.75M432.3 421.2h0.75M503.9 410.5h0.75M472.0 424.4h0.75M470.3 409.6h0.75M464.1 411.6h0.75M467.0 416.0h0.75M469.5 402.6h0.75M500.9 400.2h0.75M457.9 421.0h0.75M460.2 414.8h0.75M493.1 399.7h0.75M451.6 407.8h0.75M469.3 415.2h0.75M494.1 421.0h0.75M494.7 395.9h0.75M499.6 414.9h0.75M483.9 407.1h0.75M460.0 402.4h0.75M476.5 404.0h0.75M475.6 414.9h0.75M470.3 407.7h0.75M487.5 401.9h0.75M449.1 425.7h0.75M492.3 411.3h0.75M501.0 405.0h0.75M474.4 410.0h0.75M471.3 418.2h0.75M482.2 414.1h0.75M476.4 412.9h0.75M454.1 414.6h0.75M483.9 417.2h0.75M490.6 414.0h0.75M499.4 398.1h0.75M482.7 417.2h0.75M476.4 398.3h0.75M474.2 408.6h0.75M479.0 413.7h0.75M484.3 401.2h0.75M472.3 413.9h0.75M497.8 413.1h0.75M465.4 416.1h0.75M479.3 407.2h0.75M486.3 417.8h0.75M455.1 394.2h0.75M478.1 417.6h0.75M501.2 415.9h0.75M472.2 404.2h0.75M488.5 398.7h0.75M480.9 406.1h0.75M464.4 413.4h0.75M477.7 418.0h0.75M495.5 396.1h0.75M485.4 400.0h0.75M487.3 415.8h0.75M491.4 413.8h0.75M483.3 402.0h0.75M481.1 410.0h0.75M455.5 417.4h0.75M478.6 421.3h0.75M492.9 404.6h0.75M482.1 415.7h0.75M458.4 419.3h0.75M480.9 413.6h0.75M450.5 414.0h0.75M461.6 421.7h0.75M472.9 412.4h0.75M487.0 421.2h0.75M477.9 407.3h0.75M488.0 415.7h0.75M463.0 413.7h0.75M476.4 408.1h0.75M446.6 418.1h0.75M477.2 409.7h0.75M492.0 422.9h0.75M473.0 415.9h0.75M470.4 418.5h0.75M474.2 407.5h0.75M481.2 410.0h0.75M468.2 398.6h0.75M451.1 410.8h0.75M483.4 405.6h0.75M468.5 409.0h0.75M460.6 414.6h0.75M499.2 409.4h0.75M463.0 411.5h0.75M461.8 411.9h0.75M499.5 417.5h0.75M493.4 423.6h0.75M461.0 409.1h0.75M470.7 400.5h0.75M462.0 422.1h0.75M482.4 422.1h0.75M466.0 416.9h0.75M454.8 415.3h0.75M474.6 414.4h0.75M485.0 417.1h0.75M475.3 424.1h0.75M454.0 411.2h0.75M459.3 409.3h0.75M470.4 415.2h0.75M501.6 418.1h0.75M460.5 403.5h0.75M491.3 406.6h0.75M472.6 416.4h0.75M468.5 416.9h0.75M466.2 411.5h0.75M449.9 400.7h0.75M451.0 419.0h0.75M478.6 412.0h0.75M473.6 415.0h0.75M490.2 415.7h0.75M487.3 413.9h0.75M498.2 402.6h0.75M495.2 394.8h0.75M476.3 414.6h0.75M479.1 420.1h0.75M482.2 413.6h0.75M485.6 414.5h0.75M480.8 395.8h0.75M450.7 414.0h0.75M458.1 412.0h0.75M444.9 413.4h0.75M488.4 415.4h0.75M494.5 404.1h0.75M474.1 401.5h0.75M478.0 410.1h0.75M483.7 411.9h0.75M446.2 411.0h0.75M479.0 419.5h0.75M482.3 400.8h0.75M487.3 408.8h0.75M463.5 411.4h0.75M460.5 406.3h0.75M482.2 415.3h0.75M474.1 408.8h0.75M501.0 412.2h0.75M475.8 420.1h0.75M472.7 399.3h0.75M496.7 418.7h0.75M489.8 419.3h0.75M473.2 404.2h0.75M471.3 413.4h0.75M487.2 403.7h0.75M491.0 401.9h0.75M442.5 423.9h0.75M452.7 417.1h0.75M480.2 418.7h0.75M490.2 423.4h0.75M473.6 416.9h0.75M468.8 410.0h0.75M483.3 395.4h0.75M489.0 414.5h0.75M477.9 410.8h0.75M479.7 418.6h0.75M464.0 403.2h0.75M454.6 420.2h0.75M500.8 411.5h0.75M456.5 409.1h0.75M498.2 417.1h0.75M461.4 419.4h0.75M503.5 420.8h0.75M454.3 412.8h0.75M462.7 411.0h0.75M486.0 418.2h0.75M499.0 413.3h0.75M500.4 408.8h0.75M496.6 420.2h0.75M456.3 410.9h0.75M496.0 417.0h0.75M500.3 419.5h0.75M464.2 414.3h0.75M468.8 426.5h0.75M479.0 407.7h0.75M479.6 409.6h0.75M481.1 414.3h0.75M479.3 404.4h0.75M501.1 405.4h0.75M488.8 397.0h0.75M467.0 416.2h0.75M492.0 411.3h0.75M489.5 413.1h0.75M494.2 403.6h0.75M491.6 414.4h0.75M495.3 406.2h0.75M488.5 413.7h0.75M502.6 414.3h0.75M491.0 405.5h0.75M488.5 402.1h0.75M499.4 407.6h0.75M493.8 417.5h0.75M476.3 407.2h0.75M468.0 416.8h0.75M488.5 413.8h0.75M465.5 408.1h0.75M477.2 419.5h0.75M503.3 405.9h0.75M467.2 409.9h0.75M496.9 410.0h0.75M457.3 431.5h0.75M482.1 411.7h0.75M480.7 410.5h0.75M467.0 415.4h0.75M501.1 417.9h0.75M466.4 419.0h0.75M491.9 398.1h0.75M468.0 408.7h0.75M458.0 422.5h0.75M475.7 413.1h0.75M490.9 416.3h0.75M460.4 419.6h0.75M453.8 416.0h0.75M457.6 414.8h0.75M481.8 410.6h0.75M488.6 419.0h0.75M488.9 411.2h0.75M479.2 417.6h0.75M483.2 403.9h0.75M454.1 412.6h0.75M486.7 408.7h0.75M470.7 400.7h0.75M461.3 410.0h0.75M463.3 408.1h0.75M478.4 399.2h0.75M497.8 409.4h0.75M501.0 414.0h0.75M499.0 412.2h0.75M488.2 401.4h0.75M461.0 403.4h0.75M455.2 409.7h0.75M491.7 405.5h0.75M466.2 414.2h0.75M471.3 409.4h0.75M480.5 401.6h0.75M495.8 408.8h0.75M481.5 402.9h0.75M477.9 408.8h0.75M454.2 403.2h0.75M453.1 405.8h0.75M481.2 400.1h0.75M484.5 404.0h0.75M466.0 409.7h0.75M452.8 400.7h0.75M476.4 411.7h0.75M477.6 403.1h0.75M467.9 414.2h0.75M483.6 399.5h0.75M484.4 413.4h0.75M457.5 404.2h0.75M454.0 399.2h0.75M476.6 410.1h0.75M473.4 407.9h0.75M490.1 401.4h0.75M491.6 412.9h0.75M464.5 410.4h0.75M475.2 401.7h0.75M491.3 406.7h0.75M459.2 409.0h0.75M490.9 405.7h0.75M473.5 402.8h0.75M455.1 411.1h0.75M459.4 408.5h0.75M460.6 413.4h0.75M459.8 403.5h0.75M453.7 404.5h0.75M473.1 412.0h0.75M453.3 412.8h0.75M467.7 411.1h0.75M471.7 411.6h0.75M470.9 413.1h0.75M455.5 406.5h0.75M497.3 407.2h0.75M468.7 412.0h0.75M467.4 402.7h0.75M466.7 412.7h0.75M464.7 411.9h0.75M496.8 407.8h0.75M481.3 402.9h0.75M480.7 411.4h0.75M468.9 404.4h0.75M452.3 399.5h0.75M501.1 404.4h0.75M452.3 398.7h0.75M472.0 409.9h0.75M458.0 412.4h0.75M465.2 413.0h0.75M461.9 405.4h0.75" stroke="#8c8c8c" stroke-width="0.75" fill="none" opacity="1.0"/>
<path d="M430.6 432.4h0.85M423.1 425.3h0.85M416.9 423.2h0.85M430.6 427.4h0.85M417.6 430.9h0.85M450.1 420.4h0.85M423.2 425.1h0.85M424.7 426.1h0.85M421.3 427.4h0.85M422.0 429.7h0.85M416.3 419.8h0.85M434.7 421.4h0.85M443.0 427.6h0.85M421.0 424.7h0.85M424.9 428.3h0.85M412.2 423.2h0.85M429.0 431.7h0.85M413.0 427.0h0.85M417.4 433.3h0.85M427.3 430.9h0.85M423.6 431.0h0.85M431.0 422.3h0.85M428.5 426.2h0.85M432.9 426.9h0.85M449.2 429.9h0.85M411.2 420.0h0.85M440.5 429.9h0.85M419.4 422.8h0.85M415.1 432.8h0.85M433.0 429.1h0.85M422.0 428.4h0.85M428.4 429.5h0.85M422.2 427.7h0.85M412.2 424.6h0.85M409.3 426.8h0.85M443.8 427.2h0.85M419.9 426.1h0.85M428.3 419.9h0.85M419.5 431.8h0.85M422.1 429.7h0.85M410.4 426.6h0.85M416.4 423.2h0.85M432.8 423.2h0.85M414.3 431.1h0.85M415.0 430.5h0.85M415.9 424.4h0.85M426.2 427.6h0.85M429.4 423.8h0.85M428.9 421.5h0.85M438.8 428.0h0.85M409.9 428.6h0.85M412.9 424.0h0.85M420.2 430.5h0.85M424.4 424.4h0.85M436.6 425.9h0.85M419.7 429.4h0.85M411.6 429.3h0.85M426.4 425.3h0.85M418.6 421.9h0.85M410.3 425.2h0.85M416.7 422.7h0.85M427.4 424.4h0.85M429.2 422.7h0.85M411.9 430.7h0.85M416.7 421.8h0.85M419.0 425.3h0.85M414.0 425.8h0.85M430.9 432.6h0.85M434.6 428.1h0.85M424.1 432.7h0.85M426.6 426.1h0.85M443.5 432.4h0.85M419.7 426.1h0.85M427.8 419.7h0.85M410.6 422.4h0.85M420.0 430.2h0.85M428.6 425.6h0.85M422.0 424.0h0.85M414.0 427.4h0.85M424.6 427.5h0.85M426.3 430.9h0.85M422.6 427.3h0.85M449.5 424.6h0.85M409.9 426.5h0.85M444.2 424.2h0.85M407.2 419.8h0.85M430.8 424.5h0.85M437.5 433.6h0.85M425.5 427.9h0.85M434.9 431.3h0.85M428.1 422.6h0.85M424.1 426.3h0.85M408.8 429.9h0.85M425.7 428.0h0.85M429.7 430.8h0.85M422.2 430.3h0.85M421.1 426.1h0.85M417.1 421.4h0.85M453.7 420.8h0.85M408.9 427.8h0.85M438.4 423.1h0.85M412.4 428.8h0.85M423.2 429.1h0.85M424.9 418.8h0.85M434.5 418.1h0.85M428.3 432.0h0.85M427.5 420.0h0.85M422.4 428.4h0.85M432.4 432.2h0.85M419.3 427.6h0.85M423.4 425.5h0.85M434.5 426.1h0.85M439.4 425.6h0.85M447.7 423.0h0.85M424.1 431.1h0.85M418.7 428.9h0.85M436.9 427.9h0.85M422.1 425.2h0.85M421.9 424.0h0.85M416.1 430.0h0.85M419.6 423.1h0.85M423.4 429.1h0.85M426.7 427.8h0.85M439.5 425.4h0.85M417.2 428.1h0.85M440.2 429.2h0.85M426.1 420.3h0.85M430.6 423.0h0.85M411.1 426.4h0.85M438.2 423.8h0.85M431.8 426.1h0.85M430.5 430.7h0.85M439.2 421.2h0.85M431.3 423.0h0.85M409.2 427.8h0.85M422.5 424.1h0.85M408.6 426.7h0.85M436.0 430.3h0.85M440.6 424.5h0.85M416.9 430.5h0.85M440.1 428.6h0.85M414.4 427.5h0.85M434.6 421.8h0.85M438.6 426.3h0.85M419.1 426.7h0.85M427.6 418.6h0.85M407.3 430.8h0.85M415.6 426.3h0.85M413.8 431.8h0.85M415.0 426.0h0.85M417.2 428.9h0.85M423.4 429.2h0.85M421.9 431.5h0.85M410.5 424.3h0.85M450.6 428.2h0.85M434.8 430.5h0.85M418.1 428.1h0.85M417.4 425.2h0.85M423.6 422.6h0.85M419.4 425.9h0.85M412.9 422.6h0.85M408.4 432.9h0.85M414.4 429.8h0.85M411.4 426.7h0.85M439.8 429.6h0.85M412.1 426.9h0.85M431.4 421.5h0.85M430.5 429.6h0.85M425.5 420.4h0.85M431.9 417.6h0.85M417.3 426.6h0.85M420.9 423.7h0.85M435.1 427.0h0.85M429.5 425.3h0.85M424.4 432.4h0.85M424.8 423.5h0.85M416.3 433.5h0.85M433.4 420.3h0.85M420.0 422.9h0.85M407.5 422.2h0.85M419.3 422.3h0.85M409.7 426.0h0.85M416.2 424.1h0.85M426.9 423.8h0.85M418.6 429.6h0.85M419.8 425.4h0.85M413.6 425.0h0.85M422.6 426.9h0.85M437.3 423.0h0.85M446.1 420.4h0.85M424.9 430.6h0.85M413.0 425.9h0.85M436.1 428.8h0.85M429.7 424.8h0.85M414.8 423.4h0.85M416.5 420.4h0.85M417.4 432.2h0.85M427.3 432.1h0.85M427.2 426.2h0.85M425.1 426.5h0.85M427.3 423.3h0.85M410.3 425.2h0.85M409.5 422.2h0.85M426.7 428.7h0.85M419.3 431.2h0.85M429.7 430.3h0.85M428.8 421.8h0.85M432.1 421.5h0.85M418.6 428.4h0.85M423.8 431.8h0.85M448.8 423.9h0.85M427.1 426.0h0.85M411.5 428.4h0.85M437.8 420.5h0.85M411.9 423.6h0.85M422.7 424.0h0.85M422.5 429.3h0.85M407.7 425.3h0.85M413.1 430.3h0.85M430.2 418.2h0.85M440.6 428.9h0.85M430.1 425.9h0.85M419.8 425.8h0.85M409.2 430.8h0.85M408.8 429.9h0.85M425.6 427.3h0.85M416.5 428.6h0.85M430.7 433.6h0.85M422.9 428.2h0.85M426.7 425.0h0.85M444.2 427.4h0.85M431.6 432.3h0.85M407.1 430.9h0.85M418.9 430.8h0.85M423.1 421.6h0.85M413.8 426.8h0.85M437.3 420.2h0.85M431.8 428.0h0.85M427.2 426.9h0.85M413.4 431.6h0.85M424.6 433.5h0.85M410.5 431.3h0.85M431.9 430.5h0.85M416.9 430.9h0.85M423.3 423.8h0.85M448.1 421.9h0.85M425.0 431.4h0.85M440.1 426.7h0.85M412.6 424.5h0.85M428.5 424.9h0.85M434.0 425.3h0.85M414.8 426.6h0.85M439.5 426.3h0.85M434.0 422.7h0.85M415.8 426.2h0.85M415.4 425.3h0.85M424.3 424.1h0.85M423.4 427.5h0.85M422.8 425.1h0.85M418.3 423.3h0.85M413.5 425.4h0.85M427.2 424.6h0.85M428.0 428.7h0.85M436.5 431.7h0.85M433.8 430.0h0.85M420.1 423.3h0.85M418.6 427.0h0.85M424.6 430.6h0.85M414.9 428.4h0.85M429.8 428.0h0.85M407.7 428.2h0.85M440.5 426.4h0.85M427.0 427.0h0.85M421.2 430.5h0.85M422.2 426.6h0.85M411.7 423.6h0.85M424.2 421.1h0.85M423.2 423.6h0.85M408.4 425.3h0.85M420.6 428.3h0.85M410.1 423.0h0.85M424.8 423.0h0.85M434.5 430.4h0.85M419.1 431.9h0.85M420.0 428.9h0.85M413.2 427.2h0.85M416.1 427.2h0.85M435.7 423.8h0.85M426.6 421.7h0.85M423.4 426.5h0.85M422.6 433.6h0.85M422.8 432.1h0.85M439.7 425.5h0.85M414.0 423.5h0.85M423.1 430.5h0.85M434.4 424.0h0.85M429.5 421.8h0.85M406.9 431.4h0.85M419.0 426.7h0.85M412.0 429.4h0.85M428.5 417.5h0.85M429.8 432.5h0.85M434.0 425.2h0.85M426.1 429.3h0.85M411.5 431.1h0.85M443.2 422.9h0.85M411.1 427.4h0.85M409.1 429.8h0.85M424.9 419.6h0.85M432.5 432.1h0.85M412.6 422.2h0.85M444.9 423.3h0.85M425.4 424.7h0.85M415.1 429.6h0.85M412.2 428.1h0.85M417.5 426.6h0.85M417.3 422.5h0.85M409.2 423.7h0.85M424.9 422.3h0.85M421.6 420.0h0.85M418.0 420.1h0.85M412.0 424.7h0.85M426.0 427.8h0.85M425.7 427.3h0.85M426.5 425.6h0.85M407.8 427.3h0.85M430.0 430.8h0.85M427.8 424.7h0.85M433.2 426.6h0.85M412.6 429.5h0.85M416.4 423.0h0.85M435.2 424.9h0.85M416.6 422.7h0.85M409.2 422.3h0.85M418.5 426.5h0.85M411.2 423.4h0.85M428.8 421.7h0.85M417.9 418.3h0.85M427.1 423.9h0.85M415.2 426.3h0.85M416.4 424.7h0.85M424.5 430.2h0.85M432.4 433.3h0.85M418.5 424.7h0.85M441.5 422.5h0.85M410.5 427.3h0.85M425.6 415.5h0.85M423.9 424.2h0.85M425.5 429.0h0.85M421.8 427.5h0.85M419.6 427.1h0.85M414.7 430.8h0.85M424.5 424.3h0.85M440.4 417.9h0.85M419.4 427.1h0.85M426.3 424.6h0.85M417.3 429.0h0.85M454.2 426.4h0.85M428.0 426.8h0.85M411.6 430.0h0.85M448.0 431.6h0.85M434.9 426.1h0.85M437.2 425.7h0.85M432.7 427.6h0.85M418.9 422.6h0.85M429.0 425.9h0.85M416.8 425.4h0.85M422.5 430.8h0.85M419.5 423.7h0.85M411.7 417.5h0.85M420.3 431.4h0.85M436.6 426.1h0.85M426.4 419.9h0.85M422.8 427.2h0.85M444.0 426.1h0.85M415.8 427.7h0.85M429.5 421.6h0.85M415.9 429.7h0.85M426.1 424.7h0.85M420.1 428.7h0.85M420.9 433.2h0.85M432.6 426.6h0.85M409.9 424.0h0.85M435.3 424.1h0.85M451.0 428.0h0.85M411.9 425.6h0.85M426.2 422.6h0.85M421.5 431.0h0.85M412.8 422.1h0.85M422.7 427.2h0.85M433.5 429.9h0.85M429.9 432.9h0.85M423.1 429.0h0.85M431.8 423.4h0.85M422.7 426.6h0.85M428.4 417.3h0.85M441.6 419.7h0.85M421.7 430.4h0.85M409.5 428.3h0.85M409.3 422.4h0.85M418.1 433.7h0.85M410.8 420.4h0.85M431.5 425.2h0.85M413.2 430.2h0.85M438.2 423.0h0.85M428.2 432.0h0.85M429.9 420.1h0.85M409.8 427.8h0.85M406.6 426.0h0.85M419.5 424.9h0.85M417.4 426.7h0.85M429.5 420.1h0.85M443.0 425.6h0.85M417.0 431.9h0.85M425.1 424.9h0.85M435.3 432.6h0.85M430.1 417.0h0.85M412.6 433.1h0.85M423.5 430.6h0.85M415.6 425.3h0.85M430.3 422.5h0.85M408.4 421.9h0.85M420.6 425.3h0.85M435.0 425.6h0.85M445.2 427.7h0.85M412.2 432.9h0.85M441.4 425.5h0.85M416.2 428.7h0.85M439.0 425.5h0.85M434.4 424.8h0.85M437.9 425.7h0.85M449.3 424.2h0.85M423.0 428.3h0.85M450.0 425.9h0.85M431.6 433.0h0.85M421.7 425.4h0.85M408.1 426.3h0.85M434.1 429.5h0.85M423.0 426.1h0.85M435.1 418.2h0.85M438.6 426.6h0.85M434.3 428.6h0.85M432.8 430.9h0.85M413.7 425.0h0.85M429.7 425.9h0.85M438.0 424.3h0.85M422.4 427.1h0.85M419.8 426.6h0.85M415.0 429.3h0.85M417.3 428.5h0.85M436.6 429.7h0.85M419.4 426.6h0.85M409.4 429.7h0.85M422.8 432.1h0.85M415.4 427.6h0.85M424.7 425.3h0.85M412.6 421.8h0.85M433.6 425.1h0.85M418.7 428.1h0.85M447.4 419.3h0.85M423.4 429.1h0.85M434.5 427.2h0.85M429.5 419.1h0.85M416.3 425.2h0.85M422.8 421.6h0.85M420.2 427.2h0.85M430.1 424.8h0.85M423.3 433.2h0.85M435.2 423.6h0.85M424.9 429.3h0.85M408.3 427.5h0.85M416.3 428.7h0.85M417.4 431.9h0.85M430.1 427.4h0.85M423.9 424.9h0.85M416.8 430.7h0.85M406.5 428.9h0.85M431.0 422.0h0.85M435.6 422.8h0.85M426.8 428.8h0.85M417.5 428.2h0.85M420.8 431.1h0.85M426.5 423.6h0.85M418.6 421.2h0.85M410.9 423.4h0.85M415.1 427.4h0.85M423.5 426.5h0.85M430.4 428.1h0.85M408.1 422.8h0.85M424.3 421.1h0.85M411.7 430.1h0.85M424.5 428.6h0.85M409.0 423.2h0.85M420.5 428.8h0.85M420.7 426.3h0.85M419.6 427.0h0.85M435.9 429.7h0.85M425.3 428.3h0.85M417.2 425.9h0.85M411.1 424.0h0.85M411.6 421.3h0.85M422.8 420.1h0.85M436.1 424.7h0.85M429.8 428.5h0.85M413.9 422.8h0.85M413.4 422.3h0.85M426.3 425.8h0.85M429.3 425.9h0.85M414.8 427.9h0.85M408.9 420.5h0.85M430.7 428.5h0.85M429.5 422.3h0.85M424.6 429.3h0.85M419.4 425.9h0.85M426.8 429.9h0.85M433.8 425.5h0.85M411.0 420.0h0.85M437.3 424.2h0.85M414.9 428.1h0.85M407.2 429.9h0.85M416.1 425.6h0.85M438.3 425.3h0.85M410.9 426.0h0.85M431.0 419.7h0.85M412.1 427.2h0.85M407.6 422.9h0.85M411.9 428.3h0.85M423.1 422.5h0.85M413.2 429.2h0.85M412.0 424.3h0.85M420.3 423.4h0.85M422.4 425.5h0.85M424.8 430.7h0.85M441.1 421.4h0.85M422.6 424.9h0.85M417.4 426.6h0.85M421.8 430.7h0.85M432.9 426.8h0.85M430.0 433.6h0.85M421.4 419.2h0.85M416.2 422.6h0.85M414.4 427.3h0.85M414.8 427.4h0.85M412.1 414.4h0.85M409.1 423.1h0.85M417.7 422.8h0.85M418.5 427.7h0.85M415.8 431.0h0.85M421.8 428.7h0.85M422.3 424.6h0.85M414.8 419.5h0.85M425.1 429.8h0.85M419.4 424.2h0.85M424.4 427.6h0.85M413.5 420.9h0.85M417.2 424.1h0.85M419.3 424.8h0.85M420.9 426.8h0.85M434.8 432.4h0.85M430.4 429.0h0.85M419.4 427.3h0.85M446.1 416.0h0.85M421.8 420.5h0.85M427.7 429.5h0.85M430.2 432.6h0.85M427.0 429.0h0.85M430.4 428.8h0.85M425.0 426.8h0.85M423.8 422.9h0.85M418.1 421.8h0.85M423.6 421.4h0.85M410.7 433.0h0.85M432.7 423.3h0.85M424.2 422.5h0.85M439.9 422.5h0.85M417.8 421.9h0.85M416.0 433.4h0.85M417.5 428.0h0.85M416.4 419.1h0.85M408.7 424.9h0.85M440.7 423.4h0.85M437.3 430.2h0.85M428.6 425.9h0.85M425.7 423.6h0.85M424.5 431.7h0.85M431.4 427.3h0.85M421.8 425.1h0.85M430.9 433.3h0.85M432.4 429.2h0.85M426.3 433.2h0.85M430.7 424.3h0.85M434.5 420.6h0.85M430.1 427.2h0.85M421.4 427.4h0.85M412.7 427.3h0.85M415.4 430.4h0.85M427.1 424.1h0.85M429.1 429.4h0.85M429.6 428.7h0.85M426.1 427.6h0.85M425.8 419.4h0.85M437.6 426.5h0.85M421.8 428.3h0.85M439.6 432.8h0.85M416.0 431.0h0.85M419.3 431.1h0.85M421.0 426.4h0.85M411.1 423.6h0.85M419.4 427.6h0.85M413.2 423.1h0.85M441.3 426.9h0.85M443.7 427.0h0.85M428.3 427.1h0.85M413.2 428.9h0.85M446.7 423.9h0.85M421.2 431.1h0.85M431.0 429.7h0.85M427.3 426.9h0.85M412.7 426.9h0.85M438.9 425.4h0.85M428.8 429.2h0.85M407.7 426.4h0.85" stroke="#555" stroke-width="0.85" fill="none" opacity="1.0"/>
<path d="M417.4 429.2h1.0M427.3 428.9h1.0M420.4 430.2h1.0M413.0 428.9h1.0M431.7 426.1h1.0M423.8 424.7h1.0M414.2 430.0h1.0M419.3 424.5h1.0M420.7 430.4h1.0M419.3 431.6h1.0M421.3 430.7h1.0M414.7 432.4h1.0M415.4 429.1h1.0M424.3 428.2h1.0M418.4 428.7h1.0M420.1 428.3h1.0M413.1 428.3h1.0M422.9 431.5h1.0M409.1 425.6h1.0M418.9 429.6h1.0M411.3 428.4h1.0M425.5 428.6h1.0M420.6 421.1h1.0M423.5 427.4h1.0M413.3 424.3h1.0M425.1 427.9h1.0M424.1 425.5h1.0M428.6 424.3h1.0M420.3 425.1h1.0M418.6 430.1h1.0M417.9 428.5h1.0M426.3 426.7h1.0M422.7 429.2h1.0M423.8 428.6h1.0M411.4 426.0h1.0M421.0 423.4h1.0M429.0 426.8h1.0M412.4 433.4h1.0M419.9 430.8h1.0M427.0 425.5h1.0M413.2 432.8h1.0M427.9 423.9h1.0M425.3 422.8h1.0M422.6 429.0h1.0M420.9 427.1h1.0M416.4 427.7h1.0M418.4 433.4h1.0M420.7 429.0h1.0M433.2 422.7h1.0M424.8 427.5h1.0M408.8 430.9h1.0M417.7 424.7h1.0M408.1 428.3h1.0M426.4 425.3h1.0M414.1 428.0h1.0M421.8 424.3h1.0M417.2 428.1h1.0M418.7 430.4h1.0M416.3 425.5h1.0M417.2 428.8h1.0M415.6 429.7h1.0M423.6 426.3h1.0M422.0 426.6h1.0M420.0 425.5h1.0M415.7 428.4h1.0M413.4 424.2h1.0M423.8 426.8h1.0M422.0 425.3h1.0M423.7 425.4h1.0M419.7 427.5h1.0M425.2 425.0h1.0M421.8 424.1h1.0M415.4 427.4h1.0M413.6 424.5h1.0M423.4 426.9h1.0M417.3 427.7h1.0M423.2 425.6h1.0M415.3 428.5h1.0M417.0 427.6h1.0M416.0 429.9h1.0M429.9 428.5h1.0M420.9 426.1h1.0M426.7 423.5h1.0M417.8 425.6h1.0M424.5 426.0h1.0M408.5 432.8h1.0M415.6 422.8h1.0M425.2 427.4h1.0M420.2 426.5h1.0M419.7 425.2h1.0M415.4 428.7h1.0M418.4 430.8h1.0M412.8 429.9h1.0M412.7 425.3h1.0M425.3 425.7h1.0M413.7 426.7h1.0M420.2 431.0h1.0M425.8 425.8h1.0M423.4 432.8h1.0M414.4 421.8h1.0M414.6 423.0h1.0M422.0 428.7h1.0M415.3 429.9h1.0M427.4 420.0h1.0M420.7 427.1h1.0M416.2 427.9h1.0M416.6 424.4h1.0M415.2 427.9h1.0M427.7 423.0h1.0M415.9 432.3h1.0M429.8 429.1h1.0M417.7 427.3h1.0M423.9 428.4h1.0M417.5 428.5h1.0M413.1 424.9h1.0M417.0 426.9h1.0M415.6 425.2h1.0M430.3 428.6h1.0M419.9 427.4h1.0M427.8 428.3h1.0M425.9 426.2h1.0M424.6 428.4h1.0M415.3 428.3h1.0M424.5 427.4h1.0M423.9 422.8h1.0M410.9 430.6h1.0M416.2 429.3h1.0M422.5 430.2h1.0M414.7 427.9h1.0M419.3 427.0h1.0M419.4 431.6h1.0M416.5 426.1h1.0M421.2 426.1h1.0M413.3 429.5h1.0M409.7 428.5h1.0M414.1 425.8h1.0M417.7 424.2h1.0M431.3 425.9h1.0M421.8 430.5h1.0M415.7 421.1h1.0M423.0 423.6h1.0M418.2 428.1h1.0M420.3 428.5h1.0M422.2 425.4h1.0M412.0 433.4h1.0M418.2 427.9h1.0M411.4 425.8h1.0M427.0 425.5h1.0M411.6 427.2h1.0M414.1 424.9h1.0M421.3 426.2h1.0M424.3 425.4h1.0M433.8 430.4h1.0M420.2 424.9h1.0M425.4 428.3h1.0M413.8 422.8h1.0M418.6 425.2h1.0M422.7 425.5h1.0M425.4 426.1h1.0M426.6 426.9h1.0M414.5 423.6h1.0M419.8 425.2h1.0M420.2 426.5h1.0M427.9 430.3h1.0M414.7 426.8h1.0M426.2 426.2h1.0M422.4 424.8h1.0M431.4 422.7h1.0M417.9 431.7h1.0M409.9 428.6h1.0M414.4 427.2h1.0M418.6 433.6h1.0M424.9 425.3h1.0M414.7 431.1h1.0M427.5 426.2h1.0M418.1 430.0h1.0M415.7 423.2h1.0M415.4 427.5h1.0M417.2 427.9h1.0M412.7 424.2h1.0M419.9 425.1h1.0M413.9 428.1h1.0M430.6 426.9h1.0M417.0 431.3h1.0M415.8 426.0h1.0M416.9 429.2h1.0M425.6 422.5h1.0M418.9 419.9h1.0M417.3 428.5h1.0M410.6 430.4h1.0M415.3 420.8h1.0M413.1 427.8h1.0M420.3 425.9h1.0M406.9 428.5h1.0M412.8 428.0h1.0M408.5 429.0h1.0M417.8 430.6h1.0M420.2 426.2h1.0M423.9 430.3h1.0M412.0 427.6h1.0M419.7 428.9h1.0M410.2 427.8h1.0M425.5 429.6h1.0M422.4 430.6h1.0M423.1 430.9h1.0M425.2 427.2h1.0M425.6 428.2h1.0M411.7 430.4h1.0M413.8 426.9h1.0M415.8 426.0h1.0M418.7 428.7h1.0M416.4 428.2h1.0M422.1 423.6h1.0M416.6 427.3h1.0M425.1 423.2h1.0M414.5 430.9h1.0M416.2 424.1h1.0M416.9 424.8h1.0M418.5 425.7h1.0M421.8 427.5h1.0M415.8 427.3h1.0M432.6 429.4h1.0M423.8 427.7h1.0M411.9 428.0h1.0M424.3 430.5h1.0M413.2 425.5h1.0M411.7 424.4h1.0M425.7 428.8h1.0M420.3 424.0h1.0M424.5 432.6h1.0M411.2 427.4h1.0M425.7 422.6h1.0M421.6 427.5h1.0M414.6 425.5h1.0M419.5 421.8h1.0M430.2 424.5h1.0M415.0 427.7h1.0M425.6 426.2h1.0M422.5 428.7h1.0M406.6 425.9h1.0M429.7 427.9h1.0M420.7 432.2h1.0M427.6 420.2h1.0M427.3 429.7h1.0M420.2 426.8h1.0M421.5 428.7h1.0M422.1 426.6h1.0M413.0 430.3h1.0M428.9 426.1h1.0M422.1 421.4h1.0M415.9 424.0h1.0M425.9 428.9h1.0M418.6 426.3h1.0M410.8 432.3h1.0M416.1 423.8h1.0M418.2 422.9h1.0M410.0 428.6h1.0M421.5 424.0h1.0M423.9 424.0h1.0M423.5 426.5h1.0M428.3 424.5h1.0M416.0 424.9h1.0M423.0 426.5h1.0M422.9 427.7h1.0M417.4 431.7h1.0M417.3 423.4h1.0M423.0 425.2h1.0M410.8 427.7h1.0M420.9 424.2h1.0M420.1 429.0h1.0M422.8 426.7h1.0M413.3 427.4h1.0M421.1 427.3h1.0M417.1 427.4h1.0M420.0 425.2h1.0M413.4 428.9h1.0M423.0 428.2h1.0M414.4 430.9h1.0M411.6 430.3h1.0M419.1 425.5h1.0M420.4 426.7h1.0M422.9 427.2h1.0M412.3 427.3h1.0M420.4 421.4h1.0M419.6 421.4h1.0M418.7 431.0h1.0M418.0 428.0h1.0M419.0 428.1h1.0M432.6 425.7h1.0M418.6 427.3h1.0M419.3 424.2h1.0M419.5 424.6h1.0M414.2 426.8h1.0M419.0 426.7h1.0M412.8 429.3h1.0M410.8 426.4h1.0M426.6 426.9h1.0M411.7 428.5h1.0M425.6 431.3h1.0M417.6 427.0h1.0M416.9 426.6h1.0M421.9 426.1h1.0M424.5 424.1h1.0M410.7 430.5h1.0M418.2 427.0h1.0M420.6 430.3h1.0M412.5 422.7h1.0M420.3 426.2h1.0M429.2 431.8h1.0M420.8 427.8h1.0M418.9 423.4h1.0M418.9 431.1h1.0M413.0 431.1h1.0M425.9 428.5h1.0M413.1 428.0h1.0M411.8 426.4h1.0M420.1 426.6h1.0M425.8 427.9h1.0M424.5 431.5h1.0M424.7 422.0h1.0M414.9 425.3h1.0M413.9 427.2h1.0M422.4 428.5h1.0M413.4 427.8h1.0M419.1 426.1h1.0M419.9 431.9h1.0M425.6 425.6h1.0M411.2 428.0h1.0M425.3 421.2h1.0M418.7 428.7h1.0M426.4 427.0h1.0M419.3 431.5h1.0M413.7 426.4h1.0M429.9 425.6h1.0M418.6 428.2h1.0M413.0 430.7h1.0M423.7 421.9h1.0M417.7 429.6h1.0M410.7 428.8h1.0M425.3 431.4h1.0M417.8 423.9h1.0M428.3 428.6h1.0M420.9 425.8h1.0M420.4 427.3h1.0M420.6 426.6h1.0M418.5 427.8h1.0M417.5 421.0h1.0M419.5 424.2h1.0M414.5 423.4h1.0M425.4 426.5h1.0M433.3 424.2h1.0M429.9 429.0h1.0M407.0 425.7h1.0M419.8 428.9h1.0M413.7 426.0h1.0M424.3 423.9h1.0M419.3 428.3h1.0M411.8 430.2h1.0M427.1 430.4h1.0M418.9 428.5h1.0M415.6 430.9h1.0M417.2 426.0h1.0M417.9 426.4h1.0M415.7 430.2h1.0M424.0 427.3h1.0M418.1 425.8h1.0M425.0 428.4h1.0M419.9 427.8h1.0M427.1 430.4h1.0M415.4 427.6h1.0M422.2 424.0h1.0M428.7 427.5h1.0M422.5 426.9h1.0M415.2 426.7h1.0M419.2 423.7h1.0M418.1 431.1h1.0M420.9 428.7h1.0M420.2 426.1h1.0M409.5 432.3h1.0M421.4 424.8h1.0M416.1 427.5h1.0M422.2 428.7h1.0M419.0 428.6h1.0M425.2 427.0h1.0M414.0 426.8h1.0M415.4 428.3h1.0M412.5 428.2h1.0M423.9 425.1h1.0M422.8 429.4h1.0M419.3 427.3h1.0M418.1 428.1h1.0M411.1 422.5h1.0M415.3 427.0h1.0M420.5 430.1h1.0M416.0 426.4h1.0M419.3 425.8h1.0M413.8 427.7h1.0M414.1 427.4h1.0M415.8 428.8h1.0M422.7 424.0h1.0M419.1 426.6h1.0M414.1 428.8h1.0M417.0 426.2h1.0M429.1 431.8h1.0M425.9 423.1h1.0M422.7 427.9h1.0M423.6 430.9h1.0M411.9 427.1h1.0M416.1 425.4h1.0M414.5 432.4h1.0M418.6 425.7h1.0M411.2 427.4h1.0M420.0 426.0h1.0M424.0 426.2h1.0M415.6 431.0h1.0M423.0 427.7h1.0M424.6 423.6h1.0M416.0 428.9h1.0M426.6 426.3h1.0M413.2 428.0h1.0M417.2 423.9h1.0M412.4 429.3h1.0M424.0 424.7h1.0M420.7 428.5h1.0M423.3 426.2h1.0M419.8 430.7h1.0M409.5 428.8h1.0M417.0 424.0h1.0M432.6 430.2h1.0M415.2 425.2h1.0M424.9 424.7h1.0M418.7 428.6h1.0M417.0 431.0h1.0M415.6 429.5h1.0M425.9 423.0h1.0M421.1 431.4h1.0M418.5 428.7h1.0M426.2 429.5h1.0M421.8 427.2h1.0M424.2 428.5h1.0M428.7 425.8h1.0M418.5 427.8h1.0M416.9 424.4h1.0M424.0 427.6h1.0M435.2 425.1h1.0M424.8 422.6h1.0M425.8 425.6h1.0M414.1 429.9h1.0M423.9 427.2h1.0M417.9 423.8h1.0M423.5 423.0h1.0M417.9 429.9h1.0M418.9 424.8h1.0M413.5 427.6h1.0M422.9 426.4h1.0M422.4 424.4h1.0M414.4 426.5h1.0M419.4 427.2h1.0M438.0 427.1h1.0M412.5 429.7h1.0M415.7 427.2h1.0M421.8 428.4h1.0M433.0 425.2h1.0M419.7 428.2h1.0M420.8 429.5h1.0M418.5 428.7h1.0M423.9 429.1h1.0M413.1 428.7h1.0M425.7 425.8h1.0M417.2 427.6h1.0M415.0 429.6h1.0M421.2 429.0h1.0M414.7 428.4h1.0M419.8 425.7h1.0M416.8 426.8h1.0M421.8 422.3h1.0M420.3 433.2h1.0M421.2 430.0h1.0M421.6 426.7h1.0M422.4 429.3h1.0M425.4 430.8h1.0M412.2 431.6h1.0M420.9 423.1h1.0M420.6 430.5h1.0M422.7 431.0h1.0M419.8 423.1h1.0M419.1 431.2h1.0M419.5 426.2h1.0M410.8 426.4h1.0M419.9 433.5h1.0M422.3 430.0h1.0M416.8 424.2h1.0M423.1 428.6h1.0M423.6 421.5h1.0M428.1 428.3h1.0M429.7 427.4h1.0M413.2 430.2h1.0M408.7 429.4h1.0M418.7 422.4h1.0M417.8 430.0h1.0M421.8 426.9h1.0M426.0 429.9h1.0M423.6 429.9h1.0M416.9 424.7h1.0M416.4 426.0h1.0M417.0 424.8h1.0M421.3 425.8h1.0M428.8 430.0h1.0M423.8 426.4h1.0M413.7 427.7h1.0M421.4 430.3h1.0M416.8 423.9h1.0M417.6 431.1h1.0M432.9 421.9h1.0M416.8 426.2h1.0M417.8 426.2h1.0M423.5 420.9h1.0M424.8 421.4h1.0M420.8 429.1h1.0M421.4 427.7h1.0M415.6 422.4h1.0M411.7 428.8h1.0M429.0 428.7h1.0M420.1 423.0h1.0M413.9 424.8h1.0M420.9 429.2h1.0M419.8 425.6h1.0M429.8 420.1h1.0M421.3 428.5h1.0M421.6 426.3h1.0M413.6 431.2h1.0M415.2 427.7h1.0M419.1 425.2h1.0M418.0 427.5h1.0M426.2 430.3h1.0M409.6 423.8h1.0M425.2 429.2h1.0M426.6 426.0h1.0M415.7 422.8h1.0M410.7 429.8h1.0M420.2 425.1h1.0M420.1 424.6h1.0M413.5 428.2h1.0M427.5 427.7h1.0M416.4 429.0h1.0M419.5 427.9h1.0M406.5 432.8h1.0M428.2 423.2h1.0M419.0 424.7h1.0M415.5 425.7h1.0M425.2 428.2h1.0M418.1 426.4h1.0M425.7 428.2h1.0M423.6 427.1h1.0M416.2 424.3h1.0M427.8 430.2h1.0M420.6 428.1h1.0M412.9 427.2h1.0M419.2 428.9h1.0M412.1 425.5h1.0M425.7 426.7h1.0M407.8 426.0h1.0M428.9 426.9h1.0M410.4 431.1h1.0M419.0 428.4h1.0M417.8 427.4h1.0M423.5 422.7h1.0M422.1 427.7h1.0M416.6 431.7h1.0M427.6 427.8h1.0M418.8 431.0h1.0M421.8 427.3h1.0M415.1 426.2h1.0M432.7 427.3h1.0M418.4 425.6h1.0M415.7 428.2h1.0M428.1 427.5h1.0M420.5 429.7h1.0M412.4 428.4h1.0M418.9 430.5h1.0M416.6 426.4h1.0M420.7 422.5h1.0M415.3 430.7h1.0M421.9 428.1h1.0M423.0 429.1h1.0M409.2 422.7h1.0M416.9 425.7h1.0M428.4 428.0h1.0M411.6 426.9h1.0M423.3 425.6h1.0M410.0 428.5h1.0M431.8 430.0h1.0M426.8 431.0h1.0M416.0 430.8h1.0M425.8 424.2h1.0M422.7 429.4h1.0M422.3 425.8h1.0M428.5 430.2h1.0M418.8 425.6h1.0M418.7 430.0h1.0M417.4 421.4h1.0M424.3 423.8h1.0M422.1 427.4h1.0M417.7 427.9h1.0M417.9 428.0h1.0M412.6 428.8h1.0M420.2 429.9h1.0M427.6 422.4h1.0M414.5 430.7h1.0M406.8 427.8h1.0M415.6 427.9h1.0M410.8 426.9h1.0M413.7 427.0h1.0M417.8 425.2h1.0M416.2 425.4h1.0M417.0 430.8h1.0M424.9 426.8h1.0M428.5 426.7h1.0M418.7 421.8h1.0M414.8 430.8h1.0M421.4 430.7h1.0M418.8 432.1h1.0M427.2 425.0h1.0M422.0 428.9h1.0M411.5 423.8h1.0M423.3 427.9h1.0M413.1 427.5h1.0M416.3 428.3h1.0M411.5 423.9h1.0M420.4 421.7h1.0M421.8 427.3h1.0M423.3 428.2h1.0M424.2 424.8h1.0M427.1 426.9h1.0M418.6 423.6h1.0M418.7 428.9h1.0M425.4 428.1h1.0M424.6 423.7h1.0M415.0 427.5h1.0M420.3 427.5h1.0M418.0 423.6h1.0M420.3 426.7h1.0M419.8 428.7h1.0M421.6 424.5h1.0M413.8 426.1h1.0M428.0 424.5h1.0M427.6 426.5h1.0M416.7 428.7h1.0M418.9 420.9h1.0M419.0 429.4h1.0M427.0 423.8h1.0M422.1 425.8h1.0M417.2 430.7h1.0M418.8 428.4h1.0M411.3 420.7h1.0M417.9 429.8h1.0M418.5 426.1h1.0M420.1 423.3h1.0M418.9 422.9h1.0M419.3 427.0h1.0M420.9 427.0h1.0M414.8 432.1h1.0M410.5 429.2h1.0M416.5 427.9h1.0M420.2 424.5h1.0M410.1 429.7h1.0M422.5 429.5h1.0M421.7 429.2h1.0M412.2 429.7h1.0M416.9 431.6h1.0M418.4 429.3h1.0M425.2 430.6h1.0M421.9 429.0h1.0M415.6 425.8h1.0M423.3 429.9h1.0M412.2 431.8h1.0M415.0 424.9h1.0M414.8 427.3h1.0M412.2 427.8h1.0M426.0 425.1h1.0M417.4 425.8h1.0M414.4 432.2h1.0M415.5 432.3h1.0M422.2 424.5h1.0M419.9 426.1h1.0M418.0 428.6h1.0M423.0 429.9h1.0M409.3 425.7h1.0M414.9 422.2h1.0M417.6 431.3h1.0M422.2 430.1h1.0M413.7 424.4h1.0M423.8 423.0h1.0M429.4 422.8h1.0M424.0 427.8h1.0M415.2 423.8h1.0M425.8 427.8h1.0M413.3 426.4h1.0M428.1 423.3h1.0M414.2 431.1h1.0M421.0 428.4h1.0M417.2 423.2h1.0M422.7 423.9h1.0M414.9 427.6h1.0M426.0 425.1h1.0M426.8 423.9h1.0M421.6 428.2h1.0M415.3 430.5h1.0M415.7 428.8h1.0M419.8 420.5h1.0M419.9 428.5h1.0M420.9 424.5h1.0M417.0 426.8h1.0M426.5 429.5h1.0M417.5 424.7h1.0M421.6 425.3h1.0M419.7 421.4h1.0M417.5 427.6h1.0M423.5 428.5h1.0M428.7 425.7h1.0M419.4 432.2h1.0M428.6 422.8h1.0M423.5 423.6h1.0M428.3 427.1h1.0M413.4 424.9h1.0M411.6 428.1h1.0M408.4 430.6h1.0M419.7 430.0h1.0M419.7 431.4h1.0M419.3 423.0h1.0M416.5 428.1h1.0M413.1 428.9h1.0M409.3 428.3h1.0M415.9 433.0h1.0M425.2 422.1h1.0M420.0 427.4h1.0M409.3 425.2h1.0M417.1 420.9h1.0M429.2 424.8h1.0M427.3 427.2h1.0M412.6 427.7h1.0M415.8 425.9h1.0M418.9 430.0h1.0M418.1 427.8h1.0M434.6 426.8h1.0M418.1 422.7h1.0M410.4 429.0h1.0M423.0 422.1h1.0M412.0 426.9h1.0M418.6 427.9h1.0M410.7 428.0h1.0M423.0 424.6h1.0M415.9 427.8h1.0M420.4 429.3h1.0M412.5 426.9h1.0M424.8 422.7h1.0M422.9 427.0h1.0M420.9 431.1h1.0M417.0 433.0h1.0M416.5 432.1h1.0M423.3 420.6h1.0M418.2 429.9h1.0M420.7 429.2h1.0M423.1 431.0h1.0M426.9 422.4h1.0M418.7 430.3h1.0M421.4 430.1h1.0M420.9 427.6h1.0M427.1 424.8h1.0M412.9 427.5h1.0M416.2 423.6h1.0M425.8 427.1h1.0M420.6 429.9h1.0M413.0 426.8h1.0M422.2 429.3h1.0M428.9 425.4h1.0M429.2 431.2h1.0M417.4 426.0h1.0M423.4 426.1h1.0M415.0 428.3h1.0M411.8 425.8h1.0M414.4 426.9h1.0M425.1 422.4h1.0M426.3 426.3h1.0M407.2 428.2h1.0M413.7 424.7h1.0M409.6 428.1h1.0M416.9 427.8h1.0M421.9 427.6h1.0M424.7 426.2h1.0M415.2 430.6h1.0M426.2 424.8h1.0M417.0 431.4h1.0M415.3 428.8h1.0M422.1 426.5h1.0M423.9 424.6h1.0M415.3 430.2h1.0M417.2 429.6h1.0M422.5 423.6h1.0M422.1 429.5h1.0M426.4 421.7h1.0M425.9 424.3h1.0M414.9 425.6h1.0M422.6 428.2h1.0M424.6 432.6h1.0M420.1 428.3h1.0M418.5 426.2h1.0M418.2 424.2h1.0M409.5 424.5h1.0M428.0 428.1h1.0M408.4 428.5h1.0M421.1 426.7h1.0M424.8 429.2h1.0M424.9 430.2h1.0M414.3 428.3h1.0M415.5 427.8h1.0M415.7 426.1h1.0M422.2 429.2h1.0M414.2 428.3h1.0M430.7 423.8h1.0M415.1 431.3h1.0M413.6 421.3h1.0M414.1 426.9h1.0M427.7 425.5h1.0M414.9 430.7h1.0M423.8 424.8h1.0M418.3 427.1h1.0M426.3 426.2h1.0M426.2 424.2h1.0M421.3 422.2h1.0M417.3 424.9h1.0M414.0 423.9h1.0M410.2 431.0h1.0M414.8 421.9h1.0M421.6 421.8h1.0" stroke="#161616" stroke-width="1.0" fill="none" opacity="1.0"/>
<text x="419.00" y="379.40" font-size="8.1" font-weight="bold" fill="#000" textLength="72.70" lengthAdjust="spacingAndGlyphs" stroke="#000" stroke-width="0.3" >IL-2+ anti-Fas</text>
<text x="410.20" y="388.90" font-size="5.9" font-weight="bold" fill="#000" textLength="8.80" lengthAdjust="spacingAndGlyphs" stroke="#000" stroke-width="0.3" >NL</text>
<text x="410.20" y="394.80" font-size="5.9" font-weight="bold" fill="#000" textLength="24.90" lengthAdjust="spacingAndGlyphs" stroke="#000" stroke-width="0.3" >PBMC</text>
<text x="464.80" y="389.20" font-size="6.9" font-weight="bold" fill="#000" textLength="35.00" lengthAdjust="spacingAndGlyphs" stroke="#000" stroke-width="0.3" >17.2±1.6</text>
<text x="401.70" y="442.10" font-size="8.0" font-weight="bold" textLength="12.4" lengthAdjust="spacingAndGlyphs" stroke="#000" stroke-width="0.3">10<tspan dy="-2.6" font-size="5.76">0</tspan></text>
<text x="426.60" y="442.10" font-size="8.0" font-weight="bold" textLength="12.4" lengthAdjust="spacingAndGlyphs" stroke="#000" stroke-width="0.3">10<tspan dy="-2.6" font-size="5.76">1</tspan></text>
<text x="451.50" y="442.10" font-size="8.0" font-weight="bold" textLength="12.4" lengthAdjust="spacingAndGlyphs" stroke="#000" stroke-width="0.3">10<tspan dy="-2.6" font-size="5.76">2</tspan></text>
<text x="476.40" y="442.10" font-size="8.0" font-weight="bold" textLength="12.4" lengthAdjust="spacingAndGlyphs" stroke="#000" stroke-width="0.3">10<tspan dy="-2.6" font-size="5.76">3</tspan></text>
<text x="501.30" y="442.10" font-size="8.0" font-weight="bold" textLength="12.4" lengthAdjust="spacingAndGlyphs" stroke="#000" stroke-width="0.3">10<tspan dy="-2.6" font-size="5.76">4</tspan></text>
<text x="421.70" y="448.80" font-size="7.2" font-weight="bold" fill="#000" textLength="66.00" lengthAdjust="spacingAndGlyphs" stroke="#000" stroke-width="0.3" >Annexin-V-FITC</text>
<text transform="translate(401.30,440.40) rotate(-90)" x="0" y="0" font-size="7.8" font-weight="bold" textLength="11.4" lengthAdjust="spacingAndGlyphs" stroke="#000" stroke-width="0.3">10<tspan dy="-2.4" font-size="5.62">0</tspan></text>
<text transform="translate(401.30,426.92) rotate(-90)" x="0" y="0" font-size="7.8" font-weight="bold" textLength="11.4" lengthAdjust="spacingAndGlyphs" stroke="#000" stroke-width="0.3">10<tspan dy="-2.4" font-size="5.62">1</tspan></text>
<text transform="translate(401.30,413.45) rotate(-90)" x="0" y="0" font-size="7.8" font-weight="bold" textLength="11.4" lengthAdjust="spacingAndGlyphs" stroke="#000" stroke-width="0.3">10<tspan dy="-2.4" font-size="5.62">2</tspan></text>
<text transform="translate(401.30,399.97) rotate(-90)" x="0" y="0" font-size="7.8" font-weight="bold" textLength="11.4" lengthAdjust="spacingAndGlyphs" stroke="#000" stroke-width="0.3">10<tspan dy="-2.4" font-size="5.62">3</tspan></text>
<text transform="translate(401.30,386.50) rotate(-90)" x="0" y="0" font-size="7.8" font-weight="bold" textLength="11.4" lengthAdjust="spacingAndGlyphs" stroke="#000" stroke-width="0.3">10<tspan dy="-2.4" font-size="5.62">4</tspan></text>
<text transform="translate(386.30,422.75) rotate(-90)" x="0" y="0" font-size="6.6" font-weight="bold" fill="#000" textLength="32.80" lengthAdjust="spacingAndGlyphs" stroke="#000" stroke-width="0.3">7-AAD-FL3</text>
</g>
<g id="panelBframes" filter="url(#soft2)">
<rect x="124.50" y="301.50" width="102.00" height="52.00" fill="none" stroke="#000" stroke-width="1.05"/>
<line x1="165.50" y1="301.50" x2="165.50" y2="353.50" stroke="#000" stroke-width="0.85"/>
<line x1="124.50" y1="338.50" x2="226.50" y2="338.50" stroke="#000" stroke-width="0.85"/>
<line x1="124.50" y1="353.50" x2="124.50" y2="355.10" stroke="#000" stroke-width="0.8"/>
<line x1="122.90" y1="353.50" x2="124.50" y2="353.50" stroke="#000" stroke-width="0.8"/>
<line x1="150.06" y1="353.50" x2="150.06" y2="355.10" stroke="#000" stroke-width="0.8"/>
<line x1="122.90" y1="340.50" x2="124.50" y2="340.50" stroke="#000" stroke-width="0.8"/>
<line x1="175.62" y1="353.50" x2="175.62" y2="355.10" stroke="#000" stroke-width="0.8"/>
<line x1="122.90" y1="327.50" x2="124.50" y2="327.50" stroke="#000" stroke-width="0.8"/>
<line x1="201.19" y1="353.50" x2="201.19" y2="355.10" stroke="#000" stroke-width="0.8"/>
<line x1="122.90" y1="314.50" x2="124.50" y2="314.50" stroke="#000" stroke-width="0.8"/>
<line x1="226.75" y1="353.50" x2="226.75" y2="355.10" stroke="#000" stroke-width="0.8"/>
<line x1="122.90" y1="301.50" x2="124.50" y2="301.50" stroke="#000" stroke-width="0.8"/>
<rect x="261.50" y="301.50" width="102.00" height="52.00" fill="none" stroke="#000" stroke-width="1.05"/>
<line x1="302.50" y1="301.50" x2="302.50" y2="353.50" stroke="#000" stroke-width="0.85"/>
<line x1="261.50" y1="337.50" x2="363.50" y2="337.50" stroke="#000" stroke-width="0.85"/>
<line x1="261.50" y1="353.50" x2="261.50" y2="355.10" stroke="#000" stroke-width="0.8"/>
<line x1="259.90" y1="353.50" x2="261.50" y2="353.50" stroke="#000" stroke-width="0.8"/>
<line x1="287.00" y1="353.50" x2="287.00" y2="355.10" stroke="#000" stroke-width="0.8"/>
<line x1="259.90" y1="340.50" x2="261.50" y2="340.50" stroke="#000" stroke-width="0.8"/>
<line x1="312.50" y1="353.50" x2="312.50" y2="355.10" stroke="#000" stroke-width="0.8"/>
<line x1="259.90" y1="327.50" x2="261.50" y2="327.50" stroke="#000" stroke-width="0.8"/>
<line x1="338.00" y1="353.50" x2="338.00" y2="355.10" stroke="#000" stroke-width="0.8"/>
<line x1="259.90" y1="314.50" x2="261.50" y2="314.50" stroke="#000" stroke-width="0.8"/>
<line x1="363.50" y1="353.50" x2="363.50" y2="355.10" stroke="#000" stroke-width="0.8"/>
<line x1="259.90" y1="301.50" x2="261.50" y2="301.50" stroke="#000" stroke-width="0.8"/>
<rect x="404.50" y="301.50" width="100.00" height="51.00" fill="none" stroke="#000" stroke-width="1.05"/>
<line x1="444.50" y1="301.50" x2="444.50" y2="352.50" stroke="#000" stroke-width="0.85"/>
<line x1="404.50" y1="337.50" x2="504.50" y2="337.50" stroke="#000" stroke-width="0.85"/>
<line x1="404.50" y1="352.50" x2="404.50" y2="354.10" stroke="#000" stroke-width="0.8"/>
<line x1="402.90" y1="352.50" x2="404.50" y2="352.50" stroke="#000" stroke-width="0.8"/>
<line x1="429.43" y1="352.50" x2="429.43" y2="354.10" stroke="#000" stroke-width="0.8"/>
<line x1="402.90" y1="339.75" x2="404.50" y2="339.75" stroke="#000" stroke-width="0.8"/>
<line x1="454.35" y1="352.50" x2="454.35" y2="354.10" stroke="#000" stroke-width="0.8"/>
<line x1="402.90" y1="327.00" x2="404.50" y2="327.00" stroke="#000" stroke-width="0.8"/>
<line x1="479.27" y1="352.50" x2="479.27" y2="354.10" stroke="#000" stroke-width="0.8"/>
<line x1="402.90" y1="314.25" x2="404.50" y2="314.25" stroke="#000" stroke-width="0.8"/>
<line x1="504.20" y1="352.50" x2="504.20" y2="354.10" stroke="#000" stroke-width="0.8"/>
<line x1="402.90" y1="301.50" x2="404.50" y2="301.50" stroke="#000" stroke-width="0.8"/>
<rect x="124.50" y="382.50" width="102.00" height="53.00" fill="none" stroke="#000" stroke-width="1.05"/>
<line x1="165.50" y1="382.50" x2="165.50" y2="435.50" stroke="#000" stroke-width="0.85"/>
<line x1="124.50" y1="418.50" x2="226.50" y2="418.50" stroke="#000" stroke-width="0.85"/>
<line x1="124.50" y1="435.50" x2="124.50" y2="437.10" stroke="#000" stroke-width="0.8"/>
<line x1="122.90" y1="435.50" x2="124.50" y2="435.50" stroke="#000" stroke-width="0.8"/>
<line x1="149.94" y1="435.50" x2="149.94" y2="437.10" stroke="#000" stroke-width="0.8"/>
<line x1="122.90" y1="422.25" x2="124.50" y2="422.25" stroke="#000" stroke-width="0.8"/>
<line x1="175.38" y1="435.50" x2="175.38" y2="437.10" stroke="#000" stroke-width="0.8"/>
<line x1="122.90" y1="409.00" x2="124.50" y2="409.00" stroke="#000" stroke-width="0.8"/>
<line x1="200.81" y1="435.50" x2="200.81" y2="437.10" stroke="#000" stroke-width="0.8"/>
<line x1="122.90" y1="395.75" x2="124.50" y2="395.75" stroke="#000" stroke-width="0.8"/>
<line x1="226.25" y1="435.50" x2="226.25" y2="437.10" stroke="#000" stroke-width="0.8"/>
<line x1="122.90" y1="382.50" x2="124.50" y2="382.50" stroke="#000" stroke-width="0.8"/>
<rect x="260.50" y="382.50" width="100.00" height="52.00" fill="none" stroke="#000" stroke-width="1.05"/>
<line x1="300.50" y1="382.50" x2="300.50" y2="434.50" stroke="#000" stroke-width="0.85"/>
<line x1="260.50" y1="419.50" x2="360.50" y2="419.50" stroke="#000" stroke-width="0.85"/>
<line x1="260.50" y1="434.50" x2="260.50" y2="436.10" stroke="#000" stroke-width="0.8"/>
<line x1="258.90" y1="434.50" x2="260.50" y2="434.50" stroke="#000" stroke-width="0.8"/>
<line x1="285.50" y1="434.50" x2="285.50" y2="436.10" stroke="#000" stroke-width="0.8"/>
<line x1="258.90" y1="421.50" x2="260.50" y2="421.50" stroke="#000" stroke-width="0.8"/>
<line x1="310.50" y1="434.50" x2="310.50" y2="436.10" stroke="#000" stroke-width="0.8"/>
<line x1="258.90" y1="408.50" x2="260.50" y2="408.50" stroke="#000" stroke-width="0.8"/>
<line x1="335.50" y1="434.50" x2="335.50" y2="436.10" stroke="#000" stroke-width="0.8"/>
<line x1="258.90" y1="395.50" x2="260.50" y2="395.50" stroke="#000" stroke-width="0.8"/>
<line x1="360.50" y1="434.50" x2="360.50" y2="436.10" stroke="#000" stroke-width="0.8"/>
<line x1="258.90" y1="382.50" x2="260.50" y2="382.50" stroke="#000" stroke-width="0.8"/>
<rect x="405.50" y="382.50" width="100.00" height="52.00" fill="none" stroke="#000" stroke-width="1.05"/>
<line x1="446.50" y1="382.50" x2="446.50" y2="434.50" stroke="#000" stroke-width="0.85"/>
<line x1="405.50" y1="418.50" x2="505.50" y2="418.50" stroke="#000" stroke-width="0.85"/>
<line x1="405.50" y1="434.50" x2="405.50" y2="436.10" stroke="#000" stroke-width="0.8"/>
<line x1="403.90" y1="434.50" x2="405.50" y2="434.50" stroke="#000" stroke-width="0.8"/>
<line x1="430.40" y1="434.50" x2="430.40" y2="436.10" stroke="#000" stroke-width="0.8"/>
<line x1="403.90" y1="421.50" x2="405.50" y2="421.50" stroke="#000" stroke-width="0.8"/>
<line x1="455.30" y1="434.50" x2="455.30" y2="436.10" stroke="#000" stroke-width="0.8"/>
<line x1="403.90" y1="408.50" x2="405.50" y2="408.50" stroke="#000" stroke-width="0.8"/>
<line x1="480.20" y1="434.50" x2="480.20" y2="436.10" stroke="#000" stroke-width="0.8"/>
<line x1="403.90" y1="395.50" x2="405.50" y2="395.50" stroke="#000" stroke-width="0.8"/>
<line x1="505.10" y1="434.50" x2="505.10" y2="436.10" stroke="#000" stroke-width="0.8"/>
<line x1="403.90" y1="382.50" x2="405.50" y2="382.50" stroke="#000" stroke-width="0.8"/>
</g>
<g id="panelC">
<text x="1.2" y="490.2" font-size="25.5" font-weight="bold">C</text>
<line x1="59.62" y1="648.25" x2="59.62" y2="652.50" stroke="#000" stroke-width="1.4" />
<line x1="56.62" y1="648.55" x2="62.62" y2="648.55" stroke="#000" stroke-width="1.7" />
<rect x="56.00" y="653.00" width="7.25" height="22.50" fill="url(#dk)" stroke="#000" stroke-width="1.25"/>
<line x1="68.88" y1="639.50" x2="68.88" y2="642.50" stroke="#000" stroke-width="1.4" />
<line x1="65.88" y1="639.80" x2="71.88" y2="639.80" stroke="#000" stroke-width="1.7" />
<rect x="65.00" y="643.00" width="7.75" height="32.50" fill="#fff" stroke="#000" stroke-width="1.25"/>
<line x1="78.12" y1="523.75" x2="78.12" y2="527.50" stroke="#000" stroke-width="1.4" />
<line x1="75.12" y1="524.05" x2="81.12" y2="524.05" stroke="#000" stroke-width="1.7" />
<rect x="74.25" y="528.00" width="7.75" height="147.50" fill="#b6b6b6" stroke="#000" stroke-width="1.25"/>
<line x1="95.62" y1="658.00" x2="95.62" y2="658.75" stroke="#000" stroke-width="1.4" />
<line x1="92.62" y1="658.30" x2="98.62" y2="658.30" stroke="#000" stroke-width="1.7" />
<rect x="91.75" y="659.25" width="7.75" height="16.25" fill="url(#dk)" stroke="#000" stroke-width="1.25"/>
<line x1="104.88" y1="659.20" x2="104.88" y2="660.00" stroke="#000" stroke-width="1.4" />
<line x1="101.88" y1="659.50" x2="107.88" y2="659.50" stroke="#000" stroke-width="1.7" />
<rect x="101.00" y="660.50" width="7.75" height="15.00" fill="#fff" stroke="#000" stroke-width="1.25"/>
<line x1="113.88" y1="583.75" x2="113.88" y2="586.25" stroke="#000" stroke-width="1.4" />
<line x1="110.88" y1="584.05" x2="116.88" y2="584.05" stroke="#000" stroke-width="1.7" />
<rect x="110.00" y="586.75" width="7.75" height="88.75" fill="#b6b6b6" stroke="#000" stroke-width="1.25"/>
<line x1="131.38" y1="647.00" x2="131.38" y2="650.50" stroke="#000" stroke-width="1.4" />
<line x1="128.38" y1="647.30" x2="134.38" y2="647.30" stroke="#000" stroke-width="1.7" />
<rect x="127.50" y="651.00" width="7.75" height="24.50" fill="url(#dk)" stroke="#000" stroke-width="1.25"/>
<line x1="140.38" y1="663.75" x2="140.38" y2="667.50" stroke="#000" stroke-width="1.4" />
<line x1="137.38" y1="664.05" x2="143.38" y2="664.05" stroke="#000" stroke-width="1.7" />
<rect x="136.75" y="668.00" width="7.25" height="7.50" fill="#fff" stroke="#000" stroke-width="1.25"/>
<line x1="148.88" y1="618.25" x2="148.88" y2="624.50" stroke="#000" stroke-width="1.4" />
<line x1="145.88" y1="618.55" x2="151.88" y2="618.55" stroke="#000" stroke-width="1.7" />
<rect x="145.00" y="625.00" width="7.75" height="50.50" fill="#b6b6b6" stroke="#000" stroke-width="1.25"/>
<line x1="166.88" y1="668.75" x2="166.88" y2="673.00" stroke="#000" stroke-width="1.4" />
<line x1="163.88" y1="669.05" x2="169.88" y2="669.05" stroke="#000" stroke-width="1.7" />
<rect x="163.00" y="673.50" width="7.75" height="2.00" fill="url(#dk)" stroke="#000" stroke-width="1.25"/>
<line x1="175.75" y1="644.50" x2="175.75" y2="646.25" stroke="#000" stroke-width="1.4" />
<line x1="172.75" y1="644.80" x2="178.75" y2="644.80" stroke="#000" stroke-width="1.7" />
<rect x="171.75" y="646.75" width="8.00" height="28.75" fill="#fff" stroke="#000" stroke-width="1.25"/>
<line x1="184.88" y1="537.60" x2="184.88" y2="541.60" stroke="#000" stroke-width="1.4" />
<line x1="181.88" y1="537.90" x2="187.88" y2="537.90" stroke="#000" stroke-width="1.7" />
<rect x="181.00" y="542.10" width="7.75" height="133.40" fill="#b6b6b6" stroke="#000" stroke-width="1.25"/>
<line x1="202.38" y1="669.00" x2="202.38" y2="670.00" stroke="#000" stroke-width="1.4" />
<line x1="199.38" y1="669.30" x2="205.38" y2="669.30" stroke="#000" stroke-width="1.7" />
<rect x="198.50" y="670.50" width="7.75" height="5.00" fill="url(#dk)" stroke="#000" stroke-width="1.25"/>
<line x1="211.12" y1="670.00" x2="211.12" y2="671.75" stroke="#000" stroke-width="1.4" />
<line x1="208.12" y1="670.30" x2="214.12" y2="670.30" stroke="#000" stroke-width="1.7" />
<rect x="207.25" y="672.25" width="7.75" height="3.25" fill="#fff" stroke="#000" stroke-width="1.25"/>
<line x1="220.12" y1="625.75" x2="220.12" y2="627.50" stroke="#000" stroke-width="1.4" />
<line x1="217.12" y1="626.05" x2="223.12" y2="626.05" stroke="#000" stroke-width="1.7" />
<rect x="216.25" y="628.00" width="7.75" height="47.50" fill="#b6b6b6" stroke="#000" stroke-width="1.25"/>
<line x1="237.62" y1="658.75" x2="237.62" y2="661.25" stroke="#000" stroke-width="1.4" />
<line x1="234.62" y1="659.05" x2="240.62" y2="659.05" stroke="#000" stroke-width="1.7" />
<rect x="233.75" y="661.75" width="7.75" height="13.75" fill="url(#dk)" stroke="#000" stroke-width="1.25"/>
<line x1="246.62" y1="652.50" x2="246.62" y2="655.00" stroke="#000" stroke-width="1.4" />
<line x1="243.62" y1="652.80" x2="249.62" y2="652.80" stroke="#000" stroke-width="1.7" />
<rect x="242.50" y="655.50" width="8.25" height="20.00" fill="#fff" stroke="#000" stroke-width="1.25"/>
<line x1="255.62" y1="629.25" x2="255.62" y2="631.25" stroke="#000" stroke-width="1.4" />
<line x1="252.62" y1="629.55" x2="258.62" y2="629.55" stroke="#000" stroke-width="1.7" />
<rect x="251.75" y="631.75" width="7.75" height="43.75" fill="#b6b6b6" stroke="#000" stroke-width="1.25"/>
<line x1="273.38" y1="640.50" x2="273.38" y2="645.00" stroke="#000" stroke-width="1.4" />
<line x1="270.38" y1="640.80" x2="276.38" y2="640.80" stroke="#000" stroke-width="1.7" />
<rect x="269.25" y="645.50" width="8.25" height="30.00" fill="url(#dk)" stroke="#000" stroke-width="1.25"/>
<line x1="282.25" y1="663.25" x2="282.25" y2="666.75" stroke="#000" stroke-width="1.4" />
<line x1="279.25" y1="663.55" x2="285.25" y2="663.55" stroke="#000" stroke-width="1.7" />
<rect x="278.50" y="667.25" width="7.50" height="8.25" fill="#fff" stroke="#000" stroke-width="1.25"/>
<line x1="290.88" y1="669.25" x2="290.88" y2="673.00" stroke="#000" stroke-width="1.4" />
<line x1="287.88" y1="669.55" x2="293.88" y2="669.55" stroke="#000" stroke-width="1.7" />
<rect x="286.75" y="673.50" width="8.25" height="2.00" fill="#b6b6b6" stroke="#000" stroke-width="1.25"/>
<line x1="308.75" y1="629.25" x2="308.75" y2="639.25" stroke="#000" stroke-width="1.4" />
<line x1="305.75" y1="629.55" x2="311.75" y2="629.55" stroke="#000" stroke-width="1.7" />
<rect x="304.75" y="639.75" width="8.00" height="35.75" fill="url(#dk)" stroke="#000" stroke-width="1.25"/>
<line x1="317.62" y1="660.00" x2="317.62" y2="672.00" stroke="#000" stroke-width="1.4" />
<line x1="314.62" y1="660.30" x2="320.62" y2="660.30" stroke="#000" stroke-width="1.7" />
<rect x="313.75" y="672.50" width="7.75" height="3.00" fill="#fff" stroke="#000" stroke-width="1.25"/>
<line x1="326.62" y1="664.50" x2="326.62" y2="666.25" stroke="#000" stroke-width="1.4" />
<line x1="323.62" y1="664.80" x2="329.62" y2="664.80" stroke="#000" stroke-width="1.7" />
<rect x="322.50" y="666.75" width="8.25" height="8.75" fill="#b6b6b6" stroke="#000" stroke-width="1.25"/>
<line x1="344.38" y1="658.00" x2="344.38" y2="658.75" stroke="#000" stroke-width="1.4" />
<line x1="341.38" y1="658.30" x2="347.38" y2="658.30" stroke="#000" stroke-width="1.7" />
<rect x="340.50" y="659.25" width="7.75" height="16.25" fill="url(#dk)" stroke="#000" stroke-width="1.25"/>
<line x1="353.38" y1="665.50" x2="353.38" y2="666.25" stroke="#000" stroke-width="1.4" />
<line x1="350.38" y1="665.80" x2="356.38" y2="665.80" stroke="#000" stroke-width="1.7" />
<rect x="349.25" y="666.75" width="8.25" height="8.75" fill="#fff" stroke="#000" stroke-width="1.25"/>
<line x1="362.50" y1="662.50" x2="362.50" y2="663.25" stroke="#000" stroke-width="1.4" />
<line x1="359.50" y1="662.80" x2="365.50" y2="662.80" stroke="#000" stroke-width="1.7" />
<rect x="358.50" y="663.75" width="8.00" height="11.75" fill="#b6b6b6" stroke="#000" stroke-width="1.25"/>
<line x1="380.12" y1="662.50" x2="380.12" y2="663.25" stroke="#000" stroke-width="1.4" />
<line x1="377.12" y1="662.80" x2="383.12" y2="662.80" stroke="#000" stroke-width="1.7" />
<rect x="376.25" y="663.75" width="7.75" height="11.75" fill="url(#dk)" stroke="#000" stroke-width="1.25"/>
<line x1="388.88" y1="661.25" x2="388.88" y2="664.50" stroke="#000" stroke-width="1.4" />
<line x1="385.88" y1="661.55" x2="391.88" y2="661.55" stroke="#000" stroke-width="1.7" />
<rect x="385.00" y="665.00" width="7.75" height="10.50" fill="#fff" stroke="#000" stroke-width="1.25"/>
<line x1="397.88" y1="653.00" x2="397.88" y2="655.00" stroke="#000" stroke-width="1.4" />
<line x1="394.88" y1="653.30" x2="400.88" y2="653.30" stroke="#000" stroke-width="1.7" />
<rect x="393.75" y="655.50" width="8.25" height="20.00" fill="#b6b6b6" stroke="#000" stroke-width="1.25"/>
<line x1="415.88" y1="658.50" x2="415.88" y2="659.25" stroke="#000" stroke-width="1.4" />
<line x1="412.88" y1="658.80" x2="418.88" y2="658.80" stroke="#000" stroke-width="1.7" />
<rect x="411.75" y="659.75" width="8.25" height="15.75" fill="url(#dk)" stroke="#000" stroke-width="1.25"/>
<line x1="424.88" y1="662.00" x2="424.88" y2="663.75" stroke="#000" stroke-width="1.4" />
<line x1="421.88" y1="662.30" x2="427.88" y2="662.30" stroke="#000" stroke-width="1.7" />
<rect x="421.00" y="664.25" width="7.75" height="11.25" fill="#fff" stroke="#000" stroke-width="1.25"/>
<line x1="433.75" y1="660.75" x2="433.75" y2="662.50" stroke="#000" stroke-width="1.4" />
<line x1="430.75" y1="661.05" x2="436.75" y2="661.05" stroke="#000" stroke-width="1.7" />
<rect x="429.75" y="663.00" width="8.00" height="12.50" fill="#b6b6b6" stroke="#000" stroke-width="1.25"/>
<line x1="451.10" y1="560.40" x2="451.10" y2="563.70" stroke="#000" stroke-width="1.4" />
<line x1="448.10" y1="560.70" x2="454.10" y2="560.70" stroke="#000" stroke-width="1.7" />
<rect x="446.90" y="564.20" width="8.40" height="111.30" fill="url(#chk)" stroke="#000" stroke-width="1.25"/>
<line x1="469.20" y1="528.70" x2="469.20" y2="535.10" stroke="#000" stroke-width="1.4" />
<line x1="466.20" y1="529.00" x2="472.20" y2="529.00" stroke="#000" stroke-width="1.7" />
<rect x="464.80" y="535.60" width="8.80" height="139.90" fill="#000" stroke="#000" stroke-width="1.25"/>
<line x1="335.50" y1="521.00" x2="335.50" y2="675.50" stroke="#000" stroke-width="2.6" />
<line x1="442.60" y1="521.30" x2="442.60" y2="675.50" stroke="#000" stroke-width="2.6" />
<line x1="55.75" y1="511.80" x2="55.75" y2="676.70" stroke="#000" stroke-width="2.5" />
<line x1="54.50" y1="675.50" x2="492.30" y2="675.50" stroke="#000" stroke-width="2.5" />
<line x1="52.30" y1="675.50" x2="55.00" y2="675.50" stroke="#000" stroke-width="1.6" />
<text x="47.80" y="684.60" font-size="13.4" font-weight="bold" text-anchor="end">0</text>
<line x1="52.30" y1="657.38" x2="55.00" y2="657.38" stroke="#000" stroke-width="1.6" />
<text x="47.80" y="666.48" font-size="13.4" font-weight="bold" text-anchor="end">10</text>
<line x1="52.30" y1="639.25" x2="55.00" y2="639.25" stroke="#000" stroke-width="1.6" />
<text x="47.80" y="648.35" font-size="13.4" font-weight="bold" text-anchor="end">20</text>
<line x1="52.30" y1="621.12" x2="55.00" y2="621.12" stroke="#000" stroke-width="1.6" />
<text x="47.80" y="630.23" font-size="13.4" font-weight="bold" text-anchor="end">30</text>
<line x1="52.30" y1="603.00" x2="55.00" y2="603.00" stroke="#000" stroke-width="1.6" />
<text x="47.80" y="612.10" font-size="13.4" font-weight="bold" text-anchor="end">40</text>
<line x1="52.30" y1="584.88" x2="55.00" y2="584.88" stroke="#000" stroke-width="1.6" />
<text x="47.80" y="593.98" font-size="13.4" font-weight="bold" text-anchor="end">50</text>
<line x1="52.30" y1="566.75" x2="55.00" y2="566.75" stroke="#000" stroke-width="1.6" />
<text x="47.80" y="575.85" font-size="13.4" font-weight="bold" text-anchor="end">60</text>
<line x1="52.30" y1="548.62" x2="55.00" y2="548.62" stroke="#000" stroke-width="1.6" />
<text x="47.80" y="557.73" font-size="13.4" font-weight="bold" text-anchor="end">70</text>
<line x1="52.30" y1="530.50" x2="55.00" y2="530.50" stroke="#000" stroke-width="1.6" />
<text x="47.80" y="539.60" font-size="13.4" font-weight="bold" text-anchor="end">80</text>
<line x1="52.30" y1="512.38" x2="55.00" y2="512.38" stroke="#000" stroke-width="1.6" />
<text x="47.80" y="521.48" font-size="13.4" font-weight="bold" text-anchor="end">90</text>
<text transform="translate(26.00,625.20) rotate(-90)" x="0" y="0" font-size="17.4" font-weight="bold" fill="#000" textLength="102.90" lengthAdjust="spacingAndGlyphs">% Apoptosis</text>
<rect x="214.2" y="483" width="8" height="5.6" fill="url(#dk)" stroke="#000" stroke-width="1"/>
<rect x="214.2" y="494.2" width="8" height="5.6" fill="#fff" stroke="#000" stroke-width="1"/>
<rect x="214.2" y="507.4" width="8" height="5.6" fill="#b9b9b9" stroke="#000" stroke-width="1"/>
<text x="225.60" y="491.30" font-size="12.7" font-weight="bold" fill="#000" textLength="23.20" lengthAdjust="spacingAndGlyphs" >IL-2</text>
<text x="225.60" y="506.80" font-size="12.7" font-weight="bold" fill="#000" textLength="52.60" lengthAdjust="spacingAndGlyphs" >Anti-Fas</text>
<text x="225.60" y="523.00" font-size="12.7" font-weight="bold" fill="#000" textLength="81.60" lengthAdjust="spacingAndGlyphs" >IL-2+anti-Fas</text>
<text x="66.50" y="691.00" font-size="12.8" font-weight="bold" fill="#000" text-anchor="middle">1</text>
<text x="106.50" y="691.00" font-size="12.8" font-weight="bold" fill="#000" text-anchor="middle">2</text>
<text x="146.75" y="691.00" font-size="12.8" font-weight="bold" fill="#000" text-anchor="middle">3</text>
<text x="183.00" y="691.00" font-size="12.8" font-weight="bold" fill="#000" text-anchor="middle">4</text>
<text x="222.50" y="691.00" font-size="12.8" font-weight="bold" fill="#000" text-anchor="middle">5</text>
<text x="262.50" y="691.00" font-size="12.8" font-weight="bold" fill="#000" text-anchor="middle">6</text>
<text x="294.50" y="691.00" font-size="12.8" font-weight="bold" fill="#000" text-anchor="middle">7</text>
<text x="335.30" y="691.00" font-size="12.8" font-weight="bold" fill="#000" text-anchor="middle">8</text>
<text x="371.25" y="691.00" font-size="12.8" font-weight="bold" fill="#000" text-anchor="middle">1</text>
<text x="410.50" y="691.00" font-size="12.8" font-weight="bold" fill="#000" text-anchor="middle">2</text>
<text x="447.60" y="691.00" font-size="12.8" font-weight="bold" fill="#000" text-anchor="middle">3</text>
<text x="470.30" y="690.90" font-size="12.8" font-weight="bold" fill="#000" textLength="36.00" lengthAdjust="spacingAndGlyphs" >Ac H9</text>
<line x1="60.00" y1="696.30" x2="327.00" y2="696.30" stroke="#000" stroke-width="1.5" />
<line x1="342.00" y1="696.30" x2="461.00" y2="696.30" stroke="#000" stroke-width="1.5" />
<text x="173.80" y="716.80" font-size="16" font-weight="bold" fill="#000" textLength="30.60" lengthAdjust="spacingAndGlyphs" >LGL</text>
<text x="352.30" y="716.80" font-size="16" font-weight="bold" fill="#000" textLength="116.70" lengthAdjust="spacingAndGlyphs" >Healthy Control</text>
</g>
</svg></body></html>
